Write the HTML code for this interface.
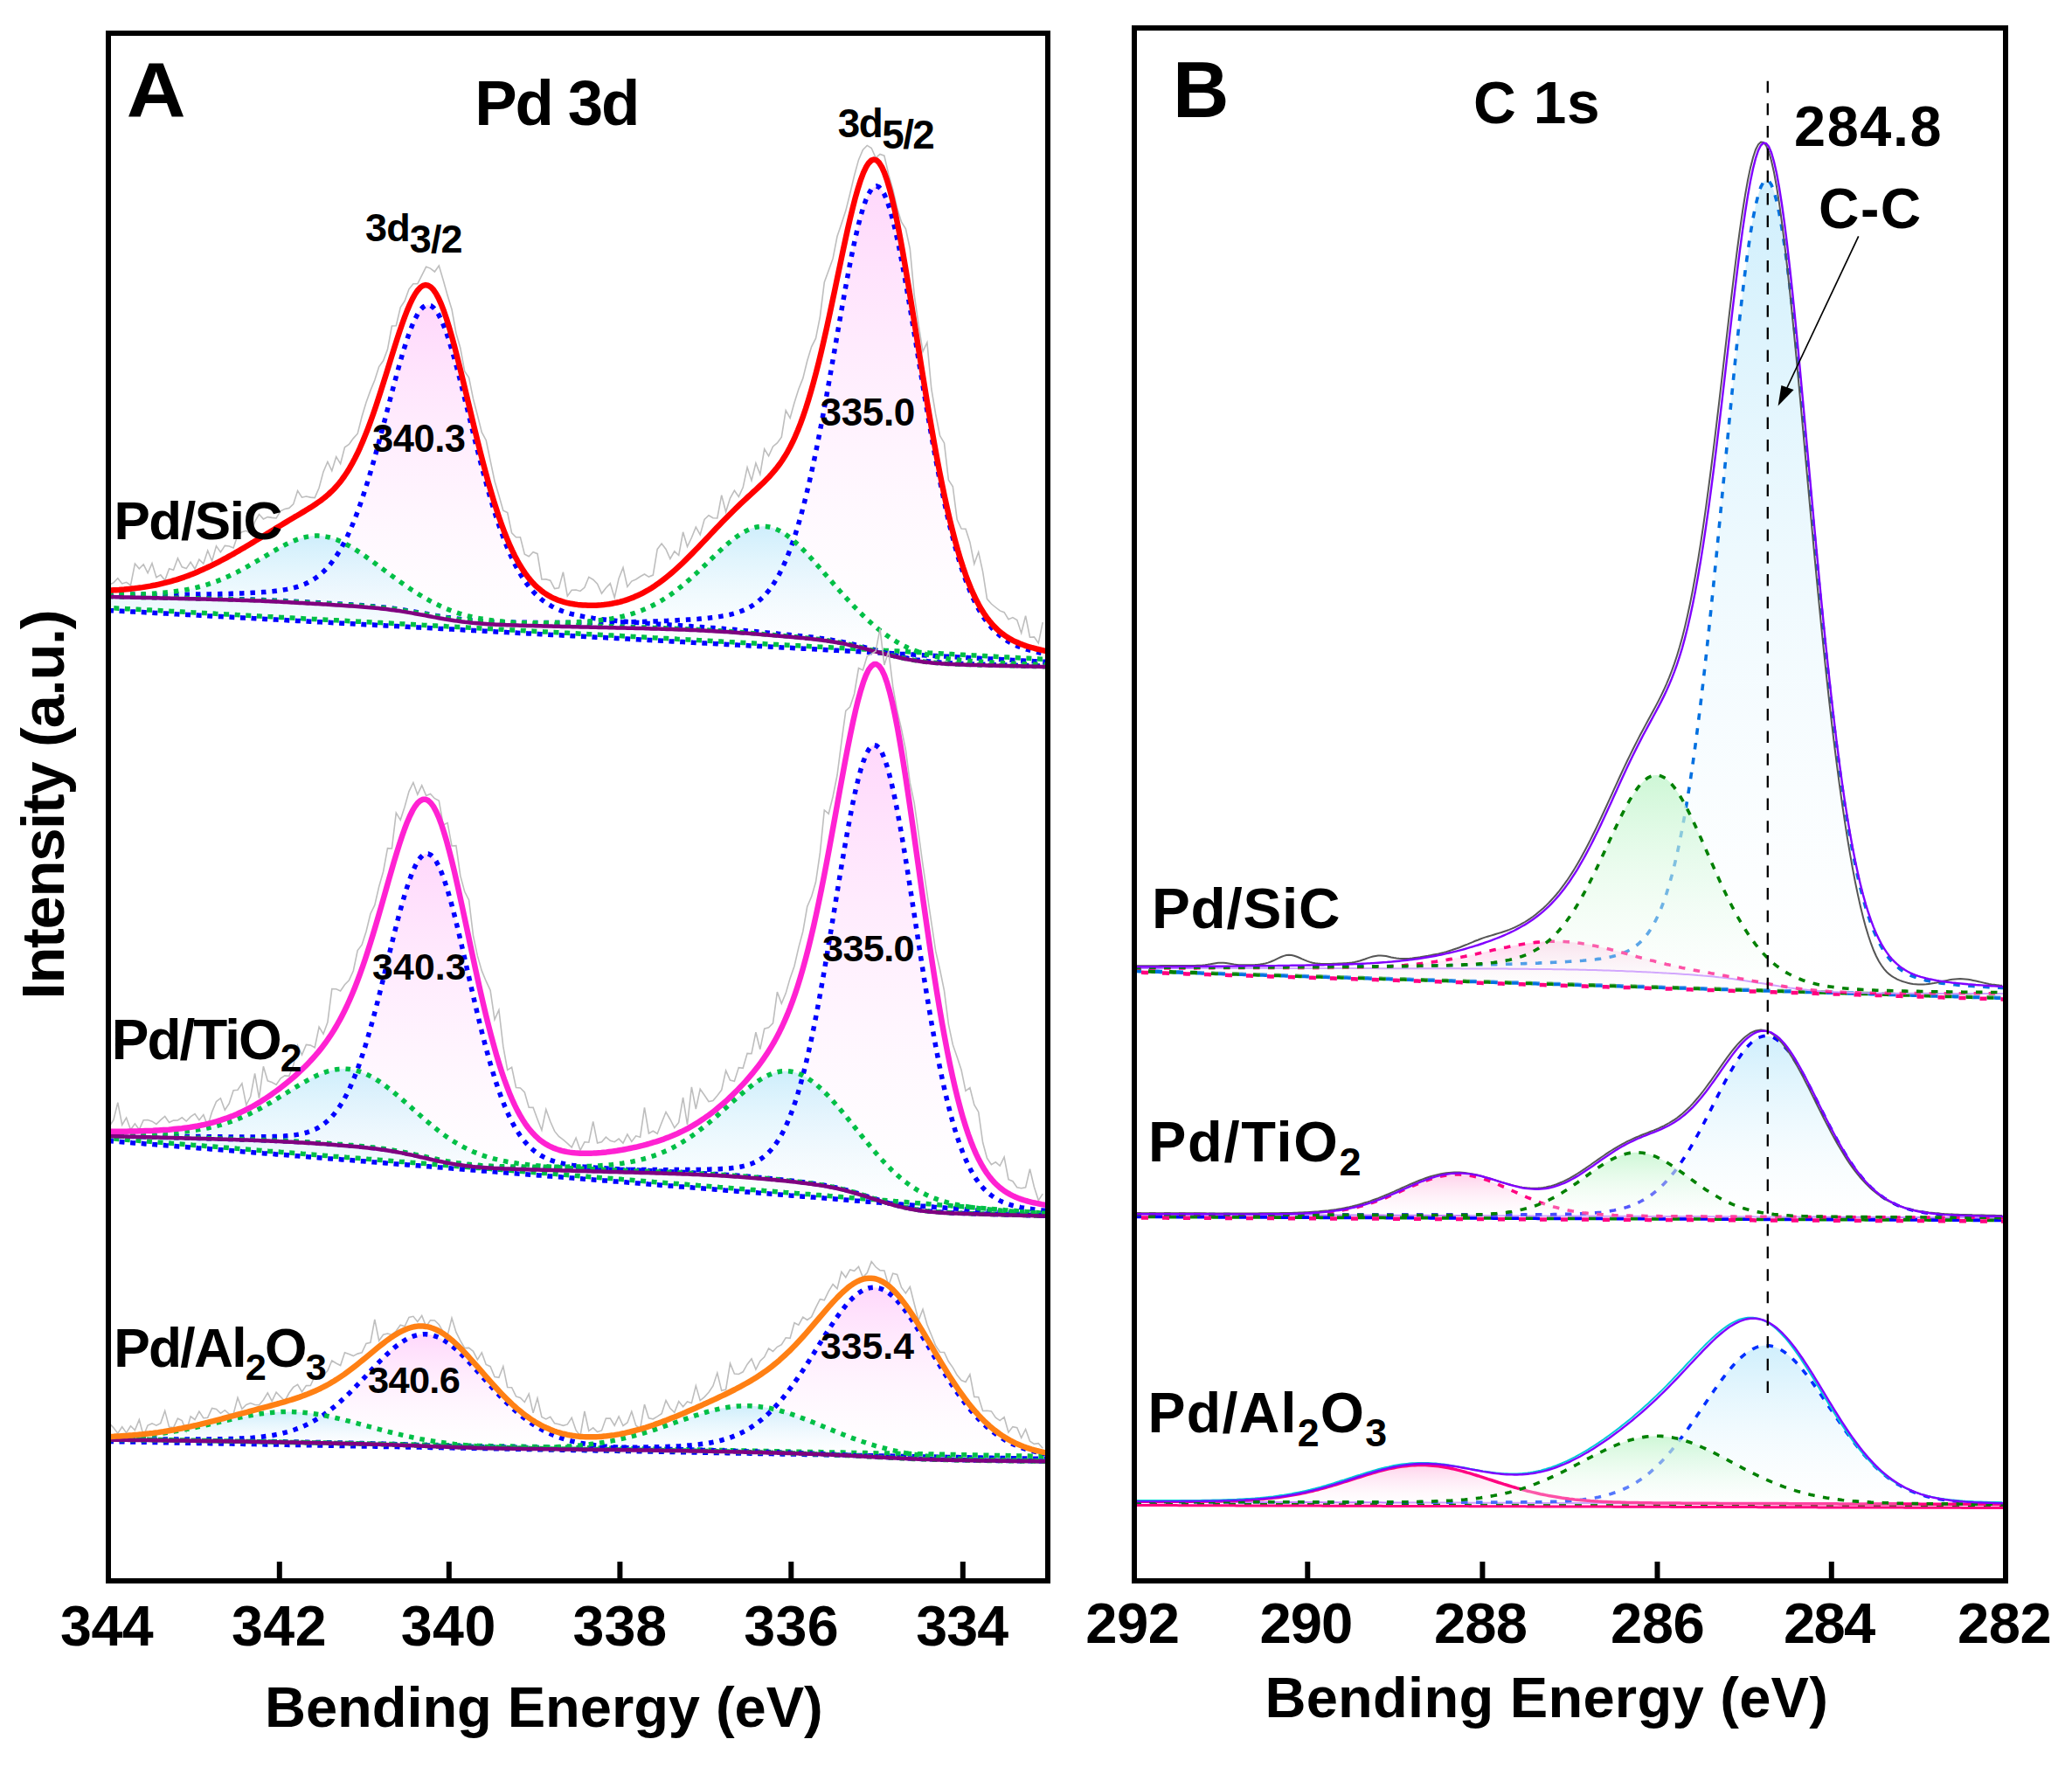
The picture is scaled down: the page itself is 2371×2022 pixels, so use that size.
<!DOCTYPE html><html><head><meta charset="utf-8"><style>html,body{margin:0;padding:0;background:#fff;}svg{display:block;}</style></head><body><svg width="2371" height="2022" viewBox="0 0 2371 2022" font-family="'Liberation Sans', Arial, Helvetica, sans-serif" font-weight="bold" fill="#000"><defs><linearGradient id="g1" gradientUnits="userSpaceOnUse" x1="0" y1="213.0" x2="0" y2="756.0"><stop offset="0" stop-color="#ffd6fb" stop-opacity="0.95"/><stop offset="1" stop-color="#ffffff" stop-opacity="0.30"/></linearGradient><linearGradient id="g2" gradientUnits="userSpaceOnUse" x1="0" y1="349.0" x2="0" y2="745.1"><stop offset="0" stop-color="#ffd6fb" stop-opacity="0.95"/><stop offset="1" stop-color="#ffffff" stop-opacity="0.30"/></linearGradient><linearGradient id="g3" gradientUnits="userSpaceOnUse" x1="0" y1="602.3" x2="0" y2="748.1"><stop offset="0" stop-color="#c6ebfb" stop-opacity="0.85"/><stop offset="1" stop-color="#ffffff" stop-opacity="0.30"/></linearGradient><linearGradient id="g4" gradientUnits="userSpaceOnUse" x1="0" y1="613.1" x2="0" y2="745.0"><stop offset="0" stop-color="#c6ebfb" stop-opacity="0.85"/><stop offset="1" stop-color="#ffffff" stop-opacity="0.30"/></linearGradient><linearGradient id="g5" gradientUnits="userSpaceOnUse" x1="0" y1="852.6" x2="0" y2="1390.0"><stop offset="0" stop-color="#ffd6fb" stop-opacity="0.95"/><stop offset="1" stop-color="#ffffff" stop-opacity="0.30"/></linearGradient><linearGradient id="g6" gradientUnits="userSpaceOnUse" x1="0" y1="977.0" x2="0" y2="1374.6"><stop offset="0" stop-color="#ffd6fb" stop-opacity="0.95"/><stop offset="1" stop-color="#ffffff" stop-opacity="0.30"/></linearGradient><linearGradient id="g7" gradientUnits="userSpaceOnUse" x1="0" y1="1225.7" x2="0" y2="1390.0"><stop offset="0" stop-color="#c6ebfb" stop-opacity="0.85"/><stop offset="1" stop-color="#ffffff" stop-opacity="0.30"/></linearGradient><linearGradient id="g8" gradientUnits="userSpaceOnUse" x1="0" y1="1223.1" x2="0" y2="1374.6"><stop offset="0" stop-color="#c6ebfb" stop-opacity="0.85"/><stop offset="1" stop-color="#ffffff" stop-opacity="0.30"/></linearGradient><linearGradient id="g9" gradientUnits="userSpaceOnUse" x1="0" y1="1473.2" x2="0" y2="1668.0"><stop offset="0" stop-color="#ffd6fb" stop-opacity="0.95"/><stop offset="1" stop-color="#ffffff" stop-opacity="0.30"/></linearGradient><linearGradient id="g10" gradientUnits="userSpaceOnUse" x1="0" y1="1526.8" x2="0" y2="1661.1"><stop offset="0" stop-color="#ffd6fb" stop-opacity="0.95"/><stop offset="1" stop-color="#ffffff" stop-opacity="0.30"/></linearGradient><linearGradient id="g11" gradientUnits="userSpaceOnUse" x1="0" y1="1608.8" x2="0" y2="1665.2"><stop offset="0" stop-color="#c6ebfb" stop-opacity="0.85"/><stop offset="1" stop-color="#ffffff" stop-opacity="0.30"/></linearGradient><linearGradient id="g12" gradientUnits="userSpaceOnUse" x1="0" y1="1615.5" x2="0" y2="1655.8"><stop offset="0" stop-color="#c6ebfb" stop-opacity="0.85"/><stop offset="1" stop-color="#ffffff" stop-opacity="0.30"/></linearGradient><linearGradient id="g13" gradientUnits="userSpaceOnUse" x1="0" y1="205.8" x2="0" y2="1141.0"><stop offset="0" stop-color="#cdeefc" stop-opacity="0.95"/><stop offset="1" stop-color="#ffffff" stop-opacity="0.30"/></linearGradient><linearGradient id="g14" gradientUnits="userSpaceOnUse" x1="0" y1="1077.2" x2="0" y2="1132.6"><stop offset="0" stop-color="#ffd0ea" stop-opacity="0.95"/><stop offset="1" stop-color="#ffffff" stop-opacity="0.30"/></linearGradient><linearGradient id="g15" gradientUnits="userSpaceOnUse" x1="0" y1="886.9" x2="0" y2="1141.0"><stop offset="0" stop-color="#c2f5cc" stop-opacity="0.80"/><stop offset="1" stop-color="#ffffff" stop-opacity="0.25"/></linearGradient><linearGradient id="g16" gradientUnits="userSpaceOnUse" x1="0" y1="1185.4" x2="0" y2="1395.0"><stop offset="0" stop-color="#cdeefc" stop-opacity="0.95"/><stop offset="1" stop-color="#ffffff" stop-opacity="0.30"/></linearGradient><linearGradient id="g17" gradientUnits="userSpaceOnUse" x1="0" y1="1344.0" x2="0" y2="1393.2"><stop offset="0" stop-color="#ffd0ea" stop-opacity="0.95"/><stop offset="1" stop-color="#ffffff" stop-opacity="0.30"/></linearGradient><linearGradient id="g18" gradientUnits="userSpaceOnUse" x1="0" y1="1318.8" x2="0" y2="1394.1"><stop offset="0" stop-color="#c2f5cc" stop-opacity="0.80"/><stop offset="1" stop-color="#ffffff" stop-opacity="0.25"/></linearGradient><linearGradient id="g19" gradientUnits="userSpaceOnUse" x1="0" y1="1539.7" x2="0" y2="1723.0"><stop offset="0" stop-color="#cdeefc" stop-opacity="0.95"/><stop offset="1" stop-color="#ffffff" stop-opacity="0.30"/></linearGradient><linearGradient id="g20" gradientUnits="userSpaceOnUse" x1="0" y1="1676.5" x2="0" y2="1721.7"><stop offset="0" stop-color="#ffd0ea" stop-opacity="0.95"/><stop offset="1" stop-color="#ffffff" stop-opacity="0.30"/></linearGradient><linearGradient id="g21" gradientUnits="userSpaceOnUse" x1="0" y1="1643.3" x2="0" y2="1722.6"><stop offset="0" stop-color="#c2f5cc" stop-opacity="0.80"/><stop offset="1" stop-color="#ffffff" stop-opacity="0.25"/></linearGradient><clipPath id="clipA"><rect x="127" y="41" width="1069" height="1765"/></clipPath><clipPath id="clipB"><rect x="1301" y="35" width="991" height="1771"/></clipPath></defs><rect width="2371" height="2022" fill="#fff"/><g clip-path="url(#clipA)">
<path d="M124,682.2 127,682.3 130,682.4 133,682.4 136,682.5 139,682.6 142,682.6 145,682.7 148,682.8 151,682.8 154,682.9 157,683 160,683 163,683.1 166,683.1 169,683.2 172,683.3 175,683.3 178,683.4 181,683.5 184,683.5 187,683.6 190,683.7 193,683.7 196,683.8 199,683.9 202,683.9 205,684 208,684 211,684.1 214,684.2 217,684.2 220,684.3 223,684.4 226,684.4 229,684.5 232,684.6 235,684.6 238,684.7 241,684.8 244,684.9 247,684.9 250,685 253,685.1 256,685.2 259,685.2 262,685.3 265,685.4 268,685.5 271,685.6 274,685.7 277,685.8 280,685.8 283,685.9 286,686 289,686.1 292,686.2 295,686.4 298,686.5 301,686.6 304,686.7 307,686.8 310,686.9 313,687.1 316,687.2 319,687.3 322,687.5 325,687.6 328,687.8 331,687.9 334,688.1 337,688.2 340,688.4 343,688.5 346,688.7 349,688.8 352,689 355,689.2 358,689.3 361,689.5 364,689.7 367,689.8 370,690 373,690.2 376,690.4 379,690.5 382,690.7 385,690.9 388,691 391,691.2 394,691.4 397,691.6 400,691.8 403,692 406,692.2 409,692.4 412,692.6 415,692.8 418,693 421,693.2 424,693.5 427,693.7 430,694 433,694.3 436,694.6 439,694.9 442,695.3 445,695.6 448,696 451,696.4 454,696.8 457,697.2 460,697.6 463,698.1 466,698.6 469,699.1 472,699.6 475,700.1 478,700.6 481,701.1 484,701.7 487,702.2 490,702.8 493,703.3 496,703.8 499,704.4 502,704.9 505,705.4 508,705.9 511,706.4 514,706.8 517,707.3 520,707.7 523,708.1 526,708.5 529,708.9 532,709.2 535,709.5 538,709.8 541,710.1 544,710.3 547,710.5 550,710.8 553,710.9 556,711.1 559,711.3 562,711.4 565,711.5 568,711.7 571,711.8 574,711.9 577,711.9 580,712 583,712.1 586,712.1 589,712.2 592,712.2 595,712.3 598,712.3 601,712.3 604,712.4 607,712.4 610,712.4 613,712.4 616,712.5 619,712.5 622,712.5 625,712.5 628,712.5 631,712.5 634,712.5 637,712.5 640,712.5 643,712.5 646,712.5 649,712.5 652,712.5 655,712.5 658,712.5 661,712.5 664,712.5 667,712.5 670,712.4 673,712.4 676,712.4 679,712.4 682,712.4 685,712.3 688,712.3 691,712.3 694,712.2 697,712.2 700,712.1 703,712.1 706,712 709,712 712,711.9 715,711.9 718,711.8 721,711.7 724,711.7 727,711.6 730,711.5 733,711.4 736,711.4 739,711.3 742,711.2 745,711.1 748,711 751,710.9 754,710.7 757,710.6 760,710.5 763,710.4 766,710.2 769,710.1 772,710 775,709.8 778,709.6 781,709.5 784,709.3 787,709.1 790,708.9 793,708.7 796,708.5 799,708.3 802,708 805,707.7 808,707.5 811,707.2 814,706.8 817,706.5 820,706.1 823,705.6 826,705.1 829,704.6 832,704 835,703.4 838,702.6 841,701.8 844,700.9 847,699.8 850,698.6 853,697.3 856,695.8 859,694.2 862,692.3 865,690.2 868,687.9 871,685.2 874,682.3 877,679 880,675.4 883,671.3 886,666.8 889,661.9 892,656.5 895,650.5 898,644 901,636.9 904,629.2 907,620.8 910,611.8 913,602.1 916,591.7 919,580.7 922,568.9 925,556.4 928,543.3 931,529.5 934,515 937,500 940,484.5 943,468.4 946,451.9 949,435.1 952,418 955,400.7 958,383.3 961,366.1 964,349 967,332.2 970,315.9 973,300.2 976,285.3 979,271.3 982,258.5 985,246.9 988,236.9 991,228.4 994,221.7 997,216.8 1000,213.9 1003,213 1006,214.2 1009,217.4 1012,222.5 1015,229.6 1018,238.5 1021,249.1 1024,261.1 1027,274.6 1030,289.2 1033,304.8 1036,321.3 1039,338.5 1042,356.1 1045,374.1 1048,392.4 1051,410.7 1054,428.9 1057,447 1060,464.9 1063,482.4 1066,499.4 1069,516 1072,532 1075,547.5 1078,562.2 1081,576.3 1084,589.8 1087,602.5 1090,614.4 1093,625.7 1096,636.3 1099,646.1 1102,655.3 1105,663.8 1108,671.6 1111,678.9 1114,685.6 1117,691.7 1120,697.3 1123,702.4 1126,707.1 1129,711.3 1132,715.1 1135,718.6 1138,721.8 1141,724.6 1144,727.2 1147,729.5 1150,731.6 1153,733.6 1156,735.3 1159,736.8 1162,738.3 1165,739.6 1168,740.7 1171,741.8 1174,742.8 1177,743.7 1180,744.5 1183,745.3 1186,746 1189,746.7 1192,747.3 1195,747.9 1198,748.5 1198,756 1195,755.8 1192,755.7 1189,755.5 1186,755.3 1183,755.2 1180,755 1177,754.8 1174,754.7 1171,754.5 1168,754.4 1165,754.2 1162,754 1159,753.9 1156,753.7 1153,753.5 1150,753.4 1147,753.2 1144,753 1141,752.9 1138,752.7 1135,752.5 1132,752.4 1129,752.2 1126,752 1123,751.9 1120,751.7 1117,751.6 1114,751.4 1111,751.2 1108,751.1 1105,750.9 1102,750.7 1099,750.6 1096,750.4 1093,750.2 1090,750.1 1087,749.9 1084,749.7 1081,749.6 1078,749.4 1075,749.2 1072,749.1 1069,748.9 1066,748.7 1063,748.6 1060,748.4 1057,748.3 1054,748.1 1051,747.9 1048,747.8 1045,747.6 1042,747.4 1039,747.3 1036,747.1 1033,746.9 1030,746.8 1027,746.6 1024,746.4 1021,746.3 1018,746.1 1015,745.9 1012,745.8 1009,745.6 1006,745.5 1003,745.3 1000,745.1 997,745 994,744.8 991,744.6 988,744.5 985,744.3 982,744.1 979,744 976,743.8 973,743.6 970,743.5 967,743.3 964,743.1 961,743 958,742.8 955,742.7 952,742.5 949,742.3 946,742.2 943,742 940,741.8 937,741.7 934,741.5 931,741.3 928,741.2 925,741 922,740.8 919,740.7 916,740.5 913,740.3 910,740.2 907,740 904,739.8 901,739.7 898,739.5 895,739.4 892,739.2 889,739 886,738.9 883,738.7 880,738.5 877,738.4 874,738.2 871,738 868,737.9 865,737.7 862,737.5 859,737.4 856,737.2 853,737 850,736.9 847,736.7 844,736.6 841,736.4 838,736.2 835,736.1 832,735.9 829,735.7 826,735.6 823,735.4 820,735.2 817,735.1 814,734.9 811,734.7 808,734.6 805,734.4 802,734.2 799,734.1 796,733.9 793,733.8 790,733.6 787,733.4 784,733.3 781,733.1 778,732.9 775,732.8 772,732.6 769,732.4 766,732.3 763,732.1 760,731.9 757,731.8 754,731.6 751,731.4 748,731.3 745,731.1 742,730.9 739,730.8 736,730.6 733,730.5 730,730.3 727,730.1 724,730 721,729.8 718,729.6 715,729.5 712,729.3 709,729.1 706,729 703,728.8 700,728.6 697,728.5 694,728.3 691,728.1 688,728 685,727.8 682,727.7 679,727.5 676,727.3 673,727.2 670,727 667,726.8 664,726.7 661,726.5 658,726.3 655,726.2 652,726 649,725.8 646,725.7 643,725.5 640,725.3 637,725.2 634,725 631,724.9 628,724.7 625,724.5 622,724.4 619,724.2 616,724 613,723.9 610,723.7 607,723.5 604,723.4 601,723.2 598,723 595,722.9 592,722.7 589,722.5 586,722.4 583,722.2 580,722.1 577,721.9 574,721.7 571,721.6 568,721.4 565,721.2 562,721.1 559,720.9 556,720.7 553,720.6 550,720.4 547,720.2 544,720.1 541,719.9 538,719.7 535,719.6 532,719.4 529,719.2 526,719.1 523,718.9 520,718.8 517,718.6 514,718.4 511,718.3 508,718.1 505,717.9 502,717.8 499,717.6 496,717.4 493,717.3 490,717.1 487,716.9 484,716.8 481,716.6 478,716.4 475,716.3 472,716.1 469,716 466,715.8 463,715.6 460,715.5 457,715.3 454,715.1 451,715 448,714.8 445,714.6 442,714.5 439,714.3 436,714.1 433,714 430,713.8 427,713.6 424,713.5 421,713.3 418,713.2 415,713 412,712.8 409,712.7 406,712.5 403,712.3 400,712.2 397,712 394,711.8 391,711.7 388,711.5 385,711.3 382,711.2 379,711 376,710.8 373,710.7 370,710.5 367,710.3 364,710.2 361,710 358,709.9 355,709.7 352,709.5 349,709.4 346,709.2 343,709 340,708.9 337,708.7 334,708.5 331,708.4 328,708.2 325,708 322,707.9 319,707.7 316,707.5 313,707.4 310,707.2 307,707.1 304,706.9 301,706.7 298,706.6 295,706.4 292,706.2 289,706.1 286,705.9 283,705.7 280,705.6 277,705.4 274,705.2 271,705.1 268,704.9 265,704.7 262,704.6 259,704.4 256,704.3 253,704.1 250,703.9 247,703.8 244,703.6 241,703.4 238,703.3 235,703.1 232,702.9 229,702.8 226,702.6 223,702.4 220,702.3 217,702.1 214,701.9 211,701.8 208,701.6 205,701.4 202,701.3 199,701.1 196,701 193,700.8 190,700.6 187,700.5 184,700.3 181,700.1 178,700 175,699.8 172,699.6 169,699.5 166,699.3 163,699.1 160,699 157,698.8 154,698.6 151,698.5 148,698.3 145,698.2 142,698 139,697.8 136,697.7 133,697.5 130,697.3 127,697.2 124,697Z" fill="url(#g1)" stroke="none"/>
<path d="M124,680.2 127,680.2 130,680.2 133,680.2 136,680.3 139,680.3 142,680.3 145,680.3 148,680.3 151,680.3 154,680.3 157,680.4 160,680.4 163,680.4 166,680.4 169,680.4 172,680.4 175,680.4 178,680.4 181,680.4 184,680.4 187,680.4 190,680.4 193,680.4 196,680.4 199,680.3 202,680.3 205,680.3 208,680.3 211,680.3 214,680.2 217,680.2 220,680.2 223,680.1 226,680.1 229,680.1 232,680 235,680 238,679.9 241,679.9 244,679.8 247,679.7 250,679.7 253,679.6 256,679.5 259,679.5 262,679.4 265,679.3 268,679.2 271,679.1 274,679 277,678.9 280,678.8 283,678.6 286,678.5 289,678.3 292,678.2 295,678 298,677.8 301,677.6 304,677.4 307,677.1 310,676.9 313,676.6 316,676.2 319,675.8 322,675.4 325,674.9 328,674.4 331,673.8 334,673.1 337,672.3 340,671.5 343,670.5 346,669.4 349,668.2 352,666.8 355,665.2 358,663.5 361,661.5 364,659.4 367,656.9 370,654.3 373,651.3 376,648 379,644.4 382,640.4 385,636.1 388,631.4 391,626.2 394,620.7 397,614.7 400,608.2 403,601.3 406,593.9 409,586.1 412,577.8 415,569 418,559.8 421,550.2 424,540.2 427,529.8 430,519.1 433,508.1 436,496.9 439,485.5 442,474 445,462.4 448,450.9 451,439.5 454,428.4 457,417.5 460,407 463,397.1 466,387.8 469,379.2 472,371.6 475,364.9 478,359.2 481,354.7 484,351.5 487,349.6 490,349 493,349.8 496,352 499,355.5 502,360.2 505,366.2 508,373.3 511,381.3 514,390.3 517,400.1 520,410.6 523,421.6 526,433.1 529,444.9 532,457 535,469.2 538,481.4 541,493.6 544,505.8 547,517.7 550,529.4 553,540.8 556,551.9 559,562.7 562,573 565,582.9 568,592.3 571,601.3 574,609.8 577,617.8 580,625.4 583,632.5 586,639.1 589,645.2 592,650.9 595,656.2 598,661.1 601,665.5 604,669.6 607,673.4 610,676.8 613,680 616,682.8 619,685.4 622,687.8 625,689.9 628,691.8 631,693.6 634,695.2 637,696.6 640,697.9 643,699.1 646,700.1 649,701.1 652,702 655,702.8 658,703.5 661,704.2 664,704.8 667,705.4 670,706 673,706.5 676,706.9 679,707.4 682,707.8 685,708.2 688,708.6 691,708.9 694,709.3 697,709.6 700,709.9 703,710.2 706,710.5 709,710.8 712,711 715,711.3 718,711.6 721,711.8 724,712.1 727,712.3 730,712.5 733,712.7 736,713 739,713.2 742,713.4 745,713.6 748,713.8 751,714 754,714.2 757,714.4 760,714.6 763,714.8 766,715 769,715.2 772,715.4 775,715.6 778,715.8 781,716 784,716.2 787,716.4 790,716.6 793,716.9 796,717.1 799,717.3 802,717.5 805,717.7 808,717.9 811,718.2 814,718.4 817,718.6 820,718.8 823,719.1 826,719.3 829,719.6 832,719.8 835,720.1 838,720.3 841,720.6 844,720.9 847,721.1 850,721.4 853,721.7 856,722 859,722.2 862,722.5 865,722.8 868,723.1 871,723.4 874,723.7 877,723.9 880,724.2 883,724.5 886,724.8 889,725.1 892,725.4 895,725.7 898,726 901,726.2 904,726.5 907,726.8 910,727.1 913,727.4 916,727.7 919,728 922,728.4 925,728.7 928,729 931,729.4 934,729.8 937,730.1 940,730.6 943,731 946,731.4 949,731.9 952,732.4 955,732.9 958,733.4 961,734 964,734.6 967,735.2 970,735.9 973,736.6 976,737.3 979,738 982,738.7 985,739.5 988,740.3 991,741.1 994,741.9 997,742.8 1000,743.6 1000,745.1 997,745 994,744.8 991,744.6 988,744.5 985,744.3 982,744.1 979,744 976,743.8 973,743.6 970,743.5 967,743.3 964,743.1 961,743 958,742.8 955,742.7 952,742.5 949,742.3 946,742.2 943,742 940,741.8 937,741.7 934,741.5 931,741.3 928,741.2 925,741 922,740.8 919,740.7 916,740.5 913,740.3 910,740.2 907,740 904,739.8 901,739.7 898,739.5 895,739.4 892,739.2 889,739 886,738.9 883,738.7 880,738.5 877,738.4 874,738.2 871,738 868,737.9 865,737.7 862,737.5 859,737.4 856,737.2 853,737 850,736.9 847,736.7 844,736.6 841,736.4 838,736.2 835,736.1 832,735.9 829,735.7 826,735.6 823,735.4 820,735.2 817,735.1 814,734.9 811,734.7 808,734.6 805,734.4 802,734.2 799,734.1 796,733.9 793,733.8 790,733.6 787,733.4 784,733.3 781,733.1 778,732.9 775,732.8 772,732.6 769,732.4 766,732.3 763,732.1 760,731.9 757,731.8 754,731.6 751,731.4 748,731.3 745,731.1 742,730.9 739,730.8 736,730.6 733,730.5 730,730.3 727,730.1 724,730 721,729.8 718,729.6 715,729.5 712,729.3 709,729.1 706,729 703,728.8 700,728.6 697,728.5 694,728.3 691,728.1 688,728 685,727.8 682,727.7 679,727.5 676,727.3 673,727.2 670,727 667,726.8 664,726.7 661,726.5 658,726.3 655,726.2 652,726 649,725.8 646,725.7 643,725.5 640,725.3 637,725.2 634,725 631,724.9 628,724.7 625,724.5 622,724.4 619,724.2 616,724 613,723.9 610,723.7 607,723.5 604,723.4 601,723.2 598,723 595,722.9 592,722.7 589,722.5 586,722.4 583,722.2 580,722.1 577,721.9 574,721.7 571,721.6 568,721.4 565,721.2 562,721.1 559,720.9 556,720.7 553,720.6 550,720.4 547,720.2 544,720.1 541,719.9 538,719.7 535,719.6 532,719.4 529,719.2 526,719.1 523,718.9 520,718.8 517,718.6 514,718.4 511,718.3 508,718.1 505,717.9 502,717.8 499,717.6 496,717.4 493,717.3 490,717.1 487,716.9 484,716.8 481,716.6 478,716.4 475,716.3 472,716.1 469,716 466,715.8 463,715.6 460,715.5 457,715.3 454,715.1 451,715 448,714.8 445,714.6 442,714.5 439,714.3 436,714.1 433,714 430,713.8 427,713.6 424,713.5 421,713.3 418,713.2 415,713 412,712.8 409,712.7 406,712.5 403,712.3 400,712.2 397,712 394,711.8 391,711.7 388,711.5 385,711.3 382,711.2 379,711 376,710.8 373,710.7 370,710.5 367,710.3 364,710.2 361,710 358,709.9 355,709.7 352,709.5 349,709.4 346,709.2 343,709 340,708.9 337,708.7 334,708.5 331,708.4 328,708.2 325,708 322,707.9 319,707.7 316,707.5 313,707.4 310,707.2 307,707.1 304,706.9 301,706.7 298,706.6 295,706.4 292,706.2 289,706.1 286,705.9 283,705.7 280,705.6 277,705.4 274,705.2 271,705.1 268,704.9 265,704.7 262,704.6 259,704.4 256,704.3 253,704.1 250,703.9 247,703.8 244,703.6 241,703.4 238,703.3 235,703.1 232,702.9 229,702.8 226,702.6 223,702.4 220,702.3 217,702.1 214,701.9 211,701.8 208,701.6 205,701.4 202,701.3 199,701.1 196,701 193,700.8 190,700.6 187,700.5 184,700.3 181,700.1 178,700 175,699.8 172,699.6 169,699.5 166,699.3 163,699.1 160,699 157,698.8 154,698.6 151,698.5 148,698.3 145,698.2 142,698 139,697.8 136,697.7 133,697.5 130,697.3 127,697.2 124,697Z" fill="url(#g2)" stroke="none"/>
<path d="M124,682.6 127,682.6 130,682.7 133,682.8 136,682.8 139,682.9 142,683 145,683 148,683.1 151,683.2 154,683.2 157,683.3 160,683.4 163,683.4 166,683.5 169,683.5 172,683.6 175,683.7 178,683.7 181,683.8 184,683.9 187,683.9 190,684 193,684.1 196,684.1 199,684.2 202,684.3 205,684.3 208,684.4 211,684.5 214,684.5 217,684.6 220,684.7 223,684.7 226,684.8 229,684.9 232,685 235,685 238,685.1 241,685.2 244,685.2 247,685.3 250,685.4 253,685.5 256,685.6 259,685.6 262,685.7 265,685.8 268,685.9 271,686 274,686.1 277,686.2 280,686.3 283,686.4 286,686.5 289,686.6 292,686.7 295,686.8 298,686.9 301,687 304,687.1 307,687.3 310,687.4 313,687.5 316,687.6 319,687.8 322,687.9 325,688.1 328,688.2 331,688.4 334,688.5 337,688.7 340,688.8 343,689 346,689.2 349,689.3 352,689.5 355,689.6 358,689.8 361,690 364,690.2 367,690.3 370,690.5 373,690.7 376,690.8 379,691 382,691.2 385,691.4 388,691.5 391,691.7 394,691.9 397,692.1 400,692.3 403,692.5 406,692.7 409,692.9 412,693.1 415,693.3 418,693.5 421,693.8 424,694 427,694.3 430,694.5 433,694.8 436,695.1 439,695.5 442,695.8 445,696.1 448,696.5 451,696.9 454,697.3 457,697.7 460,698.2 463,698.7 466,699.1 469,699.6 472,700.1 475,700.7 478,701.2 481,701.7 484,702.3 487,702.8 490,703.3 493,703.9 496,704.4 499,705 502,705.5 505,706 508,706.5 511,707 514,707.4 517,707.9 520,708.3 523,708.7 526,709.1 529,709.4 532,709.8 535,710.1 538,710.4 541,710.6 544,710.9 547,711.1 550,711.3 553,711.5 556,711.7 559,711.8 562,712 565,712.1 568,712.2 571,712.3 574,712.4 577,712.5 580,712.5 583,712.6 586,712.6 589,712.7 592,712.7 595,712.7 598,712.8 601,712.8 604,712.8 607,712.8 610,712.8 613,712.8 616,712.8 619,712.8 622,712.8 625,712.7 628,712.7 631,712.7 634,712.6 637,712.6 640,712.5 643,712.4 646,712.4 649,712.3 652,712.2 655,712.1 658,711.9 661,711.8 664,711.6 667,711.5 670,711.3 673,711.1 676,710.8 679,710.6 682,710.3 685,710 688,709.6 691,709.2 694,708.8 697,708.4 700,707.9 703,707.3 706,706.8 709,706.1 712,705.5 715,704.7 718,703.9 721,703.1 724,702.2 727,701.2 730,700.1 733,699 736,697.8 739,696.5 742,695.2 745,693.8 748,692.2 751,690.6 754,689 757,687.2 760,685.3 763,683.4 766,681.4 769,679.3 772,677.1 775,674.8 778,672.4 781,670 784,667.5 787,664.9 790,662.2 793,659.5 796,656.8 799,654 802,651.2 805,648.3 808,645.4 811,642.5 814,639.6 817,636.7 820,633.9 823,631 826,628.3 829,625.6 832,622.9 835,620.4 838,617.9 841,615.6 844,613.4 847,611.4 850,609.5 853,607.9 856,606.4 859,605.1 862,604.1 865,603.3 868,602.7 871,602.4 874,602.3 877,602.5 880,603 883,603.7 886,604.7 889,605.9 892,607.4 895,609 898,610.9 901,613 904,615.3 907,617.8 910,620.4 913,623.1 916,626 919,629 922,632.1 925,635.3 928,638.6 931,641.9 934,645.3 937,648.7 940,652.1 943,655.6 946,659 949,662.5 952,665.9 955,669.4 958,672.8 961,676.2 964,679.6 967,682.9 970,686.2 973,689.4 976,692.6 979,695.7 982,698.8 985,701.8 988,704.7 991,707.5 994,710.3 997,713 1000,715.6 1003,718.1 1006,720.6 1009,722.9 1012,725.2 1015,727.3 1018,729.4 1021,731.4 1024,733.2 1027,735 1030,736.7 1033,738.3 1036,739.8 1039,741.2 1042,742.5 1045,743.8 1048,744.9 1051,746 1054,747 1054,748.1 1051,747.9 1048,747.8 1045,747.6 1042,747.4 1039,747.3 1036,747.1 1033,746.9 1030,746.8 1027,746.6 1024,746.4 1021,746.3 1018,746.1 1015,745.9 1012,745.8 1009,745.6 1006,745.5 1003,745.3 1000,745.1 997,745 994,744.8 991,744.6 988,744.5 985,744.3 982,744.1 979,744 976,743.8 973,743.6 970,743.5 967,743.3 964,743.1 961,743 958,742.8 955,742.7 952,742.5 949,742.3 946,742.2 943,742 940,741.8 937,741.7 934,741.5 931,741.3 928,741.2 925,741 922,740.8 919,740.7 916,740.5 913,740.3 910,740.2 907,740 904,739.8 901,739.7 898,739.5 895,739.4 892,739.2 889,739 886,738.9 883,738.7 880,738.5 877,738.4 874,738.2 871,738 868,737.9 865,737.7 862,737.5 859,737.4 856,737.2 853,737 850,736.9 847,736.7 844,736.6 841,736.4 838,736.2 835,736.1 832,735.9 829,735.7 826,735.6 823,735.4 820,735.2 817,735.1 814,734.9 811,734.7 808,734.6 805,734.4 802,734.2 799,734.1 796,733.9 793,733.8 790,733.6 787,733.4 784,733.3 781,733.1 778,732.9 775,732.8 772,732.6 769,732.4 766,732.3 763,732.1 760,731.9 757,731.8 754,731.6 751,731.4 748,731.3 745,731.1 742,730.9 739,730.8 736,730.6 733,730.5 730,730.3 727,730.1 724,730 721,729.8 718,729.6 715,729.5 712,729.3 709,729.1 706,729 703,728.8 700,728.6 697,728.5 694,728.3 691,728.1 688,728 685,727.8 682,727.7 679,727.5 676,727.3 673,727.2 670,727 667,726.8 664,726.7 661,726.5 658,726.3 655,726.2 652,726 649,725.8 646,725.7 643,725.5 640,725.3 637,725.2 634,725 631,724.9 628,724.7 625,724.5 622,724.4 619,724.2 616,724 613,723.9 610,723.7 607,723.5 604,723.4 601,723.2 598,723 595,722.9 592,722.7 589,722.5 586,722.4 583,722.2 580,722.1 577,721.9 574,721.7 571,721.6 568,721.4 565,721.2 562,721.1 559,720.9 556,720.7 553,720.6 550,720.4 547,720.2 544,720.1 541,719.9 538,719.7 535,719.6 532,719.4 529,719.2 526,719.1 523,718.9 520,718.8 517,718.6 514,718.4 511,718.3 508,718.1 505,717.9 502,717.8 499,717.6 496,717.4 493,717.3 490,717.1 487,716.9 484,716.8 481,716.6 478,716.4 475,716.3 472,716.1 469,716 466,715.8 463,715.6 460,715.5 457,715.3 454,715.1 451,715 448,714.8 445,714.6 442,714.5 439,714.3 436,714.1 433,714 430,713.8 427,713.6 424,713.5 421,713.3 418,713.2 415,713 412,712.8 409,712.7 406,712.5 403,712.3 400,712.2 397,712 394,711.8 391,711.7 388,711.5 385,711.3 382,711.2 379,711 376,710.8 373,710.7 370,710.5 367,710.3 364,710.2 361,710 358,709.9 355,709.7 352,709.5 349,709.4 346,709.2 343,709 340,708.9 337,708.7 334,708.5 331,708.4 328,708.2 325,708 322,707.9 319,707.7 316,707.5 313,707.4 310,707.2 307,707.1 304,706.9 301,706.7 298,706.6 295,706.4 292,706.2 289,706.1 286,705.9 283,705.7 280,705.6 277,705.4 274,705.2 271,705.1 268,704.9 265,704.7 262,704.6 259,704.4 256,704.3 253,704.1 250,703.9 247,703.8 244,703.6 241,703.4 238,703.3 235,703.1 232,702.9 229,702.8 226,702.6 223,702.4 220,702.3 217,702.1 214,701.9 211,701.8 208,701.6 205,701.4 202,701.3 199,701.1 196,701 193,700.8 190,700.6 187,700.5 184,700.3 181,700.1 178,700 175,699.8 172,699.6 169,699.5 166,699.3 163,699.1 160,699 157,698.8 154,698.6 151,698.5 148,698.3 145,698.2 142,698 139,697.8 136,697.7 133,697.5 130,697.3 127,697.2 124,697Z" fill="url(#g3)" stroke="none"/>
<path d="M124,680.4 127,680.4 130,680.4 133,680.4 136,680.4 139,680.3 142,680.3 145,680.3 148,680.2 151,680.1 154,680.1 157,680 160,679.9 163,679.8 166,679.7 169,679.5 172,679.4 175,679.2 178,679 181,678.8 184,678.6 187,678.3 190,678 193,677.7 196,677.4 199,677 202,676.6 205,676.2 208,675.7 211,675.2 214,674.6 217,674 220,673.4 223,672.7 226,672 229,671.2 232,670.4 235,669.5 238,668.6 241,667.6 244,666.6 247,665.5 250,664.4 253,663.2 256,661.9 259,660.6 262,659.2 265,657.8 268,656.4 271,654.9 274,653.3 277,651.7 280,650.1 283,648.4 286,646.7 289,645 292,643.2 295,641.4 298,639.7 301,637.9 304,636.1 307,634.3 310,632.5 313,630.7 316,629 319,627.3 322,625.7 325,624.1 328,622.6 331,621.2 334,619.8 337,618.6 340,617.4 343,616.4 346,615.5 349,614.7 352,614.1 355,613.6 358,613.3 361,613.1 364,613.1 367,613.3 370,613.6 373,614.1 376,614.7 379,615.5 382,616.5 385,617.5 388,618.8 391,620.1 394,621.6 397,623.2 400,624.8 403,626.6 406,628.5 409,630.4 412,632.4 415,634.4 418,636.5 421,638.7 424,640.8 427,643 430,645.2 433,647.5 436,649.7 439,651.9 442,654.2 445,656.4 448,658.6 451,660.8 454,663 457,665.1 460,667.3 463,669.4 466,671.4 469,673.5 472,675.5 475,677.4 478,679.3 481,681.2 484,683 487,684.7 490,686.4 493,688.1 496,689.7 499,691.2 502,692.6 505,694 508,695.4 511,696.7 514,697.9 517,699 520,700.1 523,701.1 526,702.1 529,703 532,703.9 535,704.7 538,705.4 541,706.1 544,706.8 547,707.4 550,707.9 553,708.4 556,708.9 559,709.4 562,709.8 565,710.2 568,710.5 571,710.8 574,711.1 577,711.4 580,711.7 583,711.9 586,712.2 589,712.4 592,712.6 595,712.8 598,713 601,713.1 604,713.3 607,713.4 610,713.6 613,713.7 616,713.9 619,714 622,714.2 625,714.3 628,714.4 631,714.5 634,714.6 637,714.8 640,714.9 643,715 646,715.1 649,715.2 652,715.3 655,715.4 658,715.5 661,715.6 664,715.7 667,715.8 670,715.9 673,716 676,716.1 679,716.2 682,716.3 685,716.4 688,716.5 691,716.6 694,716.7 697,716.8 700,716.9 703,717 706,717.1 709,717.2 712,717.3 715,717.4 718,717.5 721,717.6 724,717.7 727,717.7 730,717.8 733,717.9 736,718 739,718.1 742,718.2 745,718.3 748,718.4 751,718.5 754,718.6 757,718.7 760,718.8 763,718.9 766,719 769,719.2 772,719.3 775,719.4 778,719.5 781,719.6 784,719.7 787,719.9 790,720 793,720.2 796,720.3 799,720.4 802,720.6 805,720.7 808,720.9 811,721.1 814,721.2 817,721.4 820,721.6 823,721.8 826,722 829,722.2 832,722.4 835,722.6 838,722.8 841,723 844,723.3 847,723.5 850,723.7 853,724 856,724.2 859,724.4 862,724.7 865,724.9 868,725.2 871,725.4 874,725.7 877,725.9 880,726.2 883,726.4 886,726.7 889,727 892,727.2 895,727.5 898,727.7 901,728 904,728.3 907,728.5 910,728.8 913,729.1 916,729.4 919,729.6 922,729.9 925,730.2 928,730.6 931,730.9 934,731.2 937,731.6 940,732 943,732.4 946,732.8 949,733.3 952,733.7 955,734.2 958,734.8 961,735.3 964,735.9 967,736.5 970,737.1 973,737.8 976,738.5 979,739.2 982,739.9 985,740.7 988,741.5 991,742.3 994,743.1 997,743.9 997,745 994,744.8 991,744.6 988,744.5 985,744.3 982,744.1 979,744 976,743.8 973,743.6 970,743.5 967,743.3 964,743.1 961,743 958,742.8 955,742.7 952,742.5 949,742.3 946,742.2 943,742 940,741.8 937,741.7 934,741.5 931,741.3 928,741.2 925,741 922,740.8 919,740.7 916,740.5 913,740.3 910,740.2 907,740 904,739.8 901,739.7 898,739.5 895,739.4 892,739.2 889,739 886,738.9 883,738.7 880,738.5 877,738.4 874,738.2 871,738 868,737.9 865,737.7 862,737.5 859,737.4 856,737.2 853,737 850,736.9 847,736.7 844,736.6 841,736.4 838,736.2 835,736.1 832,735.9 829,735.7 826,735.6 823,735.4 820,735.2 817,735.1 814,734.9 811,734.7 808,734.6 805,734.4 802,734.2 799,734.1 796,733.9 793,733.8 790,733.6 787,733.4 784,733.3 781,733.1 778,732.9 775,732.8 772,732.6 769,732.4 766,732.3 763,732.1 760,731.9 757,731.8 754,731.6 751,731.4 748,731.3 745,731.1 742,730.9 739,730.8 736,730.6 733,730.5 730,730.3 727,730.1 724,730 721,729.8 718,729.6 715,729.5 712,729.3 709,729.1 706,729 703,728.8 700,728.6 697,728.5 694,728.3 691,728.1 688,728 685,727.8 682,727.7 679,727.5 676,727.3 673,727.2 670,727 667,726.8 664,726.7 661,726.5 658,726.3 655,726.2 652,726 649,725.8 646,725.7 643,725.5 640,725.3 637,725.2 634,725 631,724.9 628,724.7 625,724.5 622,724.4 619,724.2 616,724 613,723.9 610,723.7 607,723.5 604,723.4 601,723.2 598,723 595,722.9 592,722.7 589,722.5 586,722.4 583,722.2 580,722.1 577,721.9 574,721.7 571,721.6 568,721.4 565,721.2 562,721.1 559,720.9 556,720.7 553,720.6 550,720.4 547,720.2 544,720.1 541,719.9 538,719.7 535,719.6 532,719.4 529,719.2 526,719.1 523,718.9 520,718.8 517,718.6 514,718.4 511,718.3 508,718.1 505,717.9 502,717.8 499,717.6 496,717.4 493,717.3 490,717.1 487,716.9 484,716.8 481,716.6 478,716.4 475,716.3 472,716.1 469,716 466,715.8 463,715.6 460,715.5 457,715.3 454,715.1 451,715 448,714.8 445,714.6 442,714.5 439,714.3 436,714.1 433,714 430,713.8 427,713.6 424,713.5 421,713.3 418,713.2 415,713 412,712.8 409,712.7 406,712.5 403,712.3 400,712.2 397,712 394,711.8 391,711.7 388,711.5 385,711.3 382,711.2 379,711 376,710.8 373,710.7 370,710.5 367,710.3 364,710.2 361,710 358,709.9 355,709.7 352,709.5 349,709.4 346,709.2 343,709 340,708.9 337,708.7 334,708.5 331,708.4 328,708.2 325,708 322,707.9 319,707.7 316,707.5 313,707.4 310,707.2 307,707.1 304,706.9 301,706.7 298,706.6 295,706.4 292,706.2 289,706.1 286,705.9 283,705.7 280,705.6 277,705.4 274,705.2 271,705.1 268,704.9 265,704.7 262,704.6 259,704.4 256,704.3 253,704.1 250,703.9 247,703.8 244,703.6 241,703.4 238,703.3 235,703.1 232,702.9 229,702.8 226,702.6 223,702.4 220,702.3 217,702.1 214,701.9 211,701.8 208,701.6 205,701.4 202,701.3 199,701.1 196,701 193,700.8 190,700.6 187,700.5 184,700.3 181,700.1 178,700 175,699.8 172,699.6 169,699.5 166,699.3 163,699.1 160,699 157,698.8 154,698.6 151,698.5 148,698.3 145,698.2 142,698 139,697.8 136,697.7 133,697.5 130,697.3 127,697.2 124,697Z" fill="url(#g4)" stroke="none"/>
<path d="M125,669 129.9,666.9 134.8,661.7 139.7,667.9 144.6,666.3 149.5,669.6 154.4,645 159.3,650.8 164.2,645.8 169.1,655.7 174,644.6 178.9,660.7 183.8,657.9 188.7,664.1 193.6,650.7 198.5,652.3 203.4,638.9 208.3,648.8 213.2,650.6 218.1,643.2 223,651 227.9,640.1 232.8,645 237.7,630 242.6,642 247.5,624.9 252.4,631.9 257.3,624.4 262.2,625 267.1,627 272,612.5 276.9,608.7 281.8,607.3 286.7,610.6 291.6,596.9 296.5,588.5 301.4,593.9 306.3,591.6 311.2,592.4 316.1,593 321,584.9 325.9,582.4 330.8,581.4 335.7,576.9 340.6,561.5 345.5,569.2 350.4,568 355.3,569.1 360.2,569.6 365.1,558.2 370,539.9 374.9,528.5 379.8,538.8 384.7,522.7 389.6,530.7 394.5,511.8 399.4,508.5 404.3,501.6 409.2,496.2 414.1,476.7 419,460.5 423.9,446.9 428.8,435 433.7,419.6 438.6,412.8 443.5,399.8 448.4,373 453.3,372.8 458.2,351.9 463.1,344.5 468,330.8 472.9,324.8 477.8,324.8 482.7,315.2 487.6,305.3 492.5,307.1 497.4,311 502.3,304 507.2,320.4 512.1,338.1 517,353.9 521.9,381.1 526.8,398.3 531.7,425 536.6,432 541.5,456.4 546.4,475.2 551.3,494.7 556.2,503.7 561.1,527.1 566,550.5 570.9,566.9 575.8,584.1 580.7,586.6 585.6,609.8 590.5,614.8 595.4,614.7 600.3,634.3 605.2,636.7 610.1,631.8 615,633.7 619.9,663 624.8,662.9 629.7,664.1 634.6,673.6 639.5,672.9 644.4,654.7 649.3,682.1 654.2,675.2 659.1,675.1 664,676.4 668.9,672.3 673.8,660.3 678.7,663.2 683.6,668.1 688.5,679.1 693.4,672.8 698.3,667.6 703.2,683.9 708.1,661.9 713,649.5 717.9,671.4 722.8,665.1 727.7,663 732.6,659.8 737.5,657 742.4,660.1 747.3,658.1 752.2,628.4 757.1,622.1 762,628.4 766.9,639.5 771.8,630.9 776.7,635.5 781.6,608.8 786.5,625.5 791.4,615.3 796.3,603.1 801.2,612 806.1,594.4 811,589.7 815.9,592.8 820.8,593 825.7,566.6 830.6,585.7 835.5,570 840.4,561.3 845.3,568.4 850.2,557.8 855.1,534.8 860,549.9 864.9,530 869.8,542.8 874.7,513.8 879.6,521.9 884.5,510.9 889.4,506.9 894.3,500.1 899.2,469.6 904.1,478.4 909,460.7 913.9,445.3 918.8,432.9 923.7,413 928.6,396.8 933.5,387.2 938.4,362.3 943.3,323 948.2,309.5 953.1,295.9 958,270.5 962.9,256 967.8,241.1 972.7,221.5 977.6,200.9 982.5,182.9 987.4,171.4 992.3,166.4 997.2,169.5 1002.1,180.5 1007,176.4 1011.9,178.2 1016.8,199.4 1021.7,216.6 1026.6,237.9 1031.5,254 1036.4,261.9 1041.3,284.7 1046.2,337.3 1051.1,371.5 1056,402.4 1060.9,391.9 1065.8,445 1070.7,474 1075.6,498.6 1080.5,506.9 1085.4,549.3 1090.3,556.7 1095.2,594.5 1100.1,605 1105,605.2 1109.9,620.4 1114.8,645.2 1119.7,631.8 1124.6,654.1 1129.5,685.3 1134.4,691 1139.3,695 1144.2,698.9 1149.1,700.7 1154,708.7 1158.9,706.6 1163.8,709.6 1168.7,724.4 1173.6,704.7 1178.5,729.2 1183.4,728.9 1188.3,736 1193.2,712.1" fill="none" stroke="#bebebe" stroke-width="1.6"/>
<path d="M124,698.5 127,698.7 130,698.8 133,699 136,699.2 139,699.3 142,699.5 145,699.7 148,699.8 151,700 154,700.1 157,700.3 160,700.5 163,700.6 166,700.8 169,701 172,701.1 175,701.3 178,701.5 181,701.6 184,701.8 187,702 190,702.1 193,702.3 196,702.5 199,702.6 202,702.8 205,702.9 208,703.1 211,703.3 214,703.4 217,703.6 220,703.8 223,703.9 226,704.1 229,704.3 232,704.4 235,704.6 238,704.8 241,704.9 244,705.1 247,705.3 250,705.4 253,705.6 256,705.8 259,705.9 262,706.1 265,706.2 268,706.4 271,706.6 274,706.7 277,706.9 280,707.1 283,707.2 286,707.4 289,707.6 292,707.7 295,707.9 298,708.1 301,708.2 304,708.4 307,708.6 310,708.7 313,708.9 316,709 319,709.2 322,709.4 325,709.5 328,709.7 331,709.9 334,710 337,710.2 340,710.4 343,710.5 346,710.7 349,710.9 352,711 355,711.2 358,711.4 361,711.5 364,711.7 367,711.8 370,712 373,712.2 376,712.3 379,712.5 382,712.7 385,712.8 388,713 391,713.2 394,713.3 397,713.5 400,713.7 403,713.8 406,714 409,714.2 412,714.3 415,714.5 418,714.7 421,714.8 424,715 427,715.1 430,715.3 433,715.5 436,715.6 439,715.8 442,716 445,716.1 448,716.3 451,716.5 454,716.6 457,716.8 460,717 463,717.1 466,717.3 469,717.5 472,717.6 475,717.8 478,717.9 481,718.1 484,718.3 487,718.4 490,718.6 493,718.8 496,718.9 499,719.1 502,719.3 505,719.4 508,719.6 511,719.8 514,719.9 517,720.1 520,720.3 523,720.4 526,720.6 529,720.7 532,720.9 535,721.1 538,721.2 541,721.4 544,721.6 547,721.7 550,721.9 553,722.1 556,722.2 559,722.4 562,722.6 565,722.7 568,722.9 571,723.1 574,723.2 577,723.4 580,723.6 583,723.7 586,723.9 589,724 592,724.2 595,724.4 598,724.5 601,724.7 604,724.9 607,725 610,725.2 613,725.4 616,725.5 619,725.7 622,725.9 625,726 628,726.2 631,726.4 634,726.5 637,726.7 640,726.8 643,727 646,727.2 649,727.3 652,727.5 655,727.7 658,727.8 661,728 664,728.2 667,728.3 670,728.5 673,728.7 676,728.8 679,729 682,729.2 685,729.3 688,729.5 691,729.6 694,729.8 697,730 700,730.1 703,730.3 706,730.5 709,730.6 712,730.8 715,731 718,731.1 721,731.3 724,731.5 727,731.6 730,731.8 733,732 736,732.1 739,732.3 742,732.4 745,732.6 748,732.8 751,732.9 754,733.1 757,733.3 760,733.4 763,733.6 766,733.8 769,733.9 772,734.1 775,734.3 778,734.4 781,734.6 784,734.8 787,734.9 790,735.1 793,735.3 796,735.4 799,735.6 802,735.7 805,735.9 808,736.1 811,736.2 814,736.4 817,736.6 820,736.7 823,736.9 826,737.1 829,737.2 832,737.4 835,737.6 838,737.7 841,737.9 844,738.1 847,738.2 850,738.4 853,738.5 856,738.7 859,738.9 862,739 865,739.2 868,739.4 871,739.5 874,739.7 877,739.9 880,740 883,740.2 886,740.4 889,740.5 892,740.7 895,740.9 898,741 901,741.2 904,741.3 907,741.5 910,741.7 913,741.8 916,742 919,742.2 922,742.3 925,742.5 928,742.7 931,742.8 934,743 937,743.2 940,743.3 943,743.5 946,743.7 949,743.8 952,744 955,744.2 958,744.3 961,744.5 964,744.6 967,744.8 970,745 973,745.1 976,745.3 979,745.5 982,745.6 985,745.8 988,746 991,746.1 994,746.3 997,746.5 1000,746.6 1003,746.8 1006,747 1009,747.1 1012,747.3 1015,747.4 1018,747.6 1021,747.8 1024,747.9 1027,748.1 1030,748.3 1033,748.4 1036,748.6 1039,748.8 1042,748.9 1045,749.1 1048,749.3 1051,749.4 1054,749.6 1057,749.8 1060,749.9 1063,750.1 1066,750.2 1069,750.4 1072,750.6 1075,750.7 1078,750.9 1081,751.1 1084,751.2 1087,751.4 1090,751.6 1093,751.7 1096,751.9 1099,752.1 1102,752.2 1105,752.4 1108,752.6 1111,752.7 1114,752.9 1117,753.1 1120,753.2 1123,753.4 1126,753.5 1129,753.7 1132,753.9 1135,754 1138,754.2 1141,754.4 1144,754.5 1147,754.7 1150,754.9 1153,755 1156,755.2 1159,755.4 1162,755.5 1165,755.7 1168,755.9 1171,756 1174,756.2 1177,756.3 1180,756.5 1183,756.7 1186,756.8 1189,757 1192,757.2 1195,757.3 1198,757.5" fill="none" stroke="#0000ff" stroke-width="5.5" stroke-dasharray="6 6.6"/>
<path d="M124,695.5 127,695.7 130,695.8 133,696 136,696.2 139,696.3 142,696.5 145,696.7 148,696.8 151,697 154,697.1 157,697.3 160,697.5 163,697.6 166,697.8 169,698 172,698.1 175,698.3 178,698.5 181,698.6 184,698.8 187,699 190,699.1 193,699.3 196,699.5 199,699.6 202,699.8 205,699.9 208,700.1 211,700.3 214,700.4 217,700.6 220,700.8 223,700.9 226,701.1 229,701.3 232,701.4 235,701.6 238,701.8 241,701.9 244,702.1 247,702.3 250,702.4 253,702.6 256,702.8 259,702.9 262,703.1 265,703.2 268,703.4 271,703.6 274,703.7 277,703.9 280,704.1 283,704.2 286,704.4 289,704.6 292,704.7 295,704.9 298,705.1 301,705.2 304,705.4 307,705.6 310,705.7 313,705.9 316,706 319,706.2 322,706.4 325,706.5 328,706.7 331,706.9 334,707 337,707.2 340,707.4 343,707.5 346,707.7 349,707.9 352,708 355,708.2 358,708.4 361,708.5 364,708.7 367,708.8 370,709 373,709.2 376,709.3 379,709.5 382,709.7 385,709.8 388,710 391,710.2 394,710.3 397,710.5 400,710.7 403,710.8 406,711 409,711.2 412,711.3 415,711.5 418,711.7 421,711.8 424,712 427,712.1 430,712.3 433,712.5 436,712.6 439,712.8 442,713 445,713.1 448,713.3 451,713.5 454,713.6 457,713.8 460,714 463,714.1 466,714.3 469,714.5 472,714.6 475,714.8 478,714.9 481,715.1 484,715.3 487,715.4 490,715.6 493,715.8 496,715.9 499,716.1 502,716.3 505,716.4 508,716.6 511,716.8 514,716.9 517,717.1 520,717.3 523,717.4 526,717.6 529,717.7 532,717.9 535,718.1 538,718.2 541,718.4 544,718.6 547,718.7 550,718.9 553,719.1 556,719.2 559,719.4 562,719.6 565,719.7 568,719.9 571,720.1 574,720.2 577,720.4 580,720.6 583,720.7 586,720.9 589,721 592,721.2 595,721.4 598,721.5 601,721.7 604,721.9 607,722 610,722.2 613,722.4 616,722.5 619,722.7 622,722.9 625,723 628,723.2 631,723.4 634,723.5 637,723.7 640,723.8 643,724 646,724.2 649,724.3 652,724.5 655,724.7 658,724.8 661,725 664,725.2 667,725.3 670,725.5 673,725.7 676,725.8 679,726 682,726.2 685,726.3 688,726.5 691,726.6 694,726.8 697,727 700,727.1 703,727.3 706,727.5 709,727.6 712,727.8 715,728 718,728.1 721,728.3 724,728.5 727,728.6 730,728.8 733,729 736,729.1 739,729.3 742,729.4 745,729.6 748,729.8 751,729.9 754,730.1 757,730.3 760,730.4 763,730.6 766,730.8 769,730.9 772,731.1 775,731.3 778,731.4 781,731.6 784,731.8 787,731.9 790,732.1 793,732.3 796,732.4 799,732.6 802,732.7 805,732.9 808,733.1 811,733.2 814,733.4 817,733.6 820,733.7 823,733.9 826,734.1 829,734.2 832,734.4 835,734.6 838,734.7 841,734.9 844,735.1 847,735.2 850,735.4 853,735.5 856,735.7 859,735.9 862,736 865,736.2 868,736.4 871,736.5 874,736.7 877,736.9 880,737 883,737.2 886,737.4 889,737.5 892,737.7 895,737.9 898,738 901,738.2 904,738.3 907,738.5 910,738.7 913,738.8 916,739 919,739.2 922,739.3 925,739.5 928,739.7 931,739.8 934,740 937,740.2 940,740.3 943,740.5 946,740.7 949,740.8 952,741 955,741.2 958,741.3 961,741.5 964,741.6 967,741.8 970,742 973,742.1 976,742.3 979,742.5 982,742.6 985,742.8 988,743 991,743.1 994,743.3 997,743.5 1000,743.6 1003,743.8 1006,744 1009,744.1 1012,744.3 1015,744.4 1018,744.6 1021,744.8 1024,744.9 1027,745.1 1030,745.3 1033,745.4 1036,745.6 1039,745.8 1042,745.9 1045,746.1 1048,746.3 1051,746.4 1054,746.6 1057,746.8 1060,746.9 1063,747.1 1066,747.2 1069,747.4 1072,747.6 1075,747.7 1078,747.9 1081,748.1 1084,748.2 1087,748.4 1090,748.6 1093,748.7 1096,748.9 1099,749.1 1102,749.2 1105,749.4 1108,749.6 1111,749.7 1114,749.9 1117,750.1 1120,750.2 1123,750.4 1126,750.5 1129,750.7 1132,750.9 1135,751 1138,751.2 1141,751.4 1144,751.5 1147,751.7 1150,751.9 1153,752 1156,752.2 1159,752.4 1162,752.5 1165,752.7 1168,752.9 1171,753 1174,753.2 1177,753.3 1180,753.5 1183,753.7 1186,753.8 1189,754 1192,754.2 1195,754.3 1198,754.5" fill="none" stroke="#00bf46" stroke-width="5.5" stroke-dasharray="6 6.6" stroke-dashoffset="6.3"/>
<path d="M124,682.2 127,682.3 130,682.4 133,682.4 136,682.5 139,682.6 142,682.6 145,682.7 148,682.8 151,682.8 154,682.9 157,683 160,683 163,683.1 166,683.1 169,683.2 172,683.3 175,683.3 178,683.4 181,683.5 184,683.5 187,683.6 190,683.7 193,683.7 196,683.8 199,683.9 202,683.9 205,684 208,684 211,684.1 214,684.2 217,684.2 220,684.3 223,684.4 226,684.4 229,684.5 232,684.6 235,684.6 238,684.7 241,684.8 244,684.9 247,684.9 250,685 253,685.1 256,685.2 259,685.2 262,685.3 265,685.4 268,685.5 271,685.6 274,685.7 277,685.8 280,685.8 283,685.9 286,686 289,686.1 292,686.2 295,686.4 298,686.5 301,686.6 304,686.7 307,686.8 310,686.9 313,687.1 316,687.2 319,687.3 322,687.5 325,687.6 328,687.8 331,687.9 334,688.1 337,688.2 340,688.4 343,688.5 346,688.7 349,688.8 352,689 355,689.2 358,689.3 361,689.5 364,689.7 367,689.8 370,690 373,690.2 376,690.4 379,690.5 382,690.7 385,690.9 388,691 391,691.2 394,691.4 397,691.6 400,691.8 403,692 406,692.2 409,692.4 412,692.6 415,692.8 418,693 421,693.2 424,693.5 427,693.7 430,694 433,694.3 436,694.6 439,694.9 442,695.3 445,695.6 448,696 451,696.4 454,696.8 457,697.2 460,697.6 463,698.1 466,698.6 469,699.1 472,699.6 475,700.1 478,700.6 481,701.1 484,701.7 487,702.2 490,702.8 493,703.3 496,703.8 499,704.4 502,704.9 505,705.4 508,705.9 511,706.4 514,706.8 517,707.3 520,707.7 523,708.1 526,708.5 529,708.9 532,709.2 535,709.5 538,709.8 541,710.1 544,710.3 547,710.5 550,710.8 553,710.9 556,711.1 559,711.3 562,711.4 565,711.5 568,711.7 571,711.8 574,711.9 577,711.9 580,712 583,712.1 586,712.1 589,712.2 592,712.2 595,712.3 598,712.3 601,712.3 604,712.4 607,712.4 610,712.4 613,712.4 616,712.5 619,712.5 622,712.5 625,712.5 628,712.5 631,712.5 634,712.5 637,712.5 640,712.5 643,712.5 646,712.5 649,712.5 652,712.5 655,712.5 658,712.5 661,712.5 664,712.5 667,712.5 670,712.4 673,712.4 676,712.4 679,712.4 682,712.4 685,712.3 688,712.3 691,712.3 694,712.2 697,712.2 700,712.1 703,712.1 706,712 709,712 712,711.9 715,711.9 718,711.8 721,711.7 724,711.7 727,711.6 730,711.5 733,711.4 736,711.4 739,711.3 742,711.2 745,711.1 748,711 751,710.9 754,710.7 757,710.6 760,710.5 763,710.4 766,710.2 769,710.1 772,710 775,709.8 778,709.6 781,709.5 784,709.3 787,709.1 790,708.9 793,708.7 796,708.5 799,708.3 802,708 805,707.7 808,707.5 811,707.2 814,706.8 817,706.5 820,706.1 823,705.6 826,705.1 829,704.6 832,704 835,703.4 838,702.6 841,701.8 844,700.9 847,699.8 850,698.6 853,697.3 856,695.8 859,694.2 862,692.3 865,690.2 868,687.9 871,685.2 874,682.3 877,679 880,675.4 883,671.3 886,666.8 889,661.9 892,656.5 895,650.5 898,644 901,636.9 904,629.2 907,620.8 910,611.8 913,602.1 916,591.7 919,580.7 922,568.9 925,556.4 928,543.3 931,529.5 934,515 937,500 940,484.5 943,468.4 946,451.9 949,435.1 952,418 955,400.7 958,383.3 961,366.1 964,349 967,332.2 970,315.9 973,300.2 976,285.3 979,271.3 982,258.5 985,246.9 988,236.9 991,228.4 994,221.7 997,216.8 1000,213.9 1003,213 1006,214.2 1009,217.4 1012,222.5 1015,229.6 1018,238.5 1021,249.1 1024,261.1 1027,274.6 1030,289.2 1033,304.8 1036,321.3 1039,338.5 1042,356.1 1045,374.1 1048,392.4 1051,410.7 1054,428.9 1057,447 1060,464.9 1063,482.4 1066,499.4 1069,516 1072,532 1075,547.5 1078,562.2 1081,576.3 1084,589.8 1087,602.5 1090,614.4 1093,625.7 1096,636.3 1099,646.1 1102,655.3 1105,663.8 1108,671.6 1111,678.9 1114,685.6 1117,691.7 1120,697.3 1123,702.4 1126,707.1 1129,711.3 1132,715.1 1135,718.6 1138,721.8 1141,724.6 1144,727.2 1147,729.5 1150,731.6 1153,733.6 1156,735.3 1159,736.8 1162,738.3 1165,739.6 1168,740.7 1171,741.8 1174,742.8 1177,743.7 1180,744.5 1183,745.3 1186,746 1189,746.7 1192,747.3 1195,747.9 1198,748.5" fill="none" stroke="#0000ff" stroke-width="5.5" stroke-dasharray="5.5 7"/>
<path d="M124,680.2 127,680.2 130,680.2 133,680.2 136,680.3 139,680.3 142,680.3 145,680.3 148,680.3 151,680.3 154,680.3 157,680.4 160,680.4 163,680.4 166,680.4 169,680.4 172,680.4 175,680.4 178,680.4 181,680.4 184,680.4 187,680.4 190,680.4 193,680.4 196,680.4 199,680.3 202,680.3 205,680.3 208,680.3 211,680.3 214,680.2 217,680.2 220,680.2 223,680.1 226,680.1 229,680.1 232,680 235,680 238,679.9 241,679.9 244,679.8 247,679.7 250,679.7 253,679.6 256,679.5 259,679.5 262,679.4 265,679.3 268,679.2 271,679.1 274,679 277,678.9 280,678.8 283,678.6 286,678.5 289,678.3 292,678.2 295,678 298,677.8 301,677.6 304,677.4 307,677.1 310,676.9 313,676.6 316,676.2 319,675.8 322,675.4 325,674.9 328,674.4 331,673.8 334,673.1 337,672.3 340,671.5 343,670.5 346,669.4 349,668.2 352,666.8 355,665.2 358,663.5 361,661.5 364,659.4 367,656.9 370,654.3 373,651.3 376,648 379,644.4 382,640.4 385,636.1 388,631.4 391,626.2 394,620.7 397,614.7 400,608.2 403,601.3 406,593.9 409,586.1 412,577.8 415,569 418,559.8 421,550.2 424,540.2 427,529.8 430,519.1 433,508.1 436,496.9 439,485.5 442,474 445,462.4 448,450.9 451,439.5 454,428.4 457,417.5 460,407 463,397.1 466,387.8 469,379.2 472,371.6 475,364.9 478,359.2 481,354.7 484,351.5 487,349.6 490,349 493,349.8 496,352 499,355.5 502,360.2 505,366.2 508,373.3 511,381.3 514,390.3 517,400.1 520,410.6 523,421.6 526,433.1 529,444.9 532,457 535,469.2 538,481.4 541,493.6 544,505.8 547,517.7 550,529.4 553,540.8 556,551.9 559,562.7 562,573 565,582.9 568,592.3 571,601.3 574,609.8 577,617.8 580,625.4 583,632.5 586,639.1 589,645.2 592,650.9 595,656.2 598,661.1 601,665.5 604,669.6 607,673.4 610,676.8 613,680 616,682.8 619,685.4 622,687.8 625,689.9 628,691.8 631,693.6 634,695.2 637,696.6 640,697.9 643,699.1 646,700.1 649,701.1 652,702 655,702.8 658,703.5 661,704.2 664,704.8 667,705.4 670,706 673,706.5 676,706.9 679,707.4 682,707.8 685,708.2 688,708.6 691,708.9 694,709.3 697,709.6 700,709.9 703,710.2 706,710.5 709,710.8 712,711 715,711.3 718,711.6 721,711.8 724,712.1 727,712.3 730,712.5 733,712.7 736,713 739,713.2 742,713.4 745,713.6 748,713.8 751,714 754,714.2 757,714.4 760,714.6 763,714.8 766,715 769,715.2 772,715.4 775,715.6 778,715.8 781,716 784,716.2 787,716.4 790,716.6 793,716.9 796,717.1 799,717.3 802,717.5 805,717.7 808,717.9 811,718.2 814,718.4 817,718.6 820,718.8 823,719.1 826,719.3 829,719.6 832,719.8 835,720.1 838,720.3 841,720.6 844,720.9 847,721.1 850,721.4 853,721.7 856,722 859,722.2 862,722.5 865,722.8 868,723.1 871,723.4 874,723.7 877,723.9 880,724.2 883,724.5 886,724.8 889,725.1 892,725.4 895,725.7 898,726 901,726.2 904,726.5 907,726.8 910,727.1 913,727.4 916,727.7 919,728 922,728.4 925,728.7 928,729 931,729.4 934,729.8 937,730.1 940,730.6 943,731 946,731.4 949,731.9 952,732.4 955,732.9 958,733.4 961,734 964,734.6 967,735.2 970,735.9 973,736.6 976,737.3 979,738 982,738.7 985,739.5 988,740.3 991,741.1 994,741.9 997,742.8 1000,743.6 1003,744.4 1006,745.3 1009,746.1 1012,746.9 1015,747.7 1018,748.5 1021,749.2 1024,750 1027,750.7 1030,751.4 1033,752 1036,752.7 1039,753.3 1042,753.8 1045,754.4 1048,754.9 1051,755.3 1054,755.8 1057,756.2 1060,756.5 1063,756.9 1066,757.2 1069,757.5 1072,757.8 1075,758 1078,758.2 1081,758.4 1084,758.6 1087,758.8 1090,759 1093,759.1 1096,759.3 1099,759.4 1102,759.5 1105,759.6 1108,759.8 1111,759.9 1114,760 1117,760.1 1120,760.1 1123,760.2 1126,760.3 1129,760.4 1132,760.5 1135,760.6 1138,760.7 1141,760.7 1144,760.8 1147,760.9 1150,761 1153,761.1 1156,761.1 1159,761.2 1162,761.3 1165,761.4 1168,761.5 1171,761.5 1174,761.6 1177,761.7 1180,761.8 1183,761.8 1186,761.9 1189,762 1192,762.1 1195,762.1 1198,762.2" fill="none" stroke="#0000ff" stroke-width="5.5" stroke-dasharray="5.5 7"/>
<path d="M124,682.6 127,682.6 130,682.7 133,682.8 136,682.8 139,682.9 142,683 145,683 148,683.1 151,683.2 154,683.2 157,683.3 160,683.4 163,683.4 166,683.5 169,683.5 172,683.6 175,683.7 178,683.7 181,683.8 184,683.9 187,683.9 190,684 193,684.1 196,684.1 199,684.2 202,684.3 205,684.3 208,684.4 211,684.5 214,684.5 217,684.6 220,684.7 223,684.7 226,684.8 229,684.9 232,685 235,685 238,685.1 241,685.2 244,685.2 247,685.3 250,685.4 253,685.5 256,685.6 259,685.6 262,685.7 265,685.8 268,685.9 271,686 274,686.1 277,686.2 280,686.3 283,686.4 286,686.5 289,686.6 292,686.7 295,686.8 298,686.9 301,687 304,687.1 307,687.3 310,687.4 313,687.5 316,687.6 319,687.8 322,687.9 325,688.1 328,688.2 331,688.4 334,688.5 337,688.7 340,688.8 343,689 346,689.2 349,689.3 352,689.5 355,689.6 358,689.8 361,690 364,690.2 367,690.3 370,690.5 373,690.7 376,690.8 379,691 382,691.2 385,691.4 388,691.5 391,691.7 394,691.9 397,692.1 400,692.3 403,692.5 406,692.7 409,692.9 412,693.1 415,693.3 418,693.5 421,693.8 424,694 427,694.3 430,694.5 433,694.8 436,695.1 439,695.5 442,695.8 445,696.1 448,696.5 451,696.9 454,697.3 457,697.7 460,698.2 463,698.7 466,699.1 469,699.6 472,700.1 475,700.7 478,701.2 481,701.7 484,702.3 487,702.8 490,703.3 493,703.9 496,704.4 499,705 502,705.5 505,706 508,706.5 511,707 514,707.4 517,707.9 520,708.3 523,708.7 526,709.1 529,709.4 532,709.8 535,710.1 538,710.4 541,710.6 544,710.9 547,711.1 550,711.3 553,711.5 556,711.7 559,711.8 562,712 565,712.1 568,712.2 571,712.3 574,712.4 577,712.5 580,712.5 583,712.6 586,712.6 589,712.7 592,712.7 595,712.7 598,712.8 601,712.8 604,712.8 607,712.8 610,712.8 613,712.8 616,712.8 619,712.8 622,712.8 625,712.7 628,712.7 631,712.7 634,712.6 637,712.6 640,712.5 643,712.4 646,712.4 649,712.3 652,712.2 655,712.1 658,711.9 661,711.8 664,711.6 667,711.5 670,711.3 673,711.1 676,710.8 679,710.6 682,710.3 685,710 688,709.6 691,709.2 694,708.8 697,708.4 700,707.9 703,707.3 706,706.8 709,706.1 712,705.5 715,704.7 718,703.9 721,703.1 724,702.2 727,701.2 730,700.1 733,699 736,697.8 739,696.5 742,695.2 745,693.8 748,692.2 751,690.6 754,689 757,687.2 760,685.3 763,683.4 766,681.4 769,679.3 772,677.1 775,674.8 778,672.4 781,670 784,667.5 787,664.9 790,662.2 793,659.5 796,656.8 799,654 802,651.2 805,648.3 808,645.4 811,642.5 814,639.6 817,636.7 820,633.9 823,631 826,628.3 829,625.6 832,622.9 835,620.4 838,617.9 841,615.6 844,613.4 847,611.4 850,609.5 853,607.9 856,606.4 859,605.1 862,604.1 865,603.3 868,602.7 871,602.4 874,602.3 877,602.5 880,603 883,603.7 886,604.7 889,605.9 892,607.4 895,609 898,610.9 901,613 904,615.3 907,617.8 910,620.4 913,623.1 916,626 919,629 922,632.1 925,635.3 928,638.6 931,641.9 934,645.3 937,648.7 940,652.1 943,655.6 946,659 949,662.5 952,665.9 955,669.4 958,672.8 961,676.2 964,679.6 967,682.9 970,686.2 973,689.4 976,692.6 979,695.7 982,698.8 985,701.8 988,704.7 991,707.5 994,710.3 997,713 1000,715.6 1003,718.1 1006,720.6 1009,722.9 1012,725.2 1015,727.3 1018,729.4 1021,731.4 1024,733.2 1027,735 1030,736.7 1033,738.3 1036,739.8 1039,741.2 1042,742.5 1045,743.8 1048,744.9 1051,746 1054,747 1057,747.9 1060,748.8 1063,749.6 1066,750.3 1069,751 1072,751.6 1075,752.2 1078,752.7 1081,753.2 1084,753.6 1087,754.1 1090,754.4 1093,754.8 1096,755.1 1099,755.4 1102,755.7 1105,756 1108,756.2 1111,756.5 1114,756.7 1117,756.9 1120,757.1 1123,757.3 1126,757.5 1129,757.7 1132,757.8 1135,758 1138,758.2 1141,758.3 1144,758.5 1147,758.6 1150,758.8 1153,758.9 1156,759 1159,759.2 1162,759.3 1165,759.4 1168,759.5 1171,759.7 1174,759.8 1177,759.9 1180,760 1183,760.1 1186,760.3 1189,760.4 1192,760.5 1195,760.6 1198,760.7" fill="none" stroke="#00bf46" stroke-width="5.5" stroke-dasharray="5.5 7"/>
<path d="M124,680.4 127,680.4 130,680.4 133,680.4 136,680.4 139,680.3 142,680.3 145,680.3 148,680.2 151,680.1 154,680.1 157,680 160,679.9 163,679.8 166,679.7 169,679.5 172,679.4 175,679.2 178,679 181,678.8 184,678.6 187,678.3 190,678 193,677.7 196,677.4 199,677 202,676.6 205,676.2 208,675.7 211,675.2 214,674.6 217,674 220,673.4 223,672.7 226,672 229,671.2 232,670.4 235,669.5 238,668.6 241,667.6 244,666.6 247,665.5 250,664.4 253,663.2 256,661.9 259,660.6 262,659.2 265,657.8 268,656.4 271,654.9 274,653.3 277,651.7 280,650.1 283,648.4 286,646.7 289,645 292,643.2 295,641.4 298,639.7 301,637.9 304,636.1 307,634.3 310,632.5 313,630.7 316,629 319,627.3 322,625.7 325,624.1 328,622.6 331,621.2 334,619.8 337,618.6 340,617.4 343,616.4 346,615.5 349,614.7 352,614.1 355,613.6 358,613.3 361,613.1 364,613.1 367,613.3 370,613.6 373,614.1 376,614.7 379,615.5 382,616.5 385,617.5 388,618.8 391,620.1 394,621.6 397,623.2 400,624.8 403,626.6 406,628.5 409,630.4 412,632.4 415,634.4 418,636.5 421,638.7 424,640.8 427,643 430,645.2 433,647.5 436,649.7 439,651.9 442,654.2 445,656.4 448,658.6 451,660.8 454,663 457,665.1 460,667.3 463,669.4 466,671.4 469,673.5 472,675.5 475,677.4 478,679.3 481,681.2 484,683 487,684.7 490,686.4 493,688.1 496,689.7 499,691.2 502,692.6 505,694 508,695.4 511,696.7 514,697.9 517,699 520,700.1 523,701.1 526,702.1 529,703 532,703.9 535,704.7 538,705.4 541,706.1 544,706.8 547,707.4 550,707.9 553,708.4 556,708.9 559,709.4 562,709.8 565,710.2 568,710.5 571,710.8 574,711.1 577,711.4 580,711.7 583,711.9 586,712.2 589,712.4 592,712.6 595,712.8 598,713 601,713.1 604,713.3 607,713.4 610,713.6 613,713.7 616,713.9 619,714 622,714.2 625,714.3 628,714.4 631,714.5 634,714.6 637,714.8 640,714.9 643,715 646,715.1 649,715.2 652,715.3 655,715.4 658,715.5 661,715.6 664,715.7 667,715.8 670,715.9 673,716 676,716.1 679,716.2 682,716.3 685,716.4 688,716.5 691,716.6 694,716.7 697,716.8 700,716.9 703,717 706,717.1 709,717.2 712,717.3 715,717.4 718,717.5 721,717.6 724,717.7 727,717.7 730,717.8 733,717.9 736,718 739,718.1 742,718.2 745,718.3 748,718.4 751,718.5 754,718.6 757,718.7 760,718.8 763,718.9 766,719 769,719.2 772,719.3 775,719.4 778,719.5 781,719.6 784,719.7 787,719.9 790,720 793,720.2 796,720.3 799,720.4 802,720.6 805,720.7 808,720.9 811,721.1 814,721.2 817,721.4 820,721.6 823,721.8 826,722 829,722.2 832,722.4 835,722.6 838,722.8 841,723 844,723.3 847,723.5 850,723.7 853,724 856,724.2 859,724.4 862,724.7 865,724.9 868,725.2 871,725.4 874,725.7 877,725.9 880,726.2 883,726.4 886,726.7 889,727 892,727.2 895,727.5 898,727.7 901,728 904,728.3 907,728.5 910,728.8 913,729.1 916,729.4 919,729.6 922,729.9 925,730.2 928,730.6 931,730.9 934,731.2 937,731.6 940,732 943,732.4 946,732.8 949,733.3 952,733.7 955,734.2 958,734.8 961,735.3 964,735.9 967,736.5 970,737.1 973,737.8 976,738.5 979,739.2 982,739.9 985,740.7 988,741.5 991,742.3 994,743.1 997,743.9 1000,744.7 1003,745.5 1006,746.3 1009,747.1 1012,747.9 1015,748.7 1018,749.5 1021,750.2 1024,751 1027,751.7 1030,752.4 1033,753 1036,753.6 1039,754.2 1042,754.8 1045,755.3 1048,755.8 1051,756.2 1054,756.7 1057,757 1060,757.4 1063,757.7 1066,758.1 1069,758.3 1072,758.6 1075,758.8 1078,759.1 1081,759.3 1084,759.4 1087,759.6 1090,759.8 1093,759.9 1096,760 1099,760.2 1102,760.3 1105,760.4 1108,760.5 1111,760.6 1114,760.7 1117,760.8 1120,760.9 1123,760.9 1126,761 1129,761.1 1132,761.2 1135,761.3 1138,761.3 1141,761.4 1144,761.5 1147,761.5 1150,761.6 1153,761.7 1156,761.8 1159,761.8 1162,761.9 1165,762 1168,762.1 1171,762.1 1174,762.2 1177,762.3 1180,762.3 1183,762.4 1186,762.5 1189,762.6 1192,762.6 1195,762.7 1198,762.8" fill="none" stroke="#00bf46" stroke-width="5.5" stroke-dasharray="5.5 7"/>
<path d="M124,683 127,683.1 130,683.1 133,683.2 136,683.3 139,683.3 142,683.4 145,683.5 148,683.6 151,683.6 154,683.7 157,683.8 160,683.8 163,683.9 166,684 169,684 172,684.1 175,684.2 178,684.3 181,684.3 184,684.4 187,684.5 190,684.5 193,684.6 196,684.7 199,684.8 202,684.8 205,684.9 208,685 211,685 214,685.1 217,685.2 220,685.3 223,685.3 226,685.4 229,685.5 232,685.6 235,685.6 238,685.7 241,685.8 244,685.9 247,686 250,686 253,686.1 256,686.2 259,686.3 262,686.4 265,686.5 268,686.6 271,686.7 274,686.8 277,686.9 280,687 283,687.1 286,687.2 289,687.3 292,687.4 295,687.5 298,687.6 301,687.8 304,687.9 307,688 310,688.2 313,688.3 316,688.4 319,688.6 322,688.7 325,688.9 328,689 331,689.2 334,689.4 337,689.5 340,689.7 343,689.9 346,690 349,690.2 352,690.4 355,690.6 358,690.7 361,690.9 364,691.1 367,691.3 370,691.5 373,691.6 376,691.8 379,692 382,692.2 385,692.4 388,692.6 391,692.8 394,693 397,693.2 400,693.4 403,693.6 406,693.8 409,694 412,694.2 415,694.5 418,694.7 421,695 424,695.2 427,695.5 430,695.8 433,696.1 436,696.4 439,696.7 442,697.1 445,697.5 448,697.9 451,698.3 454,698.7 457,699.1 460,699.6 463,700.1 466,700.6 469,701.1 472,701.6 475,702.2 478,702.7 481,703.3 484,703.8 487,704.4 490,705 493,705.5 496,706.1 499,706.6 502,707.2 505,707.7 508,708.3 511,708.8 514,709.3 517,709.7 520,710.2 523,710.6 526,711 529,711.4 532,711.8 535,712.1 538,712.5 541,712.8 544,713 547,713.3 550,713.6 553,713.8 556,714 559,714.2 562,714.4 565,714.5 568,714.7 571,714.8 574,715 577,715.1 580,715.2 583,715.3 586,715.4 589,715.5 592,715.6 595,715.7 598,715.8 601,715.9 604,716 607,716 610,716.1 613,716.2 616,716.3 619,716.3 622,716.4 625,716.5 628,716.6 631,716.6 634,716.7 637,716.8 640,716.8 643,716.9 646,717 649,717.1 652,717.1 655,717.2 658,717.3 661,717.3 664,717.4 667,717.5 670,717.5 673,717.6 676,717.7 679,717.8 682,717.8 685,717.9 688,718 691,718 694,718.1 697,718.2 700,718.3 703,718.3 706,718.4 709,718.5 712,718.5 715,718.6 718,718.7 721,718.8 724,718.8 727,718.9 730,719 733,719.1 736,719.1 739,719.2 742,719.3 745,719.4 748,719.5 751,719.5 754,719.6 757,719.7 760,719.8 763,719.9 766,720 769,720.1 772,720.2 775,720.3 778,720.4 781,720.5 784,720.6 787,720.7 790,720.9 793,721 796,721.1 799,721.3 802,721.4 805,721.5 808,721.7 811,721.9 814,722 817,722.2 820,722.4 823,722.5 826,722.7 829,722.9 832,723.1 835,723.3 838,723.5 841,723.7 844,723.9 847,724.2 850,724.4 853,724.6 856,724.8 859,725.1 862,725.3 865,725.5 868,725.8 871,726 874,726.3 877,726.5 880,726.8 883,727 886,727.3 889,727.5 892,727.8 895,728 898,728.3 901,728.5 904,728.8 907,729.1 910,729.3 913,729.6 916,729.9 919,730.1 922,730.4 925,730.7 928,731.1 931,731.4 934,731.7 937,732.1 940,732.5 943,732.9 946,733.3 949,733.7 952,734.2 955,734.7 958,735.2 961,735.8 964,736.3 967,736.9 970,737.6 973,738.2 976,738.9 979,739.6 982,740.4 985,741.1 988,741.9 991,742.7 994,743.5 997,744.3 1000,745.1 1003,745.9 1006,746.7 1009,747.5 1012,748.3 1015,749.1 1018,749.9 1021,750.6 1024,751.3 1027,752 1030,752.7 1033,753.4 1036,754 1039,754.6 1042,755.1 1045,755.6 1048,756.1 1051,756.6 1054,757 1057,757.4 1060,757.7 1063,758.1 1066,758.4 1069,758.7 1072,758.9 1075,759.1 1078,759.4 1081,759.6 1084,759.7 1087,759.9 1090,760.1 1093,760.2 1096,760.3 1099,760.5 1102,760.6 1105,760.7 1108,760.8 1111,760.9 1114,761 1117,761 1120,761.1 1123,761.2 1126,761.3 1129,761.4 1132,761.4 1135,761.5 1138,761.6 1141,761.7 1144,761.7 1147,761.8 1150,761.9 1153,761.9 1156,762 1159,762.1 1162,762.2 1165,762.2 1168,762.3 1171,762.4 1174,762.4 1177,762.5 1180,762.6 1183,762.7 1186,762.7 1189,762.8 1192,762.9 1195,762.9 1198,763" fill="none" stroke="#800080" stroke-width="4.5"/>
<path d="M124,675.7 127,675.5 130,675.3 133,675.2 136,675 139,674.7 142,674.5 145,674.2 148,673.9 151,673.6 154,673.3 157,672.9 160,672.5 163,672.1 166,671.6 169,671.1 172,670.6 175,670 178,669.5 181,668.8 184,668.1 187,667.4 190,666.7 193,665.9 196,665.1 199,664.2 202,663.3 205,662.3 208,661.3 211,660.3 214,659.2 217,658.1 220,656.9 223,655.7 226,654.4 229,653.1 232,651.8 235,650.4 238,649 241,647.6 244,646.1 247,644.6 250,643.1 253,641.5 256,639.9 259,638.3 262,636.6 265,635 268,633.3 271,631.5 274,629.8 277,628 280,626.3 283,624.5 286,622.7 289,620.9 292,619 295,617.2 298,615.4 301,613.5 304,611.7 307,609.9 310,608 313,606.2 316,604.3 319,602.5 322,600.7 325,598.9 328,597.1 331,595.3 334,593.5 337,591.7 340,590 343,588.2 346,586.4 349,584.6 352,582.7 355,580.9 358,579 361,577 364,574.9 367,572.8 370,570.5 373,568.1 376,565.5 379,562.7 382,559.7 385,556.5 388,553 391,549.2 394,545 397,540.5 400,535.7 403,530.4 406,524.8 409,518.8 412,512.3 415,505.4 418,498.1 421,490.5 424,482.4 427,474 430,465.2 433,456.1 436,446.8 439,437.3 442,427.7 445,418 448,408.3 451,398.7 454,389.2 457,380 460,371.2 463,362.9 466,355.1 469,348.1 472,341.8 475,336.5 478,332.2 481,328.9 484,326.9 487,326.1 490,326.7 493,328.5 496,331.6 499,336 502,341.6 505,348.4 508,356.2 511,365 514,374.7 517,385.1 520,396.2 523,407.7 526,419.7 529,432 532,444.5 535,457 538,469.6 541,482.2 544,494.6 547,506.8 550,518.7 553,530.4 556,541.7 559,552.6 562,563 565,573.1 568,582.6 571,591.7 574,600.3 577,608.4 580,616 583,623.1 586,629.7 589,635.9 592,641.6 595,646.8 598,651.7 601,656.1 604,660.2 607,663.9 610,667.3 613,670.4 616,673.1 619,675.6 622,677.9 625,679.9 628,681.7 631,683.3 634,684.8 637,686.1 640,687.2 643,688.2 646,689.1 649,689.8 652,690.5 655,691 658,691.5 661,691.9 664,692.2 667,692.5 670,692.6 673,692.7 676,692.8 679,692.7 682,692.7 685,692.5 688,692.3 691,692 694,691.6 697,691.2 700,690.7 703,690.1 706,689.5 709,688.8 712,688 715,687.1 718,686.1 721,685 724,683.9 727,682.6 730,681.3 733,679.9 736,678.3 739,676.7 742,675 745,673.2 748,671.3 751,669.2 754,667.1 757,664.9 760,662.6 763,660.2 766,657.8 769,655.2 772,652.6 775,649.9 778,647.1 781,644.3 784,641.4 787,638.4 790,635.4 793,632.4 796,629.3 799,626.2 802,623.1 805,619.9 808,616.8 811,613.6 814,610.4 817,607.2 820,604.1 823,601 826,597.8 829,594.8 832,591.7 835,588.7 838,585.7 841,582.7 844,579.8 847,576.9 850,574.1 853,571.3 856,568.5 859,565.8 862,563 865,560.3 868,557.5 871,554.7 874,551.8 877,548.8 880,545.7 883,542.4 886,538.9 889,535.2 892,531.3 895,527 898,522.3 901,517.3 904,511.8 907,505.8 910,499.3 913,492.2 916,484.6 919,476.3 922,467.5 925,458 928,447.9 931,437.2 934,425.9 937,414 940,401.5 943,388.6 946,375.2 949,361.4 952,347.3 955,333.1 958,318.7 961,304.3 964,290 967,276 970,262.3 973,249.2 976,236.9 979,225.3 982,214.9 985,205.6 988,197.7 991,191.3 994,186.6 997,183.6 1000,182.5 1003,183.4 1006,186.2 1009,190.9 1012,197.6 1015,206.1 1018,216.3 1021,228.1 1024,241.3 1027,255.8 1030,271.5 1033,288.1 1036,305.5 1039,323.5 1042,341.9 1045,360.7 1048,379.6 1051,398.5 1054,417.4 1057,436 1060,454.4 1063,472.4 1066,489.9 1069,506.9 1072,523.3 1075,539 1078,554.1 1081,568.6 1084,582.2 1087,595.2 1090,607.4 1093,618.9 1096,629.7 1099,639.7 1102,649.1 1105,657.8 1108,665.8 1111,673.2 1114,680 1117,686.3 1120,692 1123,697.3 1126,702 1129,706.4 1132,710.3 1135,713.9 1138,717.2 1141,720.1 1144,722.8 1147,725.2 1150,727.4 1153,729.4 1156,731.2 1159,732.8 1162,734.3 1165,735.6 1168,736.9 1171,738 1174,739.1 1177,740 1180,740.9 1183,741.7 1186,742.5 1189,743.2 1192,743.9 1195,744.6 1198,745.2" fill="none" stroke="#ff0000" stroke-width="6.5" stroke-linejoin="round"/>
<path d="M124,1299.7 127,1299.8 130,1299.8 133,1299.9 136,1300 139,1300.1 142,1300.2 145,1300.2 148,1300.3 151,1300.4 154,1300.5 157,1300.6 160,1300.6 163,1300.7 166,1300.8 169,1300.9 172,1301 175,1301 178,1301.1 181,1301.2 184,1301.3 187,1301.4 190,1301.4 193,1301.5 196,1301.6 199,1301.7 202,1301.8 205,1301.8 208,1301.9 211,1302 214,1302.1 217,1302.2 220,1302.3 223,1302.3 226,1302.4 229,1302.5 232,1302.6 235,1302.7 238,1302.7 241,1302.8 244,1302.9 247,1303 250,1303.1 253,1303.2 256,1303.3 259,1303.3 262,1303.4 265,1303.5 268,1303.6 271,1303.7 274,1303.8 277,1303.9 280,1304 283,1304.1 286,1304.2 289,1304.3 292,1304.4 295,1304.5 298,1304.7 301,1304.8 304,1304.9 307,1305 310,1305.1 313,1305.3 316,1305.4 319,1305.5 322,1305.7 325,1305.8 328,1306 331,1306.1 334,1306.3 337,1306.4 340,1306.6 343,1306.8 346,1307 349,1307.1 352,1307.3 355,1307.5 358,1307.7 361,1307.9 364,1308.1 367,1308.3 370,1308.5 373,1308.7 376,1308.9 379,1309.2 382,1309.4 385,1309.6 388,1309.8 391,1310.1 394,1310.3 397,1310.6 400,1310.8 403,1311.1 406,1311.3 409,1311.6 412,1311.9 415,1312.2 418,1312.5 421,1312.8 424,1313.2 427,1313.5 430,1313.9 433,1314.2 436,1314.6 439,1315.1 442,1315.5 445,1316 448,1316.4 451,1317 454,1317.5 457,1318 460,1318.6 463,1319.2 466,1319.8 469,1320.4 472,1321.1 475,1321.7 478,1322.4 481,1323.1 484,1323.7 487,1324.4 490,1325.1 493,1325.8 496,1326.4 499,1327.1 502,1327.7 505,1328.3 508,1328.9 511,1329.5 514,1330 517,1330.6 520,1331.1 523,1331.6 526,1332 529,1332.4 532,1332.8 535,1333.2 538,1333.5 541,1333.8 544,1334.1 547,1334.3 550,1334.6 553,1334.8 556,1335 559,1335.2 562,1335.4 565,1335.5 568,1335.6 571,1335.8 574,1335.9 577,1336 580,1336.1 583,1336.2 586,1336.3 589,1336.4 592,1336.4 595,1336.5 598,1336.6 601,1336.7 604,1336.7 607,1336.8 610,1336.9 613,1336.9 616,1337 619,1337 622,1337.1 625,1337.2 628,1337.2 631,1337.3 634,1337.3 637,1337.4 640,1337.4 643,1337.5 646,1337.5 649,1337.6 652,1337.6 655,1337.7 658,1337.7 661,1337.8 664,1337.8 667,1337.9 670,1337.9 673,1338 676,1338 679,1338 682,1338.1 685,1338.1 688,1338.2 691,1338.2 694,1338.2 697,1338.3 700,1338.3 703,1338.3 706,1338.4 709,1338.4 712,1338.4 715,1338.5 718,1338.5 721,1338.5 724,1338.5 727,1338.5 730,1338.6 733,1338.6 736,1338.6 739,1338.6 742,1338.6 745,1338.6 748,1338.6 751,1338.6 754,1338.6 757,1338.7 760,1338.7 763,1338.7 766,1338.6 769,1338.6 772,1338.6 775,1338.6 778,1338.6 781,1338.6 784,1338.6 787,1338.6 790,1338.5 793,1338.5 796,1338.5 799,1338.4 802,1338.4 805,1338.4 808,1338.3 811,1338.2 814,1338.1 817,1338.1 820,1337.9 823,1337.8 826,1337.6 829,1337.5 832,1337.2 835,1337 838,1336.6 841,1336.3 844,1335.8 847,1335.3 850,1334.6 853,1333.9 856,1333 859,1332 862,1330.8 865,1329.4 868,1327.7 871,1325.9 874,1323.7 877,1321.2 880,1318.3 883,1315 886,1311.3 889,1307.2 892,1302.4 895,1297.2 898,1291.3 901,1284.7 904,1277.5 907,1269.5 910,1260.8 913,1251.3 916,1241 919,1229.8 922,1217.9 925,1205 928,1191.4 931,1177 934,1161.8 937,1145.8 940,1129.3 943,1112.1 946,1094.5 949,1076.4 952,1058.1 955,1039.6 958,1021.1 961,1002.7 964,984.6 967,967 970,950 973,933.8 976,918.5 979,904.5 982,891.8 985,880.6 988,871.2 991,863.5 994,857.8 997,854.1 1000,852.6 1003,853.2 1006,855.9 1009,860.8 1012,867.8 1015,876.6 1018,887.4 1021,899.8 1024,913.7 1027,929 1030,945.4 1033,962.8 1036,981 1039,999.9 1042,1019.2 1045,1038.7 1048,1058.3 1051,1077.9 1054,1097.3 1057,1116.5 1060,1135.1 1063,1153.3 1066,1170.9 1069,1187.7 1072,1203.9 1075,1219.2 1078,1233.7 1081,1247.4 1084,1260.2 1087,1272.1 1090,1283.2 1093,1293.5 1096,1302.9 1099,1311.6 1102,1319.5 1105,1326.7 1108,1333.2 1111,1339.1 1114,1344.4 1117,1349.1 1120,1353.3 1123,1357.1 1126,1360.5 1129,1363.4 1132,1366.1 1135,1368.4 1138,1370.5 1141,1372.3 1144,1373.9 1147,1375.3 1150,1376.5 1153,1377.6 1156,1378.6 1159,1379.5 1162,1380.2 1165,1380.9 1168,1381.6 1171,1382.1 1174,1382.6 1177,1383.1 1180,1383.5 1183,1383.9 1186,1384.3 1189,1384.6 1192,1384.9 1195,1385.2 1198,1385.5 1198,1390 1195,1389.8 1192,1389.5 1189,1389.3 1186,1389 1183,1388.8 1180,1388.6 1177,1388.3 1174,1388.1 1171,1387.8 1168,1387.6 1165,1387.4 1162,1387.1 1159,1386.9 1156,1386.6 1153,1386.4 1150,1386.2 1147,1385.9 1144,1385.7 1141,1385.4 1138,1385.2 1135,1385 1132,1384.7 1129,1384.5 1126,1384.2 1123,1384 1120,1383.8 1117,1383.5 1114,1383.3 1111,1383 1108,1382.8 1105,1382.6 1102,1382.3 1099,1382.1 1096,1381.8 1093,1381.6 1090,1381.4 1087,1381.1 1084,1380.9 1081,1380.6 1078,1380.4 1075,1380.2 1072,1379.9 1069,1379.7 1066,1379.4 1063,1379.2 1060,1378.9 1057,1378.7 1054,1378.5 1051,1378.2 1048,1378 1045,1377.7 1042,1377.5 1039,1377.3 1036,1377 1033,1376.8 1030,1376.5 1027,1376.3 1024,1376.1 1021,1375.8 1018,1375.6 1015,1375.3 1012,1375.1 1009,1374.9 1006,1374.6 1003,1374.4 1000,1374.1 997,1373.9 994,1373.7 991,1373.4 988,1373.2 985,1372.9 982,1372.7 979,1372.5 976,1372.2 973,1372 970,1371.7 967,1371.5 964,1371.3 961,1371 958,1370.8 955,1370.5 952,1370.3 949,1370.1 946,1369.8 943,1369.6 940,1369.3 937,1369.1 934,1368.9 931,1368.6 928,1368.4 925,1368.1 922,1367.9 919,1367.7 916,1367.4 913,1367.2 910,1366.9 907,1366.7 904,1366.5 901,1366.2 898,1366 895,1365.7 892,1365.5 889,1365.3 886,1365 883,1364.8 880,1364.5 877,1364.3 874,1364.1 871,1363.8 868,1363.6 865,1363.3 862,1363.1 859,1362.9 856,1362.6 853,1362.4 850,1362.1 847,1361.9 844,1361.7 841,1361.4 838,1361.2 835,1360.9 832,1360.7 829,1360.5 826,1360.2 823,1360 820,1359.7 817,1359.5 814,1359.3 811,1359 808,1358.8 805,1358.5 802,1358.3 799,1358.1 796,1357.8 793,1357.6 790,1357.3 787,1357.1 784,1356.8 781,1356.6 778,1356.4 775,1356.1 772,1355.9 769,1355.6 766,1355.4 763,1355.2 760,1354.9 757,1354.7 754,1354.4 751,1354.2 748,1354 745,1353.7 742,1353.5 739,1353.2 736,1353 733,1352.8 730,1352.5 727,1352.3 724,1352 721,1351.8 718,1351.6 715,1351.3 712,1351.1 709,1350.8 706,1350.6 703,1350.4 700,1350.1 697,1349.9 694,1349.6 691,1349.4 688,1349.2 685,1348.9 682,1348.7 679,1348.4 676,1348.2 673,1348 670,1347.7 667,1347.5 664,1347.2 661,1347 658,1346.8 655,1346.5 652,1346.3 649,1346 646,1345.8 643,1345.6 640,1345.3 637,1345.1 634,1344.8 631,1344.6 628,1344.4 625,1344.1 622,1343.9 619,1343.6 616,1343.4 613,1343.2 610,1342.9 607,1342.7 604,1342.4 601,1342.2 598,1342 595,1341.7 592,1341.5 589,1341.2 586,1341 583,1340.8 580,1340.5 577,1340.3 574,1340 571,1339.8 568,1339.6 565,1339.3 562,1339.1 559,1338.8 556,1338.6 553,1338.4 550,1338.1 547,1337.9 544,1337.6 541,1337.4 538,1337.2 535,1336.9 532,1336.7 529,1336.4 526,1336.2 523,1335.9 520,1335.7 517,1335.5 514,1335.2 511,1335 508,1334.7 505,1334.5 502,1334.3 499,1334 496,1333.8 493,1333.5 490,1333.3 487,1333.1 484,1332.8 481,1332.6 478,1332.3 475,1332.1 472,1331.9 469,1331.6 466,1331.4 463,1331.1 460,1330.9 457,1330.7 454,1330.4 451,1330.2 448,1329.9 445,1329.7 442,1329.5 439,1329.2 436,1329 433,1328.7 430,1328.5 427,1328.3 424,1328 421,1327.8 418,1327.5 415,1327.3 412,1327.1 409,1326.8 406,1326.6 403,1326.3 400,1326.1 397,1325.9 394,1325.6 391,1325.4 388,1325.1 385,1324.9 382,1324.7 379,1324.4 376,1324.2 373,1323.9 370,1323.7 367,1323.5 364,1323.2 361,1323 358,1322.7 355,1322.5 352,1322.3 349,1322 346,1321.8 343,1321.5 340,1321.3 337,1321.1 334,1320.8 331,1320.6 328,1320.3 325,1320.1 322,1319.9 319,1319.6 316,1319.4 313,1319.1 310,1318.9 307,1318.7 304,1318.4 301,1318.2 298,1317.9 295,1317.7 292,1317.5 289,1317.2 286,1317 283,1316.7 280,1316.5 277,1316.3 274,1316 271,1315.8 268,1315.5 265,1315.3 262,1315.1 259,1314.8 256,1314.6 253,1314.3 250,1314.1 247,1313.8 244,1313.6 241,1313.4 238,1313.1 235,1312.9 232,1312.6 229,1312.4 226,1312.2 223,1311.9 220,1311.7 217,1311.4 214,1311.2 211,1311 208,1310.7 205,1310.5 202,1310.2 199,1310 196,1309.8 193,1309.5 190,1309.3 187,1309 184,1308.8 181,1308.6 178,1308.3 175,1308.1 172,1307.8 169,1307.6 166,1307.4 163,1307.1 160,1306.9 157,1306.6 154,1306.4 151,1306.2 148,1305.9 145,1305.7 142,1305.4 139,1305.2 136,1305 133,1304.7 130,1304.5 127,1304.2 124,1304Z" fill="url(#g5)" stroke="none"/>
<path d="M124,1298.8 127,1298.8 130,1298.9 133,1299 136,1299 139,1299.1 142,1299.2 145,1299.2 148,1299.3 151,1299.3 154,1299.4 157,1299.4 160,1299.5 163,1299.6 166,1299.6 169,1299.7 172,1299.7 175,1299.8 178,1299.8 181,1299.9 184,1299.9 187,1300 190,1300 193,1300.1 196,1300.1 199,1300.2 202,1300.2 205,1300.3 208,1300.3 211,1300.3 214,1300.4 217,1300.4 220,1300.5 223,1300.5 226,1300.5 229,1300.6 232,1300.6 235,1300.6 238,1300.7 241,1300.7 244,1300.7 247,1300.7 250,1300.8 253,1300.8 256,1300.8 259,1300.8 262,1300.9 265,1300.9 268,1300.9 271,1300.9 274,1300.9 277,1300.9 280,1300.9 283,1300.9 286,1300.9 289,1300.9 292,1300.9 295,1300.9 298,1300.9 301,1300.8 304,1300.8 307,1300.8 310,1300.7 313,1300.6 316,1300.5 319,1300.4 322,1300.2 325,1300.1 328,1299.8 331,1299.6 334,1299.3 337,1298.9 340,1298.4 343,1297.9 346,1297.3 349,1296.5 352,1295.6 355,1294.6 358,1293.4 361,1292.1 364,1290.5 367,1288.7 370,1286.6 373,1284.2 376,1281.6 379,1278.6 382,1275.2 385,1271.4 388,1267.2 391,1262.5 394,1257.4 397,1251.7 400,1245.6 403,1238.8 406,1231.6 409,1223.8 412,1215.4 415,1206.4 418,1197 421,1187 424,1176.5 427,1165.5 430,1154.2 433,1142.5 436,1130.5 439,1118.3 442,1106 445,1093.6 448,1081.2 451,1069 454,1057.1 457,1045.6 460,1034.6 463,1024.2 466,1014.5 469,1005.7 472,997.9 475,991.2 478,985.7 481,981.4 484,978.5 487,977.1 490,977 493,978.4 496,981.3 499,985.5 502,991.1 505,997.9 508,1005.9 511,1014.9 514,1024.9 517,1035.8 520,1047.3 523,1059.4 526,1071.9 529,1084.8 532,1097.9 535,1111.1 538,1124.3 541,1137.4 544,1150.3 547,1163 550,1175.4 553,1187.3 556,1198.8 559,1209.8 562,1220.4 565,1230.3 568,1239.7 571,1248.5 574,1256.8 577,1264.4 580,1271.5 583,1278.1 586,1284.1 589,1289.6 592,1294.6 595,1299.1 598,1303.2 601,1306.9 604,1310.3 607,1313.2 610,1315.9 613,1318.3 616,1320.4 619,1322.3 622,1323.9 625,1325.4 628,1326.7 631,1327.8 634,1328.8 637,1329.7 640,1330.5 643,1331.2 646,1331.9 649,1332.4 652,1332.9 655,1333.4 658,1333.8 661,1334.2 664,1334.5 667,1334.9 670,1335.2 673,1335.4 676,1335.7 679,1335.9 682,1336.2 685,1336.4 688,1336.6 691,1336.8 694,1337 697,1337.2 700,1337.4 703,1337.6 706,1337.7 709,1337.9 712,1338.1 715,1338.3 718,1338.4 721,1338.6 724,1338.7 727,1338.9 730,1339 733,1339.2 736,1339.3 739,1339.5 742,1339.6 745,1339.8 748,1339.9 751,1340.1 754,1340.2 757,1340.3 760,1340.5 763,1340.6 766,1340.8 769,1340.9 772,1341.1 775,1341.2 778,1341.3 781,1341.5 784,1341.6 787,1341.8 790,1341.9 793,1342.1 796,1342.3 799,1342.4 802,1342.6 805,1342.7 808,1342.9 811,1343.1 814,1343.3 817,1343.5 820,1343.6 823,1343.8 826,1344 829,1344.2 832,1344.4 835,1344.7 838,1344.9 841,1345.1 844,1345.3 847,1345.6 850,1345.8 853,1346 856,1346.3 859,1346.6 862,1346.8 865,1347.1 868,1347.4 871,1347.6 874,1347.9 877,1348.2 880,1348.5 883,1348.8 886,1349.1 889,1349.4 892,1349.7 895,1350 898,1350.3 901,1350.7 904,1351 907,1351.3 910,1351.7 913,1352 916,1352.4 919,1352.8 922,1353.2 925,1353.5 928,1354 931,1354.4 934,1354.8 937,1355.3 940,1355.8 943,1356.3 946,1356.8 949,1357.4 952,1358 955,1358.6 958,1359.3 961,1360 964,1360.7 967,1361.5 970,1362.2 973,1363.1 976,1363.9 979,1364.8 982,1365.7 985,1366.6 988,1367.6 991,1368.5 994,1369.5 997,1370.5 1000,1371.5 1003,1372.4 1006,1373.4 1006,1374.6 1003,1374.4 1000,1374.1 997,1373.9 994,1373.7 991,1373.4 988,1373.2 985,1372.9 982,1372.7 979,1372.5 976,1372.2 973,1372 970,1371.7 967,1371.5 964,1371.3 961,1371 958,1370.8 955,1370.5 952,1370.3 949,1370.1 946,1369.8 943,1369.6 940,1369.3 937,1369.1 934,1368.9 931,1368.6 928,1368.4 925,1368.1 922,1367.9 919,1367.7 916,1367.4 913,1367.2 910,1366.9 907,1366.7 904,1366.5 901,1366.2 898,1366 895,1365.7 892,1365.5 889,1365.3 886,1365 883,1364.8 880,1364.5 877,1364.3 874,1364.1 871,1363.8 868,1363.6 865,1363.3 862,1363.1 859,1362.9 856,1362.6 853,1362.4 850,1362.1 847,1361.9 844,1361.7 841,1361.4 838,1361.2 835,1360.9 832,1360.7 829,1360.5 826,1360.2 823,1360 820,1359.7 817,1359.5 814,1359.3 811,1359 808,1358.8 805,1358.5 802,1358.3 799,1358.1 796,1357.8 793,1357.6 790,1357.3 787,1357.1 784,1356.8 781,1356.6 778,1356.4 775,1356.1 772,1355.9 769,1355.6 766,1355.4 763,1355.2 760,1354.9 757,1354.7 754,1354.4 751,1354.2 748,1354 745,1353.7 742,1353.5 739,1353.2 736,1353 733,1352.8 730,1352.5 727,1352.3 724,1352 721,1351.8 718,1351.6 715,1351.3 712,1351.1 709,1350.8 706,1350.6 703,1350.4 700,1350.1 697,1349.9 694,1349.6 691,1349.4 688,1349.2 685,1348.9 682,1348.7 679,1348.4 676,1348.2 673,1348 670,1347.7 667,1347.5 664,1347.2 661,1347 658,1346.8 655,1346.5 652,1346.3 649,1346 646,1345.8 643,1345.6 640,1345.3 637,1345.1 634,1344.8 631,1344.6 628,1344.4 625,1344.1 622,1343.9 619,1343.6 616,1343.4 613,1343.2 610,1342.9 607,1342.7 604,1342.4 601,1342.2 598,1342 595,1341.7 592,1341.5 589,1341.2 586,1341 583,1340.8 580,1340.5 577,1340.3 574,1340 571,1339.8 568,1339.6 565,1339.3 562,1339.1 559,1338.8 556,1338.6 553,1338.4 550,1338.1 547,1337.9 544,1337.6 541,1337.4 538,1337.2 535,1336.9 532,1336.7 529,1336.4 526,1336.2 523,1335.9 520,1335.7 517,1335.5 514,1335.2 511,1335 508,1334.7 505,1334.5 502,1334.3 499,1334 496,1333.8 493,1333.5 490,1333.3 487,1333.1 484,1332.8 481,1332.6 478,1332.3 475,1332.1 472,1331.9 469,1331.6 466,1331.4 463,1331.1 460,1330.9 457,1330.7 454,1330.4 451,1330.2 448,1329.9 445,1329.7 442,1329.5 439,1329.2 436,1329 433,1328.7 430,1328.5 427,1328.3 424,1328 421,1327.8 418,1327.5 415,1327.3 412,1327.1 409,1326.8 406,1326.6 403,1326.3 400,1326.1 397,1325.9 394,1325.6 391,1325.4 388,1325.1 385,1324.9 382,1324.7 379,1324.4 376,1324.2 373,1323.9 370,1323.7 367,1323.5 364,1323.2 361,1323 358,1322.7 355,1322.5 352,1322.3 349,1322 346,1321.8 343,1321.5 340,1321.3 337,1321.1 334,1320.8 331,1320.6 328,1320.3 325,1320.1 322,1319.9 319,1319.6 316,1319.4 313,1319.1 310,1318.9 307,1318.7 304,1318.4 301,1318.2 298,1317.9 295,1317.7 292,1317.5 289,1317.2 286,1317 283,1316.7 280,1316.5 277,1316.3 274,1316 271,1315.8 268,1315.5 265,1315.3 262,1315.1 259,1314.8 256,1314.6 253,1314.3 250,1314.1 247,1313.8 244,1313.6 241,1313.4 238,1313.1 235,1312.9 232,1312.6 229,1312.4 226,1312.2 223,1311.9 220,1311.7 217,1311.4 214,1311.2 211,1311 208,1310.7 205,1310.5 202,1310.2 199,1310 196,1309.8 193,1309.5 190,1309.3 187,1309 184,1308.8 181,1308.6 178,1308.3 175,1308.1 172,1307.8 169,1307.6 166,1307.4 163,1307.1 160,1306.9 157,1306.6 154,1306.4 151,1306.2 148,1305.9 145,1305.7 142,1305.4 139,1305.2 136,1305 133,1304.7 130,1304.5 127,1304.2 124,1304Z" fill="url(#g6)" stroke="none"/>
<path d="M124,1299.5 127,1299.6 130,1299.7 133,1299.8 136,1299.8 139,1299.9 142,1300 145,1300.1 148,1300.2 151,1300.2 154,1300.3 157,1300.4 160,1300.5 163,1300.5 166,1300.6 169,1300.7 172,1300.8 175,1300.9 178,1300.9 181,1301 184,1301.1 187,1301.2 190,1301.2 193,1301.3 196,1301.4 199,1301.5 202,1301.6 205,1301.6 208,1301.7 211,1301.8 214,1301.9 217,1302 220,1302 223,1302.1 226,1302.2 229,1302.3 232,1302.4 235,1302.4 238,1302.5 241,1302.6 244,1302.7 247,1302.8 250,1302.8 253,1302.9 256,1303 259,1303.1 262,1303.2 265,1303.3 268,1303.4 271,1303.5 274,1303.5 277,1303.6 280,1303.7 283,1303.8 286,1303.9 289,1304 292,1304.1 295,1304.3 298,1304.4 301,1304.5 304,1304.6 307,1304.7 310,1304.8 313,1305 316,1305.1 319,1305.2 322,1305.4 325,1305.5 328,1305.6 331,1305.8 334,1306 337,1306.1 340,1306.3 343,1306.4 346,1306.6 349,1306.8 352,1307 355,1307.1 358,1307.3 361,1307.5 364,1307.7 367,1307.9 370,1308.1 373,1308.3 376,1308.5 379,1308.8 382,1309 385,1309.2 388,1309.4 391,1309.6 394,1309.9 397,1310.1 400,1310.4 403,1310.6 406,1310.9 409,1311.2 412,1311.4 415,1311.7 418,1312 421,1312.3 424,1312.7 427,1313 430,1313.3 433,1313.7 436,1314.1 439,1314.5 442,1315 445,1315.4 448,1315.9 451,1316.4 454,1316.9 457,1317.4 460,1318 463,1318.6 466,1319.2 469,1319.8 472,1320.4 475,1321.1 478,1321.7 481,1322.4 484,1323 487,1323.7 490,1324.4 493,1325 496,1325.7 499,1326.3 502,1326.9 505,1327.5 508,1328.1 511,1328.7 514,1329.2 517,1329.7 520,1330.2 523,1330.7 526,1331.1 529,1331.5 532,1331.9 535,1332.2 538,1332.5 541,1332.8 544,1333.1 547,1333.3 550,1333.6 553,1333.8 556,1333.9 559,1334.1 562,1334.2 565,1334.4 568,1334.5 571,1334.6 574,1334.7 577,1334.8 580,1334.8 583,1334.9 586,1335 589,1335 592,1335.1 595,1335.1 598,1335.1 601,1335.2 604,1335.2 607,1335.2 610,1335.3 613,1335.3 616,1335.3 619,1335.3 622,1335.3 625,1335.3 628,1335.3 631,1335.3 634,1335.3 637,1335.3 640,1335.3 643,1335.2 646,1335.2 649,1335.2 652,1335.1 655,1335.1 658,1335 661,1334.9 664,1334.9 667,1334.8 670,1334.7 673,1334.5 676,1334.4 679,1334.3 682,1334.1 685,1333.9 688,1333.7 691,1333.5 694,1333.2 697,1333 700,1332.7 703,1332.3 706,1332 709,1331.6 712,1331.2 715,1330.7 718,1330.2 721,1329.7 724,1329.1 727,1328.5 730,1327.8 733,1327.1 736,1326.3 739,1325.5 742,1324.6 745,1323.6 748,1322.6 751,1321.6 754,1320.4 757,1319.2 760,1317.9 763,1316.6 766,1315.2 769,1313.7 772,1312.1 775,1310.4 778,1308.7 781,1306.9 784,1305 787,1303.1 790,1301.1 793,1299 796,1296.8 799,1294.6 802,1292.2 805,1289.9 808,1287.5 811,1285 814,1282.4 817,1279.9 820,1277.3 823,1274.6 826,1271.9 829,1269.2 832,1266.5 835,1263.8 838,1261.1 841,1258.4 844,1255.8 847,1253.1 850,1250.6 853,1248 856,1245.6 859,1243.2 862,1240.9 865,1238.8 868,1236.7 871,1234.8 874,1233.1 877,1231.5 880,1230 883,1228.8 886,1227.7 889,1226.9 892,1226.2 895,1225.8 898,1225.7 901,1225.7 904,1226 907,1226.5 910,1227.2 913,1228.2 916,1229.4 919,1230.8 922,1232.5 925,1234.3 928,1236.4 931,1238.6 934,1241 937,1243.6 940,1246.3 943,1249.2 946,1252.2 949,1255.4 952,1258.6 955,1262 958,1265.4 961,1268.9 964,1272.5 967,1276.1 970,1279.8 973,1283.5 976,1287.2 979,1291 982,1294.7 985,1298.5 988,1302.2 991,1305.9 994,1309.6 997,1313.2 1000,1316.8 1003,1320.2 1006,1323.7 1009,1327 1012,1330.2 1015,1333.4 1018,1336.4 1021,1339.4 1024,1342.2 1027,1344.9 1030,1347.5 1033,1350 1036,1352.4 1039,1354.6 1042,1356.8 1045,1358.8 1048,1360.7 1051,1362.5 1054,1364.1 1057,1365.7 1060,1367.2 1063,1368.6 1066,1369.9 1069,1371.1 1072,1372.2 1075,1373.2 1078,1374.2 1081,1375.1 1084,1376 1087,1376.8 1090,1377.5 1093,1378.2 1096,1378.8 1099,1379.5 1102,1380 1105,1380.5 1108,1381 1111,1381.5 1114,1381.9 1117,1382.3 1120,1382.7 1123,1383.1 1126,1383.4 1129,1383.7 1132,1384 1135,1384.3 1138,1384.6 1141,1384.9 1144,1385.1 1147,1385.4 1150,1385.6 1153,1385.8 1156,1386 1159,1386.2 1162,1386.4 1165,1386.6 1168,1386.8 1171,1387 1174,1387.2 1177,1387.4 1180,1387.5 1183,1387.7 1186,1387.8 1189,1388 1192,1388.2 1195,1388.3 1198,1388.5 1198,1390 1195,1389.8 1192,1389.5 1189,1389.3 1186,1389 1183,1388.8 1180,1388.6 1177,1388.3 1174,1388.1 1171,1387.8 1168,1387.6 1165,1387.4 1162,1387.1 1159,1386.9 1156,1386.6 1153,1386.4 1150,1386.2 1147,1385.9 1144,1385.7 1141,1385.4 1138,1385.2 1135,1385 1132,1384.7 1129,1384.5 1126,1384.2 1123,1384 1120,1383.8 1117,1383.5 1114,1383.3 1111,1383 1108,1382.8 1105,1382.6 1102,1382.3 1099,1382.1 1096,1381.8 1093,1381.6 1090,1381.4 1087,1381.1 1084,1380.9 1081,1380.6 1078,1380.4 1075,1380.2 1072,1379.9 1069,1379.7 1066,1379.4 1063,1379.2 1060,1378.9 1057,1378.7 1054,1378.5 1051,1378.2 1048,1378 1045,1377.7 1042,1377.5 1039,1377.3 1036,1377 1033,1376.8 1030,1376.5 1027,1376.3 1024,1376.1 1021,1375.8 1018,1375.6 1015,1375.3 1012,1375.1 1009,1374.9 1006,1374.6 1003,1374.4 1000,1374.1 997,1373.9 994,1373.7 991,1373.4 988,1373.2 985,1372.9 982,1372.7 979,1372.5 976,1372.2 973,1372 970,1371.7 967,1371.5 964,1371.3 961,1371 958,1370.8 955,1370.5 952,1370.3 949,1370.1 946,1369.8 943,1369.6 940,1369.3 937,1369.1 934,1368.9 931,1368.6 928,1368.4 925,1368.1 922,1367.9 919,1367.7 916,1367.4 913,1367.2 910,1366.9 907,1366.7 904,1366.5 901,1366.2 898,1366 895,1365.7 892,1365.5 889,1365.3 886,1365 883,1364.8 880,1364.5 877,1364.3 874,1364.1 871,1363.8 868,1363.6 865,1363.3 862,1363.1 859,1362.9 856,1362.6 853,1362.4 850,1362.1 847,1361.9 844,1361.7 841,1361.4 838,1361.2 835,1360.9 832,1360.7 829,1360.5 826,1360.2 823,1360 820,1359.7 817,1359.5 814,1359.3 811,1359 808,1358.8 805,1358.5 802,1358.3 799,1358.1 796,1357.8 793,1357.6 790,1357.3 787,1357.1 784,1356.8 781,1356.6 778,1356.4 775,1356.1 772,1355.9 769,1355.6 766,1355.4 763,1355.2 760,1354.9 757,1354.7 754,1354.4 751,1354.2 748,1354 745,1353.7 742,1353.5 739,1353.2 736,1353 733,1352.8 730,1352.5 727,1352.3 724,1352 721,1351.8 718,1351.6 715,1351.3 712,1351.1 709,1350.8 706,1350.6 703,1350.4 700,1350.1 697,1349.9 694,1349.6 691,1349.4 688,1349.2 685,1348.9 682,1348.7 679,1348.4 676,1348.2 673,1348 670,1347.7 667,1347.5 664,1347.2 661,1347 658,1346.8 655,1346.5 652,1346.3 649,1346 646,1345.8 643,1345.6 640,1345.3 637,1345.1 634,1344.8 631,1344.6 628,1344.4 625,1344.1 622,1343.9 619,1343.6 616,1343.4 613,1343.2 610,1342.9 607,1342.7 604,1342.4 601,1342.2 598,1342 595,1341.7 592,1341.5 589,1341.2 586,1341 583,1340.8 580,1340.5 577,1340.3 574,1340 571,1339.8 568,1339.6 565,1339.3 562,1339.1 559,1338.8 556,1338.6 553,1338.4 550,1338.1 547,1337.9 544,1337.6 541,1337.4 538,1337.2 535,1336.9 532,1336.7 529,1336.4 526,1336.2 523,1335.9 520,1335.7 517,1335.5 514,1335.2 511,1335 508,1334.7 505,1334.5 502,1334.3 499,1334 496,1333.8 493,1333.5 490,1333.3 487,1333.1 484,1332.8 481,1332.6 478,1332.3 475,1332.1 472,1331.9 469,1331.6 466,1331.4 463,1331.1 460,1330.9 457,1330.7 454,1330.4 451,1330.2 448,1329.9 445,1329.7 442,1329.5 439,1329.2 436,1329 433,1328.7 430,1328.5 427,1328.3 424,1328 421,1327.8 418,1327.5 415,1327.3 412,1327.1 409,1326.8 406,1326.6 403,1326.3 400,1326.1 397,1325.9 394,1325.6 391,1325.4 388,1325.1 385,1324.9 382,1324.7 379,1324.4 376,1324.2 373,1323.9 370,1323.7 367,1323.5 364,1323.2 361,1323 358,1322.7 355,1322.5 352,1322.3 349,1322 346,1321.8 343,1321.5 340,1321.3 337,1321.1 334,1320.8 331,1320.6 328,1320.3 325,1320.1 322,1319.9 319,1319.6 316,1319.4 313,1319.1 310,1318.9 307,1318.7 304,1318.4 301,1318.2 298,1317.9 295,1317.7 292,1317.5 289,1317.2 286,1317 283,1316.7 280,1316.5 277,1316.3 274,1316 271,1315.8 268,1315.5 265,1315.3 262,1315.1 259,1314.8 256,1314.6 253,1314.3 250,1314.1 247,1313.8 244,1313.6 241,1313.4 238,1313.1 235,1312.9 232,1312.6 229,1312.4 226,1312.2 223,1311.9 220,1311.7 217,1311.4 214,1311.2 211,1311 208,1310.7 205,1310.5 202,1310.2 199,1310 196,1309.8 193,1309.5 190,1309.3 187,1309 184,1308.8 181,1308.6 178,1308.3 175,1308.1 172,1307.8 169,1307.6 166,1307.4 163,1307.1 160,1306.9 157,1306.6 154,1306.4 151,1306.2 148,1305.9 145,1305.7 142,1305.4 139,1305.2 136,1305 133,1304.7 130,1304.5 127,1304.2 124,1304Z" fill="url(#g7)" stroke="none"/>
<path d="M124,1297.4 127,1297.5 130,1297.5 133,1297.5 136,1297.5 139,1297.5 142,1297.5 145,1297.5 148,1297.5 151,1297.5 154,1297.5 157,1297.4 160,1297.4 163,1297.4 166,1297.3 169,1297.2 172,1297.2 175,1297.1 178,1297 181,1296.9 184,1296.8 187,1296.6 190,1296.5 193,1296.3 196,1296.1 199,1295.9 202,1295.7 205,1295.4 208,1295.1 211,1294.8 214,1294.5 217,1294.1 220,1293.8 223,1293.3 226,1292.9 229,1292.4 232,1291.9 235,1291.3 238,1290.7 241,1290 244,1289.3 247,1288.6 250,1287.8 253,1287 256,1286.1 259,1285.1 262,1284.2 265,1283.1 268,1282 271,1280.9 274,1279.7 277,1278.4 280,1277.1 283,1275.8 286,1274.4 289,1272.9 292,1271.4 295,1269.9 298,1268.3 301,1266.6 304,1264.9 307,1263.2 310,1261.5 313,1259.7 316,1257.9 319,1256 322,1254.2 325,1252.3 328,1250.5 331,1248.6 334,1246.7 337,1244.9 340,1243.1 343,1241.3 346,1239.5 349,1237.8 352,1236.1 355,1234.5 358,1233 361,1231.5 364,1230.1 367,1228.9 370,1227.7 373,1226.6 376,1225.7 379,1224.9 382,1224.3 385,1223.7 388,1223.4 391,1223.2 394,1223.1 397,1223.3 400,1223.5 403,1224 406,1224.6 409,1225.4 412,1226.3 415,1227.4 418,1228.7 421,1230.1 424,1231.6 427,1233.3 430,1235 433,1236.9 436,1239 439,1241.1 442,1243.3 445,1245.6 448,1247.9 451,1250.4 454,1252.9 457,1255.4 460,1258 463,1260.6 466,1263.2 469,1265.9 472,1268.6 475,1271.2 478,1273.9 481,1276.5 484,1279.2 487,1281.8 490,1284.3 493,1286.8 496,1289.3 499,1291.7 502,1294.1 505,1296.4 508,1298.6 511,1300.7 514,1302.8 517,1304.8 520,1306.7 523,1308.5 526,1310.2 529,1311.9 532,1313.4 535,1314.9 538,1316.3 541,1317.7 544,1318.9 547,1320.1 550,1321.2 553,1322.3 556,1323.3 559,1324.2 562,1325 565,1325.9 568,1326.6 571,1327.3 574,1328 577,1328.6 580,1329.2 583,1329.7 586,1330.3 589,1330.7 592,1331.2 595,1331.6 598,1332 601,1332.4 604,1332.8 607,1333.1 610,1333.4 613,1333.7 616,1334 619,1334.3 622,1334.5 625,1334.8 628,1335 631,1335.2 634,1335.4 637,1335.6 640,1335.8 643,1336 646,1336.2 649,1336.4 652,1336.6 655,1336.7 658,1336.9 661,1337.1 664,1337.2 667,1337.4 670,1337.5 673,1337.7 676,1337.8 679,1337.9 682,1338.1 685,1338.2 688,1338.3 691,1338.5 694,1338.6 697,1338.7 700,1338.8 703,1339 706,1339.1 709,1339.2 712,1339.3 715,1339.5 718,1339.6 721,1339.7 724,1339.8 727,1339.9 730,1340 733,1340.2 736,1340.3 739,1340.4 742,1340.5 745,1340.6 748,1340.7 751,1340.9 754,1341 757,1341.1 760,1341.2 763,1341.3 766,1341.4 769,1341.6 772,1341.7 775,1341.8 778,1341.9 781,1342.1 784,1342.2 787,1342.3 790,1342.5 793,1342.6 796,1342.7 799,1342.9 802,1343 805,1343.2 808,1343.4 811,1343.5 814,1343.7 817,1343.8 820,1344 823,1344.2 826,1344.4 829,1344.6 832,1344.8 835,1345 838,1345.2 841,1345.4 844,1345.6 847,1345.9 850,1346.1 853,1346.3 856,1346.6 859,1346.8 862,1347.1 865,1347.3 868,1347.6 871,1347.9 874,1348.2 877,1348.4 880,1348.7 883,1349 886,1349.3 889,1349.6 892,1349.9 895,1350.2 898,1350.5 901,1350.9 904,1351.2 907,1351.5 910,1351.9 913,1352.2 916,1352.6 919,1352.9 922,1353.3 925,1353.7 928,1354.1 931,1354.5 934,1355 937,1355.4 940,1355.9 943,1356.4 946,1357 949,1357.5 952,1358.1 955,1358.7 958,1359.4 961,1360.1 964,1360.8 967,1361.6 970,1362.3 973,1363.2 976,1364 979,1364.9 982,1365.8 985,1366.7 988,1367.7 991,1368.6 994,1369.6 997,1370.6 1000,1371.5 1003,1372.5 1006,1373.5 1006,1374.6 1003,1374.4 1000,1374.1 997,1373.9 994,1373.7 991,1373.4 988,1373.2 985,1372.9 982,1372.7 979,1372.5 976,1372.2 973,1372 970,1371.7 967,1371.5 964,1371.3 961,1371 958,1370.8 955,1370.5 952,1370.3 949,1370.1 946,1369.8 943,1369.6 940,1369.3 937,1369.1 934,1368.9 931,1368.6 928,1368.4 925,1368.1 922,1367.9 919,1367.7 916,1367.4 913,1367.2 910,1366.9 907,1366.7 904,1366.5 901,1366.2 898,1366 895,1365.7 892,1365.5 889,1365.3 886,1365 883,1364.8 880,1364.5 877,1364.3 874,1364.1 871,1363.8 868,1363.6 865,1363.3 862,1363.1 859,1362.9 856,1362.6 853,1362.4 850,1362.1 847,1361.9 844,1361.7 841,1361.4 838,1361.2 835,1360.9 832,1360.7 829,1360.5 826,1360.2 823,1360 820,1359.7 817,1359.5 814,1359.3 811,1359 808,1358.8 805,1358.5 802,1358.3 799,1358.1 796,1357.8 793,1357.6 790,1357.3 787,1357.1 784,1356.8 781,1356.6 778,1356.4 775,1356.1 772,1355.9 769,1355.6 766,1355.4 763,1355.2 760,1354.9 757,1354.7 754,1354.4 751,1354.2 748,1354 745,1353.7 742,1353.5 739,1353.2 736,1353 733,1352.8 730,1352.5 727,1352.3 724,1352 721,1351.8 718,1351.6 715,1351.3 712,1351.1 709,1350.8 706,1350.6 703,1350.4 700,1350.1 697,1349.9 694,1349.6 691,1349.4 688,1349.2 685,1348.9 682,1348.7 679,1348.4 676,1348.2 673,1348 670,1347.7 667,1347.5 664,1347.2 661,1347 658,1346.8 655,1346.5 652,1346.3 649,1346 646,1345.8 643,1345.6 640,1345.3 637,1345.1 634,1344.8 631,1344.6 628,1344.4 625,1344.1 622,1343.9 619,1343.6 616,1343.4 613,1343.2 610,1342.9 607,1342.7 604,1342.4 601,1342.2 598,1342 595,1341.7 592,1341.5 589,1341.2 586,1341 583,1340.8 580,1340.5 577,1340.3 574,1340 571,1339.8 568,1339.6 565,1339.3 562,1339.1 559,1338.8 556,1338.6 553,1338.4 550,1338.1 547,1337.9 544,1337.6 541,1337.4 538,1337.2 535,1336.9 532,1336.7 529,1336.4 526,1336.2 523,1335.9 520,1335.7 517,1335.5 514,1335.2 511,1335 508,1334.7 505,1334.5 502,1334.3 499,1334 496,1333.8 493,1333.5 490,1333.3 487,1333.1 484,1332.8 481,1332.6 478,1332.3 475,1332.1 472,1331.9 469,1331.6 466,1331.4 463,1331.1 460,1330.9 457,1330.7 454,1330.4 451,1330.2 448,1329.9 445,1329.7 442,1329.5 439,1329.2 436,1329 433,1328.7 430,1328.5 427,1328.3 424,1328 421,1327.8 418,1327.5 415,1327.3 412,1327.1 409,1326.8 406,1326.6 403,1326.3 400,1326.1 397,1325.9 394,1325.6 391,1325.4 388,1325.1 385,1324.9 382,1324.7 379,1324.4 376,1324.2 373,1323.9 370,1323.7 367,1323.5 364,1323.2 361,1323 358,1322.7 355,1322.5 352,1322.3 349,1322 346,1321.8 343,1321.5 340,1321.3 337,1321.1 334,1320.8 331,1320.6 328,1320.3 325,1320.1 322,1319.9 319,1319.6 316,1319.4 313,1319.1 310,1318.9 307,1318.7 304,1318.4 301,1318.2 298,1317.9 295,1317.7 292,1317.5 289,1317.2 286,1317 283,1316.7 280,1316.5 277,1316.3 274,1316 271,1315.8 268,1315.5 265,1315.3 262,1315.1 259,1314.8 256,1314.6 253,1314.3 250,1314.1 247,1313.8 244,1313.6 241,1313.4 238,1313.1 235,1312.9 232,1312.6 229,1312.4 226,1312.2 223,1311.9 220,1311.7 217,1311.4 214,1311.2 211,1311 208,1310.7 205,1310.5 202,1310.2 199,1310 196,1309.8 193,1309.5 190,1309.3 187,1309 184,1308.8 181,1308.6 178,1308.3 175,1308.1 172,1307.8 169,1307.6 166,1307.4 163,1307.1 160,1306.9 157,1306.6 154,1306.4 151,1306.2 148,1305.9 145,1305.7 142,1305.4 139,1305.2 136,1305 133,1304.7 130,1304.5 127,1304.2 124,1304Z" fill="url(#g8)" stroke="none"/>
<path d="M125,1289.1 129.9,1281.6 134.8,1261.7 139.7,1287.2 144.6,1279.1 149.5,1292.7 154.4,1285.9 159.3,1292.7 164.2,1281.7 169.1,1281.5 174,1283.2 178.9,1286.4 183.8,1281.6 188.7,1277.5 193.6,1284.5 198.5,1282.1 203.4,1281.9 208.3,1278.8 213.2,1283 218.1,1277.9 223,1274.5 227.9,1281.7 232.8,1275.6 237.7,1288.3 242.6,1272.3 247.5,1260.6 252.4,1256.7 257.3,1270.2 262.2,1262.8 267.1,1247.8 272,1247.2 276.9,1239.8 281.8,1264.4 286.7,1254.8 291.6,1228.5 296.5,1256.6 301.4,1220.3 306.3,1236.8 311.2,1238.6 316.1,1241.1 321,1234.2 325.9,1230.9 330.8,1231.3 335.7,1219.1 340.6,1196.4 345.5,1207 350.4,1195.4 355.3,1196.1 360.2,1198.7 365.1,1175.1 370,1183.2 374.9,1169.8 379.8,1131.6 384.7,1131.8 389.6,1133.9 394.5,1126.7 399.4,1121.9 404.3,1111 409.2,1087.6 414.1,1081.2 419,1066 423.9,1045.7 428.8,1035.7 433.7,1014.5 438.6,997.4 443.5,970.6 448.4,971 453.3,930.1 458.2,938.3 463.1,923.3 468,905.6 472.9,895.5 477.8,909.1 482.7,898.8 487.6,910.4 492.5,908.5 497.4,913.7 502.3,916.2 507.2,944.1 512.1,941.6 517,968 521.9,967.6 526.8,1002.2 531.7,1020.3 536.6,1030 541.5,1070.6 546.4,1093.9 551.3,1110.9 556.2,1122.7 561.1,1133.3 566,1166.6 570.9,1155.7 575.8,1197.4 580.7,1224.5 585.6,1221.4 590.5,1244.5 595.4,1244.9 600.3,1250 605.2,1267.2 610.1,1267.4 615,1280.7 619.9,1293.2 624.8,1269.5 629.7,1283.3 634.6,1294.4 639.5,1300.4 644.4,1304.2 649.3,1308.3 654.2,1312.9 659.1,1302.1 664,1316.3 668.9,1306.8 673.8,1307.2 678.7,1283.3 683.6,1307.9 688.5,1306.7 693.4,1301.2 698.3,1305.3 703.2,1306.7 708.1,1303.1 713,1308.1 717.9,1298 722.8,1306.4 727.7,1299.8 732.6,1301.2 737.5,1267.3 742.4,1296.9 747.3,1294.2 752.2,1297.3 757.1,1284.8 762,1272.5 766.9,1281 771.8,1290.6 776.7,1284.4 781.6,1256 786.5,1286.8 791.4,1243.9 796.3,1269 801.2,1246.3 806.1,1253.2 811,1260.5 815.9,1259.5 820.8,1253.7 825.7,1247.3 830.6,1225.1 835.5,1236.1 840.4,1237.3 845.3,1221.6 850.2,1222.3 855.1,1205.4 860,1205.7 864.9,1181.2 869.8,1200.7 874.7,1177.1 879.6,1175.9 884.5,1170.8 889.4,1135.1 894.3,1148.3 899.2,1136.6 904.1,1119.4 909,1105.5 913.9,1084.1 918.8,1065.9 923.7,1037.5 928.6,1026.1 933.5,1009.3 938.4,975.9 943.3,927 948.2,931.2 953.1,911.5 958,887 962.9,849.2 967.8,813.5 972.7,808.7 977.6,794 982.5,764.5 987.4,766.9 992.3,750.7 997.2,748.1 1002.1,745.3 1007,719.4 1011.9,760.9 1016.8,745.1 1021.7,785.4 1026.6,813.3 1031.5,834.1 1036.4,858.2 1041.3,895.7 1046.2,918.9 1051.1,953.5 1056,989.5 1060.9,1022.6 1065.8,1055.5 1070.7,1088.4 1075.6,1109.8 1080.5,1133.6 1085.4,1172.1 1090.3,1195.4 1095.2,1209.4 1100.1,1224.5 1105,1248.4 1109.9,1244.7 1114.8,1264.2 1119.7,1272.4 1124.6,1307.3 1129.5,1325.3 1134.4,1332.7 1139.3,1329.8 1144.2,1334 1149.1,1324.1 1154,1349.7 1158.9,1351.7 1163.8,1358.8 1168.7,1359.8 1173.6,1358.9 1178.5,1337.8 1183.4,1358.2 1188.3,1373.6 1193.2,1366.1" fill="none" stroke="#bebebe" stroke-width="1.6"/>
<path d="M124,1305.5 127,1305.7 130,1306 133,1306.2 136,1306.5 139,1306.7 142,1306.9 145,1307.2 148,1307.4 151,1307.7 154,1307.9 157,1308.1 160,1308.4 163,1308.6 166,1308.9 169,1309.1 172,1309.3 175,1309.6 178,1309.8 181,1310.1 184,1310.3 187,1310.5 190,1310.8 193,1311 196,1311.3 199,1311.5 202,1311.7 205,1312 208,1312.2 211,1312.5 214,1312.7 217,1312.9 220,1313.2 223,1313.4 226,1313.7 229,1313.9 232,1314.1 235,1314.4 238,1314.6 241,1314.9 244,1315.1 247,1315.3 250,1315.6 253,1315.8 256,1316.1 259,1316.3 262,1316.6 265,1316.8 268,1317 271,1317.3 274,1317.5 277,1317.8 280,1318 283,1318.2 286,1318.5 289,1318.7 292,1319 295,1319.2 298,1319.4 301,1319.7 304,1319.9 307,1320.2 310,1320.4 313,1320.6 316,1320.9 319,1321.1 322,1321.4 325,1321.6 328,1321.8 331,1322.1 334,1322.3 337,1322.6 340,1322.8 343,1323 346,1323.3 349,1323.5 352,1323.8 355,1324 358,1324.2 361,1324.5 364,1324.7 367,1325 370,1325.2 373,1325.4 376,1325.7 379,1325.9 382,1326.2 385,1326.4 388,1326.6 391,1326.9 394,1327.1 397,1327.4 400,1327.6 403,1327.8 406,1328.1 409,1328.3 412,1328.6 415,1328.8 418,1329 421,1329.3 424,1329.5 427,1329.8 430,1330 433,1330.2 436,1330.5 439,1330.7 442,1331 445,1331.2 448,1331.4 451,1331.7 454,1331.9 457,1332.2 460,1332.4 463,1332.6 466,1332.9 469,1333.1 472,1333.4 475,1333.6 478,1333.8 481,1334.1 484,1334.3 487,1334.6 490,1334.8 493,1335 496,1335.3 499,1335.5 502,1335.8 505,1336 508,1336.2 511,1336.5 514,1336.7 517,1337 520,1337.2 523,1337.4 526,1337.7 529,1337.9 532,1338.2 535,1338.4 538,1338.7 541,1338.9 544,1339.1 547,1339.4 550,1339.6 553,1339.9 556,1340.1 559,1340.3 562,1340.6 565,1340.8 568,1341.1 571,1341.3 574,1341.5 577,1341.8 580,1342 583,1342.3 586,1342.5 589,1342.7 592,1343 595,1343.2 598,1343.5 601,1343.7 604,1343.9 607,1344.2 610,1344.4 613,1344.7 616,1344.9 619,1345.1 622,1345.4 625,1345.6 628,1345.9 631,1346.1 634,1346.3 637,1346.6 640,1346.8 643,1347.1 646,1347.3 649,1347.5 652,1347.8 655,1348 658,1348.3 661,1348.5 664,1348.7 667,1349 670,1349.2 673,1349.5 676,1349.7 679,1349.9 682,1350.2 685,1350.4 688,1350.7 691,1350.9 694,1351.1 697,1351.4 700,1351.6 703,1351.9 706,1352.1 709,1352.3 712,1352.6 715,1352.8 718,1353.1 721,1353.3 724,1353.5 727,1353.8 730,1354 733,1354.3 736,1354.5 739,1354.7 742,1355 745,1355.2 748,1355.5 751,1355.7 754,1355.9 757,1356.2 760,1356.4 763,1356.7 766,1356.9 769,1357.1 772,1357.4 775,1357.6 778,1357.9 781,1358.1 784,1358.3 787,1358.6 790,1358.8 793,1359.1 796,1359.3 799,1359.6 802,1359.8 805,1360 808,1360.3 811,1360.5 814,1360.8 817,1361 820,1361.2 823,1361.5 826,1361.7 829,1362 832,1362.2 835,1362.4 838,1362.7 841,1362.9 844,1363.2 847,1363.4 850,1363.6 853,1363.9 856,1364.1 859,1364.4 862,1364.6 865,1364.8 868,1365.1 871,1365.3 874,1365.6 877,1365.8 880,1366 883,1366.3 886,1366.5 889,1366.8 892,1367 895,1367.2 898,1367.5 901,1367.7 904,1368 907,1368.2 910,1368.4 913,1368.7 916,1368.9 919,1369.2 922,1369.4 925,1369.6 928,1369.9 931,1370.1 934,1370.4 937,1370.6 940,1370.8 943,1371.1 946,1371.3 949,1371.6 952,1371.8 955,1372 958,1372.3 961,1372.5 964,1372.8 967,1373 970,1373.2 973,1373.5 976,1373.7 979,1374 982,1374.2 985,1374.4 988,1374.7 991,1374.9 994,1375.2 997,1375.4 1000,1375.6 1003,1375.9 1006,1376.1 1009,1376.4 1012,1376.6 1015,1376.8 1018,1377.1 1021,1377.3 1024,1377.6 1027,1377.8 1030,1378 1033,1378.3 1036,1378.5 1039,1378.8 1042,1379 1045,1379.2 1048,1379.5 1051,1379.7 1054,1380 1057,1380.2 1060,1380.4 1063,1380.7 1066,1380.9 1069,1381.2 1072,1381.4 1075,1381.7 1078,1381.9 1081,1382.1 1084,1382.4 1087,1382.6 1090,1382.9 1093,1383.1 1096,1383.3 1099,1383.6 1102,1383.8 1105,1384.1 1108,1384.3 1111,1384.5 1114,1384.8 1117,1385 1120,1385.3 1123,1385.5 1126,1385.7 1129,1386 1132,1386.2 1135,1386.5 1138,1386.7 1141,1386.9 1144,1387.2 1147,1387.4 1150,1387.7 1153,1387.9 1156,1388.1 1159,1388.4 1162,1388.6 1165,1388.9 1168,1389.1 1171,1389.3 1174,1389.6 1177,1389.8 1180,1390.1 1183,1390.3 1186,1390.5 1189,1390.8 1192,1391 1195,1391.3 1198,1391.5" fill="none" stroke="#0000ff" stroke-width="5.5" stroke-dasharray="6 6.6"/>
<path d="M124,1302.5 127,1302.7 130,1303 133,1303.2 136,1303.5 139,1303.7 142,1303.9 145,1304.2 148,1304.4 151,1304.7 154,1304.9 157,1305.1 160,1305.4 163,1305.6 166,1305.9 169,1306.1 172,1306.3 175,1306.6 178,1306.8 181,1307.1 184,1307.3 187,1307.5 190,1307.8 193,1308 196,1308.3 199,1308.5 202,1308.7 205,1309 208,1309.2 211,1309.5 214,1309.7 217,1309.9 220,1310.2 223,1310.4 226,1310.7 229,1310.9 232,1311.1 235,1311.4 238,1311.6 241,1311.9 244,1312.1 247,1312.3 250,1312.6 253,1312.8 256,1313.1 259,1313.3 262,1313.6 265,1313.8 268,1314 271,1314.3 274,1314.5 277,1314.8 280,1315 283,1315.2 286,1315.5 289,1315.7 292,1316 295,1316.2 298,1316.4 301,1316.7 304,1316.9 307,1317.2 310,1317.4 313,1317.6 316,1317.9 319,1318.1 322,1318.4 325,1318.6 328,1318.8 331,1319.1 334,1319.3 337,1319.6 340,1319.8 343,1320 346,1320.3 349,1320.5 352,1320.8 355,1321 358,1321.2 361,1321.5 364,1321.7 367,1322 370,1322.2 373,1322.4 376,1322.7 379,1322.9 382,1323.2 385,1323.4 388,1323.6 391,1323.9 394,1324.1 397,1324.4 400,1324.6 403,1324.8 406,1325.1 409,1325.3 412,1325.6 415,1325.8 418,1326 421,1326.3 424,1326.5 427,1326.8 430,1327 433,1327.2 436,1327.5 439,1327.7 442,1328 445,1328.2 448,1328.4 451,1328.7 454,1328.9 457,1329.2 460,1329.4 463,1329.6 466,1329.9 469,1330.1 472,1330.4 475,1330.6 478,1330.8 481,1331.1 484,1331.3 487,1331.6 490,1331.8 493,1332 496,1332.3 499,1332.5 502,1332.8 505,1333 508,1333.2 511,1333.5 514,1333.7 517,1334 520,1334.2 523,1334.4 526,1334.7 529,1334.9 532,1335.2 535,1335.4 538,1335.7 541,1335.9 544,1336.1 547,1336.4 550,1336.6 553,1336.9 556,1337.1 559,1337.3 562,1337.6 565,1337.8 568,1338.1 571,1338.3 574,1338.5 577,1338.8 580,1339 583,1339.3 586,1339.5 589,1339.7 592,1340 595,1340.2 598,1340.5 601,1340.7 604,1340.9 607,1341.2 610,1341.4 613,1341.7 616,1341.9 619,1342.1 622,1342.4 625,1342.6 628,1342.9 631,1343.1 634,1343.3 637,1343.6 640,1343.8 643,1344.1 646,1344.3 649,1344.5 652,1344.8 655,1345 658,1345.3 661,1345.5 664,1345.7 667,1346 670,1346.2 673,1346.5 676,1346.7 679,1346.9 682,1347.2 685,1347.4 688,1347.7 691,1347.9 694,1348.1 697,1348.4 700,1348.6 703,1348.9 706,1349.1 709,1349.3 712,1349.6 715,1349.8 718,1350.1 721,1350.3 724,1350.5 727,1350.8 730,1351 733,1351.3 736,1351.5 739,1351.7 742,1352 745,1352.2 748,1352.5 751,1352.7 754,1352.9 757,1353.2 760,1353.4 763,1353.7 766,1353.9 769,1354.1 772,1354.4 775,1354.6 778,1354.9 781,1355.1 784,1355.3 787,1355.6 790,1355.8 793,1356.1 796,1356.3 799,1356.6 802,1356.8 805,1357 808,1357.3 811,1357.5 814,1357.8 817,1358 820,1358.2 823,1358.5 826,1358.7 829,1359 832,1359.2 835,1359.4 838,1359.7 841,1359.9 844,1360.2 847,1360.4 850,1360.6 853,1360.9 856,1361.1 859,1361.4 862,1361.6 865,1361.8 868,1362.1 871,1362.3 874,1362.6 877,1362.8 880,1363 883,1363.3 886,1363.5 889,1363.8 892,1364 895,1364.2 898,1364.5 901,1364.7 904,1365 907,1365.2 910,1365.4 913,1365.7 916,1365.9 919,1366.2 922,1366.4 925,1366.6 928,1366.9 931,1367.1 934,1367.4 937,1367.6 940,1367.8 943,1368.1 946,1368.3 949,1368.6 952,1368.8 955,1369 958,1369.3 961,1369.5 964,1369.8 967,1370 970,1370.2 973,1370.5 976,1370.7 979,1371 982,1371.2 985,1371.4 988,1371.7 991,1371.9 994,1372.2 997,1372.4 1000,1372.6 1003,1372.9 1006,1373.1 1009,1373.4 1012,1373.6 1015,1373.8 1018,1374.1 1021,1374.3 1024,1374.6 1027,1374.8 1030,1375 1033,1375.3 1036,1375.5 1039,1375.8 1042,1376 1045,1376.2 1048,1376.5 1051,1376.7 1054,1377 1057,1377.2 1060,1377.4 1063,1377.7 1066,1377.9 1069,1378.2 1072,1378.4 1075,1378.7 1078,1378.9 1081,1379.1 1084,1379.4 1087,1379.6 1090,1379.9 1093,1380.1 1096,1380.3 1099,1380.6 1102,1380.8 1105,1381.1 1108,1381.3 1111,1381.5 1114,1381.8 1117,1382 1120,1382.3 1123,1382.5 1126,1382.7 1129,1383 1132,1383.2 1135,1383.5 1138,1383.7 1141,1383.9 1144,1384.2 1147,1384.4 1150,1384.7 1153,1384.9 1156,1385.1 1159,1385.4 1162,1385.6 1165,1385.9 1168,1386.1 1171,1386.3 1174,1386.6 1177,1386.8 1180,1387.1 1183,1387.3 1186,1387.5 1189,1387.8 1192,1388 1195,1388.3 1198,1388.5" fill="none" stroke="#00bf46" stroke-width="5.5" stroke-dasharray="6 6.6" stroke-dashoffset="6.3"/>
<path d="M124,1299.7 127,1299.8 130,1299.8 133,1299.9 136,1300 139,1300.1 142,1300.2 145,1300.2 148,1300.3 151,1300.4 154,1300.5 157,1300.6 160,1300.6 163,1300.7 166,1300.8 169,1300.9 172,1301 175,1301 178,1301.1 181,1301.2 184,1301.3 187,1301.4 190,1301.4 193,1301.5 196,1301.6 199,1301.7 202,1301.8 205,1301.8 208,1301.9 211,1302 214,1302.1 217,1302.2 220,1302.3 223,1302.3 226,1302.4 229,1302.5 232,1302.6 235,1302.7 238,1302.7 241,1302.8 244,1302.9 247,1303 250,1303.1 253,1303.2 256,1303.3 259,1303.3 262,1303.4 265,1303.5 268,1303.6 271,1303.7 274,1303.8 277,1303.9 280,1304 283,1304.1 286,1304.2 289,1304.3 292,1304.4 295,1304.5 298,1304.7 301,1304.8 304,1304.9 307,1305 310,1305.1 313,1305.3 316,1305.4 319,1305.5 322,1305.7 325,1305.8 328,1306 331,1306.1 334,1306.3 337,1306.4 340,1306.6 343,1306.8 346,1307 349,1307.1 352,1307.3 355,1307.5 358,1307.7 361,1307.9 364,1308.1 367,1308.3 370,1308.5 373,1308.7 376,1308.9 379,1309.2 382,1309.4 385,1309.6 388,1309.8 391,1310.1 394,1310.3 397,1310.6 400,1310.8 403,1311.1 406,1311.3 409,1311.6 412,1311.9 415,1312.2 418,1312.5 421,1312.8 424,1313.2 427,1313.5 430,1313.9 433,1314.2 436,1314.6 439,1315.1 442,1315.5 445,1316 448,1316.4 451,1317 454,1317.5 457,1318 460,1318.6 463,1319.2 466,1319.8 469,1320.4 472,1321.1 475,1321.7 478,1322.4 481,1323.1 484,1323.7 487,1324.4 490,1325.1 493,1325.8 496,1326.4 499,1327.1 502,1327.7 505,1328.3 508,1328.9 511,1329.5 514,1330 517,1330.6 520,1331.1 523,1331.6 526,1332 529,1332.4 532,1332.8 535,1333.2 538,1333.5 541,1333.8 544,1334.1 547,1334.3 550,1334.6 553,1334.8 556,1335 559,1335.2 562,1335.4 565,1335.5 568,1335.6 571,1335.8 574,1335.9 577,1336 580,1336.1 583,1336.2 586,1336.3 589,1336.4 592,1336.4 595,1336.5 598,1336.6 601,1336.7 604,1336.7 607,1336.8 610,1336.9 613,1336.9 616,1337 619,1337 622,1337.1 625,1337.2 628,1337.2 631,1337.3 634,1337.3 637,1337.4 640,1337.4 643,1337.5 646,1337.5 649,1337.6 652,1337.6 655,1337.7 658,1337.7 661,1337.8 664,1337.8 667,1337.9 670,1337.9 673,1338 676,1338 679,1338 682,1338.1 685,1338.1 688,1338.2 691,1338.2 694,1338.2 697,1338.3 700,1338.3 703,1338.3 706,1338.4 709,1338.4 712,1338.4 715,1338.5 718,1338.5 721,1338.5 724,1338.5 727,1338.5 730,1338.6 733,1338.6 736,1338.6 739,1338.6 742,1338.6 745,1338.6 748,1338.6 751,1338.6 754,1338.6 757,1338.7 760,1338.7 763,1338.7 766,1338.6 769,1338.6 772,1338.6 775,1338.6 778,1338.6 781,1338.6 784,1338.6 787,1338.6 790,1338.5 793,1338.5 796,1338.5 799,1338.4 802,1338.4 805,1338.4 808,1338.3 811,1338.2 814,1338.1 817,1338.1 820,1337.9 823,1337.8 826,1337.6 829,1337.5 832,1337.2 835,1337 838,1336.6 841,1336.3 844,1335.8 847,1335.3 850,1334.6 853,1333.9 856,1333 859,1332 862,1330.8 865,1329.4 868,1327.7 871,1325.9 874,1323.7 877,1321.2 880,1318.3 883,1315 886,1311.3 889,1307.2 892,1302.4 895,1297.2 898,1291.3 901,1284.7 904,1277.5 907,1269.5 910,1260.8 913,1251.3 916,1241 919,1229.8 922,1217.9 925,1205 928,1191.4 931,1177 934,1161.8 937,1145.8 940,1129.3 943,1112.1 946,1094.5 949,1076.4 952,1058.1 955,1039.6 958,1021.1 961,1002.7 964,984.6 967,967 970,950 973,933.8 976,918.5 979,904.5 982,891.8 985,880.6 988,871.2 991,863.5 994,857.8 997,854.1 1000,852.6 1003,853.2 1006,855.9 1009,860.8 1012,867.8 1015,876.6 1018,887.4 1021,899.8 1024,913.7 1027,929 1030,945.4 1033,962.8 1036,981 1039,999.9 1042,1019.2 1045,1038.7 1048,1058.3 1051,1077.9 1054,1097.3 1057,1116.5 1060,1135.1 1063,1153.3 1066,1170.9 1069,1187.7 1072,1203.9 1075,1219.2 1078,1233.7 1081,1247.4 1084,1260.2 1087,1272.1 1090,1283.2 1093,1293.5 1096,1302.9 1099,1311.6 1102,1319.5 1105,1326.7 1108,1333.2 1111,1339.1 1114,1344.4 1117,1349.1 1120,1353.3 1123,1357.1 1126,1360.5 1129,1363.4 1132,1366.1 1135,1368.4 1138,1370.5 1141,1372.3 1144,1373.9 1147,1375.3 1150,1376.5 1153,1377.6 1156,1378.6 1159,1379.5 1162,1380.2 1165,1380.9 1168,1381.6 1171,1382.1 1174,1382.6 1177,1383.1 1180,1383.5 1183,1383.9 1186,1384.3 1189,1384.6 1192,1384.9 1195,1385.2 1198,1385.5" fill="none" stroke="#0000ff" stroke-width="5.5" stroke-dasharray="5.5 7"/>
<path d="M124,1298.8 127,1298.8 130,1298.9 133,1299 136,1299 139,1299.1 142,1299.2 145,1299.2 148,1299.3 151,1299.3 154,1299.4 157,1299.4 160,1299.5 163,1299.6 166,1299.6 169,1299.7 172,1299.7 175,1299.8 178,1299.8 181,1299.9 184,1299.9 187,1300 190,1300 193,1300.1 196,1300.1 199,1300.2 202,1300.2 205,1300.3 208,1300.3 211,1300.3 214,1300.4 217,1300.4 220,1300.5 223,1300.5 226,1300.5 229,1300.6 232,1300.6 235,1300.6 238,1300.7 241,1300.7 244,1300.7 247,1300.7 250,1300.8 253,1300.8 256,1300.8 259,1300.8 262,1300.9 265,1300.9 268,1300.9 271,1300.9 274,1300.9 277,1300.9 280,1300.9 283,1300.9 286,1300.9 289,1300.9 292,1300.9 295,1300.9 298,1300.9 301,1300.8 304,1300.8 307,1300.8 310,1300.7 313,1300.6 316,1300.5 319,1300.4 322,1300.2 325,1300.1 328,1299.8 331,1299.6 334,1299.3 337,1298.9 340,1298.4 343,1297.9 346,1297.3 349,1296.5 352,1295.6 355,1294.6 358,1293.4 361,1292.1 364,1290.5 367,1288.7 370,1286.6 373,1284.2 376,1281.6 379,1278.6 382,1275.2 385,1271.4 388,1267.2 391,1262.5 394,1257.4 397,1251.7 400,1245.6 403,1238.8 406,1231.6 409,1223.8 412,1215.4 415,1206.4 418,1197 421,1187 424,1176.5 427,1165.5 430,1154.2 433,1142.5 436,1130.5 439,1118.3 442,1106 445,1093.6 448,1081.2 451,1069 454,1057.1 457,1045.6 460,1034.6 463,1024.2 466,1014.5 469,1005.7 472,997.9 475,991.2 478,985.7 481,981.4 484,978.5 487,977.1 490,977 493,978.4 496,981.3 499,985.5 502,991.1 505,997.9 508,1005.9 511,1014.9 514,1024.9 517,1035.8 520,1047.3 523,1059.4 526,1071.9 529,1084.8 532,1097.9 535,1111.1 538,1124.3 541,1137.4 544,1150.3 547,1163 550,1175.4 553,1187.3 556,1198.8 559,1209.8 562,1220.4 565,1230.3 568,1239.7 571,1248.5 574,1256.8 577,1264.4 580,1271.5 583,1278.1 586,1284.1 589,1289.6 592,1294.6 595,1299.1 598,1303.2 601,1306.9 604,1310.3 607,1313.2 610,1315.9 613,1318.3 616,1320.4 619,1322.3 622,1323.9 625,1325.4 628,1326.7 631,1327.8 634,1328.8 637,1329.7 640,1330.5 643,1331.2 646,1331.9 649,1332.4 652,1332.9 655,1333.4 658,1333.8 661,1334.2 664,1334.5 667,1334.9 670,1335.2 673,1335.4 676,1335.7 679,1335.9 682,1336.2 685,1336.4 688,1336.6 691,1336.8 694,1337 697,1337.2 700,1337.4 703,1337.6 706,1337.7 709,1337.9 712,1338.1 715,1338.3 718,1338.4 721,1338.6 724,1338.7 727,1338.9 730,1339 733,1339.2 736,1339.3 739,1339.5 742,1339.6 745,1339.8 748,1339.9 751,1340.1 754,1340.2 757,1340.3 760,1340.5 763,1340.6 766,1340.8 769,1340.9 772,1341.1 775,1341.2 778,1341.3 781,1341.5 784,1341.6 787,1341.8 790,1341.9 793,1342.1 796,1342.3 799,1342.4 802,1342.6 805,1342.7 808,1342.9 811,1343.1 814,1343.3 817,1343.5 820,1343.6 823,1343.8 826,1344 829,1344.2 832,1344.4 835,1344.7 838,1344.9 841,1345.1 844,1345.3 847,1345.6 850,1345.8 853,1346 856,1346.3 859,1346.6 862,1346.8 865,1347.1 868,1347.4 871,1347.6 874,1347.9 877,1348.2 880,1348.5 883,1348.8 886,1349.1 889,1349.4 892,1349.7 895,1350 898,1350.3 901,1350.7 904,1351 907,1351.3 910,1351.7 913,1352 916,1352.4 919,1352.8 922,1353.2 925,1353.5 928,1354 931,1354.4 934,1354.8 937,1355.3 940,1355.8 943,1356.3 946,1356.8 949,1357.4 952,1358 955,1358.6 958,1359.3 961,1360 964,1360.7 967,1361.5 970,1362.2 973,1363.1 976,1363.9 979,1364.8 982,1365.7 985,1366.6 988,1367.6 991,1368.5 994,1369.5 997,1370.5 1000,1371.5 1003,1372.4 1006,1373.4 1009,1374.4 1012,1375.3 1015,1376.2 1018,1377.1 1021,1378 1024,1378.8 1027,1379.6 1030,1380.3 1033,1381 1036,1381.7 1039,1382.3 1042,1382.9 1045,1383.5 1048,1384 1051,1384.4 1054,1384.9 1057,1385.3 1060,1385.6 1063,1386 1066,1386.3 1069,1386.5 1072,1386.8 1075,1387 1078,1387.2 1081,1387.4 1084,1387.6 1087,1387.7 1090,1387.9 1093,1388 1096,1388.2 1099,1388.3 1102,1388.4 1105,1388.5 1108,1388.6 1111,1388.7 1114,1388.8 1117,1388.9 1120,1389 1123,1389.1 1126,1389.2 1129,1389.3 1132,1389.4 1135,1389.5 1138,1389.5 1141,1389.6 1144,1389.7 1147,1389.8 1150,1389.9 1153,1390 1156,1390.1 1159,1390.2 1162,1390.2 1165,1390.3 1168,1390.4 1171,1390.5 1174,1390.6 1177,1390.7 1180,1390.8 1183,1390.8 1186,1390.9 1189,1391 1192,1391.1 1195,1391.2 1198,1391.3" fill="none" stroke="#0000ff" stroke-width="5.5" stroke-dasharray="5.5 7"/>
<path d="M124,1299.5 127,1299.6 130,1299.7 133,1299.8 136,1299.8 139,1299.9 142,1300 145,1300.1 148,1300.2 151,1300.2 154,1300.3 157,1300.4 160,1300.5 163,1300.5 166,1300.6 169,1300.7 172,1300.8 175,1300.9 178,1300.9 181,1301 184,1301.1 187,1301.2 190,1301.2 193,1301.3 196,1301.4 199,1301.5 202,1301.6 205,1301.6 208,1301.7 211,1301.8 214,1301.9 217,1302 220,1302 223,1302.1 226,1302.2 229,1302.3 232,1302.4 235,1302.4 238,1302.5 241,1302.6 244,1302.7 247,1302.8 250,1302.8 253,1302.9 256,1303 259,1303.1 262,1303.2 265,1303.3 268,1303.4 271,1303.5 274,1303.5 277,1303.6 280,1303.7 283,1303.8 286,1303.9 289,1304 292,1304.1 295,1304.3 298,1304.4 301,1304.5 304,1304.6 307,1304.7 310,1304.8 313,1305 316,1305.1 319,1305.2 322,1305.4 325,1305.5 328,1305.6 331,1305.8 334,1306 337,1306.1 340,1306.3 343,1306.4 346,1306.6 349,1306.8 352,1307 355,1307.1 358,1307.3 361,1307.5 364,1307.7 367,1307.9 370,1308.1 373,1308.3 376,1308.5 379,1308.8 382,1309 385,1309.2 388,1309.4 391,1309.6 394,1309.9 397,1310.1 400,1310.4 403,1310.6 406,1310.9 409,1311.2 412,1311.4 415,1311.7 418,1312 421,1312.3 424,1312.7 427,1313 430,1313.3 433,1313.7 436,1314.1 439,1314.5 442,1315 445,1315.4 448,1315.9 451,1316.4 454,1316.9 457,1317.4 460,1318 463,1318.6 466,1319.2 469,1319.8 472,1320.4 475,1321.1 478,1321.7 481,1322.4 484,1323 487,1323.7 490,1324.4 493,1325 496,1325.7 499,1326.3 502,1326.9 505,1327.5 508,1328.1 511,1328.7 514,1329.2 517,1329.7 520,1330.2 523,1330.7 526,1331.1 529,1331.5 532,1331.9 535,1332.2 538,1332.5 541,1332.8 544,1333.1 547,1333.3 550,1333.6 553,1333.8 556,1333.9 559,1334.1 562,1334.2 565,1334.4 568,1334.5 571,1334.6 574,1334.7 577,1334.8 580,1334.8 583,1334.9 586,1335 589,1335 592,1335.1 595,1335.1 598,1335.1 601,1335.2 604,1335.2 607,1335.2 610,1335.3 613,1335.3 616,1335.3 619,1335.3 622,1335.3 625,1335.3 628,1335.3 631,1335.3 634,1335.3 637,1335.3 640,1335.3 643,1335.2 646,1335.2 649,1335.2 652,1335.1 655,1335.1 658,1335 661,1334.9 664,1334.9 667,1334.8 670,1334.7 673,1334.5 676,1334.4 679,1334.3 682,1334.1 685,1333.9 688,1333.7 691,1333.5 694,1333.2 697,1333 700,1332.7 703,1332.3 706,1332 709,1331.6 712,1331.2 715,1330.7 718,1330.2 721,1329.7 724,1329.1 727,1328.5 730,1327.8 733,1327.1 736,1326.3 739,1325.5 742,1324.6 745,1323.6 748,1322.6 751,1321.6 754,1320.4 757,1319.2 760,1317.9 763,1316.6 766,1315.2 769,1313.7 772,1312.1 775,1310.4 778,1308.7 781,1306.9 784,1305 787,1303.1 790,1301.1 793,1299 796,1296.8 799,1294.6 802,1292.2 805,1289.9 808,1287.5 811,1285 814,1282.4 817,1279.9 820,1277.3 823,1274.6 826,1271.9 829,1269.2 832,1266.5 835,1263.8 838,1261.1 841,1258.4 844,1255.8 847,1253.1 850,1250.6 853,1248 856,1245.6 859,1243.2 862,1240.9 865,1238.8 868,1236.7 871,1234.8 874,1233.1 877,1231.5 880,1230 883,1228.8 886,1227.7 889,1226.9 892,1226.2 895,1225.8 898,1225.7 901,1225.7 904,1226 907,1226.5 910,1227.2 913,1228.2 916,1229.4 919,1230.8 922,1232.5 925,1234.3 928,1236.4 931,1238.6 934,1241 937,1243.6 940,1246.3 943,1249.2 946,1252.2 949,1255.4 952,1258.6 955,1262 958,1265.4 961,1268.9 964,1272.5 967,1276.1 970,1279.8 973,1283.5 976,1287.2 979,1291 982,1294.7 985,1298.5 988,1302.2 991,1305.9 994,1309.6 997,1313.2 1000,1316.8 1003,1320.2 1006,1323.7 1009,1327 1012,1330.2 1015,1333.4 1018,1336.4 1021,1339.4 1024,1342.2 1027,1344.9 1030,1347.5 1033,1350 1036,1352.4 1039,1354.6 1042,1356.8 1045,1358.8 1048,1360.7 1051,1362.5 1054,1364.1 1057,1365.7 1060,1367.2 1063,1368.6 1066,1369.9 1069,1371.1 1072,1372.2 1075,1373.2 1078,1374.2 1081,1375.1 1084,1376 1087,1376.8 1090,1377.5 1093,1378.2 1096,1378.8 1099,1379.5 1102,1380 1105,1380.5 1108,1381 1111,1381.5 1114,1381.9 1117,1382.3 1120,1382.7 1123,1383.1 1126,1383.4 1129,1383.7 1132,1384 1135,1384.3 1138,1384.6 1141,1384.9 1144,1385.1 1147,1385.4 1150,1385.6 1153,1385.8 1156,1386 1159,1386.2 1162,1386.4 1165,1386.6 1168,1386.8 1171,1387 1174,1387.2 1177,1387.4 1180,1387.5 1183,1387.7 1186,1387.8 1189,1388 1192,1388.2 1195,1388.3 1198,1388.5" fill="none" stroke="#00bf46" stroke-width="5.5" stroke-dasharray="5.5 7"/>
<path d="M124,1297.4 127,1297.5 130,1297.5 133,1297.5 136,1297.5 139,1297.5 142,1297.5 145,1297.5 148,1297.5 151,1297.5 154,1297.5 157,1297.4 160,1297.4 163,1297.4 166,1297.3 169,1297.2 172,1297.2 175,1297.1 178,1297 181,1296.9 184,1296.8 187,1296.6 190,1296.5 193,1296.3 196,1296.1 199,1295.9 202,1295.7 205,1295.4 208,1295.1 211,1294.8 214,1294.5 217,1294.1 220,1293.8 223,1293.3 226,1292.9 229,1292.4 232,1291.9 235,1291.3 238,1290.7 241,1290 244,1289.3 247,1288.6 250,1287.8 253,1287 256,1286.1 259,1285.1 262,1284.2 265,1283.1 268,1282 271,1280.9 274,1279.7 277,1278.4 280,1277.1 283,1275.8 286,1274.4 289,1272.9 292,1271.4 295,1269.9 298,1268.3 301,1266.6 304,1264.9 307,1263.2 310,1261.5 313,1259.7 316,1257.9 319,1256 322,1254.2 325,1252.3 328,1250.5 331,1248.6 334,1246.7 337,1244.9 340,1243.1 343,1241.3 346,1239.5 349,1237.8 352,1236.1 355,1234.5 358,1233 361,1231.5 364,1230.1 367,1228.9 370,1227.7 373,1226.6 376,1225.7 379,1224.9 382,1224.3 385,1223.7 388,1223.4 391,1223.2 394,1223.1 397,1223.3 400,1223.5 403,1224 406,1224.6 409,1225.4 412,1226.3 415,1227.4 418,1228.7 421,1230.1 424,1231.6 427,1233.3 430,1235 433,1236.9 436,1239 439,1241.1 442,1243.3 445,1245.6 448,1247.9 451,1250.4 454,1252.9 457,1255.4 460,1258 463,1260.6 466,1263.2 469,1265.9 472,1268.6 475,1271.2 478,1273.9 481,1276.5 484,1279.2 487,1281.8 490,1284.3 493,1286.8 496,1289.3 499,1291.7 502,1294.1 505,1296.4 508,1298.6 511,1300.7 514,1302.8 517,1304.8 520,1306.7 523,1308.5 526,1310.2 529,1311.9 532,1313.4 535,1314.9 538,1316.3 541,1317.7 544,1318.9 547,1320.1 550,1321.2 553,1322.3 556,1323.3 559,1324.2 562,1325 565,1325.9 568,1326.6 571,1327.3 574,1328 577,1328.6 580,1329.2 583,1329.7 586,1330.3 589,1330.7 592,1331.2 595,1331.6 598,1332 601,1332.4 604,1332.8 607,1333.1 610,1333.4 613,1333.7 616,1334 619,1334.3 622,1334.5 625,1334.8 628,1335 631,1335.2 634,1335.4 637,1335.6 640,1335.8 643,1336 646,1336.2 649,1336.4 652,1336.6 655,1336.7 658,1336.9 661,1337.1 664,1337.2 667,1337.4 670,1337.5 673,1337.7 676,1337.8 679,1337.9 682,1338.1 685,1338.2 688,1338.3 691,1338.5 694,1338.6 697,1338.7 700,1338.8 703,1339 706,1339.1 709,1339.2 712,1339.3 715,1339.5 718,1339.6 721,1339.7 724,1339.8 727,1339.9 730,1340 733,1340.2 736,1340.3 739,1340.4 742,1340.5 745,1340.6 748,1340.7 751,1340.9 754,1341 757,1341.1 760,1341.2 763,1341.3 766,1341.4 769,1341.6 772,1341.7 775,1341.8 778,1341.9 781,1342.1 784,1342.2 787,1342.3 790,1342.5 793,1342.6 796,1342.7 799,1342.9 802,1343 805,1343.2 808,1343.4 811,1343.5 814,1343.7 817,1343.8 820,1344 823,1344.2 826,1344.4 829,1344.6 832,1344.8 835,1345 838,1345.2 841,1345.4 844,1345.6 847,1345.9 850,1346.1 853,1346.3 856,1346.6 859,1346.8 862,1347.1 865,1347.3 868,1347.6 871,1347.9 874,1348.2 877,1348.4 880,1348.7 883,1349 886,1349.3 889,1349.6 892,1349.9 895,1350.2 898,1350.5 901,1350.9 904,1351.2 907,1351.5 910,1351.9 913,1352.2 916,1352.6 919,1352.9 922,1353.3 925,1353.7 928,1354.1 931,1354.5 934,1355 937,1355.4 940,1355.9 943,1356.4 946,1357 949,1357.5 952,1358.1 955,1358.7 958,1359.4 961,1360.1 964,1360.8 967,1361.6 970,1362.3 973,1363.2 976,1364 979,1364.9 982,1365.8 985,1366.7 988,1367.7 991,1368.6 994,1369.6 997,1370.6 1000,1371.5 1003,1372.5 1006,1373.5 1009,1374.4 1012,1375.4 1015,1376.3 1018,1377.2 1021,1378 1024,1378.8 1027,1379.6 1030,1380.4 1033,1381.1 1036,1381.8 1039,1382.4 1042,1383 1045,1383.5 1048,1384 1051,1384.5 1054,1384.9 1057,1385.3 1060,1385.7 1063,1386 1066,1386.3 1069,1386.6 1072,1386.8 1075,1387 1078,1387.3 1081,1387.4 1084,1387.6 1087,1387.8 1090,1387.9 1093,1388.1 1096,1388.2 1099,1388.3 1102,1388.4 1105,1388.5 1108,1388.6 1111,1388.7 1114,1388.8 1117,1388.9 1120,1389 1123,1389.1 1126,1389.2 1129,1389.3 1132,1389.4 1135,1389.5 1138,1389.6 1141,1389.7 1144,1389.7 1147,1389.8 1150,1389.9 1153,1390 1156,1390.1 1159,1390.2 1162,1390.3 1165,1390.3 1168,1390.4 1171,1390.5 1174,1390.6 1177,1390.7 1180,1390.8 1183,1390.9 1186,1390.9 1189,1391 1192,1391.1 1195,1391.2 1198,1391.3" fill="none" stroke="#00bf46" stroke-width="5.5" stroke-dasharray="5.5 7"/>
<path d="M124,1300 127,1300.1 130,1300.2 133,1300.2 136,1300.3 139,1300.4 142,1300.5 145,1300.6 148,1300.7 151,1300.7 154,1300.8 157,1300.9 160,1301 163,1301.1 166,1301.2 169,1301.2 172,1301.3 175,1301.4 178,1301.5 181,1301.6 184,1301.7 187,1301.7 190,1301.8 193,1301.9 196,1302 199,1302.1 202,1302.2 205,1302.2 208,1302.3 211,1302.4 214,1302.5 217,1302.6 220,1302.7 223,1302.7 226,1302.8 229,1302.9 232,1303 235,1303.1 238,1303.2 241,1303.3 244,1303.3 247,1303.4 250,1303.5 253,1303.6 256,1303.7 259,1303.8 262,1303.9 265,1304 268,1304.1 271,1304.2 274,1304.3 277,1304.4 280,1304.5 283,1304.6 286,1304.7 289,1304.8 292,1304.9 295,1305 298,1305.2 301,1305.3 304,1305.4 307,1305.5 310,1305.7 313,1305.8 316,1305.9 319,1306.1 322,1306.2 325,1306.4 328,1306.5 331,1306.7 334,1306.8 337,1307 340,1307.2 343,1307.4 346,1307.5 349,1307.7 352,1307.9 355,1308.1 358,1308.3 361,1308.5 364,1308.7 367,1308.9 370,1309.1 373,1309.3 376,1309.6 379,1309.8 382,1310 385,1310.3 388,1310.5 391,1310.7 394,1311 397,1311.2 400,1311.5 403,1311.8 406,1312 409,1312.3 412,1312.6 415,1312.9 418,1313.2 421,1313.6 424,1313.9 427,1314.3 430,1314.6 433,1315 436,1315.4 439,1315.8 442,1316.3 445,1316.8 448,1317.3 451,1317.8 454,1318.3 457,1318.9 460,1319.4 463,1320 466,1320.7 469,1321.3 472,1321.9 475,1322.6 478,1323.3 481,1324 484,1324.6 487,1325.3 490,1326 493,1326.7 496,1327.4 499,1328 502,1328.7 505,1329.3 508,1329.9 511,1330.5 514,1331.1 517,1331.6 520,1332.1 523,1332.6 526,1333.1 529,1333.5 532,1333.9 535,1334.3 538,1334.6 541,1335 544,1335.3 547,1335.5 550,1335.8 553,1336 556,1336.2 559,1336.4 562,1336.6 565,1336.8 568,1336.9 571,1337.1 574,1337.2 577,1337.4 580,1337.5 583,1337.6 586,1337.7 589,1337.8 592,1337.9 595,1338 598,1338.1 601,1338.2 604,1338.3 607,1338.4 610,1338.4 613,1338.5 616,1338.6 619,1338.7 622,1338.8 625,1338.9 628,1339 631,1339 634,1339.1 637,1339.2 640,1339.3 643,1339.4 646,1339.5 649,1339.5 652,1339.6 655,1339.7 658,1339.8 661,1339.9 664,1339.9 667,1340 670,1340.1 673,1340.2 676,1340.3 679,1340.4 682,1340.4 685,1340.5 688,1340.6 691,1340.7 694,1340.8 697,1340.9 700,1340.9 703,1341 706,1341.1 709,1341.2 712,1341.3 715,1341.4 718,1341.4 721,1341.5 724,1341.6 727,1341.7 730,1341.8 733,1341.9 736,1342 739,1342 742,1342.1 745,1342.2 748,1342.3 751,1342.4 754,1342.5 757,1342.6 760,1342.7 763,1342.8 766,1342.9 769,1343 772,1343.1 775,1343.2 778,1343.3 781,1343.4 784,1343.5 787,1343.6 790,1343.7 793,1343.9 796,1344 799,1344.1 802,1344.2 805,1344.4 808,1344.5 811,1344.7 814,1344.8 817,1345 820,1345.1 823,1345.3 826,1345.5 829,1345.6 832,1345.8 835,1346 838,1346.2 841,1346.4 844,1346.6 847,1346.8 850,1347.1 853,1347.3 856,1347.5 859,1347.8 862,1348 865,1348.2 868,1348.5 871,1348.8 874,1349 877,1349.3 880,1349.6 883,1349.9 886,1350.1 889,1350.4 892,1350.7 895,1351 898,1351.3 901,1351.6 904,1352 907,1352.3 910,1352.6 913,1353 916,1353.3 919,1353.7 922,1354 925,1354.4 928,1354.8 931,1355.2 934,1355.7 937,1356.1 940,1356.6 943,1357.1 946,1357.6 949,1358.2 952,1358.8 955,1359.4 958,1360 961,1360.7 964,1361.4 967,1362.2 970,1363 973,1363.8 976,1364.6 979,1365.5 982,1366.4 985,1367.3 988,1368.2 991,1369.2 994,1370.2 997,1371.1 1000,1372.1 1003,1373.1 1006,1374 1009,1375 1012,1375.9 1015,1376.8 1018,1377.7 1021,1378.5 1024,1379.4 1027,1380.1 1030,1380.9 1033,1381.6 1036,1382.3 1039,1382.9 1042,1383.5 1045,1384 1048,1384.5 1051,1385 1054,1385.4 1057,1385.8 1060,1386.1 1063,1386.5 1066,1386.8 1069,1387 1072,1387.3 1075,1387.5 1078,1387.7 1081,1387.9 1084,1388 1087,1388.2 1090,1388.4 1093,1388.5 1096,1388.6 1099,1388.7 1102,1388.8 1105,1388.9 1108,1389 1111,1389.1 1114,1389.2 1117,1389.3 1120,1389.4 1123,1389.5 1126,1389.6 1129,1389.7 1132,1389.8 1135,1389.9 1138,1389.9 1141,1390 1144,1390.1 1147,1390.2 1150,1390.3 1153,1390.4 1156,1390.4 1159,1390.5 1162,1390.6 1165,1390.7 1168,1390.8 1171,1390.9 1174,1390.9 1177,1391 1180,1391.1 1183,1391.2 1186,1391.3 1189,1391.4 1192,1391.4 1195,1391.5 1198,1391.6" fill="none" stroke="#800080" stroke-width="4.5"/>
<path d="M124,1294.9 127,1294.8 130,1294.8 133,1294.8 136,1294.8 139,1294.7 142,1294.7 145,1294.7 148,1294.6 151,1294.5 154,1294.5 157,1294.4 160,1294.3 163,1294.2 166,1294.1 169,1294 172,1293.9 175,1293.8 178,1293.6 181,1293.5 184,1293.3 187,1293.1 190,1292.9 193,1292.7 196,1292.4 199,1292.1 202,1291.8 205,1291.5 208,1291.2 211,1290.8 214,1290.4 217,1290 220,1289.5 223,1289 226,1288.5 229,1287.9 232,1287.3 235,1286.6 238,1285.9 241,1285.2 244,1284.4 247,1283.5 250,1282.6 253,1281.7 256,1280.7 259,1279.7 262,1278.5 265,1277.4 268,1276.2 271,1274.9 274,1273.5 277,1272.1 280,1270.7 283,1269.2 286,1267.6 289,1266 292,1264.3 295,1262.5 298,1260.7 301,1258.8 304,1256.9 307,1254.9 310,1252.8 313,1250.7 316,1248.5 319,1246.3 322,1244 325,1241.7 328,1239.3 331,1236.8 334,1234.3 337,1231.7 340,1229 343,1226.2 346,1223.4 349,1220.5 352,1217.4 355,1214.3 358,1211 361,1207.6 364,1204.1 367,1200.4 370,1196.5 373,1192.5 376,1188.2 379,1183.7 382,1179 385,1174 388,1168.7 391,1163.1 394,1157.2 397,1151 400,1144.4 403,1137.5 406,1130.2 409,1122.5 412,1114.4 415,1106 418,1097.2 421,1088.1 424,1078.6 427,1068.8 430,1058.8 433,1048.5 436,1038.1 439,1027.6 442,1017 445,1006.4 448,996 451,985.7 454,975.7 457,966.1 460,957 463,948.5 466,940.7 469,933.8 472,927.7 475,922.7 478,918.8 481,916.2 484,914.8 487,914.8 490,916.1 493,918.8 496,922.9 499,928.4 502,935.1 505,943.1 508,952.2 511,962.3 514,973.3 517,985.1 520,997.6 523,1010.7 526,1024.2 529,1038.1 532,1052.2 535,1066.3 538,1080.5 541,1094.6 544,1108.6 547,1122.3 550,1135.7 553,1148.7 556,1161.4 559,1173.5 562,1185.1 565,1196.2 568,1206.8 571,1216.8 574,1226.2 577,1235 580,1243.2 583,1250.9 586,1258 589,1264.6 592,1270.6 595,1276.1 598,1281.2 601,1285.8 604,1290 607,1293.7 610,1297.1 613,1300.2 616,1302.9 619,1305.4 622,1307.5 625,1309.4 628,1311.1 631,1312.6 634,1313.9 637,1315 640,1316 643,1316.8 646,1317.5 649,1318.1 652,1318.6 655,1319 658,1319.3 661,1319.5 664,1319.7 667,1319.8 670,1319.8 673,1319.8 676,1319.7 679,1319.6 682,1319.4 685,1319.2 688,1319 691,1318.7 694,1318.4 697,1318 700,1317.6 703,1317.2 706,1316.8 709,1316.3 712,1315.8 715,1315.2 718,1314.6 721,1314 724,1313.4 727,1312.8 730,1312.1 733,1311.3 736,1310.6 739,1309.8 742,1309 745,1308.1 748,1307.2 751,1306.3 754,1305.3 757,1304.3 760,1303.3 763,1302.1 766,1301 769,1299.8 772,1298.5 775,1297.2 778,1295.8 781,1294.4 784,1292.9 787,1291.3 790,1289.6 793,1287.9 796,1286.1 799,1284.3 802,1282.3 805,1280.3 808,1278.2 811,1276.1 814,1273.8 817,1271.5 820,1269.1 823,1266.6 826,1264.1 829,1261.5 832,1258.8 835,1256 838,1253.1 841,1250.2 844,1247.2 847,1244.1 850,1240.9 853,1237.6 856,1234.2 859,1230.7 862,1227.1 865,1223.3 868,1219.4 871,1215.4 874,1211.1 877,1206.7 880,1202 883,1197.1 886,1192 889,1186.5 892,1180.7 895,1174.5 898,1167.9 901,1160.9 904,1153.4 907,1145.3 910,1136.8 913,1127.7 916,1118 919,1107.6 922,1096.7 925,1085.1 928,1072.8 931,1059.9 934,1046.4 937,1032.2 940,1017.5 943,1002.3 946,986.6 949,970.6 952,954.2 955,937.6 958,921 961,904.3 964,887.9 967,871.7 970,855.9 973,840.8 976,826.5 979,813.1 982,800.8 985,789.9 988,780.4 991,772.5 994,766.4 997,762.3 1000,760.1 1003,760.1 1006,762.1 1009,766.4 1012,772.7 1015,781.1 1018,791.5 1021,803.8 1024,817.7 1027,833.2 1030,850.1 1033,868.2 1036,887.3 1039,907.2 1042,927.8 1045,948.8 1048,970.2 1051,991.6 1054,1013.1 1057,1034.5 1060,1055.5 1063,1076.2 1066,1096.4 1069,1116 1072,1134.9 1075,1153.1 1078,1170.6 1081,1187.2 1084,1203 1087,1217.9 1090,1231.9 1093,1245 1096,1257.3 1099,1268.7 1102,1279.3 1105,1289 1108,1298 1111,1306.2 1114,1313.7 1117,1320.6 1120,1326.8 1123,1332.4 1126,1337.5 1129,1342.1 1132,1346.2 1135,1349.9 1138,1353.2 1141,1356.2 1144,1358.9 1147,1361.2 1150,1363.3 1153,1365.2 1156,1366.9 1159,1368.4 1162,1369.8 1165,1371 1168,1372.1 1171,1373.1 1174,1374 1177,1374.8 1180,1375.6 1183,1376.3 1186,1376.9 1189,1377.5 1192,1378.1 1195,1378.6 1198,1379.1" fill="none" stroke="#ff22d2" stroke-width="6.5" stroke-linejoin="round"/>
<path d="M157,1647.6 160,1647.6 163,1647.7 166,1647.7 169,1647.7 172,1647.8 175,1647.8 178,1647.8 181,1647.9 184,1647.9 187,1647.9 190,1648 193,1648 196,1648 199,1648.1 202,1648.1 205,1648.1 208,1648.2 211,1648.2 214,1648.2 217,1648.3 220,1648.3 223,1648.3 226,1648.4 229,1648.4 232,1648.4 235,1648.5 238,1648.5 241,1648.6 244,1648.6 247,1648.6 250,1648.7 253,1648.7 256,1648.8 259,1648.8 262,1648.8 265,1648.9 268,1648.9 271,1649 274,1649 277,1649.1 280,1649.1 283,1649.2 286,1649.2 289,1649.2 292,1649.3 295,1649.3 298,1649.4 301,1649.4 304,1649.5 307,1649.5 310,1649.6 313,1649.6 316,1649.7 319,1649.7 322,1649.8 325,1649.8 328,1649.9 331,1649.9 334,1650 337,1650.1 340,1650.1 343,1650.2 346,1650.2 349,1650.3 352,1650.3 355,1650.4 358,1650.4 361,1650.5 364,1650.5 367,1650.6 370,1650.6 373,1650.7 376,1650.8 379,1650.8 382,1650.9 385,1650.9 388,1651 391,1651.1 394,1651.1 397,1651.2 400,1651.2 403,1651.3 406,1651.4 409,1651.4 412,1651.5 415,1651.6 418,1651.7 421,1651.7 424,1651.8 427,1651.9 430,1652 433,1652.1 436,1652.1 439,1652.2 442,1652.3 445,1652.4 448,1652.5 451,1652.6 454,1652.7 457,1652.8 460,1652.9 463,1653 466,1653.1 469,1653.2 472,1653.3 475,1653.4 478,1653.5 481,1653.7 484,1653.8 487,1653.9 490,1654 493,1654.1 496,1654.2 499,1654.3 502,1654.4 505,1654.5 508,1654.6 511,1654.7 514,1654.8 517,1654.9 520,1655 523,1655.1 526,1655.1 529,1655.2 532,1655.3 535,1655.4 538,1655.5 541,1655.5 544,1655.6 547,1655.7 550,1655.7 553,1655.8 556,1655.8 559,1655.9 562,1655.9 565,1656 568,1656 571,1656.1 574,1656.1 577,1656.1 580,1656.2 583,1656.2 586,1656.2 589,1656.3 592,1656.3 595,1656.3 598,1656.3 601,1656.4 604,1656.4 607,1656.4 610,1656.4 613,1656.4 616,1656.4 619,1656.5 622,1656.5 625,1656.5 628,1656.5 631,1656.5 634,1656.5 637,1656.5 640,1656.5 643,1656.5 646,1656.5 649,1656.5 652,1656.5 655,1656.5 658,1656.5 661,1656.5 664,1656.5 667,1656.5 670,1656.5 673,1656.5 676,1656.5 679,1656.5 682,1656.5 685,1656.5 688,1656.5 691,1656.5 694,1656.4 697,1656.4 700,1656.4 703,1656.4 706,1656.4 709,1656.4 712,1656.3 715,1656.3 718,1656.3 721,1656.3 724,1656.2 727,1656.2 730,1656.2 733,1656.1 736,1656.1 739,1656 742,1656 745,1655.9 748,1655.9 751,1655.8 754,1655.7 757,1655.6 760,1655.5 763,1655.4 766,1655.3 769,1655.2 772,1655.1 775,1654.9 778,1654.8 781,1654.6 784,1654.4 787,1654.1 790,1653.9 793,1653.6 796,1653.3 799,1653 802,1652.6 805,1652.2 808,1651.8 811,1651.3 814,1650.7 817,1650.1 820,1649.5 823,1648.8 826,1648 829,1647.1 832,1646.2 835,1645.2 838,1644.1 841,1642.9 844,1641.6 847,1640.2 850,1638.8 853,1637.2 856,1635.4 859,1633.6 862,1631.6 865,1629.5 868,1627.3 871,1624.9 874,1622.4 877,1619.8 880,1616.9 883,1614 886,1610.9 889,1607.6 892,1604.3 895,1600.7 898,1597 901,1593.2 904,1589.2 907,1585.2 910,1580.9 913,1576.6 916,1572.2 919,1567.7 922,1563.1 925,1558.4 928,1553.6 931,1548.9 934,1544.1 937,1539.2 940,1534.4 943,1529.7 946,1524.9 949,1520.3 952,1515.7 955,1511.2 958,1506.9 961,1502.7 964,1498.8 967,1495 970,1491.4 973,1488.1 976,1485.1 979,1482.4 982,1480 985,1478 988,1476.2 991,1474.9 994,1474 997,1473.4 1000,1473.2 1003,1473.5 1006,1474.1 1009,1475.1 1012,1476.5 1015,1478.3 1018,1480.4 1021,1482.9 1024,1485.7 1027,1488.9 1030,1492.3 1033,1495.9 1036,1499.8 1039,1504 1042,1508.3 1045,1512.8 1048,1517.4 1051,1522.2 1054,1527 1057,1531.9 1060,1536.9 1063,1541.9 1066,1547 1069,1552 1072,1557 1075,1561.9 1078,1566.8 1081,1571.7 1084,1576.4 1087,1581.1 1090,1585.6 1093,1590.1 1096,1594.4 1099,1598.6 1102,1602.7 1105,1606.6 1108,1610.4 1111,1614 1114,1617.5 1117,1620.8 1120,1624 1123,1627 1126,1629.9 1129,1632.6 1132,1635.2 1135,1637.6 1138,1639.9 1141,1642.1 1144,1644.1 1147,1646 1150,1647.8 1153,1649.5 1156,1651 1159,1652.5 1162,1653.8 1165,1655.1 1168,1656.2 1171,1657.3 1174,1658.3 1177,1659.3 1180,1660.1 1183,1660.9 1186,1661.6 1189,1662.3 1192,1662.9 1195,1663.5 1198,1664 1198,1668 1195,1667.9 1192,1667.9 1189,1667.8 1186,1667.8 1183,1667.7 1180,1667.7 1177,1667.6 1174,1667.6 1171,1667.5 1168,1667.4 1165,1667.4 1162,1667.3 1159,1667.3 1156,1667.2 1153,1667.2 1150,1667.1 1147,1667.1 1144,1667 1141,1666.9 1138,1666.9 1135,1666.8 1132,1666.8 1129,1666.7 1126,1666.7 1123,1666.6 1120,1666.5 1117,1666.5 1114,1666.4 1111,1666.4 1108,1666.3 1105,1666.3 1102,1666.2 1099,1666.2 1096,1666.1 1093,1666 1090,1666 1087,1665.9 1084,1665.9 1081,1665.8 1078,1665.8 1075,1665.7 1072,1665.7 1069,1665.6 1066,1665.5 1063,1665.5 1060,1665.4 1057,1665.4 1054,1665.3 1051,1665.3 1048,1665.2 1045,1665.2 1042,1665.1 1039,1665 1036,1665 1033,1664.9 1030,1664.9 1027,1664.8 1024,1664.8 1021,1664.7 1018,1664.6 1015,1664.6 1012,1664.5 1009,1664.5 1006,1664.4 1003,1664.4 1000,1664.3 997,1664.3 994,1664.2 991,1664.1 988,1664.1 985,1664 982,1664 979,1663.9 976,1663.9 973,1663.8 970,1663.8 967,1663.7 964,1663.6 961,1663.6 958,1663.5 955,1663.5 952,1663.4 949,1663.4 946,1663.3 943,1663.3 940,1663.2 937,1663.1 934,1663.1 931,1663 928,1663 925,1662.9 922,1662.9 919,1662.8 916,1662.7 913,1662.7 910,1662.6 907,1662.6 904,1662.5 901,1662.5 898,1662.4 895,1662.4 892,1662.3 889,1662.2 886,1662.2 883,1662.1 880,1662.1 877,1662 874,1662 871,1661.9 868,1661.9 865,1661.8 862,1661.7 859,1661.7 856,1661.6 853,1661.6 850,1661.5 847,1661.5 844,1661.4 841,1661.4 838,1661.3 835,1661.2 832,1661.2 829,1661.1 826,1661.1 823,1661 820,1661 817,1660.9 814,1660.8 811,1660.8 808,1660.7 805,1660.7 802,1660.6 799,1660.6 796,1660.5 793,1660.5 790,1660.4 787,1660.3 784,1660.3 781,1660.2 778,1660.2 775,1660.1 772,1660.1 769,1660 766,1660 763,1659.9 760,1659.8 757,1659.8 754,1659.7 751,1659.7 748,1659.6 745,1659.6 742,1659.5 739,1659.5 736,1659.4 733,1659.3 730,1659.3 727,1659.2 724,1659.2 721,1659.1 718,1659.1 715,1659 712,1658.9 709,1658.9 706,1658.8 703,1658.8 700,1658.7 697,1658.7 694,1658.6 691,1658.6 688,1658.5 685,1658.4 682,1658.4 679,1658.3 676,1658.3 673,1658.2 670,1658.2 667,1658.1 664,1658.1 661,1658 658,1657.9 655,1657.9 652,1657.8 649,1657.8 646,1657.7 643,1657.7 640,1657.6 637,1657.6 634,1657.5 631,1657.4 628,1657.4 625,1657.3 622,1657.3 619,1657.2 616,1657.2 613,1657.1 610,1657.1 607,1657 604,1656.9 601,1656.9 598,1656.8 595,1656.8 592,1656.7 589,1656.7 586,1656.6 583,1656.5 580,1656.5 577,1656.4 574,1656.4 571,1656.3 568,1656.3 565,1656.2 562,1656.2 559,1656.1 556,1656 553,1656 550,1655.9 547,1655.9 544,1655.8 541,1655.8 538,1655.7 535,1655.7 532,1655.6 529,1655.5 526,1655.5 523,1655.4 520,1655.4 517,1655.3 514,1655.3 511,1655.2 508,1655.2 505,1655.1 502,1655 499,1655 496,1654.9 493,1654.9 490,1654.8 487,1654.8 484,1654.7 481,1654.6 478,1654.6 475,1654.5 472,1654.5 469,1654.4 466,1654.4 463,1654.3 460,1654.3 457,1654.2 454,1654.1 451,1654.1 448,1654 445,1654 442,1653.9 439,1653.9 436,1653.8 433,1653.8 430,1653.7 427,1653.6 424,1653.6 421,1653.5 418,1653.5 415,1653.4 412,1653.4 409,1653.3 406,1653.3 403,1653.2 400,1653.1 397,1653.1 394,1653 391,1653 388,1652.9 385,1652.9 382,1652.8 379,1652.7 376,1652.7 373,1652.6 370,1652.6 367,1652.5 364,1652.5 361,1652.4 358,1652.4 355,1652.3 352,1652.2 349,1652.2 346,1652.1 343,1652.1 340,1652 337,1652 334,1651.9 331,1651.9 328,1651.8 325,1651.7 322,1651.7 319,1651.6 316,1651.6 313,1651.5 310,1651.5 307,1651.4 304,1651.4 301,1651.3 298,1651.2 295,1651.2 292,1651.1 289,1651.1 286,1651 283,1651 280,1650.9 277,1650.8 274,1650.8 271,1650.7 268,1650.7 265,1650.6 262,1650.6 259,1650.5 256,1650.5 253,1650.4 250,1650.3 247,1650.3 244,1650.2 241,1650.2 238,1650.1 235,1650.1 232,1650 229,1650 226,1649.9 223,1649.8 220,1649.8 217,1649.7 214,1649.7 211,1649.6 208,1649.6 205,1649.5 202,1649.5 199,1649.4 196,1649.3 193,1649.3 190,1649.2 187,1649.2 184,1649.1 181,1649.1 178,1649 175,1648.9 172,1648.9 169,1648.8 166,1648.8 163,1648.7 160,1648.7 157,1648.6Z" fill="url(#g9)" stroke="none"/>
<path d="M124,1646.7 127,1646.7 130,1646.7 133,1646.7 136,1646.8 139,1646.8 142,1646.8 145,1646.8 148,1646.8 151,1646.8 154,1646.9 157,1646.9 160,1646.9 163,1646.9 166,1646.9 169,1646.9 172,1646.9 175,1646.9 178,1647 181,1647 184,1647 187,1647 190,1647 193,1647 196,1647 199,1647 202,1647 205,1647 208,1647 211,1647 214,1647 217,1647 220,1647 223,1647 226,1647 229,1647 232,1647 235,1647 238,1646.9 241,1646.9 244,1646.9 247,1646.8 250,1646.8 253,1646.8 256,1646.7 259,1646.6 262,1646.6 265,1646.5 268,1646.4 271,1646.3 274,1646.1 277,1646 280,1645.8 283,1645.6 286,1645.4 289,1645.2 292,1644.9 295,1644.7 298,1644.4 301,1644 304,1643.6 307,1643.2 310,1642.7 313,1642.2 316,1641.6 319,1641 322,1640.4 325,1639.6 328,1638.8 331,1638 334,1637 337,1636 340,1634.9 343,1633.8 346,1632.5 349,1631.2 352,1629.8 355,1628.2 358,1626.6 361,1624.9 364,1623.1 367,1621.2 370,1619.2 373,1617.1 376,1614.9 379,1612.6 382,1610.2 385,1607.7 388,1605.1 391,1602.4 394,1599.6 397,1596.8 400,1593.9 403,1590.9 406,1587.8 409,1584.7 412,1581.6 415,1578.4 418,1575.3 421,1572.1 424,1568.9 427,1565.7 430,1562.5 433,1559.4 436,1556.4 439,1553.4 442,1550.5 445,1547.7 448,1545 451,1542.4 454,1540 457,1537.8 460,1535.7 463,1533.8 466,1532.1 469,1530.6 472,1529.4 475,1528.4 478,1527.6 481,1527.1 484,1526.8 487,1526.8 490,1527.1 493,1527.6 496,1528.3 499,1529.3 502,1530.6 505,1532.1 508,1533.8 511,1535.7 514,1537.8 517,1540.1 520,1542.5 523,1545.1 526,1547.9 529,1550.8 532,1553.8 535,1556.9 538,1560 541,1563.3 544,1566.6 547,1569.9 550,1573.2 553,1576.6 556,1579.9 559,1583.3 562,1586.6 565,1589.9 568,1593.1 571,1596.3 574,1599.4 577,1602.4 580,1605.4 583,1608.3 586,1611.1 589,1613.8 592,1616.4 595,1618.9 598,1621.3 601,1623.6 604,1625.9 607,1628 610,1630 613,1631.9 616,1633.7 619,1635.4 622,1637 625,1638.5 628,1640 631,1641.3 634,1642.6 637,1643.7 640,1644.8 643,1645.9 646,1646.8 649,1647.7 652,1648.5 655,1649.3 658,1650 661,1650.7 664,1651.3 667,1651.8 670,1652.3 673,1652.8 676,1653.2 679,1653.6 682,1654 685,1654.4 688,1654.7 691,1655 694,1655.2 697,1655.5 700,1655.7 703,1655.9 706,1656.1 709,1656.3 712,1656.5 715,1656.6 718,1656.8 721,1656.9 724,1657 727,1657.2 730,1657.3 733,1657.4 736,1657.5 739,1657.6 742,1657.7 745,1657.8 748,1657.9 751,1658 754,1658.1 757,1658.2 760,1658.2 763,1658.3 766,1658.4 769,1658.5 772,1658.6 775,1658.7 778,1658.7 781,1658.8 784,1658.9 787,1659 790,1659.1 793,1659.1 796,1659.2 799,1659.3 802,1659.4 805,1659.5 808,1659.5 811,1659.6 814,1659.7 817,1659.8 820,1659.9 823,1659.9 826,1660 829,1660.1 829,1661.1 826,1661.1 823,1661 820,1661 817,1660.9 814,1660.8 811,1660.8 808,1660.7 805,1660.7 802,1660.6 799,1660.6 796,1660.5 793,1660.5 790,1660.4 787,1660.3 784,1660.3 781,1660.2 778,1660.2 775,1660.1 772,1660.1 769,1660 766,1660 763,1659.9 760,1659.8 757,1659.8 754,1659.7 751,1659.7 748,1659.6 745,1659.6 742,1659.5 739,1659.5 736,1659.4 733,1659.3 730,1659.3 727,1659.2 724,1659.2 721,1659.1 718,1659.1 715,1659 712,1658.9 709,1658.9 706,1658.8 703,1658.8 700,1658.7 697,1658.7 694,1658.6 691,1658.6 688,1658.5 685,1658.4 682,1658.4 679,1658.3 676,1658.3 673,1658.2 670,1658.2 667,1658.1 664,1658.1 661,1658 658,1657.9 655,1657.9 652,1657.8 649,1657.8 646,1657.7 643,1657.7 640,1657.6 637,1657.6 634,1657.5 631,1657.4 628,1657.4 625,1657.3 622,1657.3 619,1657.2 616,1657.2 613,1657.1 610,1657.1 607,1657 604,1656.9 601,1656.9 598,1656.8 595,1656.8 592,1656.7 589,1656.7 586,1656.6 583,1656.5 580,1656.5 577,1656.4 574,1656.4 571,1656.3 568,1656.3 565,1656.2 562,1656.2 559,1656.1 556,1656 553,1656 550,1655.9 547,1655.9 544,1655.8 541,1655.8 538,1655.7 535,1655.7 532,1655.6 529,1655.5 526,1655.5 523,1655.4 520,1655.4 517,1655.3 514,1655.3 511,1655.2 508,1655.2 505,1655.1 502,1655 499,1655 496,1654.9 493,1654.9 490,1654.8 487,1654.8 484,1654.7 481,1654.6 478,1654.6 475,1654.5 472,1654.5 469,1654.4 466,1654.4 463,1654.3 460,1654.3 457,1654.2 454,1654.1 451,1654.1 448,1654 445,1654 442,1653.9 439,1653.9 436,1653.8 433,1653.8 430,1653.7 427,1653.6 424,1653.6 421,1653.5 418,1653.5 415,1653.4 412,1653.4 409,1653.3 406,1653.3 403,1653.2 400,1653.1 397,1653.1 394,1653 391,1653 388,1652.9 385,1652.9 382,1652.8 379,1652.7 376,1652.7 373,1652.6 370,1652.6 367,1652.5 364,1652.5 361,1652.4 358,1652.4 355,1652.3 352,1652.2 349,1652.2 346,1652.1 343,1652.1 340,1652 337,1652 334,1651.9 331,1651.9 328,1651.8 325,1651.7 322,1651.7 319,1651.6 316,1651.6 313,1651.5 310,1651.5 307,1651.4 304,1651.4 301,1651.3 298,1651.2 295,1651.2 292,1651.1 289,1651.1 286,1651 283,1651 280,1650.9 277,1650.8 274,1650.8 271,1650.7 268,1650.7 265,1650.6 262,1650.6 259,1650.5 256,1650.5 253,1650.4 250,1650.3 247,1650.3 244,1650.2 241,1650.2 238,1650.1 235,1650.1 232,1650 229,1650 226,1649.9 223,1649.8 220,1649.8 217,1649.7 214,1649.7 211,1649.6 208,1649.6 205,1649.5 202,1649.5 199,1649.4 196,1649.3 193,1649.3 190,1649.2 187,1649.2 184,1649.1 181,1649.1 178,1649 175,1648.9 172,1648.9 169,1648.8 166,1648.8 163,1648.7 160,1648.7 157,1648.6 154,1648.6 151,1648.5 148,1648.4 145,1648.4 142,1648.3 139,1648.3 136,1648.2 133,1648.2 130,1648.1 127,1648.1 124,1648Z" fill="url(#g10)" stroke="none"/>
<path d="M190,1648.2 193,1648.3 196,1648.3 199,1648.3 202,1648.4 205,1648.4 208,1648.4 211,1648.5 214,1648.5 217,1648.5 220,1648.6 223,1648.6 226,1648.7 229,1648.7 232,1648.7 235,1648.8 238,1648.8 241,1648.9 244,1648.9 247,1648.9 250,1649 253,1649 256,1649.1 259,1649.1 262,1649.2 265,1649.2 268,1649.2 271,1649.3 274,1649.3 277,1649.4 280,1649.4 283,1649.5 286,1649.5 289,1649.6 292,1649.6 295,1649.7 298,1649.7 301,1649.8 304,1649.8 307,1649.9 310,1649.9 313,1650 316,1650.1 319,1650.1 322,1650.2 325,1650.2 328,1650.3 331,1650.3 334,1650.4 337,1650.4 340,1650.5 343,1650.5 346,1650.6 349,1650.7 352,1650.7 355,1650.8 358,1650.8 361,1650.9 364,1650.9 367,1651 370,1651.1 373,1651.1 376,1651.2 379,1651.2 382,1651.3 385,1651.4 388,1651.4 391,1651.5 394,1651.6 397,1651.6 400,1651.7 403,1651.8 406,1651.8 409,1651.9 412,1652 415,1652.1 418,1652.1 421,1652.2 424,1652.3 427,1652.4 430,1652.5 433,1652.6 436,1652.7 439,1652.7 442,1652.8 445,1652.9 448,1653 451,1653.1 454,1653.2 457,1653.3 460,1653.5 463,1653.6 466,1653.7 469,1653.8 472,1653.9 475,1654 478,1654.1 481,1654.2 484,1654.3 487,1654.5 490,1654.6 493,1654.7 496,1654.8 499,1654.9 502,1655 505,1655.1 508,1655.2 511,1655.3 514,1655.4 517,1655.5 520,1655.6 523,1655.7 526,1655.8 529,1655.9 532,1655.9 535,1656 538,1656.1 541,1656.2 544,1656.2 547,1656.3 550,1656.4 553,1656.4 556,1656.5 559,1656.5 562,1656.6 565,1656.6 568,1656.6 571,1656.7 574,1656.7 577,1656.7 580,1656.7 583,1656.7 586,1656.7 589,1656.7 592,1656.7 595,1656.7 598,1656.7 601,1656.7 604,1656.7 607,1656.6 610,1656.6 613,1656.5 616,1656.5 619,1656.4 622,1656.3 625,1656.2 628,1656.1 631,1656 634,1655.9 637,1655.8 640,1655.6 643,1655.5 646,1655.3 649,1655.1 652,1654.9 655,1654.7 658,1654.4 661,1654.2 664,1653.9 667,1653.6 670,1653.3 673,1653 676,1652.6 679,1652.2 682,1651.8 685,1651.4 688,1650.9 691,1650.5 694,1650 697,1649.4 700,1648.9 703,1648.3 706,1647.7 709,1647 712,1646.4 715,1645.7 718,1644.9 721,1644.2 724,1643.4 727,1642.6 730,1641.8 733,1640.9 736,1640 739,1639.1 742,1638.2 745,1637.3 748,1636.3 751,1635.3 754,1634.3 757,1633.3 760,1632.2 763,1631.2 766,1630.2 769,1629.1 772,1628 775,1627 778,1625.9 781,1624.9 784,1623.8 787,1622.8 790,1621.7 793,1620.7 796,1619.7 799,1618.8 802,1617.8 805,1616.9 808,1616 811,1615.2 814,1614.4 817,1613.6 820,1612.9 823,1612.2 826,1611.6 829,1611 832,1610.5 835,1610.1 838,1609.7 841,1609.4 844,1609.1 847,1608.9 850,1608.8 853,1608.8 856,1608.8 859,1608.8 862,1609 865,1609.2 868,1609.5 871,1609.9 874,1610.3 877,1610.8 880,1611.3 883,1611.9 886,1612.6 889,1613.3 892,1614.1 895,1615 898,1615.8 901,1616.8 904,1617.7 907,1618.7 910,1619.8 913,1620.9 916,1622 919,1623.1 922,1624.2 925,1625.4 928,1626.6 931,1627.8 934,1629 937,1630.3 940,1631.5 943,1632.7 946,1634 949,1635.2 952,1636.4 955,1637.6 958,1638.8 961,1640 964,1641.2 967,1642.4 970,1643.6 973,1644.7 976,1645.8 979,1646.9 982,1648 985,1649 988,1650 991,1651 994,1652 997,1653 1000,1653.9 1003,1654.8 1006,1655.6 1009,1656.4 1012,1657.2 1015,1658 1018,1658.8 1021,1659.5 1024,1660.1 1027,1660.8 1030,1661.4 1033,1662 1036,1662.6 1039,1663.1 1042,1663.6 1045,1664.1 1045,1665.2 1042,1665.1 1039,1665 1036,1665 1033,1664.9 1030,1664.9 1027,1664.8 1024,1664.8 1021,1664.7 1018,1664.6 1015,1664.6 1012,1664.5 1009,1664.5 1006,1664.4 1003,1664.4 1000,1664.3 997,1664.3 994,1664.2 991,1664.1 988,1664.1 985,1664 982,1664 979,1663.9 976,1663.9 973,1663.8 970,1663.8 967,1663.7 964,1663.6 961,1663.6 958,1663.5 955,1663.5 952,1663.4 949,1663.4 946,1663.3 943,1663.3 940,1663.2 937,1663.1 934,1663.1 931,1663 928,1663 925,1662.9 922,1662.9 919,1662.8 916,1662.7 913,1662.7 910,1662.6 907,1662.6 904,1662.5 901,1662.5 898,1662.4 895,1662.4 892,1662.3 889,1662.2 886,1662.2 883,1662.1 880,1662.1 877,1662 874,1662 871,1661.9 868,1661.9 865,1661.8 862,1661.7 859,1661.7 856,1661.6 853,1661.6 850,1661.5 847,1661.5 844,1661.4 841,1661.4 838,1661.3 835,1661.2 832,1661.2 829,1661.1 826,1661.1 823,1661 820,1661 817,1660.9 814,1660.8 811,1660.8 808,1660.7 805,1660.7 802,1660.6 799,1660.6 796,1660.5 793,1660.5 790,1660.4 787,1660.3 784,1660.3 781,1660.2 778,1660.2 775,1660.1 772,1660.1 769,1660 766,1660 763,1659.9 760,1659.8 757,1659.8 754,1659.7 751,1659.7 748,1659.6 745,1659.6 742,1659.5 739,1659.5 736,1659.4 733,1659.3 730,1659.3 727,1659.2 724,1659.2 721,1659.1 718,1659.1 715,1659 712,1658.9 709,1658.9 706,1658.8 703,1658.8 700,1658.7 697,1658.7 694,1658.6 691,1658.6 688,1658.5 685,1658.4 682,1658.4 679,1658.3 676,1658.3 673,1658.2 670,1658.2 667,1658.1 664,1658.1 661,1658 658,1657.9 655,1657.9 652,1657.8 649,1657.8 646,1657.7 643,1657.7 640,1657.6 637,1657.6 634,1657.5 631,1657.4 628,1657.4 625,1657.3 622,1657.3 619,1657.2 616,1657.2 613,1657.1 610,1657.1 607,1657 604,1656.9 601,1656.9 598,1656.8 595,1656.8 592,1656.7 589,1656.7 586,1656.6 583,1656.5 580,1656.5 577,1656.4 574,1656.4 571,1656.3 568,1656.3 565,1656.2 562,1656.2 559,1656.1 556,1656 553,1656 550,1655.9 547,1655.9 544,1655.8 541,1655.8 538,1655.7 535,1655.7 532,1655.6 529,1655.5 526,1655.5 523,1655.4 520,1655.4 517,1655.3 514,1655.3 511,1655.2 508,1655.2 505,1655.1 502,1655 499,1655 496,1654.9 493,1654.9 490,1654.8 487,1654.8 484,1654.7 481,1654.6 478,1654.6 475,1654.5 472,1654.5 469,1654.4 466,1654.4 463,1654.3 460,1654.3 457,1654.2 454,1654.1 451,1654.1 448,1654 445,1654 442,1653.9 439,1653.9 436,1653.8 433,1653.8 430,1653.7 427,1653.6 424,1653.6 421,1653.5 418,1653.5 415,1653.4 412,1653.4 409,1653.3 406,1653.3 403,1653.2 400,1653.1 397,1653.1 394,1653 391,1653 388,1652.9 385,1652.9 382,1652.8 379,1652.7 376,1652.7 373,1652.6 370,1652.6 367,1652.5 364,1652.5 361,1652.4 358,1652.4 355,1652.3 352,1652.2 349,1652.2 346,1652.1 343,1652.1 340,1652 337,1652 334,1651.9 331,1651.9 328,1651.8 325,1651.7 322,1651.7 319,1651.6 316,1651.6 313,1651.5 310,1651.5 307,1651.4 304,1651.4 301,1651.3 298,1651.2 295,1651.2 292,1651.1 289,1651.1 286,1651 283,1651 280,1650.9 277,1650.8 274,1650.8 271,1650.7 268,1650.7 265,1650.6 262,1650.6 259,1650.5 256,1650.5 253,1650.4 250,1650.3 247,1650.3 244,1650.2 241,1650.2 238,1650.1 235,1650.1 232,1650 229,1650 226,1649.9 223,1649.8 220,1649.8 217,1649.7 214,1649.7 211,1649.6 208,1649.6 205,1649.5 202,1649.5 199,1649.4 196,1649.3 193,1649.3 190,1649.2Z" fill="url(#g11)" stroke="none"/>
<path d="M124,1645.4 127,1645.3 130,1645.2 133,1645 136,1644.9 139,1644.7 142,1644.5 145,1644.3 148,1644.1 151,1643.9 154,1643.7 157,1643.4 160,1643.2 163,1642.9 166,1642.6 169,1642.3 172,1641.9 175,1641.6 178,1641.2 181,1640.8 184,1640.4 187,1640 190,1639.5 193,1639.1 196,1638.6 199,1638.1 202,1637.6 205,1637.1 208,1636.5 211,1635.9 214,1635.4 217,1634.8 220,1634.2 223,1633.5 226,1632.9 229,1632.2 232,1631.6 235,1630.9 238,1630.2 241,1629.6 244,1628.9 247,1628.2 250,1627.5 253,1626.8 256,1626.1 259,1625.4 262,1624.8 265,1624.1 268,1623.4 271,1622.8 274,1622.1 277,1621.5 280,1620.9 283,1620.3 286,1619.8 289,1619.3 292,1618.8 295,1618.3 298,1617.8 301,1617.4 304,1617.1 307,1616.7 310,1616.4 313,1616.2 316,1616 319,1615.8 322,1615.6 325,1615.6 328,1615.5 331,1615.5 334,1615.6 337,1615.7 340,1615.8 343,1616 346,1616.2 349,1616.5 352,1616.8 355,1617.2 358,1617.6 361,1618 364,1618.5 367,1619 370,1619.5 373,1620.1 376,1620.7 379,1621.4 382,1622 385,1622.7 388,1623.4 391,1624.2 394,1624.9 397,1625.7 400,1626.4 403,1627.2 406,1628 409,1628.8 412,1629.6 415,1630.4 418,1631.3 421,1632.1 424,1632.9 427,1633.7 430,1634.5 433,1635.3 436,1636.1 439,1636.9 442,1637.7 445,1638.5 448,1639.2 451,1640 454,1640.7 457,1641.4 460,1642.1 463,1642.8 466,1643.5 469,1644.1 472,1644.8 475,1645.4 478,1646 481,1646.6 484,1647.1 487,1647.7 490,1648.2 493,1648.7 496,1649.2 499,1649.7 502,1650.1 505,1650.6 508,1651 511,1651.4 514,1651.8 517,1652.1 520,1652.5 523,1652.8 526,1653.1 529,1653.4 532,1653.7 535,1654 538,1654.2 541,1654.5 544,1654.7 544,1655.8 541,1655.8 538,1655.7 535,1655.7 532,1655.6 529,1655.5 526,1655.5 523,1655.4 520,1655.4 517,1655.3 514,1655.3 511,1655.2 508,1655.2 505,1655.1 502,1655 499,1655 496,1654.9 493,1654.9 490,1654.8 487,1654.8 484,1654.7 481,1654.6 478,1654.6 475,1654.5 472,1654.5 469,1654.4 466,1654.4 463,1654.3 460,1654.3 457,1654.2 454,1654.1 451,1654.1 448,1654 445,1654 442,1653.9 439,1653.9 436,1653.8 433,1653.8 430,1653.7 427,1653.6 424,1653.6 421,1653.5 418,1653.5 415,1653.4 412,1653.4 409,1653.3 406,1653.3 403,1653.2 400,1653.1 397,1653.1 394,1653 391,1653 388,1652.9 385,1652.9 382,1652.8 379,1652.7 376,1652.7 373,1652.6 370,1652.6 367,1652.5 364,1652.5 361,1652.4 358,1652.4 355,1652.3 352,1652.2 349,1652.2 346,1652.1 343,1652.1 340,1652 337,1652 334,1651.9 331,1651.9 328,1651.8 325,1651.7 322,1651.7 319,1651.6 316,1651.6 313,1651.5 310,1651.5 307,1651.4 304,1651.4 301,1651.3 298,1651.2 295,1651.2 292,1651.1 289,1651.1 286,1651 283,1651 280,1650.9 277,1650.8 274,1650.8 271,1650.7 268,1650.7 265,1650.6 262,1650.6 259,1650.5 256,1650.5 253,1650.4 250,1650.3 247,1650.3 244,1650.2 241,1650.2 238,1650.1 235,1650.1 232,1650 229,1650 226,1649.9 223,1649.8 220,1649.8 217,1649.7 214,1649.7 211,1649.6 208,1649.6 205,1649.5 202,1649.5 199,1649.4 196,1649.3 193,1649.3 190,1649.2 187,1649.2 184,1649.1 181,1649.1 178,1649 175,1648.9 172,1648.9 169,1648.8 166,1648.8 163,1648.7 160,1648.7 157,1648.6 154,1648.6 151,1648.5 148,1648.4 145,1648.4 142,1648.3 139,1648.3 136,1648.2 133,1648.2 130,1648.1 127,1648.1 124,1648Z" fill="url(#g12)" stroke="none"/>
<path d="M125,1628.6 129.9,1633.8 134.8,1640.2 139.7,1632.7 144.6,1639.6 149.5,1631.8 154.4,1636.6 159.3,1624.6 164.2,1643 169.1,1631 174,1628.9 178.9,1631.2 183.8,1628.6 188.7,1614.4 193.6,1633.1 198.5,1633.6 203.4,1623.2 208.3,1625.6 213.2,1638.1 218.1,1620.8 223,1624.5 227.9,1615.1 232.8,1622.7 237.7,1622.2 242.6,1611.4 247.5,1612.5 252.4,1617.3 257.3,1613.7 262.2,1618 267.1,1618.2 272,1599.4 276.9,1612.4 281.8,1607.5 286.7,1605.5 291.6,1607.5 296.5,1607.8 301.4,1602 306.3,1593.8 311.2,1603.4 316.1,1593.1 321,1598.2 325.9,1603.1 330.8,1594 335.7,1587.4 340.6,1584.3 345.5,1592.7 350.4,1585.6 355.3,1585.5 360.2,1574.6 365.1,1577.9 370,1574.1 374.9,1568.6 379.8,1557 384.7,1560 389.6,1562.5 394.5,1547.7 399.4,1549.5 404.3,1551.6 409.2,1549.1 414.1,1547.9 419,1537.5 423.9,1536.3 428.8,1509.9 433.7,1534.3 438.6,1527.3 443.5,1526 448.4,1527.4 453.3,1523 458.2,1516.2 463.1,1517.8 468,1507.5 472.9,1506.3 477.8,1512.4 482.7,1505.5 487.6,1517.9 492.5,1510.9 497.4,1511 502.3,1515.8 507.2,1524.1 512.1,1528.4 517,1508.2 521.9,1524.4 526.8,1534.2 531.7,1542.6 536.6,1542.4 541.5,1546.3 546.4,1555.8 551.3,1547.9 556.2,1561.4 561.1,1563.7 566,1575.5 570.9,1576.4 575.8,1563.7 580.7,1587.5 585.6,1587.7 590.5,1597.9 595.4,1599.4 600.3,1604.5 605.2,1595.1 610.1,1616.9 615,1600 619.9,1621.4 624.8,1623.9 629.7,1621.2 634.6,1628.8 639.5,1629.8 644.4,1631.3 649.3,1629.9 654.2,1622.4 659.1,1636.7 664,1643.1 668.9,1614.8 673.8,1637.3 678.7,1633.9 683.6,1638.5 688.5,1636.9 693.4,1623.1 698.3,1623.1 703.2,1631.2 708.1,1620.9 713,1631.5 717.9,1628 722.8,1615.3 727.7,1631.2 732.6,1634.8 737.5,1607.1 742.4,1622.9 747.3,1623.8 752.2,1620.9 757.1,1617.7 762,1602.5 766.9,1611.6 771.8,1616.3 776.7,1603.6 781.6,1609.7 786.5,1603.9 791.4,1605.4 796.3,1585.8 801.2,1602.6 806.1,1598.6 811,1593.2 815.9,1586 820.8,1571.1 825.7,1591.3 830.6,1590 835.5,1560.1 840.4,1572.1 845.3,1572.5 850.2,1569.8 855.1,1561.2 860,1554.9 864.9,1567 869.8,1557.5 874.7,1552.8 879.6,1543 884.5,1546.5 889.4,1541.3 894.3,1538.6 899.2,1530.8 904.1,1531.4 909,1513.7 913.9,1516.2 918.8,1507.2 923.7,1510.5 928.6,1506.9 933.5,1496.4 938.4,1486.7 943.3,1487.8 948.2,1477.6 953.1,1469.6 958,1474.6 962.9,1455.4 967.8,1461.7 972.7,1452.9 977.6,1454.3 982.5,1449.4 987.4,1461.5 992.3,1456.5 997.2,1443.6 1002.1,1449.8 1007,1453.6 1011.9,1453.9 1016.8,1470.9 1021.7,1457.3 1026.6,1458.4 1031.5,1473.2 1036.4,1479.9 1041.3,1472.5 1046.2,1492 1051.1,1510.9 1056,1498.3 1060.9,1515.8 1065.8,1527.8 1070.7,1540 1075.6,1547.2 1080.5,1547.5 1085.4,1558 1090.3,1564.9 1095.2,1573.6 1100.1,1579.5 1105,1581.4 1109.9,1572.8 1114.8,1598.4 1119.7,1598.8 1124.6,1614.5 1129.5,1614.3 1134.4,1614.9 1139.3,1622.2 1144.2,1625.6 1149.1,1621.7 1154,1638.9 1158.9,1632.6 1163.8,1633.8 1168.7,1645.3 1173.6,1635.5 1178.5,1649.3 1183.4,1652.4 1188.3,1651.7 1193.2,1657.2" fill="none" stroke="#bebebe" stroke-width="1.6"/>
<path d="M124,1649.5 127,1649.6 130,1649.6 133,1649.7 136,1649.7 139,1649.8 142,1649.8 145,1649.9 148,1649.9 151,1650 154,1650.1 157,1650.1 160,1650.2 163,1650.2 166,1650.3 169,1650.3 172,1650.4 175,1650.4 178,1650.5 181,1650.6 184,1650.6 187,1650.7 190,1650.7 193,1650.8 196,1650.8 199,1650.9 202,1651 205,1651 208,1651.1 211,1651.1 214,1651.2 217,1651.2 220,1651.3 223,1651.3 226,1651.4 229,1651.5 232,1651.5 235,1651.6 238,1651.6 241,1651.7 244,1651.7 247,1651.8 250,1651.8 253,1651.9 256,1652 259,1652 262,1652.1 265,1652.1 268,1652.2 271,1652.2 274,1652.3 277,1652.3 280,1652.4 283,1652.5 286,1652.5 289,1652.6 292,1652.6 295,1652.7 298,1652.7 301,1652.8 304,1652.9 307,1652.9 310,1653 313,1653 316,1653.1 319,1653.1 322,1653.2 325,1653.2 328,1653.3 331,1653.4 334,1653.4 337,1653.5 340,1653.5 343,1653.6 346,1653.6 349,1653.7 352,1653.7 355,1653.8 358,1653.9 361,1653.9 364,1654 367,1654 370,1654.1 373,1654.1 376,1654.2 379,1654.2 382,1654.3 385,1654.4 388,1654.4 391,1654.5 394,1654.5 397,1654.6 400,1654.6 403,1654.7 406,1654.8 409,1654.8 412,1654.9 415,1654.9 418,1655 421,1655 424,1655.1 427,1655.1 430,1655.2 433,1655.3 436,1655.3 439,1655.4 442,1655.4 445,1655.5 448,1655.5 451,1655.6 454,1655.6 457,1655.7 460,1655.8 463,1655.8 466,1655.9 469,1655.9 472,1656 475,1656 478,1656.1 481,1656.1 484,1656.2 487,1656.3 490,1656.3 493,1656.4 496,1656.4 499,1656.5 502,1656.5 505,1656.6 508,1656.7 511,1656.7 514,1656.8 517,1656.8 520,1656.9 523,1656.9 526,1657 529,1657 532,1657.1 535,1657.2 538,1657.2 541,1657.3 544,1657.3 547,1657.4 550,1657.4 553,1657.5 556,1657.5 559,1657.6 562,1657.7 565,1657.7 568,1657.8 571,1657.8 574,1657.9 577,1657.9 580,1658 583,1658 586,1658.1 589,1658.2 592,1658.2 595,1658.3 598,1658.3 601,1658.4 604,1658.4 607,1658.5 610,1658.6 613,1658.6 616,1658.7 619,1658.7 622,1658.8 625,1658.8 628,1658.9 631,1658.9 634,1659 637,1659.1 640,1659.1 643,1659.2 646,1659.2 649,1659.3 652,1659.3 655,1659.4 658,1659.4 661,1659.5 664,1659.6 667,1659.6 670,1659.7 673,1659.7 676,1659.8 679,1659.8 682,1659.9 685,1659.9 688,1660 691,1660.1 694,1660.1 697,1660.2 700,1660.2 703,1660.3 706,1660.3 709,1660.4 712,1660.4 715,1660.5 718,1660.6 721,1660.6 724,1660.7 727,1660.7 730,1660.8 733,1660.8 736,1660.9 739,1661 742,1661 745,1661.1 748,1661.1 751,1661.2 754,1661.2 757,1661.3 760,1661.3 763,1661.4 766,1661.5 769,1661.5 772,1661.6 775,1661.6 778,1661.7 781,1661.7 784,1661.8 787,1661.8 790,1661.9 793,1662 796,1662 799,1662.1 802,1662.1 805,1662.2 808,1662.2 811,1662.3 814,1662.3 817,1662.4 820,1662.5 823,1662.5 826,1662.6 829,1662.6 832,1662.7 835,1662.7 838,1662.8 841,1662.9 844,1662.9 847,1663 850,1663 853,1663.1 856,1663.1 859,1663.2 862,1663.2 865,1663.3 868,1663.4 871,1663.4 874,1663.5 877,1663.5 880,1663.6 883,1663.6 886,1663.7 889,1663.7 892,1663.8 895,1663.9 898,1663.9 901,1664 904,1664 907,1664.1 910,1664.1 913,1664.2 916,1664.2 919,1664.3 922,1664.4 925,1664.4 928,1664.5 931,1664.5 934,1664.6 937,1664.6 940,1664.7 943,1664.8 946,1664.8 949,1664.9 952,1664.9 955,1665 958,1665 961,1665.1 964,1665.1 967,1665.2 970,1665.3 973,1665.3 976,1665.4 979,1665.4 982,1665.5 985,1665.5 988,1665.6 991,1665.6 994,1665.7 997,1665.8 1000,1665.8 1003,1665.9 1006,1665.9 1009,1666 1012,1666 1015,1666.1 1018,1666.1 1021,1666.2 1024,1666.3 1027,1666.3 1030,1666.4 1033,1666.4 1036,1666.5 1039,1666.5 1042,1666.6 1045,1666.7 1048,1666.7 1051,1666.8 1054,1666.8 1057,1666.9 1060,1666.9 1063,1667 1066,1667 1069,1667.1 1072,1667.2 1075,1667.2 1078,1667.3 1081,1667.3 1084,1667.4 1087,1667.4 1090,1667.5 1093,1667.5 1096,1667.6 1099,1667.7 1102,1667.7 1105,1667.8 1108,1667.8 1111,1667.9 1114,1667.9 1117,1668 1120,1668 1123,1668.1 1126,1668.2 1129,1668.2 1132,1668.3 1135,1668.3 1138,1668.4 1141,1668.4 1144,1668.5 1147,1668.6 1150,1668.6 1153,1668.7 1156,1668.7 1159,1668.8 1162,1668.8 1165,1668.9 1168,1668.9 1171,1669 1174,1669.1 1177,1669.1 1180,1669.2 1183,1669.2 1186,1669.3 1189,1669.3 1192,1669.4 1195,1669.4 1198,1669.5" fill="none" stroke="#0000ff" stroke-width="5.5" stroke-dasharray="6 6.6"/>
<path d="M124,1646.5 127,1646.6 130,1646.6 133,1646.7 136,1646.7 139,1646.8 142,1646.8 145,1646.9 148,1646.9 151,1647 154,1647.1 157,1647.1 160,1647.2 163,1647.2 166,1647.3 169,1647.3 172,1647.4 175,1647.4 178,1647.5 181,1647.6 184,1647.6 187,1647.7 190,1647.7 193,1647.8 196,1647.8 199,1647.9 202,1648 205,1648 208,1648.1 211,1648.1 214,1648.2 217,1648.2 220,1648.3 223,1648.3 226,1648.4 229,1648.5 232,1648.5 235,1648.6 238,1648.6 241,1648.7 244,1648.7 247,1648.8 250,1648.8 253,1648.9 256,1649 259,1649 262,1649.1 265,1649.1 268,1649.2 271,1649.2 274,1649.3 277,1649.3 280,1649.4 283,1649.5 286,1649.5 289,1649.6 292,1649.6 295,1649.7 298,1649.7 301,1649.8 304,1649.9 307,1649.9 310,1650 313,1650 316,1650.1 319,1650.1 322,1650.2 325,1650.2 328,1650.3 331,1650.4 334,1650.4 337,1650.5 340,1650.5 343,1650.6 346,1650.6 349,1650.7 352,1650.7 355,1650.8 358,1650.9 361,1650.9 364,1651 367,1651 370,1651.1 373,1651.1 376,1651.2 379,1651.2 382,1651.3 385,1651.4 388,1651.4 391,1651.5 394,1651.5 397,1651.6 400,1651.6 403,1651.7 406,1651.8 409,1651.8 412,1651.9 415,1651.9 418,1652 421,1652 424,1652.1 427,1652.1 430,1652.2 433,1652.3 436,1652.3 439,1652.4 442,1652.4 445,1652.5 448,1652.5 451,1652.6 454,1652.6 457,1652.7 460,1652.8 463,1652.8 466,1652.9 469,1652.9 472,1653 475,1653 478,1653.1 481,1653.1 484,1653.2 487,1653.3 490,1653.3 493,1653.4 496,1653.4 499,1653.5 502,1653.5 505,1653.6 508,1653.7 511,1653.7 514,1653.8 517,1653.8 520,1653.9 523,1653.9 526,1654 529,1654 532,1654.1 535,1654.2 538,1654.2 541,1654.3 544,1654.3 547,1654.4 550,1654.4 553,1654.5 556,1654.5 559,1654.6 562,1654.7 565,1654.7 568,1654.8 571,1654.8 574,1654.9 577,1654.9 580,1655 583,1655 586,1655.1 589,1655.2 592,1655.2 595,1655.3 598,1655.3 601,1655.4 604,1655.4 607,1655.5 610,1655.6 613,1655.6 616,1655.7 619,1655.7 622,1655.8 625,1655.8 628,1655.9 631,1655.9 634,1656 637,1656.1 640,1656.1 643,1656.2 646,1656.2 649,1656.3 652,1656.3 655,1656.4 658,1656.4 661,1656.5 664,1656.6 667,1656.6 670,1656.7 673,1656.7 676,1656.8 679,1656.8 682,1656.9 685,1656.9 688,1657 691,1657.1 694,1657.1 697,1657.2 700,1657.2 703,1657.3 706,1657.3 709,1657.4 712,1657.4 715,1657.5 718,1657.6 721,1657.6 724,1657.7 727,1657.7 730,1657.8 733,1657.8 736,1657.9 739,1658 742,1658 745,1658.1 748,1658.1 751,1658.2 754,1658.2 757,1658.3 760,1658.3 763,1658.4 766,1658.5 769,1658.5 772,1658.6 775,1658.6 778,1658.7 781,1658.7 784,1658.8 787,1658.8 790,1658.9 793,1659 796,1659 799,1659.1 802,1659.1 805,1659.2 808,1659.2 811,1659.3 814,1659.3 817,1659.4 820,1659.5 823,1659.5 826,1659.6 829,1659.6 832,1659.7 835,1659.7 838,1659.8 841,1659.9 844,1659.9 847,1660 850,1660 853,1660.1 856,1660.1 859,1660.2 862,1660.2 865,1660.3 868,1660.4 871,1660.4 874,1660.5 877,1660.5 880,1660.6 883,1660.6 886,1660.7 889,1660.7 892,1660.8 895,1660.9 898,1660.9 901,1661 904,1661 907,1661.1 910,1661.1 913,1661.2 916,1661.2 919,1661.3 922,1661.4 925,1661.4 928,1661.5 931,1661.5 934,1661.6 937,1661.6 940,1661.7 943,1661.8 946,1661.8 949,1661.9 952,1661.9 955,1662 958,1662 961,1662.1 964,1662.1 967,1662.2 970,1662.3 973,1662.3 976,1662.4 979,1662.4 982,1662.5 985,1662.5 988,1662.6 991,1662.6 994,1662.7 997,1662.8 1000,1662.8 1003,1662.9 1006,1662.9 1009,1663 1012,1663 1015,1663.1 1018,1663.1 1021,1663.2 1024,1663.3 1027,1663.3 1030,1663.4 1033,1663.4 1036,1663.5 1039,1663.5 1042,1663.6 1045,1663.7 1048,1663.7 1051,1663.8 1054,1663.8 1057,1663.9 1060,1663.9 1063,1664 1066,1664 1069,1664.1 1072,1664.2 1075,1664.2 1078,1664.3 1081,1664.3 1084,1664.4 1087,1664.4 1090,1664.5 1093,1664.5 1096,1664.6 1099,1664.7 1102,1664.7 1105,1664.8 1108,1664.8 1111,1664.9 1114,1664.9 1117,1665 1120,1665 1123,1665.1 1126,1665.2 1129,1665.2 1132,1665.3 1135,1665.3 1138,1665.4 1141,1665.4 1144,1665.5 1147,1665.6 1150,1665.6 1153,1665.7 1156,1665.7 1159,1665.8 1162,1665.8 1165,1665.9 1168,1665.9 1171,1666 1174,1666.1 1177,1666.1 1180,1666.2 1183,1666.2 1186,1666.3 1189,1666.3 1192,1666.4 1195,1666.4 1198,1666.5" fill="none" stroke="#00bf46" stroke-width="5.5" stroke-dasharray="6 6.6" stroke-dashoffset="6.3"/>
<path d="M124,1647.3 127,1647.3 130,1647.3 133,1647.4 136,1647.4 139,1647.4 142,1647.5 145,1647.5 148,1647.5 151,1647.5 154,1647.6 157,1647.6 160,1647.6 163,1647.7 166,1647.7 169,1647.7 172,1647.8 175,1647.8 178,1647.8 181,1647.9 184,1647.9 187,1647.9 190,1648 193,1648 196,1648 199,1648.1 202,1648.1 205,1648.1 208,1648.2 211,1648.2 214,1648.2 217,1648.3 220,1648.3 223,1648.3 226,1648.4 229,1648.4 232,1648.4 235,1648.5 238,1648.5 241,1648.6 244,1648.6 247,1648.6 250,1648.7 253,1648.7 256,1648.8 259,1648.8 262,1648.8 265,1648.9 268,1648.9 271,1649 274,1649 277,1649.1 280,1649.1 283,1649.2 286,1649.2 289,1649.2 292,1649.3 295,1649.3 298,1649.4 301,1649.4 304,1649.5 307,1649.5 310,1649.6 313,1649.6 316,1649.7 319,1649.7 322,1649.8 325,1649.8 328,1649.9 331,1649.9 334,1650 337,1650.1 340,1650.1 343,1650.2 346,1650.2 349,1650.3 352,1650.3 355,1650.4 358,1650.4 361,1650.5 364,1650.5 367,1650.6 370,1650.6 373,1650.7 376,1650.8 379,1650.8 382,1650.9 385,1650.9 388,1651 391,1651.1 394,1651.1 397,1651.2 400,1651.2 403,1651.3 406,1651.4 409,1651.4 412,1651.5 415,1651.6 418,1651.7 421,1651.7 424,1651.8 427,1651.9 430,1652 433,1652.1 436,1652.1 439,1652.2 442,1652.3 445,1652.4 448,1652.5 451,1652.6 454,1652.7 457,1652.8 460,1652.9 463,1653 466,1653.1 469,1653.2 472,1653.3 475,1653.4 478,1653.5 481,1653.7 484,1653.8 487,1653.9 490,1654 493,1654.1 496,1654.2 499,1654.3 502,1654.4 505,1654.5 508,1654.6 511,1654.7 514,1654.8 517,1654.9 520,1655 523,1655.1 526,1655.1 529,1655.2 532,1655.3 535,1655.4 538,1655.5 541,1655.5 544,1655.6 547,1655.7 550,1655.7 553,1655.8 556,1655.8 559,1655.9 562,1655.9 565,1656 568,1656 571,1656.1 574,1656.1 577,1656.1 580,1656.2 583,1656.2 586,1656.2 589,1656.3 592,1656.3 595,1656.3 598,1656.3 601,1656.4 604,1656.4 607,1656.4 610,1656.4 613,1656.4 616,1656.4 619,1656.5 622,1656.5 625,1656.5 628,1656.5 631,1656.5 634,1656.5 637,1656.5 640,1656.5 643,1656.5 646,1656.5 649,1656.5 652,1656.5 655,1656.5 658,1656.5 661,1656.5 664,1656.5 667,1656.5 670,1656.5 673,1656.5 676,1656.5 679,1656.5 682,1656.5 685,1656.5 688,1656.5 691,1656.5 694,1656.4 697,1656.4 700,1656.4 703,1656.4 706,1656.4 709,1656.4 712,1656.3 715,1656.3 718,1656.3 721,1656.3 724,1656.2 727,1656.2 730,1656.2 733,1656.1 736,1656.1 739,1656 742,1656 745,1655.9 748,1655.9 751,1655.8 754,1655.7 757,1655.6 760,1655.5 763,1655.4 766,1655.3 769,1655.2 772,1655.1 775,1654.9 778,1654.8 781,1654.6 784,1654.4 787,1654.1 790,1653.9 793,1653.6 796,1653.3 799,1653 802,1652.6 805,1652.2 808,1651.8 811,1651.3 814,1650.7 817,1650.1 820,1649.5 823,1648.8 826,1648 829,1647.1 832,1646.2 835,1645.2 838,1644.1 841,1642.9 844,1641.6 847,1640.2 850,1638.8 853,1637.2 856,1635.4 859,1633.6 862,1631.6 865,1629.5 868,1627.3 871,1624.9 874,1622.4 877,1619.8 880,1616.9 883,1614 886,1610.9 889,1607.6 892,1604.3 895,1600.7 898,1597 901,1593.2 904,1589.2 907,1585.2 910,1580.9 913,1576.6 916,1572.2 919,1567.7 922,1563.1 925,1558.4 928,1553.6 931,1548.9 934,1544.1 937,1539.2 940,1534.4 943,1529.7 946,1524.9 949,1520.3 952,1515.7 955,1511.2 958,1506.9 961,1502.7 964,1498.8 967,1495 970,1491.4 973,1488.1 976,1485.1 979,1482.4 982,1480 985,1478 988,1476.2 991,1474.9 994,1474 997,1473.4 1000,1473.2 1003,1473.5 1006,1474.1 1009,1475.1 1012,1476.5 1015,1478.3 1018,1480.4 1021,1482.9 1024,1485.7 1027,1488.9 1030,1492.3 1033,1495.9 1036,1499.8 1039,1504 1042,1508.3 1045,1512.8 1048,1517.4 1051,1522.2 1054,1527 1057,1531.9 1060,1536.9 1063,1541.9 1066,1547 1069,1552 1072,1557 1075,1561.9 1078,1566.8 1081,1571.7 1084,1576.4 1087,1581.1 1090,1585.6 1093,1590.1 1096,1594.4 1099,1598.6 1102,1602.7 1105,1606.6 1108,1610.4 1111,1614 1114,1617.5 1117,1620.8 1120,1624 1123,1627 1126,1629.9 1129,1632.6 1132,1635.2 1135,1637.6 1138,1639.9 1141,1642.1 1144,1644.1 1147,1646 1150,1647.8 1153,1649.5 1156,1651 1159,1652.5 1162,1653.8 1165,1655.1 1168,1656.2 1171,1657.3 1174,1658.3 1177,1659.3 1180,1660.1 1183,1660.9 1186,1661.6 1189,1662.3 1192,1662.9 1195,1663.5 1198,1664" fill="none" stroke="#0000ff" stroke-width="5.5" stroke-dasharray="5.5 7"/>
<path d="M124,1646.7 127,1646.7 130,1646.7 133,1646.7 136,1646.8 139,1646.8 142,1646.8 145,1646.8 148,1646.8 151,1646.8 154,1646.9 157,1646.9 160,1646.9 163,1646.9 166,1646.9 169,1646.9 172,1646.9 175,1646.9 178,1647 181,1647 184,1647 187,1647 190,1647 193,1647 196,1647 199,1647 202,1647 205,1647 208,1647 211,1647 214,1647 217,1647 220,1647 223,1647 226,1647 229,1647 232,1647 235,1647 238,1646.9 241,1646.9 244,1646.9 247,1646.8 250,1646.8 253,1646.8 256,1646.7 259,1646.6 262,1646.6 265,1646.5 268,1646.4 271,1646.3 274,1646.1 277,1646 280,1645.8 283,1645.6 286,1645.4 289,1645.2 292,1644.9 295,1644.7 298,1644.4 301,1644 304,1643.6 307,1643.2 310,1642.7 313,1642.2 316,1641.6 319,1641 322,1640.4 325,1639.6 328,1638.8 331,1638 334,1637 337,1636 340,1634.9 343,1633.8 346,1632.5 349,1631.2 352,1629.8 355,1628.2 358,1626.6 361,1624.9 364,1623.1 367,1621.2 370,1619.2 373,1617.1 376,1614.9 379,1612.6 382,1610.2 385,1607.7 388,1605.1 391,1602.4 394,1599.6 397,1596.8 400,1593.9 403,1590.9 406,1587.8 409,1584.7 412,1581.6 415,1578.4 418,1575.3 421,1572.1 424,1568.9 427,1565.7 430,1562.5 433,1559.4 436,1556.4 439,1553.4 442,1550.5 445,1547.7 448,1545 451,1542.4 454,1540 457,1537.8 460,1535.7 463,1533.8 466,1532.1 469,1530.6 472,1529.4 475,1528.4 478,1527.6 481,1527.1 484,1526.8 487,1526.8 490,1527.1 493,1527.6 496,1528.3 499,1529.3 502,1530.6 505,1532.1 508,1533.8 511,1535.7 514,1537.8 517,1540.1 520,1542.5 523,1545.1 526,1547.9 529,1550.8 532,1553.8 535,1556.9 538,1560 541,1563.3 544,1566.6 547,1569.9 550,1573.2 553,1576.6 556,1579.9 559,1583.3 562,1586.6 565,1589.9 568,1593.1 571,1596.3 574,1599.4 577,1602.4 580,1605.4 583,1608.3 586,1611.1 589,1613.8 592,1616.4 595,1618.9 598,1621.3 601,1623.6 604,1625.9 607,1628 610,1630 613,1631.9 616,1633.7 619,1635.4 622,1637 625,1638.5 628,1640 631,1641.3 634,1642.6 637,1643.7 640,1644.8 643,1645.9 646,1646.8 649,1647.7 652,1648.5 655,1649.3 658,1650 661,1650.7 664,1651.3 667,1651.8 670,1652.3 673,1652.8 676,1653.2 679,1653.6 682,1654 685,1654.4 688,1654.7 691,1655 694,1655.2 697,1655.5 700,1655.7 703,1655.9 706,1656.1 709,1656.3 712,1656.5 715,1656.6 718,1656.8 721,1656.9 724,1657 727,1657.2 730,1657.3 733,1657.4 736,1657.5 739,1657.6 742,1657.7 745,1657.8 748,1657.9 751,1658 754,1658.1 757,1658.2 760,1658.2 763,1658.3 766,1658.4 769,1658.5 772,1658.6 775,1658.7 778,1658.7 781,1658.8 784,1658.9 787,1659 790,1659.1 793,1659.1 796,1659.2 799,1659.3 802,1659.4 805,1659.5 808,1659.5 811,1659.6 814,1659.7 817,1659.8 820,1659.9 823,1659.9 826,1660 829,1660.1 832,1660.2 835,1660.3 838,1660.4 841,1660.4 844,1660.5 847,1660.6 850,1660.7 853,1660.8 856,1660.9 859,1661 862,1661 865,1661.1 868,1661.2 871,1661.3 874,1661.4 877,1661.5 880,1661.6 883,1661.7 886,1661.7 889,1661.8 892,1661.9 895,1662 898,1662.1 901,1662.2 904,1662.3 907,1662.4 910,1662.5 913,1662.6 916,1662.7 919,1662.8 922,1662.9 925,1663 928,1663.2 931,1663.3 934,1663.4 937,1663.5 940,1663.6 943,1663.8 946,1663.9 949,1664 952,1664.2 955,1664.3 958,1664.5 961,1664.6 964,1664.8 967,1664.9 970,1665.1 973,1665.2 976,1665.4 979,1665.6 982,1665.7 985,1665.9 988,1666.1 991,1666.2 994,1666.4 997,1666.6 1000,1666.7 1003,1666.9 1006,1667.1 1009,1667.2 1012,1667.4 1015,1667.6 1018,1667.7 1021,1667.9 1024,1668 1027,1668.2 1030,1668.3 1033,1668.5 1036,1668.6 1039,1668.8 1042,1668.9 1045,1669 1048,1669.2 1051,1669.3 1054,1669.4 1057,1669.5 1060,1669.6 1063,1669.7 1066,1669.8 1069,1669.9 1072,1670 1075,1670.1 1078,1670.2 1081,1670.3 1084,1670.3 1087,1670.4 1090,1670.5 1093,1670.6 1096,1670.6 1099,1670.7 1102,1670.7 1105,1670.8 1108,1670.9 1111,1670.9 1114,1671 1117,1671 1120,1671.1 1123,1671.1 1126,1671.1 1129,1671.2 1132,1671.2 1135,1671.3 1138,1671.3 1141,1671.4 1144,1671.4 1147,1671.4 1150,1671.5 1153,1671.5 1156,1671.6 1159,1671.6 1162,1671.6 1165,1671.7 1168,1671.7 1171,1671.7 1174,1671.8 1177,1671.8 1180,1671.8 1183,1671.9 1186,1671.9 1189,1671.9 1192,1672 1195,1672 1198,1672.1" fill="none" stroke="#0000ff" stroke-width="5.5" stroke-dasharray="5.5 7"/>
<path d="M124,1647.5 127,1647.5 130,1647.6 133,1647.6 136,1647.6 139,1647.7 142,1647.7 145,1647.7 148,1647.8 151,1647.8 154,1647.8 157,1647.9 160,1647.9 163,1647.9 166,1648 169,1648 172,1648 175,1648.1 178,1648.1 181,1648.1 184,1648.2 187,1648.2 190,1648.2 193,1648.3 196,1648.3 199,1648.3 202,1648.4 205,1648.4 208,1648.4 211,1648.5 214,1648.5 217,1648.5 220,1648.6 223,1648.6 226,1648.7 229,1648.7 232,1648.7 235,1648.8 238,1648.8 241,1648.9 244,1648.9 247,1648.9 250,1649 253,1649 256,1649.1 259,1649.1 262,1649.2 265,1649.2 268,1649.2 271,1649.3 274,1649.3 277,1649.4 280,1649.4 283,1649.5 286,1649.5 289,1649.6 292,1649.6 295,1649.7 298,1649.7 301,1649.8 304,1649.8 307,1649.9 310,1649.9 313,1650 316,1650.1 319,1650.1 322,1650.2 325,1650.2 328,1650.3 331,1650.3 334,1650.4 337,1650.4 340,1650.5 343,1650.5 346,1650.6 349,1650.7 352,1650.7 355,1650.8 358,1650.8 361,1650.9 364,1650.9 367,1651 370,1651.1 373,1651.1 376,1651.2 379,1651.2 382,1651.3 385,1651.4 388,1651.4 391,1651.5 394,1651.6 397,1651.6 400,1651.7 403,1651.8 406,1651.8 409,1651.9 412,1652 415,1652.1 418,1652.1 421,1652.2 424,1652.3 427,1652.4 430,1652.5 433,1652.6 436,1652.7 439,1652.7 442,1652.8 445,1652.9 448,1653 451,1653.1 454,1653.2 457,1653.3 460,1653.5 463,1653.6 466,1653.7 469,1653.8 472,1653.9 475,1654 478,1654.1 481,1654.2 484,1654.3 487,1654.5 490,1654.6 493,1654.7 496,1654.8 499,1654.9 502,1655 505,1655.1 508,1655.2 511,1655.3 514,1655.4 517,1655.5 520,1655.6 523,1655.7 526,1655.8 529,1655.9 532,1655.9 535,1656 538,1656.1 541,1656.2 544,1656.2 547,1656.3 550,1656.4 553,1656.4 556,1656.5 559,1656.5 562,1656.6 565,1656.6 568,1656.6 571,1656.7 574,1656.7 577,1656.7 580,1656.7 583,1656.7 586,1656.7 589,1656.7 592,1656.7 595,1656.7 598,1656.7 601,1656.7 604,1656.7 607,1656.6 610,1656.6 613,1656.5 616,1656.5 619,1656.4 622,1656.3 625,1656.2 628,1656.1 631,1656 634,1655.9 637,1655.8 640,1655.6 643,1655.5 646,1655.3 649,1655.1 652,1654.9 655,1654.7 658,1654.4 661,1654.2 664,1653.9 667,1653.6 670,1653.3 673,1653 676,1652.6 679,1652.2 682,1651.8 685,1651.4 688,1650.9 691,1650.5 694,1650 697,1649.4 700,1648.9 703,1648.3 706,1647.7 709,1647 712,1646.4 715,1645.7 718,1644.9 721,1644.2 724,1643.4 727,1642.6 730,1641.8 733,1640.9 736,1640 739,1639.1 742,1638.2 745,1637.3 748,1636.3 751,1635.3 754,1634.3 757,1633.3 760,1632.2 763,1631.2 766,1630.2 769,1629.1 772,1628 775,1627 778,1625.9 781,1624.9 784,1623.8 787,1622.8 790,1621.7 793,1620.7 796,1619.7 799,1618.8 802,1617.8 805,1616.9 808,1616 811,1615.2 814,1614.4 817,1613.6 820,1612.9 823,1612.2 826,1611.6 829,1611 832,1610.5 835,1610.1 838,1609.7 841,1609.4 844,1609.1 847,1608.9 850,1608.8 853,1608.8 856,1608.8 859,1608.8 862,1609 865,1609.2 868,1609.5 871,1609.9 874,1610.3 877,1610.8 880,1611.3 883,1611.9 886,1612.6 889,1613.3 892,1614.1 895,1615 898,1615.8 901,1616.8 904,1617.7 907,1618.7 910,1619.8 913,1620.9 916,1622 919,1623.1 922,1624.2 925,1625.4 928,1626.6 931,1627.8 934,1629 937,1630.3 940,1631.5 943,1632.7 946,1634 949,1635.2 952,1636.4 955,1637.6 958,1638.8 961,1640 964,1641.2 967,1642.4 970,1643.6 973,1644.7 976,1645.8 979,1646.9 982,1648 985,1649 988,1650 991,1651 994,1652 997,1653 1000,1653.9 1003,1654.8 1006,1655.6 1009,1656.4 1012,1657.2 1015,1658 1018,1658.8 1021,1659.5 1024,1660.1 1027,1660.8 1030,1661.4 1033,1662 1036,1662.6 1039,1663.1 1042,1663.6 1045,1664.1 1048,1664.6 1051,1665 1054,1665.4 1057,1665.8 1060,1666.2 1063,1666.6 1066,1666.9 1069,1667.2 1072,1667.5 1075,1667.8 1078,1668 1081,1668.3 1084,1668.5 1087,1668.7 1090,1668.9 1093,1669.1 1096,1669.2 1099,1669.4 1102,1669.6 1105,1669.7 1108,1669.8 1111,1670 1114,1670.1 1117,1670.2 1120,1670.3 1123,1670.4 1126,1670.5 1129,1670.6 1132,1670.7 1135,1670.7 1138,1670.8 1141,1670.9 1144,1671 1147,1671 1150,1671.1 1153,1671.1 1156,1671.2 1159,1671.3 1162,1671.3 1165,1671.4 1168,1671.4 1171,1671.5 1174,1671.5 1177,1671.6 1180,1671.6 1183,1671.6 1186,1671.7 1189,1671.7 1192,1671.8 1195,1671.8 1198,1671.9" fill="none" stroke="#00bf46" stroke-width="5.5" stroke-dasharray="5.5 7"/>
<path d="M124,1645.4 127,1645.3 130,1645.2 133,1645 136,1644.9 139,1644.7 142,1644.5 145,1644.3 148,1644.1 151,1643.9 154,1643.7 157,1643.4 160,1643.2 163,1642.9 166,1642.6 169,1642.3 172,1641.9 175,1641.6 178,1641.2 181,1640.8 184,1640.4 187,1640 190,1639.5 193,1639.1 196,1638.6 199,1638.1 202,1637.6 205,1637.1 208,1636.5 211,1635.9 214,1635.4 217,1634.8 220,1634.2 223,1633.5 226,1632.9 229,1632.2 232,1631.6 235,1630.9 238,1630.2 241,1629.6 244,1628.9 247,1628.2 250,1627.5 253,1626.8 256,1626.1 259,1625.4 262,1624.8 265,1624.1 268,1623.4 271,1622.8 274,1622.1 277,1621.5 280,1620.9 283,1620.3 286,1619.8 289,1619.3 292,1618.8 295,1618.3 298,1617.8 301,1617.4 304,1617.1 307,1616.7 310,1616.4 313,1616.2 316,1616 319,1615.8 322,1615.6 325,1615.6 328,1615.5 331,1615.5 334,1615.6 337,1615.7 340,1615.8 343,1616 346,1616.2 349,1616.5 352,1616.8 355,1617.2 358,1617.6 361,1618 364,1618.5 367,1619 370,1619.5 373,1620.1 376,1620.7 379,1621.4 382,1622 385,1622.7 388,1623.4 391,1624.2 394,1624.9 397,1625.7 400,1626.4 403,1627.2 406,1628 409,1628.8 412,1629.6 415,1630.4 418,1631.3 421,1632.1 424,1632.9 427,1633.7 430,1634.5 433,1635.3 436,1636.1 439,1636.9 442,1637.7 445,1638.5 448,1639.2 451,1640 454,1640.7 457,1641.4 460,1642.1 463,1642.8 466,1643.5 469,1644.1 472,1644.8 475,1645.4 478,1646 481,1646.6 484,1647.1 487,1647.7 490,1648.2 493,1648.7 496,1649.2 499,1649.7 502,1650.1 505,1650.6 508,1651 511,1651.4 514,1651.8 517,1652.1 520,1652.5 523,1652.8 526,1653.1 529,1653.4 532,1653.7 535,1654 538,1654.2 541,1654.5 544,1654.7 547,1654.9 550,1655.1 553,1655.3 556,1655.5 559,1655.7 562,1655.8 565,1656 568,1656.1 571,1656.3 574,1656.4 577,1656.5 580,1656.6 583,1656.7 586,1656.8 589,1656.9 592,1657 595,1657.1 598,1657.2 601,1657.2 604,1657.3 607,1657.4 610,1657.5 613,1657.5 616,1657.6 619,1657.6 622,1657.7 625,1657.8 628,1657.8 631,1657.9 634,1657.9 637,1658 640,1658 643,1658 646,1658.1 649,1658.1 652,1658.2 655,1658.2 658,1658.3 661,1658.3 664,1658.3 667,1658.4 670,1658.4 673,1658.5 676,1658.5 679,1658.5 682,1658.6 685,1658.6 688,1658.7 691,1658.7 694,1658.7 697,1658.8 700,1658.8 703,1658.9 706,1658.9 709,1658.9 712,1659 715,1659 718,1659.1 721,1659.1 724,1659.1 727,1659.2 730,1659.2 733,1659.3 736,1659.3 739,1659.4 742,1659.4 745,1659.4 748,1659.5 751,1659.5 754,1659.6 757,1659.6 760,1659.7 763,1659.7 766,1659.8 769,1659.8 772,1659.9 775,1659.9 778,1660 781,1660 784,1660.1 787,1660.1 790,1660.2 793,1660.3 796,1660.3 799,1660.4 802,1660.4 805,1660.5 808,1660.6 811,1660.6 814,1660.7 817,1660.7 820,1660.8 823,1660.9 826,1660.9 829,1661 832,1661.1 835,1661.1 838,1661.2 841,1661.3 844,1661.4 847,1661.4 850,1661.5 853,1661.6 856,1661.6 859,1661.7 862,1661.8 865,1661.9 868,1661.9 871,1662 874,1662.1 877,1662.2 880,1662.2 883,1662.3 886,1662.4 889,1662.5 892,1662.6 895,1662.6 898,1662.7 901,1662.8 904,1662.9 907,1663 910,1663.1 913,1663.2 916,1663.3 919,1663.4 922,1663.5 925,1663.6 928,1663.7 931,1663.8 934,1663.9 937,1664 940,1664.1 943,1664.3 946,1664.4 949,1664.5 952,1664.7 955,1664.8 958,1664.9 961,1665.1 964,1665.2 967,1665.4 970,1665.5 973,1665.7 976,1665.8 979,1666 982,1666.1 985,1666.3 988,1666.5 991,1666.6 994,1666.8 997,1667 1000,1667.1 1003,1667.3 1006,1667.5 1009,1667.6 1012,1667.8 1015,1667.9 1018,1668.1 1021,1668.2 1024,1668.4 1027,1668.5 1030,1668.7 1033,1668.8 1036,1669 1039,1669.1 1042,1669.2 1045,1669.4 1048,1669.5 1051,1669.6 1054,1669.7 1057,1669.8 1060,1669.9 1063,1670 1066,1670.1 1069,1670.2 1072,1670.3 1075,1670.4 1078,1670.5 1081,1670.6 1084,1670.6 1087,1670.7 1090,1670.8 1093,1670.8 1096,1670.9 1099,1671 1102,1671 1105,1671.1 1108,1671.1 1111,1671.2 1114,1671.2 1117,1671.3 1120,1671.3 1123,1671.4 1126,1671.4 1129,1671.4 1132,1671.5 1135,1671.5 1138,1671.6 1141,1671.6 1144,1671.6 1147,1671.7 1150,1671.7 1153,1671.7 1156,1671.8 1159,1671.8 1162,1671.8 1165,1671.9 1168,1671.9 1171,1672 1174,1672 1177,1672 1180,1672.1 1183,1672.1 1186,1672.1 1189,1672.2 1192,1672.2 1195,1672.2 1198,1672.3" fill="none" stroke="#00bf46" stroke-width="5.5" stroke-dasharray="5.5 7"/>
<path d="M124,1647.6 127,1647.6 130,1647.7 133,1647.7 136,1647.7 139,1647.8 142,1647.8 145,1647.8 148,1647.9 151,1647.9 154,1647.9 157,1648 160,1648 163,1648 166,1648.1 169,1648.1 172,1648.1 175,1648.2 178,1648.2 181,1648.2 184,1648.3 187,1648.3 190,1648.3 193,1648.4 196,1648.4 199,1648.4 202,1648.5 205,1648.5 208,1648.6 211,1648.6 214,1648.6 217,1648.7 220,1648.7 223,1648.7 226,1648.8 229,1648.8 232,1648.9 235,1648.9 238,1649 241,1649 244,1649 247,1649.1 250,1649.1 253,1649.2 256,1649.2 259,1649.3 262,1649.3 265,1649.3 268,1649.4 271,1649.4 274,1649.5 277,1649.5 280,1649.6 283,1649.6 286,1649.7 289,1649.7 292,1649.8 295,1649.8 298,1649.9 301,1650 304,1650 307,1650.1 310,1650.1 313,1650.2 316,1650.2 319,1650.3 322,1650.3 325,1650.4 328,1650.5 331,1650.5 334,1650.6 337,1650.6 340,1650.7 343,1650.7 346,1650.8 349,1650.9 352,1650.9 355,1651 358,1651 361,1651.1 364,1651.2 367,1651.2 370,1651.3 373,1651.3 376,1651.4 379,1651.5 382,1651.5 385,1651.6 388,1651.7 391,1651.7 394,1651.8 397,1651.9 400,1651.9 403,1652 406,1652.1 409,1652.2 412,1652.2 415,1652.3 418,1652.4 421,1652.5 424,1652.6 427,1652.7 430,1652.7 433,1652.8 436,1652.9 439,1653 442,1653.1 445,1653.2 448,1653.3 451,1653.4 454,1653.5 457,1653.7 460,1653.8 463,1653.9 466,1654 469,1654.1 472,1654.2 475,1654.3 478,1654.5 481,1654.6 484,1654.7 487,1654.8 490,1654.9 493,1655.1 496,1655.2 499,1655.3 502,1655.4 505,1655.5 508,1655.6 511,1655.7 514,1655.8 517,1655.9 520,1656 523,1656.2 526,1656.2 529,1656.3 532,1656.4 535,1656.5 538,1656.6 541,1656.7 544,1656.8 547,1656.9 550,1656.9 553,1657 556,1657.1 559,1657.2 562,1657.2 565,1657.3 568,1657.3 571,1657.4 574,1657.5 577,1657.5 580,1657.6 583,1657.6 586,1657.7 589,1657.7 592,1657.8 595,1657.8 598,1657.9 601,1657.9 604,1657.9 607,1658 610,1658 613,1658.1 616,1658.1 619,1658.1 622,1658.2 625,1658.2 628,1658.2 631,1658.3 634,1658.3 637,1658.3 640,1658.4 643,1658.4 646,1658.4 649,1658.5 652,1658.5 655,1658.6 658,1658.6 661,1658.6 664,1658.7 667,1658.7 670,1658.7 673,1658.8 676,1658.8 679,1658.8 682,1658.9 685,1658.9 688,1658.9 691,1659 694,1659 697,1659 700,1659.1 703,1659.1 706,1659.1 709,1659.2 712,1659.2 715,1659.2 718,1659.3 721,1659.3 724,1659.4 727,1659.4 730,1659.4 733,1659.5 736,1659.5 739,1659.6 742,1659.6 745,1659.6 748,1659.7 751,1659.7 754,1659.8 757,1659.8 760,1659.9 763,1659.9 766,1659.9 769,1660 772,1660 775,1660.1 778,1660.1 781,1660.2 784,1660.2 787,1660.3 790,1660.4 793,1660.4 796,1660.5 799,1660.5 802,1660.6 805,1660.6 808,1660.7 811,1660.8 814,1660.8 817,1660.9 820,1660.9 823,1661 826,1661.1 829,1661.1 832,1661.2 835,1661.3 838,1661.3 841,1661.4 844,1661.5 847,1661.5 850,1661.6 853,1661.7 856,1661.8 859,1661.8 862,1661.9 865,1662 868,1662.1 871,1662.1 874,1662.2 877,1662.3 880,1662.4 883,1662.4 886,1662.5 889,1662.6 892,1662.7 895,1662.8 898,1662.8 901,1662.9 904,1663 907,1663.1 910,1663.2 913,1663.3 916,1663.4 919,1663.5 922,1663.6 925,1663.7 928,1663.8 931,1663.9 934,1664 937,1664.1 940,1664.2 943,1664.4 946,1664.5 949,1664.6 952,1664.7 955,1664.9 958,1665 961,1665.2 964,1665.3 967,1665.5 970,1665.6 973,1665.8 976,1665.9 979,1666.1 982,1666.2 985,1666.4 988,1666.5 991,1666.7 994,1666.9 997,1667 1000,1667.2 1003,1667.4 1006,1667.5 1009,1667.7 1012,1667.8 1015,1668 1018,1668.2 1021,1668.3 1024,1668.5 1027,1668.6 1030,1668.8 1033,1668.9 1036,1669 1039,1669.2 1042,1669.3 1045,1669.4 1048,1669.6 1051,1669.7 1054,1669.8 1057,1669.9 1060,1670 1063,1670.1 1066,1670.2 1069,1670.3 1072,1670.4 1075,1670.5 1078,1670.5 1081,1670.6 1084,1670.7 1087,1670.8 1090,1670.8 1093,1670.9 1096,1671 1099,1671 1102,1671.1 1105,1671.1 1108,1671.2 1111,1671.2 1114,1671.3 1117,1671.3 1120,1671.4 1123,1671.4 1126,1671.5 1129,1671.5 1132,1671.5 1135,1671.6 1138,1671.6 1141,1671.6 1144,1671.7 1147,1671.7 1150,1671.8 1153,1671.8 1156,1671.8 1159,1671.9 1162,1671.9 1165,1671.9 1168,1672 1171,1672 1174,1672 1177,1672.1 1180,1672.1 1183,1672.1 1186,1672.2 1189,1672.2 1192,1672.2 1195,1672.3 1198,1672.3" fill="none" stroke="#800080" stroke-width="4.5"/>
<path d="M124,1644.1 127,1643.9 130,1643.8 133,1643.6 136,1643.5 139,1643.3 142,1643.1 145,1642.9 148,1642.6 151,1642.4 154,1642.1 157,1641.9 160,1641.6 163,1641.3 166,1640.9 169,1640.6 172,1640.2 175,1639.9 178,1639.5 181,1639.1 184,1638.6 187,1638.2 190,1637.7 193,1637.2 196,1636.7 199,1636.2 202,1635.6 205,1635 208,1634.5 211,1633.8 214,1633.2 217,1632.6 220,1631.9 223,1631.3 226,1630.6 229,1629.9 232,1629.1 235,1628.4 238,1627.7 241,1626.9 244,1626.2 247,1625.4 250,1624.6 253,1623.8 256,1623 259,1622.2 262,1621.4 265,1620.6 268,1619.8 271,1619 274,1618.2 277,1617.4 280,1616.6 283,1615.8 286,1614.9 289,1614.1 292,1613.3 295,1612.5 298,1611.7 301,1610.9 304,1610.1 307,1609.3 310,1608.5 313,1607.7 316,1606.8 319,1606 322,1605.1 325,1604.3 328,1603.4 331,1602.5 334,1601.6 337,1600.6 340,1599.6 343,1598.6 346,1597.5 349,1596.4 352,1595.3 355,1594.1 358,1592.8 361,1591.5 364,1590.1 367,1588.7 370,1587.2 373,1585.6 376,1584 379,1582.2 382,1580.5 385,1578.6 388,1576.6 391,1574.6 394,1572.6 397,1570.4 400,1568.2 403,1565.9 406,1563.6 409,1561.2 412,1558.8 415,1556.4 418,1553.9 421,1551.4 424,1548.9 427,1546.5 430,1544 433,1541.5 436,1539.1 439,1536.8 442,1534.5 445,1532.3 448,1530.2 451,1528.3 454,1526.4 457,1524.7 460,1523.1 463,1521.7 466,1520.5 469,1519.5 472,1518.6 475,1518 478,1517.6 481,1517.5 484,1517.6 487,1517.9 490,1518.4 493,1519.2 496,1520.3 499,1521.5 502,1523 505,1524.7 508,1526.6 511,1528.7 514,1531.1 517,1533.5 520,1536.2 523,1539 526,1541.9 529,1544.9 532,1548 535,1551.3 538,1554.6 541,1557.9 544,1561.3 547,1564.7 550,1568.2 553,1571.6 556,1575.1 559,1578.5 562,1581.9 565,1585.2 568,1588.5 571,1591.8 574,1594.9 577,1598 580,1601 583,1603.9 586,1606.8 589,1609.5 592,1612.1 595,1614.6 598,1617.1 601,1619.4 604,1621.5 607,1623.6 610,1625.6 613,1627.5 616,1629.2 619,1630.9 622,1632.4 625,1633.8 628,1635.1 631,1636.4 634,1637.5 637,1638.5 640,1639.4 643,1640.3 646,1641 649,1641.7 652,1642.3 655,1642.8 658,1643.2 661,1643.6 664,1643.9 667,1644.1 670,1644.2 673,1644.3 676,1644.3 679,1644.3 682,1644.2 685,1644.1 688,1643.9 691,1643.6 694,1643.3 697,1642.9 700,1642.5 703,1642.1 706,1641.6 709,1641.1 712,1640.5 715,1639.9 718,1639.2 721,1638.5 724,1637.7 727,1636.9 730,1636.1 733,1635.3 736,1634.4 739,1633.5 742,1632.5 745,1631.5 748,1630.5 751,1629.4 754,1628.4 757,1627.3 760,1626.1 763,1625 766,1623.8 769,1622.6 772,1621.4 775,1620.2 778,1618.9 781,1617.7 784,1616.4 787,1615.1 790,1613.8 793,1612.5 796,1611.2 799,1609.8 802,1608.5 805,1607.1 808,1605.8 811,1604.4 814,1603 817,1601.6 820,1600.2 823,1598.8 826,1597.4 829,1596 832,1594.5 835,1593 838,1591.5 841,1590 844,1588.4 847,1586.8 850,1585.2 853,1583.5 856,1581.8 859,1580.1 862,1578.3 865,1576.4 868,1574.5 871,1572.5 874,1570.4 877,1568.3 880,1566.1 883,1563.8 886,1561.4 889,1558.9 892,1556.4 895,1553.7 898,1551 901,1548.2 904,1545.3 907,1542.3 910,1539.2 913,1536 916,1532.8 919,1529.5 922,1526.1 925,1522.7 928,1519.2 931,1515.7 934,1512.2 937,1508.6 940,1505.1 943,1501.6 946,1498.1 949,1494.7 952,1491.3 955,1488.1 958,1484.9 961,1481.9 964,1479 967,1476.3 970,1473.7 973,1471.4 976,1469.3 979,1467.5 982,1465.9 985,1464.6 988,1463.7 991,1463 994,1462.7 997,1462.7 1000,1463 1003,1463.7 1006,1464.8 1009,1466.2 1012,1467.9 1015,1470 1018,1472.4 1021,1475.1 1024,1478.2 1027,1481.5 1030,1485 1033,1488.9 1036,1492.9 1039,1497.1 1042,1501.5 1045,1506.1 1048,1510.8 1051,1515.6 1054,1520.6 1057,1525.5 1060,1530.6 1063,1535.7 1066,1540.7 1069,1545.8 1072,1550.9 1075,1555.9 1078,1560.9 1081,1565.8 1084,1570.7 1087,1575.4 1090,1580.1 1093,1584.6 1096,1589 1099,1593.3 1102,1597.5 1105,1601.6 1108,1605.5 1111,1609.2 1114,1612.8 1117,1616.3 1120,1619.6 1123,1622.8 1126,1625.8 1129,1628.6 1132,1631.4 1135,1633.9 1138,1636.4 1141,1638.7 1144,1640.9 1147,1642.9 1150,1644.8 1153,1646.6 1156,1648.3 1159,1649.9 1162,1651.4 1165,1652.7 1168,1654 1171,1655.2 1174,1656.3 1177,1657.3 1180,1658.3 1183,1659.2 1186,1660 1189,1660.7 1192,1661.4 1195,1662.1 1198,1662.6" fill="none" stroke="#ff8014" stroke-width="6.5" stroke-linejoin="round"/>
</g>
<g clip-path="url(#clipB)">
<path d="M1298,1107.1 1301,1107.1 1304,1107 1307,1107 1310,1107 1313,1107 1316,1107 1319,1107 1322,1107 1325,1107 1328,1107 1331,1107 1334,1107 1337,1107 1340,1107 1343,1106.9 1346,1106.9 1349,1106.9 1352,1106.9 1355,1106.9 1358,1106.9 1361,1106.9 1364,1106.9 1367,1106.9 1370,1106.9 1373,1106.9 1376,1106.8 1379,1106.8 1382,1106.8 1385,1106.8 1388,1106.8 1391,1106.8 1394,1106.8 1397,1106.8 1400,1106.8 1403,1106.8 1406,1106.7 1409,1106.7 1412,1106.7 1415,1106.7 1418,1106.7 1421,1106.7 1424,1106.7 1427,1106.7 1430,1106.6 1433,1106.6 1436,1106.6 1439,1106.6 1442,1106.6 1445,1106.6 1448,1106.6 1451,1106.5 1454,1106.5 1457,1106.5 1460,1106.5 1463,1106.5 1466,1106.5 1469,1106.5 1472,1106.4 1475,1106.4 1478,1106.4 1481,1106.4 1484,1106.4 1487,1106.4 1490,1106.3 1493,1106.3 1496,1106.3 1499,1106.3 1502,1106.3 1505,1106.3 1508,1106.2 1511,1106.2 1514,1106.2 1517,1106.2 1520,1106.2 1523,1106.1 1526,1106.1 1529,1106.1 1532,1106.1 1535,1106 1538,1106 1541,1106 1544,1106 1547,1106 1550,1105.9 1553,1105.9 1556,1105.9 1559,1105.8 1562,1105.8 1565,1105.8 1568,1105.8 1571,1105.7 1574,1105.7 1577,1105.7 1580,1105.7 1583,1105.6 1586,1105.6 1589,1105.6 1592,1105.5 1595,1105.5 1598,1105.5 1601,1105.4 1604,1105.4 1607,1105.4 1610,1105.3 1613,1105.3 1616,1105.3 1619,1105.2 1622,1105.2 1625,1105.1 1628,1105.1 1631,1105.1 1634,1105 1637,1105 1640,1104.9 1643,1104.9 1646,1104.8 1649,1104.8 1652,1104.7 1655,1104.7 1658,1104.7 1661,1104.6 1664,1104.6 1667,1104.5 1670,1104.4 1673,1104.4 1676,1104.3 1679,1104.3 1682,1104.2 1685,1104.2 1688,1104.1 1691,1104 1694,1104 1697,1103.9 1700,1103.8 1703,1103.8 1706,1103.7 1709,1103.6 1712,1103.6 1715,1103.5 1718,1103.4 1721,1103.3 1724,1103.2 1727,1103.2 1730,1103.1 1733,1103 1736,1102.9 1739,1102.8 1742,1102.7 1745,1102.6 1748,1102.5 1751,1102.4 1754,1102.3 1757,1102.2 1760,1102.1 1763,1101.9 1766,1101.8 1769,1101.7 1772,1101.6 1775,1101.4 1778,1101.3 1781,1101.1 1784,1101 1787,1100.8 1790,1100.7 1793,1100.5 1796,1100.3 1799,1100.1 1802,1099.9 1805,1099.7 1808,1099.5 1811,1099.3 1814,1099 1817,1098.7 1820,1098.4 1823,1098.1 1826,1097.8 1829,1097.4 1832,1097 1835,1096.5 1838,1096 1841,1095.4 1844,1094.8 1847,1094.1 1850,1093.2 1853,1092.3 1856,1091.2 1859,1090 1862,1088.6 1865,1087 1868,1085.2 1871,1083.1 1874,1080.8 1877,1078.1 1880,1075 1883,1071.5 1886,1067.6 1889,1063.1 1892,1058.1 1895,1052.4 1898,1046.1 1901,1039 1904,1031.2 1907,1022.4 1910,1012.7 1913,1002 1916,990.3 1919,977.5 1922,963.4 1925,948.2 1928,931.7 1931,913.9 1934,894.8 1937,874.4 1940,852.7 1943,829.7 1946,805.4 1949,779.9 1952,753.2 1955,725.4 1958,696.6 1961,667 1964,636.7 1967,605.8 1970,574.4 1973,542.9 1976,511.4 1979,480.1 1982,449.2 1985,419 1988,389.8 1991,361.9 1994,335.4 1997,310.7 2000,288.1 2003,267.7 2006,249.9 2009,234.9 2012,222.8 2015,213.8 2018,208.2 2021,205.8 2024,206.9 2027,211.3 2030,219.1 2033,230.1 2036,244.1 2039,261.1 2042,280.7 2045,302.7 2048,327 2051,353.2 2054,381 2057,410.2 2060,440.6 2063,471.7 2066,503.5 2069,535.6 2072,567.8 2075,599.9 2078,631.7 2081,663.1 2084,693.7 2087,723.6 2090,752.5 2093,780.4 2096,807.1 2099,832.7 2102,857 2105,879.9 2108,901.6 2111,921.9 2114,940.8 2117,958.5 2120,974.8 2123,989.9 2126,1003.8 2129,1016.5 2132,1028.2 2135,1038.7 2138,1048.3 2141,1057 2144,1064.8 2147,1071.8 2150,1078.1 2153,1083.7 2156,1088.7 2159,1093.2 2162,1097.1 2165,1100.6 2168,1103.7 2171,1106.4 2174,1108.9 2177,1111 2180,1112.9 2183,1114.5 2186,1116 2189,1117.3 2192,1118.4 2195,1119.5 2198,1120.4 2201,1121.2 2204,1121.9 2207,1122.6 2210,1123.2 2213,1123.7 2216,1124.2 2219,1124.7 2222,1125.1 2225,1125.5 2228,1125.8 2231,1126.2 2234,1126.5 2237,1126.8 2240,1127.1 2243,1127.4 2246,1127.6 2249,1127.9 2252,1128.1 2255,1128.3 2258,1128.5 2261,1128.7 2264,1128.9 2267,1129.1 2270,1129.3 2273,1129.5 2276,1129.7 2279,1129.8 2282,1130 2285,1130.1 2288,1130.3 2291,1130.4 2294,1130.6 2294,1141 2291,1140.9 2288,1140.8 2285,1140.7 2282,1140.6 2279,1140.5 2276,1140.4 2273,1140.3 2270,1140.3 2267,1140.2 2264,1140.1 2261,1140 2258,1139.9 2255,1139.8 2252,1139.7 2249,1139.6 2246,1139.5 2243,1139.4 2240,1139.3 2237,1139.2 2234,1139.1 2231,1139 2228,1138.9 2225,1138.9 2222,1138.8 2219,1138.7 2216,1138.6 2213,1138.5 2210,1138.4 2207,1138.3 2204,1138.2 2201,1138.1 2198,1138 2195,1137.9 2192,1137.8 2189,1137.7 2186,1137.6 2183,1137.5 2180,1137.5 2177,1137.4 2174,1137.3 2171,1137.2 2168,1137.1 2165,1137 2162,1136.9 2159,1136.8 2156,1136.7 2153,1136.6 2150,1136.5 2147,1136.5 2144,1136.5 2141,1136.4 2138,1136.4 2135,1136.3 2132,1136.3 2129,1136.2 2126,1136.2 2123,1136.1 2120,1136 2117,1135.9 2114,1135.8 2111,1135.7 2108,1135.6 2105,1135.5 2102,1135.3 2099,1135.2 2096,1135 2093,1134.9 2090,1134.7 2087,1134.6 2084,1134.5 2081,1134.4 2078,1134.3 2075,1134.2 2072,1134.1 2069,1134 2066,1133.9 2063,1133.8 2060,1133.7 2057,1133.6 2054,1133.5 2051,1133.4 2048,1133.3 2045,1133.2 2042,1133.2 2039,1133.1 2036,1133 2033,1132.9 2030,1132.8 2027,1132.7 2024,1132.6 2021,1132.5 2018,1132.4 2015,1132.3 2012,1132.2 2009,1132.1 2006,1132 2003,1131.9 2000,1131.8 1997,1131.8 1994,1131.7 1991,1131.6 1988,1131.5 1985,1131.4 1982,1131.3 1979,1131.2 1976,1131.1 1973,1131 1970,1130.9 1967,1130.8 1964,1130.7 1961,1130.6 1958,1130.5 1955,1130.4 1952,1130.4 1949,1130.3 1946,1130.2 1943,1130.1 1940,1130 1937,1129.9 1934,1129.8 1931,1129.7 1928,1129.6 1925,1129.5 1922,1129.4 1919,1129.3 1916,1129.2 1913,1129.1 1910,1129 1907,1129 1904,1128.9 1901,1128.8 1898,1128.7 1895,1128.6 1892,1128.5 1889,1128.4 1886,1128.3 1883,1128.2 1880,1128.1 1877,1128 1874,1127.9 1871,1127.8 1868,1127.7 1865,1127.6 1862,1127.6 1859,1127.5 1856,1127.4 1853,1127.3 1850,1127.2 1847,1127.1 1844,1127 1841,1126.9 1838,1126.8 1835,1126.7 1832,1126.6 1829,1126.5 1826,1126.4 1823,1126.3 1820,1126.2 1817,1126.2 1814,1126.1 1811,1126 1808,1125.9 1805,1125.8 1802,1125.7 1799,1125.6 1796,1125.5 1793,1125.4 1790,1125.3 1787,1125.2 1784,1125.1 1781,1125 1778,1124.9 1775,1124.8 1772,1124.8 1769,1124.7 1766,1124.6 1763,1124.5 1760,1124.4 1757,1124.3 1754,1124.2 1751,1124.1 1748,1124 1745,1123.9 1742,1123.8 1739,1123.7 1736,1123.6 1733,1123.5 1730,1123.4 1727,1123.4 1724,1123.3 1721,1123.2 1718,1123.1 1715,1123 1712,1122.9 1709,1122.8 1706,1122.7 1703,1122.6 1700,1122.5 1697,1122.4 1694,1122.3 1691,1122.2 1688,1122.1 1685,1122 1682,1122 1679,1121.9 1676,1121.8 1673,1121.7 1670,1121.6 1667,1121.5 1664,1121.4 1661,1121.3 1658,1121.2 1655,1121.1 1652,1121 1649,1120.9 1646,1120.8 1643,1120.7 1640,1120.6 1637,1120.6 1634,1120.5 1631,1120.4 1628,1120.3 1625,1120.2 1622,1120.1 1619,1120 1616,1119.9 1613,1119.8 1610,1119.7 1607,1119.6 1604,1119.5 1601,1119.4 1598,1119.3 1595,1119.2 1592,1119.2 1589,1119.1 1586,1119 1583,1118.9 1580,1118.8 1577,1118.7 1574,1118.6 1571,1118.5 1568,1118.4 1565,1118.3 1562,1118.2 1559,1118.1 1556,1118 1553,1117.9 1550,1117.8 1547,1117.8 1544,1117.7 1541,1117.6 1538,1117.5 1535,1117.4 1532,1117.3 1529,1117.2 1526,1117.1 1523,1117 1520,1116.9 1517,1116.8 1514,1116.7 1511,1116.6 1508,1116.5 1505,1116.4 1502,1116.3 1499,1116.3 1496,1116.2 1493,1116.1 1490,1116 1487,1115.9 1484,1115.8 1481,1115.7 1478,1115.6 1475,1115.5 1472,1115.4 1469,1115.3 1466,1115.2 1463,1115.1 1460,1115 1457,1114.9 1454,1114.9 1451,1114.8 1448,1114.7 1445,1114.6 1442,1114.5 1439,1114.4 1436,1114.3 1433,1114.2 1430,1114.1 1427,1114 1424,1113.9 1421,1113.8 1418,1113.7 1415,1113.6 1412,1113.5 1409,1113.5 1406,1113.4 1403,1113.3 1400,1113.2 1397,1113.1 1394,1113 1391,1112.9 1388,1112.8 1385,1112.7 1382,1112.6 1379,1112.5 1376,1112.4 1373,1112.3 1370,1112.2 1367,1112.1 1364,1112.1 1361,1112 1358,1111.9 1355,1111.8 1352,1111.7 1349,1111.6 1346,1111.5 1343,1111.4 1340,1111.3 1337,1111.2 1334,1111.1 1331,1111 1328,1110.9 1325,1110.8 1322,1110.7 1319,1110.7 1316,1110.6 1313,1110.5 1310,1110.4 1307,1110.3 1304,1110.2 1301,1110.1 1298,1110Z" fill="url(#g13)" stroke="none"/>
<path d="M1541,1107.3 1544,1107.2 1547,1107.2 1550,1107.1 1553,1107.1 1556,1107 1559,1106.9 1562,1106.8 1565,1106.7 1568,1106.6 1571,1106.5 1574,1106.4 1577,1106.3 1580,1106.2 1583,1106 1586,1105.9 1589,1105.7 1592,1105.5 1595,1105.4 1598,1105.2 1601,1105 1604,1104.7 1607,1104.5 1610,1104.2 1613,1104 1616,1103.7 1619,1103.4 1622,1103.1 1625,1102.7 1628,1102.4 1631,1102 1634,1101.6 1637,1101.2 1640,1100.8 1643,1100.4 1646,1099.9 1649,1099.4 1652,1099 1655,1098.4 1658,1097.9 1661,1097.4 1664,1096.8 1667,1096.2 1670,1095.7 1673,1095.1 1676,1094.4 1679,1093.8 1682,1093.2 1685,1092.5 1688,1091.9 1691,1091.2 1694,1090.5 1697,1089.8 1700,1089.2 1703,1088.5 1706,1087.8 1709,1087.1 1712,1086.4 1715,1085.8 1718,1085.1 1721,1084.5 1724,1083.9 1727,1083.2 1730,1082.6 1733,1082.1 1736,1081.5 1739,1081 1742,1080.5 1745,1080 1748,1079.6 1751,1079.1 1754,1078.8 1757,1078.4 1760,1078.1 1763,1077.9 1766,1077.6 1769,1077.5 1772,1077.3 1775,1077.2 1778,1077.2 1781,1077.2 1784,1077.3 1787,1077.4 1790,1077.5 1793,1077.7 1796,1077.9 1799,1078.2 1802,1078.5 1805,1078.9 1808,1079.3 1811,1079.8 1814,1080.2 1817,1080.8 1820,1081.3 1823,1081.9 1826,1082.5 1829,1083.2 1832,1083.9 1835,1084.6 1838,1085.3 1841,1086 1844,1086.8 1847,1087.5 1850,1088.3 1853,1089.1 1856,1089.9 1859,1090.7 1862,1091.6 1865,1092.4 1868,1093.2 1871,1094 1874,1094.9 1877,1095.7 1880,1096.5 1883,1097.3 1886,1098.1 1889,1098.9 1892,1099.6 1895,1100.4 1898,1101.2 1901,1101.9 1904,1102.6 1907,1103.4 1910,1104.1 1913,1104.7 1916,1105.4 1919,1106.1 1922,1106.7 1925,1107.4 1928,1108 1931,1108.6 1934,1109.2 1937,1109.8 1940,1110.4 1943,1110.9 1946,1111.5 1949,1112.1 1952,1112.6 1955,1113.1 1958,1113.7 1961,1114.2 1964,1114.8 1967,1115.3 1970,1115.8 1973,1116.4 1976,1116.9 1979,1117.5 1982,1118 1985,1118.6 1988,1119.1 1991,1119.7 1994,1120.2 1997,1120.8 2000,1121.4 2003,1121.9 2006,1122.5 2009,1123 2012,1123.6 2015,1124.2 2018,1124.7 2021,1125.3 2024,1125.8 2024,1132.6 2021,1132.5 2018,1132.4 2015,1132.3 2012,1132.2 2009,1132.1 2006,1132 2003,1131.9 2000,1131.8 1997,1131.8 1994,1131.7 1991,1131.6 1988,1131.5 1985,1131.4 1982,1131.3 1979,1131.2 1976,1131.1 1973,1131 1970,1130.9 1967,1130.8 1964,1130.7 1961,1130.6 1958,1130.5 1955,1130.4 1952,1130.4 1949,1130.3 1946,1130.2 1943,1130.1 1940,1130 1937,1129.9 1934,1129.8 1931,1129.7 1928,1129.6 1925,1129.5 1922,1129.4 1919,1129.3 1916,1129.2 1913,1129.1 1910,1129 1907,1129 1904,1128.9 1901,1128.8 1898,1128.7 1895,1128.6 1892,1128.5 1889,1128.4 1886,1128.3 1883,1128.2 1880,1128.1 1877,1128 1874,1127.9 1871,1127.8 1868,1127.7 1865,1127.6 1862,1127.6 1859,1127.5 1856,1127.4 1853,1127.3 1850,1127.2 1847,1127.1 1844,1127 1841,1126.9 1838,1126.8 1835,1126.7 1832,1126.6 1829,1126.5 1826,1126.4 1823,1126.3 1820,1126.2 1817,1126.2 1814,1126.1 1811,1126 1808,1125.9 1805,1125.8 1802,1125.7 1799,1125.6 1796,1125.5 1793,1125.4 1790,1125.3 1787,1125.2 1784,1125.1 1781,1125 1778,1124.9 1775,1124.8 1772,1124.8 1769,1124.7 1766,1124.6 1763,1124.5 1760,1124.4 1757,1124.3 1754,1124.2 1751,1124.1 1748,1124 1745,1123.9 1742,1123.8 1739,1123.7 1736,1123.6 1733,1123.5 1730,1123.4 1727,1123.4 1724,1123.3 1721,1123.2 1718,1123.1 1715,1123 1712,1122.9 1709,1122.8 1706,1122.7 1703,1122.6 1700,1122.5 1697,1122.4 1694,1122.3 1691,1122.2 1688,1122.1 1685,1122 1682,1122 1679,1121.9 1676,1121.8 1673,1121.7 1670,1121.6 1667,1121.5 1664,1121.4 1661,1121.3 1658,1121.2 1655,1121.1 1652,1121 1649,1120.9 1646,1120.8 1643,1120.7 1640,1120.6 1637,1120.6 1634,1120.5 1631,1120.4 1628,1120.3 1625,1120.2 1622,1120.1 1619,1120 1616,1119.9 1613,1119.8 1610,1119.7 1607,1119.6 1604,1119.5 1601,1119.4 1598,1119.3 1595,1119.2 1592,1119.2 1589,1119.1 1586,1119 1583,1118.9 1580,1118.8 1577,1118.7 1574,1118.6 1571,1118.5 1568,1118.4 1565,1118.3 1562,1118.2 1559,1118.1 1556,1118 1553,1117.9 1550,1117.8 1547,1117.8 1544,1117.7 1541,1117.6Z" fill="url(#g14)" stroke="none"/>
<path d="M1298,1111 1301,1111.1 1304,1111.2 1307,1111.3 1310,1111.4 1313,1111.5 1316,1111.6 1319,1111.7 1322,1111.7 1325,1111.8 1328,1111.9 1331,1112 1334,1112.1 1337,1112.2 1340,1112.3 1343,1112.4 1346,1112.5 1349,1112.6 1352,1112.7 1355,1112.8 1358,1112.9 1361,1113 1364,1113.1 1367,1113.1 1370,1113.2 1373,1113.3 1376,1113.4 1379,1113.5 1382,1113.6 1385,1113.7 1388,1113.8 1391,1113.9 1394,1114 1397,1114.1 1400,1114.2 1403,1114.3 1406,1114.4 1409,1114.5 1412,1114.5 1415,1114.6 1418,1114.7 1421,1114.8 1424,1114.9 1427,1115 1430,1115.1 1433,1115.2 1436,1115.3 1439,1115.4 1442,1115.5 1445,1115.6 1448,1115.7 1451,1115.8 1454,1115.9 1457,1115.9 1460,1116 1463,1116.1 1466,1116.2 1469,1116.3 1472,1116.4 1475,1116.5 1478,1116.6 1481,1116.7 1484,1116.8 1487,1116.9 1490,1117 1493,1117.1 1496,1117.2 1499,1117.3 1502,1117.3 1505,1117.4 1508,1117.5 1511,1117.6 1514,1117.7 1517,1117.8 1520,1117.9 1523,1118 1526,1118.1 1529,1118.2 1532,1118.3 1535,1118.4 1538,1118.5 1541,1118.6 1544,1118.7 1547,1118.8 1550,1118.8 1553,1118.9 1556,1119 1559,1119.1 1562,1119.2 1565,1119.3 1568,1119.4 1571,1119.5 1574,1119.6 1577,1119.7 1580,1119.8 1583,1119.9 1586,1120 1589,1120.1 1592,1120.2 1595,1120.2 1598,1120.3 1601,1120.4 1604,1120.5 1607,1120.6 1610,1120.7 1613,1120.8 1616,1120.9 1619,1121 1622,1121.1 1625,1121.2 1628,1121.3 1631,1121.4 1634,1121.5 1637,1121.6 1640,1121.6 1643,1121.7 1646,1121.8 1649,1121.9 1652,1122 1655,1122.1 1658,1122.2 1661,1122.3 1664,1122.4 1667,1122.5 1670,1122.6 1673,1122.7 1676,1122.8 1679,1122.9 1682,1123 1685,1123 1688,1123.1 1691,1123.2 1694,1123.3 1697,1123.4 1700,1123.5 1703,1123.6 1706,1123.7 1709,1123.8 1712,1123.9 1715,1124 1718,1124.1 1721,1124.2 1724,1124.3 1727,1124.4 1730,1124.4 1733,1124.5 1736,1124.6 1739,1124.7 1742,1124.8 1745,1124.9 1748,1125 1751,1125.1 1754,1125.2 1757,1125.3 1760,1125.4 1763,1125.5 1766,1125.6 1769,1125.7 1772,1125.8 1775,1125.8 1778,1125.9 1781,1126 1784,1126.1 1787,1126.2 1790,1126.3 1793,1126.4 1796,1126.5 1799,1126.6 1802,1126.7 1805,1126.8 1808,1126.9 1811,1127 1814,1127.1 1817,1127.2 1820,1127.2 1823,1127.3 1826,1127.4 1829,1127.5 1832,1127.6 1835,1127.7 1838,1127.8 1841,1127.9 1844,1128 1847,1128.1 1850,1128.2 1853,1128.3 1856,1128.4 1859,1128.5 1862,1128.6 1865,1128.6 1868,1128.7 1871,1128.8 1874,1128.9 1877,1129 1880,1129.1 1883,1129.2 1886,1129.3 1889,1129.4 1892,1129.5 1895,1129.6 1898,1129.7 1901,1129.8 1904,1129.9 1907,1130 1910,1130 1913,1130.1 1916,1130.2 1919,1130.3 1922,1130.4 1925,1130.5 1928,1130.6 1931,1130.7 1934,1130.8 1937,1130.9 1940,1131 1943,1131.1 1946,1131.2 1949,1131.3 1952,1131.4 1955,1131.4 1958,1131.5 1961,1131.6 1964,1131.7 1967,1131.8 1970,1131.9 1973,1132 1976,1132.1 1979,1132.2 1982,1132.3 1985,1132.4 1988,1132.5 1991,1132.6 1994,1132.7 1997,1132.8 2000,1132.8 2003,1132.9 2006,1133 2009,1133.1 2012,1133.2 2015,1133.3 2018,1133.4 2021,1133.5 2024,1133.6 2027,1133.7 2030,1133.8 2033,1133.9 2036,1134 2039,1134.1 2042,1134.2 2045,1134.2 2048,1134.3 2051,1134.4 2054,1134.5 2057,1134.6 2060,1134.7 2063,1134.8 2066,1134.9 2069,1135 2072,1135.1 2075,1135.2 2078,1135.3 2081,1135.4 2084,1135.5 2087,1135.6 2090,1135.7 2093,1135.7 2096,1135.8 2099,1135.9 2102,1136 2105,1136.1 2108,1136.2 2111,1136.3 2114,1136.4 2117,1136.5 2120,1136.6 2123,1136.7 2126,1136.8 2129,1136.9 2132,1137 2135,1137.1 2138,1137.1 2141,1137.2 2144,1137.3 2147,1137.4 2150,1137.5 2153,1137.6 2156,1137.7 2159,1137.8 2162,1137.9 2165,1138 2168,1138.1 2171,1138.2 2174,1138.3 2177,1138.4 2180,1138.5 2183,1138.5 2186,1138.6 2189,1138.7 2192,1138.8 2195,1138.9 2198,1139 2201,1139.1 2204,1139.2 2207,1139.3 2210,1139.4 2213,1139.5 2216,1139.6 2219,1139.7 2222,1139.8 2225,1139.9 2228,1139.9 2231,1140 2234,1140.1 2237,1140.2 2240,1140.3 2243,1140.4 2246,1140.5 2249,1140.6 2252,1140.7 2255,1140.8 2258,1140.9 2261,1141 2264,1141.1 2267,1141.2 2270,1141.3 2273,1141.3 2276,1141.4 2279,1141.5 2282,1141.6 2285,1141.7 2288,1141.8 2291,1141.9 2294,1142" fill="none" stroke="#0070e0" stroke-width="4.5" stroke-dasharray="8 16"/>
<path d="M1298,1111 1301,1111.1 1304,1111.2 1307,1111.3 1310,1111.4 1313,1111.5 1316,1111.6 1319,1111.7 1322,1111.7 1325,1111.8 1328,1111.9 1331,1112 1334,1112.1 1337,1112.2 1340,1112.3 1343,1112.4 1346,1112.5 1349,1112.6 1352,1112.7 1355,1112.8 1358,1112.9 1361,1113 1364,1113.1 1367,1113.1 1370,1113.2 1373,1113.3 1376,1113.4 1379,1113.5 1382,1113.6 1385,1113.7 1388,1113.8 1391,1113.9 1394,1114 1397,1114.1 1400,1114.2 1403,1114.3 1406,1114.4 1409,1114.5 1412,1114.5 1415,1114.6 1418,1114.7 1421,1114.8 1424,1114.9 1427,1115 1430,1115.1 1433,1115.2 1436,1115.3 1439,1115.4 1442,1115.5 1445,1115.6 1448,1115.7 1451,1115.8 1454,1115.9 1457,1115.9 1460,1116 1463,1116.1 1466,1116.2 1469,1116.3 1472,1116.4 1475,1116.5 1478,1116.6 1481,1116.7 1484,1116.8 1487,1116.9 1490,1117 1493,1117.1 1496,1117.2 1499,1117.3 1502,1117.3 1505,1117.4 1508,1117.5 1511,1117.6 1514,1117.7 1517,1117.8 1520,1117.9 1523,1118 1526,1118.1 1529,1118.2 1532,1118.3 1535,1118.4 1538,1118.5 1541,1118.6 1544,1118.7 1547,1118.8 1550,1118.8 1553,1118.9 1556,1119 1559,1119.1 1562,1119.2 1565,1119.3 1568,1119.4 1571,1119.5 1574,1119.6 1577,1119.7 1580,1119.8 1583,1119.9 1586,1120 1589,1120.1 1592,1120.2 1595,1120.2 1598,1120.3 1601,1120.4 1604,1120.5 1607,1120.6 1610,1120.7 1613,1120.8 1616,1120.9 1619,1121 1622,1121.1 1625,1121.2 1628,1121.3 1631,1121.4 1634,1121.5 1637,1121.6 1640,1121.6 1643,1121.7 1646,1121.8 1649,1121.9 1652,1122 1655,1122.1 1658,1122.2 1661,1122.3 1664,1122.4 1667,1122.5 1670,1122.6 1673,1122.7 1676,1122.8 1679,1122.9 1682,1123 1685,1123 1688,1123.1 1691,1123.2 1694,1123.3 1697,1123.4 1700,1123.5 1703,1123.6 1706,1123.7 1709,1123.8 1712,1123.9 1715,1124 1718,1124.1 1721,1124.2 1724,1124.3 1727,1124.4 1730,1124.4 1733,1124.5 1736,1124.6 1739,1124.7 1742,1124.8 1745,1124.9 1748,1125 1751,1125.1 1754,1125.2 1757,1125.3 1760,1125.4 1763,1125.5 1766,1125.6 1769,1125.7 1772,1125.8 1775,1125.8 1778,1125.9 1781,1126 1784,1126.1 1787,1126.2 1790,1126.3 1793,1126.4 1796,1126.5 1799,1126.6 1802,1126.7 1805,1126.8 1808,1126.9 1811,1127 1814,1127.1 1817,1127.2 1820,1127.2 1823,1127.3 1826,1127.4 1829,1127.5 1832,1127.6 1835,1127.7 1838,1127.8 1841,1127.9 1844,1128 1847,1128.1 1850,1128.2 1853,1128.3 1856,1128.4 1859,1128.5 1862,1128.6 1865,1128.6 1868,1128.7 1871,1128.8 1874,1128.9 1877,1129 1880,1129.1 1883,1129.2 1886,1129.3 1889,1129.4 1892,1129.5 1895,1129.6 1898,1129.7 1901,1129.8 1904,1129.9 1907,1130 1910,1130 1913,1130.1 1916,1130.2 1919,1130.3 1922,1130.4 1925,1130.5 1928,1130.6 1931,1130.7 1934,1130.8 1937,1130.9 1940,1131 1943,1131.1 1946,1131.2 1949,1131.3 1952,1131.4 1955,1131.4 1958,1131.5 1961,1131.6 1964,1131.7 1967,1131.8 1970,1131.9 1973,1132 1976,1132.1 1979,1132.2 1982,1132.3 1985,1132.4 1988,1132.5 1991,1132.6 1994,1132.7 1997,1132.8 2000,1132.8 2003,1132.9 2006,1133 2009,1133.1 2012,1133.2 2015,1133.3 2018,1133.4 2021,1133.5 2024,1133.6 2027,1133.7 2030,1133.8 2033,1133.9 2036,1134 2039,1134.1 2042,1134.2 2045,1134.2 2048,1134.3 2051,1134.4 2054,1134.5 2057,1134.6 2060,1134.7 2063,1134.8 2066,1134.9 2069,1135 2072,1135.1 2075,1135.2 2078,1135.3 2081,1135.4 2084,1135.5 2087,1135.6 2090,1135.7 2093,1135.7 2096,1135.8 2099,1135.9 2102,1136 2105,1136.1 2108,1136.2 2111,1136.3 2114,1136.4 2117,1136.5 2120,1136.6 2123,1136.7 2126,1136.8 2129,1136.9 2132,1137 2135,1137.1 2138,1137.1 2141,1137.2 2144,1137.3 2147,1137.4 2150,1137.5 2153,1137.6 2156,1137.7 2159,1137.8 2162,1137.9 2165,1138 2168,1138.1 2171,1138.2 2174,1138.3 2177,1138.4 2180,1138.5 2183,1138.5 2186,1138.6 2189,1138.7 2192,1138.8 2195,1138.9 2198,1139 2201,1139.1 2204,1139.2 2207,1139.3 2210,1139.4 2213,1139.5 2216,1139.6 2219,1139.7 2222,1139.8 2225,1139.9 2228,1139.9 2231,1140 2234,1140.1 2237,1140.2 2240,1140.3 2243,1140.4 2246,1140.5 2249,1140.6 2252,1140.7 2255,1140.8 2258,1140.9 2261,1141 2264,1141.1 2267,1141.2 2270,1141.3 2273,1141.3 2276,1141.4 2279,1141.5 2282,1141.6 2285,1141.7 2288,1141.8 2291,1141.9 2294,1142" fill="none" stroke="#008000" stroke-width="4.5" stroke-dasharray="8 16" stroke-dashoffset="8"/>
<path d="M1298,1112.5 1301,1112.6 1304,1112.7 1307,1112.8 1310,1112.9 1313,1113 1316,1113.1 1319,1113.2 1322,1113.2 1325,1113.3 1328,1113.4 1331,1113.5 1334,1113.6 1337,1113.7 1340,1113.8 1343,1113.9 1346,1114 1349,1114.1 1352,1114.2 1355,1114.3 1358,1114.4 1361,1114.5 1364,1114.6 1367,1114.6 1370,1114.7 1373,1114.8 1376,1114.9 1379,1115 1382,1115.1 1385,1115.2 1388,1115.3 1391,1115.4 1394,1115.5 1397,1115.6 1400,1115.7 1403,1115.8 1406,1115.9 1409,1116 1412,1116 1415,1116.1 1418,1116.2 1421,1116.3 1424,1116.4 1427,1116.5 1430,1116.6 1433,1116.7 1436,1116.8 1439,1116.9 1442,1117 1445,1117.1 1448,1117.2 1451,1117.3 1454,1117.4 1457,1117.4 1460,1117.5 1463,1117.6 1466,1117.7 1469,1117.8 1472,1117.9 1475,1118 1478,1118.1 1481,1118.2 1484,1118.3 1487,1118.4 1490,1118.5 1493,1118.6 1496,1118.7 1499,1118.8 1502,1118.8 1505,1118.9 1508,1119 1511,1119.1 1514,1119.2 1517,1119.3 1520,1119.4 1523,1119.5 1526,1119.6 1529,1119.7 1532,1119.8 1535,1119.9 1538,1120 1541,1120.1 1544,1120.2 1547,1120.2 1550,1120.3 1553,1120.4 1556,1120.5 1559,1120.6 1562,1120.7 1565,1120.8 1568,1120.9 1571,1121 1574,1121.1 1577,1121.2 1580,1121.3 1583,1121.4 1586,1121.5 1589,1121.6 1592,1121.7 1595,1121.7 1598,1121.8 1601,1121.9 1604,1122 1607,1122.1 1610,1122.2 1613,1122.3 1616,1122.4 1619,1122.5 1622,1122.6 1625,1122.7 1628,1122.8 1631,1122.9 1634,1123 1637,1123.1 1640,1123.1 1643,1123.2 1646,1123.3 1649,1123.4 1652,1123.5 1655,1123.6 1658,1123.7 1661,1123.8 1664,1123.9 1667,1124 1670,1124.1 1673,1124.2 1676,1124.3 1679,1124.4 1682,1124.5 1685,1124.5 1688,1124.6 1691,1124.7 1694,1124.8 1697,1124.9 1700,1125 1703,1125.1 1706,1125.2 1709,1125.3 1712,1125.4 1715,1125.5 1718,1125.6 1721,1125.7 1724,1125.8 1727,1125.9 1730,1125.9 1733,1126 1736,1126.1 1739,1126.2 1742,1126.3 1745,1126.4 1748,1126.5 1751,1126.6 1754,1126.7 1757,1126.8 1760,1126.9 1763,1127 1766,1127.1 1769,1127.2 1772,1127.3 1775,1127.3 1778,1127.4 1781,1127.5 1784,1127.6 1787,1127.7 1790,1127.8 1793,1127.9 1796,1128 1799,1128.1 1802,1128.2 1805,1128.3 1808,1128.4 1811,1128.5 1814,1128.6 1817,1128.7 1820,1128.7 1823,1128.8 1826,1128.9 1829,1129 1832,1129.1 1835,1129.2 1838,1129.3 1841,1129.4 1844,1129.5 1847,1129.6 1850,1129.7 1853,1129.8 1856,1129.9 1859,1130 1862,1130.1 1865,1130.1 1868,1130.2 1871,1130.3 1874,1130.4 1877,1130.5 1880,1130.6 1883,1130.7 1886,1130.8 1889,1130.9 1892,1131 1895,1131.1 1898,1131.2 1901,1131.3 1904,1131.4 1907,1131.5 1910,1131.5 1913,1131.6 1916,1131.7 1919,1131.8 1922,1131.9 1925,1132 1928,1132.1 1931,1132.2 1934,1132.3 1937,1132.4 1940,1132.5 1943,1132.6 1946,1132.7 1949,1132.8 1952,1132.9 1955,1132.9 1958,1133 1961,1133.1 1964,1133.2 1967,1133.3 1970,1133.4 1973,1133.5 1976,1133.6 1979,1133.7 1982,1133.8 1985,1133.9 1988,1134 1991,1134.1 1994,1134.2 1997,1134.3 2000,1134.3 2003,1134.4 2006,1134.5 2009,1134.6 2012,1134.7 2015,1134.8 2018,1134.9 2021,1135 2024,1135.1 2027,1135.2 2030,1135.3 2033,1135.4 2036,1135.5 2039,1135.6 2042,1135.7 2045,1135.8 2048,1135.8 2051,1135.9 2054,1136 2057,1136.1 2060,1136.2 2063,1136.3 2066,1136.4 2069,1136.5 2072,1136.6 2075,1136.7 2078,1136.8 2081,1136.9 2084,1137 2087,1137.1 2090,1137.2 2093,1137.2 2096,1137.3 2099,1137.4 2102,1137.5 2105,1137.6 2108,1137.7 2111,1137.8 2114,1137.9 2117,1138 2120,1138.1 2123,1138.2 2126,1138.3 2129,1138.4 2132,1138.5 2135,1138.6 2138,1138.6 2141,1138.7 2144,1138.8 2147,1138.9 2150,1139 2153,1139.1 2156,1139.2 2159,1139.3 2162,1139.4 2165,1139.5 2168,1139.6 2171,1139.7 2174,1139.8 2177,1139.9 2180,1140 2183,1140 2186,1140.1 2189,1140.2 2192,1140.3 2195,1140.4 2198,1140.5 2201,1140.6 2204,1140.7 2207,1140.8 2210,1140.9 2213,1141 2216,1141.1 2219,1141.2 2222,1141.3 2225,1141.4 2228,1141.4 2231,1141.5 2234,1141.6 2237,1141.7 2240,1141.8 2243,1141.9 2246,1142 2249,1142.1 2252,1142.2 2255,1142.3 2258,1142.4 2261,1142.5 2264,1142.6 2267,1142.7 2270,1142.8 2273,1142.8 2276,1142.9 2279,1143 2282,1143.1 2285,1143.2 2288,1143.3 2291,1143.4 2294,1143.5" fill="none" stroke="#ff0080" stroke-width="4.5" stroke-dasharray="8 16" stroke-dashoffset="16"/>
<path d="M1298,1108 1301,1108 1304,1108 1307,1108 1310,1108 1313,1108 1316,1108 1319,1108 1322,1108 1325,1108 1328,1108 1331,1108 1334,1108 1337,1108 1340,1108 1343,1108 1346,1108 1349,1108 1352,1108 1355,1108 1358,1108 1361,1108 1364,1108 1367,1108 1370,1108 1373,1108 1376,1108 1379,1108 1382,1108 1385,1108 1388,1108 1391,1108 1394,1108 1397,1108 1400,1108 1403,1108 1406,1108 1409,1108 1412,1108 1415,1108 1418,1108 1421,1108 1424,1108 1427,1108 1430,1108 1433,1108.1 1436,1108.1 1439,1108.1 1442,1108.1 1445,1108.1 1448,1108.1 1451,1108.1 1454,1108.1 1457,1108.1 1460,1108.1 1463,1108.1 1466,1108.1 1469,1108.1 1472,1108.1 1475,1108.1 1478,1108.1 1481,1108.1 1484,1108.1 1487,1108.1 1490,1108.1 1493,1108.1 1496,1108.1 1499,1108.1 1502,1108.1 1505,1108.1 1508,1108.1 1511,1108.1 1514,1108.1 1517,1108.1 1520,1108.1 1523,1108.1 1526,1108.1 1529,1108.1 1532,1108.1 1535,1108.1 1538,1108.1 1541,1108.1 1544,1108.1 1547,1108.1 1550,1108.1 1553,1108.1 1556,1108.1 1559,1108.1 1562,1108.1 1565,1108.1 1568,1108.1 1571,1108.1 1574,1108.1 1577,1108.2 1580,1108.2 1583,1108.2 1586,1108.2 1589,1108.2 1592,1108.2 1595,1108.2 1598,1108.2 1601,1108.2 1604,1108.2 1607,1108.2 1610,1108.2 1613,1108.2 1616,1108.2 1619,1108.2 1622,1108.2 1625,1108.2 1628,1108.2 1631,1108.2 1634,1108.2 1637,1108.3 1640,1108.3 1643,1108.3 1646,1108.3 1649,1108.3 1652,1108.3 1655,1108.3 1658,1108.3 1661,1108.3 1664,1108.3 1667,1108.3 1670,1108.3 1673,1108.4 1676,1108.4 1679,1108.4 1682,1108.4 1685,1108.4 1688,1108.4 1691,1108.4 1694,1108.5 1697,1108.5 1700,1108.5 1703,1108.5 1706,1108.5 1709,1108.5 1712,1108.6 1715,1108.6 1718,1108.6 1721,1108.6 1724,1108.6 1727,1108.7 1730,1108.7 1733,1108.7 1736,1108.7 1739,1108.7 1742,1108.8 1745,1108.8 1748,1108.8 1751,1108.9 1754,1108.9 1757,1108.9 1760,1108.9 1763,1109 1766,1109 1769,1109.1 1772,1109.1 1775,1109.1 1778,1109.2 1781,1109.2 1784,1109.3 1787,1109.3 1790,1109.3 1793,1109.4 1796,1109.5 1799,1109.5 1802,1109.6 1805,1109.6 1808,1109.7 1811,1109.8 1814,1109.8 1817,1109.9 1820,1110 1823,1110 1826,1110.1 1829,1110.2 1832,1110.3 1835,1110.4 1838,1110.5 1841,1110.6 1844,1110.7 1847,1110.8 1850,1110.9 1853,1111 1856,1111.1 1859,1111.2 1862,1111.4 1865,1111.5 1868,1111.6 1871,1111.7 1874,1111.9 1877,1112 1880,1112.2 1883,1112.3 1886,1112.4 1889,1112.6 1892,1112.7 1895,1112.9 1898,1113.1 1901,1113.2 1904,1113.4 1907,1113.6 1910,1113.7 1913,1113.9 1916,1114.1 1919,1114.3 1922,1114.5 1925,1114.7 1928,1114.9 1931,1115.1 1934,1115.3 1937,1115.5 1940,1115.7 1943,1116 1946,1116.2 1949,1116.5 1952,1116.7 1955,1117 1958,1117.3 1961,1117.6 1964,1117.9 1967,1118.3 1970,1118.6 1973,1118.9 1976,1119.3 1979,1119.7 1982,1120.1 1985,1120.5 1988,1120.9 1991,1121.4 1994,1121.8 1997,1122.3 2000,1122.7 2003,1123.2 2006,1123.7 2009,1124.2 2012,1124.7 2015,1125.1 2018,1125.6 2021,1126.1 2024,1126.6 2027,1127.1 2030,1127.6 2033,1128.1 2036,1128.6 2039,1129 2042,1129.5 2045,1129.9 2048,1130.4 2051,1130.8 2054,1131.2 2057,1131.6 2060,1131.9 2063,1132.3 2066,1132.6 2069,1132.9 2072,1133.2 2075,1133.5 2078,1133.8 2081,1134 2084,1134.3 2087,1134.5 2090,1134.7 2093,1134.9 2096,1135 2099,1135.2 2102,1135.3 2105,1135.5 2108,1135.6 2111,1135.7 2114,1135.8 2117,1135.9 2120,1136 2123,1136.1 2126,1136.2 2129,1136.2 2132,1136.3 2135,1136.3 2138,1136.4 2141,1136.4 2144,1136.5 2147,1136.5 2150,1136.5 2153,1136.6 2156,1136.6 2159,1136.6 2162,1136.6 2165,1136.7 2168,1136.7 2171,1136.7 2174,1136.7 2177,1136.7 2180,1136.7 2183,1136.7 2186,1136.8 2189,1136.8 2192,1136.8 2195,1136.8 2198,1136.8 2201,1136.8 2204,1136.8 2207,1136.8 2210,1136.8 2213,1136.8 2216,1136.9 2219,1136.9 2222,1136.9 2225,1136.9 2228,1136.9 2231,1136.9 2234,1136.9 2237,1136.9 2240,1136.9 2243,1136.9 2246,1136.9 2249,1136.9 2252,1136.9 2255,1136.9 2258,1136.9 2261,1136.9 2264,1137 2267,1137 2270,1137 2273,1137 2276,1137 2279,1137 2282,1137 2285,1137 2288,1137 2291,1137 2294,1137" fill="none" stroke="#c080ff" stroke-width="2"/>
<path d="M1298,1107.1 1301,1107.1 1304,1107 1307,1107 1310,1107 1313,1107 1316,1107 1319,1107 1322,1107 1325,1107 1328,1107 1331,1107 1334,1107 1337,1107 1340,1107 1343,1106.9 1346,1106.9 1349,1106.9 1352,1106.9 1355,1106.9 1358,1106.9 1361,1106.9 1364,1106.9 1367,1106.9 1370,1106.9 1373,1106.9 1376,1106.8 1379,1106.8 1382,1106.8 1385,1106.8 1388,1106.8 1391,1106.8 1394,1106.8 1397,1106.8 1400,1106.8 1403,1106.8 1406,1106.7 1409,1106.7 1412,1106.7 1415,1106.7 1418,1106.7 1421,1106.7 1424,1106.7 1427,1106.7 1430,1106.6 1433,1106.6 1436,1106.6 1439,1106.6 1442,1106.6 1445,1106.6 1448,1106.6 1451,1106.5 1454,1106.5 1457,1106.5 1460,1106.5 1463,1106.5 1466,1106.5 1469,1106.5 1472,1106.4 1475,1106.4 1478,1106.4 1481,1106.4 1484,1106.4 1487,1106.4 1490,1106.3 1493,1106.3 1496,1106.3 1499,1106.3 1502,1106.3 1505,1106.3 1508,1106.2 1511,1106.2 1514,1106.2 1517,1106.2 1520,1106.2 1523,1106.1 1526,1106.1 1529,1106.1 1532,1106.1 1535,1106 1538,1106 1541,1106 1544,1106 1547,1106 1550,1105.9 1553,1105.9 1556,1105.9 1559,1105.8 1562,1105.8 1565,1105.8 1568,1105.8 1571,1105.7 1574,1105.7 1577,1105.7 1580,1105.7 1583,1105.6 1586,1105.6 1589,1105.6 1592,1105.5 1595,1105.5 1598,1105.5 1601,1105.4 1604,1105.4 1607,1105.4 1610,1105.3 1613,1105.3 1616,1105.3 1619,1105.2 1622,1105.2 1625,1105.1 1628,1105.1 1631,1105.1 1634,1105 1637,1105 1640,1104.9 1643,1104.9 1646,1104.8 1649,1104.8 1652,1104.7 1655,1104.7 1658,1104.7 1661,1104.6 1664,1104.6 1667,1104.5 1670,1104.4 1673,1104.4 1676,1104.3 1679,1104.3 1682,1104.2 1685,1104.2 1688,1104.1 1691,1104 1694,1104 1697,1103.9 1700,1103.8 1703,1103.8 1706,1103.7 1709,1103.6 1712,1103.6 1715,1103.5 1718,1103.4 1721,1103.3 1724,1103.2 1727,1103.2 1730,1103.1 1733,1103 1736,1102.9 1739,1102.8 1742,1102.7 1745,1102.6 1748,1102.5 1751,1102.4 1754,1102.3 1757,1102.2 1760,1102.1 1763,1101.9 1766,1101.8 1769,1101.7 1772,1101.6 1775,1101.4 1778,1101.3 1781,1101.1 1784,1101 1787,1100.8 1790,1100.7 1793,1100.5 1796,1100.3 1799,1100.1 1802,1099.9 1805,1099.7 1808,1099.5 1811,1099.3 1814,1099 1817,1098.7 1820,1098.4 1823,1098.1 1826,1097.8 1829,1097.4 1832,1097 1835,1096.5 1838,1096 1841,1095.4 1844,1094.8 1847,1094.1 1850,1093.2 1853,1092.3 1856,1091.2 1859,1090 1862,1088.6 1865,1087 1868,1085.2 1871,1083.1 1874,1080.8 1877,1078.1 1880,1075 1883,1071.5 1886,1067.6 1889,1063.1 1892,1058.1 1895,1052.4 1898,1046.1 1901,1039 1904,1031.2 1907,1022.4 1910,1012.7 1913,1002 1916,990.3 1919,977.5 1922,963.4 1925,948.2 1928,931.7 1931,913.9 1934,894.8 1937,874.4 1940,852.7 1943,829.7 1946,805.4 1949,779.9 1952,753.2 1955,725.4 1958,696.6 1961,667 1964,636.7 1967,605.8 1970,574.4 1973,542.9 1976,511.4 1979,480.1 1982,449.2 1985,419 1988,389.8 1991,361.9 1994,335.4 1997,310.7 2000,288.1 2003,267.7 2006,249.9 2009,234.9 2012,222.8 2015,213.8 2018,208.2 2021,205.8 2024,206.9 2027,211.3 2030,219.1 2033,230.1 2036,244.1 2039,261.1 2042,280.7 2045,302.7 2048,327 2051,353.2 2054,381 2057,410.2 2060,440.6 2063,471.7 2066,503.5 2069,535.6 2072,567.8 2075,599.9 2078,631.7 2081,663.1 2084,693.7 2087,723.6 2090,752.5 2093,780.4 2096,807.1 2099,832.7 2102,857 2105,879.9 2108,901.6 2111,921.9 2114,940.8 2117,958.5 2120,974.8 2123,989.9 2126,1003.8 2129,1016.5 2132,1028.2 2135,1038.7 2138,1048.3 2141,1057 2144,1064.8 2147,1071.8 2150,1078.1 2153,1083.7 2156,1088.7 2159,1093.2 2162,1097.1 2165,1100.6 2168,1103.7 2171,1106.4 2174,1108.9 2177,1111 2180,1112.9 2183,1114.5 2186,1116 2189,1117.3 2192,1118.4 2195,1119.5 2198,1120.4 2201,1121.2 2204,1121.9 2207,1122.6 2210,1123.2 2213,1123.7 2216,1124.2 2219,1124.7 2222,1125.1 2225,1125.5 2228,1125.8 2231,1126.2 2234,1126.5 2237,1126.8 2240,1127.1 2243,1127.4 2246,1127.6 2249,1127.9 2252,1128.1 2255,1128.3 2258,1128.5 2261,1128.7 2264,1128.9 2267,1129.1 2270,1129.3 2273,1129.5 2276,1129.7 2279,1129.8 2282,1130 2285,1130.1 2288,1130.3 2291,1130.4 2294,1130.6" fill="none" stroke="#0070e0" stroke-width="3.6" stroke-dasharray="7.5 9.5"/>
<path d="M1298,1107.9 1301,1107.9 1304,1107.9 1307,1107.9 1310,1107.9 1313,1107.9 1316,1107.9 1319,1107.9 1322,1107.9 1325,1107.9 1328,1107.9 1331,1107.9 1334,1107.9 1337,1107.9 1340,1107.9 1343,1107.9 1346,1107.9 1349,1107.9 1352,1107.9 1355,1107.9 1358,1107.9 1361,1107.9 1364,1107.9 1367,1107.9 1370,1107.9 1373,1107.9 1376,1107.9 1379,1107.9 1382,1107.9 1385,1107.9 1388,1107.9 1391,1107.8 1394,1107.8 1397,1107.8 1400,1107.8 1403,1107.8 1406,1107.8 1409,1107.8 1412,1107.8 1415,1107.8 1418,1107.8 1421,1107.8 1424,1107.8 1427,1107.8 1430,1107.8 1433,1107.8 1436,1107.8 1439,1107.8 1442,1107.8 1445,1107.8 1448,1107.8 1451,1107.8 1454,1107.8 1457,1107.8 1460,1107.8 1463,1107.8 1466,1107.8 1469,1107.8 1472,1107.8 1475,1107.8 1478,1107.8 1481,1107.7 1484,1107.7 1487,1107.7 1490,1107.7 1493,1107.7 1496,1107.7 1499,1107.7 1502,1107.7 1505,1107.6 1508,1107.6 1511,1107.6 1514,1107.6 1517,1107.6 1520,1107.5 1523,1107.5 1526,1107.5 1529,1107.5 1532,1107.4 1535,1107.4 1538,1107.3 1541,1107.3 1544,1107.2 1547,1107.2 1550,1107.1 1553,1107.1 1556,1107 1559,1106.9 1562,1106.8 1565,1106.7 1568,1106.6 1571,1106.5 1574,1106.4 1577,1106.3 1580,1106.2 1583,1106 1586,1105.9 1589,1105.7 1592,1105.5 1595,1105.4 1598,1105.2 1601,1105 1604,1104.7 1607,1104.5 1610,1104.2 1613,1104 1616,1103.7 1619,1103.4 1622,1103.1 1625,1102.7 1628,1102.4 1631,1102 1634,1101.6 1637,1101.2 1640,1100.8 1643,1100.4 1646,1099.9 1649,1099.4 1652,1099 1655,1098.4 1658,1097.9 1661,1097.4 1664,1096.8 1667,1096.2 1670,1095.7 1673,1095.1 1676,1094.4 1679,1093.8 1682,1093.2 1685,1092.5 1688,1091.9 1691,1091.2 1694,1090.5 1697,1089.8 1700,1089.2 1703,1088.5 1706,1087.8 1709,1087.1 1712,1086.4 1715,1085.8 1718,1085.1 1721,1084.5 1724,1083.9 1727,1083.2 1730,1082.6 1733,1082.1 1736,1081.5 1739,1081 1742,1080.5 1745,1080 1748,1079.6 1751,1079.1 1754,1078.8 1757,1078.4 1760,1078.1 1763,1077.9 1766,1077.6 1769,1077.5 1772,1077.3 1775,1077.2 1778,1077.2 1781,1077.2 1784,1077.3 1787,1077.4 1790,1077.5 1793,1077.7 1796,1077.9 1799,1078.2 1802,1078.5 1805,1078.9 1808,1079.3 1811,1079.8 1814,1080.2 1817,1080.8 1820,1081.3 1823,1081.9 1826,1082.5 1829,1083.2 1832,1083.9 1835,1084.6 1838,1085.3 1841,1086 1844,1086.8 1847,1087.5 1850,1088.3 1853,1089.1 1856,1089.9 1859,1090.7 1862,1091.6 1865,1092.4 1868,1093.2 1871,1094 1874,1094.9 1877,1095.7 1880,1096.5 1883,1097.3 1886,1098.1 1889,1098.9 1892,1099.6 1895,1100.4 1898,1101.2 1901,1101.9 1904,1102.6 1907,1103.4 1910,1104.1 1913,1104.7 1916,1105.4 1919,1106.1 1922,1106.7 1925,1107.4 1928,1108 1931,1108.6 1934,1109.2 1937,1109.8 1940,1110.4 1943,1110.9 1946,1111.5 1949,1112.1 1952,1112.6 1955,1113.1 1958,1113.7 1961,1114.2 1964,1114.8 1967,1115.3 1970,1115.8 1973,1116.4 1976,1116.9 1979,1117.5 1982,1118 1985,1118.6 1988,1119.1 1991,1119.7 1994,1120.2 1997,1120.8 2000,1121.4 2003,1121.9 2006,1122.5 2009,1123 2012,1123.6 2015,1124.2 2018,1124.7 2021,1125.3 2024,1125.8 2027,1126.4 2030,1126.9 2033,1127.4 2036,1127.9 2039,1128.4 2042,1128.9 2045,1129.4 2048,1129.8 2051,1130.3 2054,1130.7 2057,1131.1 2060,1131.5 2063,1131.9 2066,1132.2 2069,1132.5 2072,1132.8 2075,1133.1 2078,1133.4 2081,1133.7 2084,1133.9 2087,1134.2 2090,1134.4 2093,1134.6 2096,1134.7 2099,1134.9 2102,1135.1 2105,1135.2 2108,1135.3 2111,1135.5 2114,1135.6 2117,1135.7 2120,1135.8 2123,1135.8 2126,1135.9 2129,1136 2132,1136.1 2135,1136.1 2138,1136.2 2141,1136.2 2144,1136.3 2147,1136.3 2150,1136.3 2153,1136.4 2156,1136.4 2159,1136.4 2162,1136.4 2165,1136.5 2168,1136.5 2171,1136.5 2174,1136.5 2177,1136.5 2180,1136.6 2183,1136.6 2186,1136.6 2189,1136.6 2192,1136.6 2195,1136.6 2198,1136.6 2201,1136.7 2204,1136.7 2207,1136.7 2210,1136.7 2213,1136.7 2216,1136.7 2219,1136.7 2222,1136.7 2225,1136.7 2228,1136.7 2231,1136.8 2234,1136.8 2237,1136.8 2240,1136.8 2243,1136.8 2246,1136.8 2249,1136.8 2252,1136.8 2255,1136.8 2258,1136.8 2261,1136.8 2264,1136.8 2267,1136.8 2270,1136.8 2273,1136.9 2276,1136.9 2279,1136.9 2282,1136.9 2285,1136.9 2288,1136.9 2291,1136.9 2294,1136.9" fill="none" stroke="#ff0080" stroke-width="3.6" stroke-dasharray="7.5 9.5"/>
<path d="M1370,1107.2 1373,1107.2 1376,1107.2 1379,1107.2 1382,1107.2 1385,1107.2 1388,1107.2 1391,1107.2 1394,1107.2 1397,1107.1 1400,1107.1 1403,1107.1 1406,1107.1 1409,1107.1 1412,1107.1 1415,1107.1 1418,1107.1 1421,1107.1 1424,1107.1 1427,1107 1430,1107 1433,1107 1436,1107 1439,1107 1442,1107 1445,1107 1448,1107 1451,1106.9 1454,1106.9 1457,1106.9 1460,1106.9 1463,1106.9 1466,1106.9 1469,1106.9 1472,1106.9 1475,1106.8 1478,1106.8 1481,1106.8 1484,1106.8 1487,1106.8 1490,1106.8 1493,1106.7 1496,1106.7 1499,1106.7 1502,1106.7 1505,1106.7 1508,1106.6 1511,1106.6 1514,1106.6 1517,1106.6 1520,1106.6 1523,1106.5 1526,1106.5 1529,1106.5 1532,1106.5 1535,1106.4 1538,1106.4 1541,1106.4 1544,1106.4 1547,1106.3 1550,1106.3 1553,1106.3 1556,1106.3 1559,1106.2 1562,1106.2 1565,1106.2 1568,1106.1 1571,1106.1 1574,1106.1 1577,1106 1580,1106 1583,1106 1586,1105.9 1589,1105.9 1592,1105.9 1595,1105.8 1598,1105.8 1601,1105.7 1604,1105.7 1607,1105.6 1610,1105.6 1613,1105.5 1616,1105.5 1619,1105.4 1622,1105.4 1625,1105.3 1628,1105.3 1631,1105.2 1634,1105.2 1637,1105.1 1640,1105 1643,1105 1646,1104.9 1649,1104.8 1652,1104.7 1655,1104.7 1658,1104.6 1661,1104.5 1664,1104.4 1667,1104.3 1670,1104.2 1673,1104.1 1676,1103.9 1679,1103.8 1682,1103.6 1685,1103.5 1688,1103.3 1691,1103.1 1694,1102.9 1697,1102.7 1700,1102.4 1703,1102.1 1706,1101.8 1709,1101.5 1712,1101.1 1715,1100.7 1718,1100.2 1721,1099.7 1724,1099.1 1727,1098.5 1730,1097.8 1733,1097 1736,1096.2 1739,1095.2 1742,1094.2 1745,1093.1 1748,1091.8 1751,1090.4 1754,1088.9 1757,1087.3 1760,1085.5 1763,1083.5 1766,1081.4 1769,1079.1 1772,1076.6 1775,1074 1778,1071.1 1781,1068 1784,1064.7 1787,1061.2 1790,1057.5 1793,1053.5 1796,1049.3 1799,1044.9 1802,1040.3 1805,1035.4 1808,1030.3 1811,1025 1814,1019.5 1817,1013.8 1820,1008 1823,1001.9 1826,995.8 1829,989.5 1832,983.1 1835,976.7 1838,970.2 1841,963.7 1844,957.2 1847,950.7 1850,944.4 1853,938.2 1856,932.1 1859,926.3 1862,920.7 1865,915.4 1868,910.4 1871,905.8 1874,901.6 1877,897.9 1880,894.7 1883,892 1886,889.8 1889,888.3 1892,887.3 1895,886.9 1898,887.2 1901,888.1 1904,889.6 1907,891.6 1910,894.3 1913,897.5 1916,901.2 1919,905.4 1922,910.1 1925,915.1 1928,920.5 1931,926.3 1934,932.3 1937,938.5 1940,945 1943,951.6 1946,958.3 1949,965.2 1952,972 1955,978.9 1958,985.8 1961,992.6 1964,999.3 1967,1006 1970,1012.5 1973,1018.9 1976,1025.2 1979,1031.3 1982,1037.2 1985,1042.9 1988,1048.4 1991,1053.6 1994,1058.7 1997,1063.6 2000,1068.2 2003,1072.6 2006,1076.8 2009,1080.8 2012,1084.5 2015,1088.1 2018,1091.4 2021,1094.6 2024,1097.5 2027,1100.3 2030,1102.9 2033,1105.3 2036,1107.5 2039,1109.6 2042,1111.6 2045,1113.4 2048,1115 2051,1116.6 2054,1118 2057,1119.3 2060,1120.5 2063,1121.7 2066,1122.7 2069,1123.6 2072,1124.5 2075,1125.3 2078,1126 2081,1126.7 2084,1127.3 2087,1127.9 2090,1128.4 2093,1128.9 2096,1129.3 2099,1129.7 2102,1130.1 2105,1130.4 2108,1130.7 2111,1131 2114,1131.3 2117,1131.5 2120,1131.7 2123,1132 2126,1132.1 2129,1132.3 2132,1132.5 2135,1132.6 2138,1132.8 2141,1132.9 2144,1133 2147,1133.2 2150,1133.3 2153,1133.4 2156,1133.5 2159,1133.6 2162,1133.6 2165,1133.7 2168,1133.8 2171,1133.9 2174,1134 2177,1134 2180,1134.1 2183,1134.2 2186,1134.2 2189,1134.3 2192,1134.3 2195,1134.4 2198,1134.5 2201,1134.5 2204,1134.6 2207,1134.6 2210,1134.7 2213,1134.7 2216,1134.8 2219,1134.8 2222,1134.8 2225,1134.9 2228,1134.9 2231,1135 2234,1135 2237,1135 2240,1135.1 2243,1135.1 2246,1135.2 2249,1135.2 2252,1135.2 2255,1135.3 2258,1135.3 2261,1135.3 2264,1135.3 2267,1135.4 2270,1135.4 2273,1135.4 2276,1135.5 2279,1135.5 2282,1135.5 2285,1135.5 2288,1135.6 2291,1135.6 2294,1135.6 2294,1141 2291,1140.9 2288,1140.8 2285,1140.7 2282,1140.6 2279,1140.5 2276,1140.4 2273,1140.3 2270,1140.3 2267,1140.2 2264,1140.1 2261,1140 2258,1139.9 2255,1139.8 2252,1139.7 2249,1139.6 2246,1139.5 2243,1139.4 2240,1139.3 2237,1139.2 2234,1139.1 2231,1139 2228,1138.9 2225,1138.9 2222,1138.8 2219,1138.7 2216,1138.6 2213,1138.5 2210,1138.4 2207,1138.3 2204,1138.2 2201,1138.1 2198,1138 2195,1137.9 2192,1137.8 2189,1137.7 2186,1137.6 2183,1137.5 2180,1137.5 2177,1137.4 2174,1137.3 2171,1137.2 2168,1137.1 2165,1137 2162,1136.9 2159,1136.8 2156,1136.7 2153,1136.6 2150,1136.5 2147,1136.5 2144,1136.5 2141,1136.4 2138,1136.4 2135,1136.3 2132,1136.3 2129,1136.2 2126,1136.2 2123,1136.1 2120,1136 2117,1135.9 2114,1135.8 2111,1135.7 2108,1135.6 2105,1135.5 2102,1135.3 2099,1135.2 2096,1135 2093,1134.9 2090,1134.7 2087,1134.6 2084,1134.5 2081,1134.4 2078,1134.3 2075,1134.2 2072,1134.1 2069,1134 2066,1133.9 2063,1133.8 2060,1133.7 2057,1133.6 2054,1133.5 2051,1133.4 2048,1133.3 2045,1133.2 2042,1133.2 2039,1133.1 2036,1133 2033,1132.9 2030,1132.8 2027,1132.7 2024,1132.6 2021,1132.5 2018,1132.4 2015,1132.3 2012,1132.2 2009,1132.1 2006,1132 2003,1131.9 2000,1131.8 1997,1131.8 1994,1131.7 1991,1131.6 1988,1131.5 1985,1131.4 1982,1131.3 1979,1131.2 1976,1131.1 1973,1131 1970,1130.9 1967,1130.8 1964,1130.7 1961,1130.6 1958,1130.5 1955,1130.4 1952,1130.4 1949,1130.3 1946,1130.2 1943,1130.1 1940,1130 1937,1129.9 1934,1129.8 1931,1129.7 1928,1129.6 1925,1129.5 1922,1129.4 1919,1129.3 1916,1129.2 1913,1129.1 1910,1129 1907,1129 1904,1128.9 1901,1128.8 1898,1128.7 1895,1128.6 1892,1128.5 1889,1128.4 1886,1128.3 1883,1128.2 1880,1128.1 1877,1128 1874,1127.9 1871,1127.8 1868,1127.7 1865,1127.6 1862,1127.6 1859,1127.5 1856,1127.4 1853,1127.3 1850,1127.2 1847,1127.1 1844,1127 1841,1126.9 1838,1126.8 1835,1126.7 1832,1126.6 1829,1126.5 1826,1126.4 1823,1126.3 1820,1126.2 1817,1126.2 1814,1126.1 1811,1126 1808,1125.9 1805,1125.8 1802,1125.7 1799,1125.6 1796,1125.5 1793,1125.4 1790,1125.3 1787,1125.2 1784,1125.1 1781,1125 1778,1124.9 1775,1124.8 1772,1124.8 1769,1124.7 1766,1124.6 1763,1124.5 1760,1124.4 1757,1124.3 1754,1124.2 1751,1124.1 1748,1124 1745,1123.9 1742,1123.8 1739,1123.7 1736,1123.6 1733,1123.5 1730,1123.4 1727,1123.4 1724,1123.3 1721,1123.2 1718,1123.1 1715,1123 1712,1122.9 1709,1122.8 1706,1122.7 1703,1122.6 1700,1122.5 1697,1122.4 1694,1122.3 1691,1122.2 1688,1122.1 1685,1122 1682,1122 1679,1121.9 1676,1121.8 1673,1121.7 1670,1121.6 1667,1121.5 1664,1121.4 1661,1121.3 1658,1121.2 1655,1121.1 1652,1121 1649,1120.9 1646,1120.8 1643,1120.7 1640,1120.6 1637,1120.6 1634,1120.5 1631,1120.4 1628,1120.3 1625,1120.2 1622,1120.1 1619,1120 1616,1119.9 1613,1119.8 1610,1119.7 1607,1119.6 1604,1119.5 1601,1119.4 1598,1119.3 1595,1119.2 1592,1119.2 1589,1119.1 1586,1119 1583,1118.9 1580,1118.8 1577,1118.7 1574,1118.6 1571,1118.5 1568,1118.4 1565,1118.3 1562,1118.2 1559,1118.1 1556,1118 1553,1117.9 1550,1117.8 1547,1117.8 1544,1117.7 1541,1117.6 1538,1117.5 1535,1117.4 1532,1117.3 1529,1117.2 1526,1117.1 1523,1117 1520,1116.9 1517,1116.8 1514,1116.7 1511,1116.6 1508,1116.5 1505,1116.4 1502,1116.3 1499,1116.3 1496,1116.2 1493,1116.1 1490,1116 1487,1115.9 1484,1115.8 1481,1115.7 1478,1115.6 1475,1115.5 1472,1115.4 1469,1115.3 1466,1115.2 1463,1115.1 1460,1115 1457,1114.9 1454,1114.9 1451,1114.8 1448,1114.7 1445,1114.6 1442,1114.5 1439,1114.4 1436,1114.3 1433,1114.2 1430,1114.1 1427,1114 1424,1113.9 1421,1113.8 1418,1113.7 1415,1113.6 1412,1113.5 1409,1113.5 1406,1113.4 1403,1113.3 1400,1113.2 1397,1113.1 1394,1113 1391,1112.9 1388,1112.8 1385,1112.7 1382,1112.6 1379,1112.5 1376,1112.4 1373,1112.3 1370,1112.2Z" fill="url(#g15)" stroke="none"/>
<path d="M1298,1107.4 1301,1107.4 1304,1107.4 1307,1107.4 1310,1107.4 1313,1107.4 1316,1107.3 1319,1107.3 1322,1107.3 1325,1107.3 1328,1107.3 1331,1107.3 1334,1107.3 1337,1107.3 1340,1107.3 1343,1107.3 1346,1107.3 1349,1107.3 1352,1107.3 1355,1107.3 1358,1107.3 1361,1107.2 1364,1107.2 1367,1107.2 1370,1107.2 1373,1107.2 1376,1107.2 1379,1107.2 1382,1107.2 1385,1107.2 1388,1107.2 1391,1107.2 1394,1107.2 1397,1107.1 1400,1107.1 1403,1107.1 1406,1107.1 1409,1107.1 1412,1107.1 1415,1107.1 1418,1107.1 1421,1107.1 1424,1107.1 1427,1107 1430,1107 1433,1107 1436,1107 1439,1107 1442,1107 1445,1107 1448,1107 1451,1106.9 1454,1106.9 1457,1106.9 1460,1106.9 1463,1106.9 1466,1106.9 1469,1106.9 1472,1106.9 1475,1106.8 1478,1106.8 1481,1106.8 1484,1106.8 1487,1106.8 1490,1106.8 1493,1106.7 1496,1106.7 1499,1106.7 1502,1106.7 1505,1106.7 1508,1106.6 1511,1106.6 1514,1106.6 1517,1106.6 1520,1106.6 1523,1106.5 1526,1106.5 1529,1106.5 1532,1106.5 1535,1106.4 1538,1106.4 1541,1106.4 1544,1106.4 1547,1106.3 1550,1106.3 1553,1106.3 1556,1106.3 1559,1106.2 1562,1106.2 1565,1106.2 1568,1106.1 1571,1106.1 1574,1106.1 1577,1106 1580,1106 1583,1106 1586,1105.9 1589,1105.9 1592,1105.9 1595,1105.8 1598,1105.8 1601,1105.7 1604,1105.7 1607,1105.6 1610,1105.6 1613,1105.5 1616,1105.5 1619,1105.4 1622,1105.4 1625,1105.3 1628,1105.3 1631,1105.2 1634,1105.2 1637,1105.1 1640,1105 1643,1105 1646,1104.9 1649,1104.8 1652,1104.7 1655,1104.7 1658,1104.6 1661,1104.5 1664,1104.4 1667,1104.3 1670,1104.2 1673,1104.1 1676,1103.9 1679,1103.8 1682,1103.6 1685,1103.5 1688,1103.3 1691,1103.1 1694,1102.9 1697,1102.7 1700,1102.4 1703,1102.1 1706,1101.8 1709,1101.5 1712,1101.1 1715,1100.7 1718,1100.2 1721,1099.7 1724,1099.1 1727,1098.5 1730,1097.8 1733,1097 1736,1096.2 1739,1095.2 1742,1094.2 1745,1093.1 1748,1091.8 1751,1090.4 1754,1088.9 1757,1087.3 1760,1085.5 1763,1083.5 1766,1081.4 1769,1079.1 1772,1076.6 1775,1074 1778,1071.1 1781,1068 1784,1064.7 1787,1061.2 1790,1057.5 1793,1053.5 1796,1049.3 1799,1044.9 1802,1040.3 1805,1035.4 1808,1030.3 1811,1025 1814,1019.5 1817,1013.8 1820,1008 1823,1001.9 1826,995.8 1829,989.5 1832,983.1 1835,976.7 1838,970.2 1841,963.7 1844,957.2 1847,950.7 1850,944.4 1853,938.2 1856,932.1 1859,926.3 1862,920.7 1865,915.4 1868,910.4 1871,905.8 1874,901.6 1877,897.9 1880,894.7 1883,892 1886,889.8 1889,888.3 1892,887.3 1895,886.9 1898,887.2 1901,888.1 1904,889.6 1907,891.6 1910,894.3 1913,897.5 1916,901.2 1919,905.4 1922,910.1 1925,915.1 1928,920.5 1931,926.3 1934,932.3 1937,938.5 1940,945 1943,951.6 1946,958.3 1949,965.2 1952,972 1955,978.9 1958,985.8 1961,992.6 1964,999.3 1967,1006 1970,1012.5 1973,1018.9 1976,1025.2 1979,1031.3 1982,1037.2 1985,1042.9 1988,1048.4 1991,1053.6 1994,1058.7 1997,1063.6 2000,1068.2 2003,1072.6 2006,1076.8 2009,1080.8 2012,1084.5 2015,1088.1 2018,1091.4 2021,1094.6 2024,1097.5 2027,1100.3 2030,1102.9 2033,1105.3 2036,1107.5 2039,1109.6 2042,1111.6 2045,1113.4 2048,1115 2051,1116.6 2054,1118 2057,1119.3 2060,1120.5 2063,1121.7 2066,1122.7 2069,1123.6 2072,1124.5 2075,1125.3 2078,1126 2081,1126.7 2084,1127.3 2087,1127.9 2090,1128.4 2093,1128.9 2096,1129.3 2099,1129.7 2102,1130.1 2105,1130.4 2108,1130.7 2111,1131 2114,1131.3 2117,1131.5 2120,1131.7 2123,1132 2126,1132.1 2129,1132.3 2132,1132.5 2135,1132.6 2138,1132.8 2141,1132.9 2144,1133 2147,1133.2 2150,1133.3 2153,1133.4 2156,1133.5 2159,1133.6 2162,1133.6 2165,1133.7 2168,1133.8 2171,1133.9 2174,1134 2177,1134 2180,1134.1 2183,1134.2 2186,1134.2 2189,1134.3 2192,1134.3 2195,1134.4 2198,1134.5 2201,1134.5 2204,1134.6 2207,1134.6 2210,1134.7 2213,1134.7 2216,1134.8 2219,1134.8 2222,1134.8 2225,1134.9 2228,1134.9 2231,1135 2234,1135 2237,1135 2240,1135.1 2243,1135.1 2246,1135.2 2249,1135.2 2252,1135.2 2255,1135.3 2258,1135.3 2261,1135.3 2264,1135.3 2267,1135.4 2270,1135.4 2273,1135.4 2276,1135.5 2279,1135.5 2282,1135.5 2285,1135.5 2288,1135.6 2291,1135.6 2294,1135.6" fill="none" stroke="#008000" stroke-width="3.6" stroke-dasharray="7.5 9.5"/>
<path d="M1295,1105.3 1298,1105.3 1301,1105.3 1304,1105.3 1307,1105.3 1310,1105.2 1313,1105.2 1316,1105.2 1319,1105.2 1322,1105.2 1325,1105.2 1328,1105.1 1331,1105.1 1334,1105.1 1337,1105.1 1340,1105.1 1343,1105.1 1346,1105 1349,1105 1352,1105 1355,1105 1358,1105 1361,1104.9 1364,1104.9 1367,1104.9 1370,1104.8 1373,1104.7 1376,1104.5 1379,1104.2 1382,1103.8 1385,1103.3 1388,1102.7 1391,1102.2 1394,1101.8 1397,1101.7 1400,1101.8 1403,1102.1 1406,1102.6 1409,1103.1 1412,1103.6 1415,1103.9 1418,1104.2 1421,1104.3 1424,1104.3 1427,1104.3 1430,1104.3 1433,1104.2 1436,1104.1 1439,1103.9 1442,1103.6 1445,1103.1 1448,1102.5 1451,1101.6 1454,1100.5 1457,1099.3 1460,1097.8 1463,1096.4 1466,1095 1469,1093.9 1472,1093.1 1475,1092.8 1478,1093 1481,1093.7 1484,1094.8 1487,1096 1490,1097.4 1493,1098.7 1496,1099.9 1499,1100.9 1502,1101.7 1505,1102.2 1508,1102.6 1511,1102.8 1514,1102.9 1517,1102.9 1520,1102.9 1523,1102.9 1526,1102.8 1529,1102.7 1532,1102.6 1535,1102.5 1538,1102.3 1541,1102.1 1544,1101.8 1547,1101.4 1550,1100.9 1553,1100.3 1556,1099.5 1559,1098.5 1562,1097.5 1565,1096.4 1568,1095.4 1571,1094.5 1574,1093.9 1577,1093.5 1580,1093.5 1583,1093.7 1586,1094.1 1589,1094.7 1592,1095.4 1595,1096 1598,1096.5 1601,1096.8 1604,1097 1607,1097.1 1610,1097 1613,1096.8 1616,1096.5 1619,1096.1 1622,1095.7 1625,1095.3 1628,1094.8 1631,1094.3 1634,1093.8 1637,1093.2 1640,1092.6 1643,1092 1646,1091.4 1649,1090.6 1652,1089.9 1655,1089.1 1658,1088.2 1661,1087.3 1664,1086.3 1667,1085.3 1670,1084.2 1673,1083 1676,1081.8 1679,1080.6 1682,1079.3 1685,1078.1 1688,1076.8 1691,1075.7 1694,1074.5 1697,1073.4 1700,1072.4 1703,1071.5 1706,1070.6 1709,1069.7 1712,1068.8 1715,1067.9 1718,1067 1721,1066 1724,1065 1727,1063.9 1730,1062.7 1733,1061.3 1736,1059.9 1739,1058.4 1742,1056.7 1745,1055 1748,1053.1 1751,1051.1 1754,1049 1757,1046.7 1760,1044.3 1763,1041.8 1766,1039.2 1769,1036.4 1772,1033.4 1775,1030.2 1778,1026.9 1781,1023.5 1784,1019.8 1787,1015.9 1790,1011.9 1793,1007.7 1796,1003.2 1799,998.6 1802,993.8 1805,988.7 1808,983.5 1811,978.1 1814,972.5 1817,966.8 1820,960.9 1823,954.8 1826,948.7 1829,942.4 1832,936 1835,929.5 1838,923 1841,916.4 1844,909.8 1847,903.2 1850,896.6 1853,890 1856,883.5 1859,877.1 1862,870.8 1865,864.6 1868,858.5 1871,852.5 1874,846.6 1877,840.8 1880,835.2 1883,829.6 1886,824.1 1889,818.5 1892,813 1895,807.4 1898,801.6 1901,795.6 1904,789.3 1907,782.6 1910,775.4 1913,767.7 1916,759.4 1919,750.2 1922,740.3 1925,729.4 1928,717.5 1931,704.5 1934,690.5 1937,675.2 1940,658.8 1943,641.2 1946,622.4 1949,602.4 1952,581.3 1955,559.1 1958,536 1961,511.9 1964,487.2 1967,461.8 1970,436.1 1973,410.1 1976,384.1 1979,358.4 1982,333.1 1985,308.5 1988,285 1991,262.7 1994,242 1997,223.1 2000,206.3 2003,191.9 2006,180.2 2009,171.2 2012,165.3 2015,162.5 2018,163 2021,166.7 2024,173.7 2027,184 2030,197.3 2033,213.7 2036,232.8 2039,254.5 2042,278.5 2045,304.6 2048,332.5 2051,361.9 2054,392.6 2057,424.3 2060,456.8 2063,489.7 2066,522.8 2069,556 2072,589 2075,621.5 2078,653.6 2081,684.9 2084,715.4 2087,744.9 2090,773.4 2093,800.8 2096,827.1 2099,852.1 2102,875.9 2105,898.6 2108,920 2111,940.2 2114,959.3 2117,977.2 2120,994 2123,1009.6 2126,1024.1 2129,1037.5 2132,1049.7 2135,1060.9 2138,1070.8 2141,1079.7 2144,1087.5 2147,1094.2 2150,1100 2153,1104.8 2156,1108.9 2159,1112.2 2162,1114.9 2165,1117.2 2168,1119 2171,1120.6 2174,1121.9 2177,1123 2180,1123.9 2183,1124.8 2186,1125.4 2189,1126 2192,1126.3 2195,1126.6 2198,1126.6 2201,1126.5 2204,1126.3 2207,1125.9 2210,1125.5 2213,1125 2216,1124.4 2219,1123.7 2222,1123.1 2225,1122.5 2228,1121.9 2231,1121.3 2234,1120.8 2237,1120.5 2240,1120.2 2243,1120.1 2246,1120.2 2249,1120.4 2252,1120.8 2255,1121.3 2258,1121.9 2261,1122.5 2264,1123.2 2267,1123.9 2270,1124.6 2273,1125.3 2276,1125.9 2279,1126.4 2282,1126.8 2285,1127.2 2288,1127.6 2291,1127.8" fill="none" stroke="#555555" stroke-width="2"/>
<path d="M1298,1106.3 1301,1106.3 1304,1106.3 1307,1106.3 1310,1106.3 1313,1106.2 1316,1106.2 1319,1106.2 1322,1106.2 1325,1106.2 1328,1106.2 1331,1106.1 1334,1106.1 1337,1106.1 1340,1106.1 1343,1106.1 1346,1106.1 1349,1106 1352,1106 1355,1106 1358,1106 1361,1106 1364,1105.9 1367,1105.9 1370,1105.9 1373,1105.9 1376,1105.9 1379,1105.8 1382,1105.8 1385,1105.8 1388,1105.8 1391,1105.7 1394,1105.7 1397,1105.7 1400,1105.7 1403,1105.6 1406,1105.6 1409,1105.6 1412,1105.6 1415,1105.5 1418,1105.5 1421,1105.5 1424,1105.5 1427,1105.4 1430,1105.4 1433,1105.4 1436,1105.3 1439,1105.3 1442,1105.3 1445,1105.2 1448,1105.2 1451,1105.2 1454,1105.1 1457,1105.1 1460,1105.1 1463,1105 1466,1105 1469,1105 1472,1104.9 1475,1104.9 1478,1104.8 1481,1104.8 1484,1104.7 1487,1104.7 1490,1104.6 1493,1104.6 1496,1104.5 1499,1104.5 1502,1104.4 1505,1104.4 1508,1104.3 1511,1104.3 1514,1104.2 1517,1104.1 1520,1104.1 1523,1104 1526,1103.9 1529,1103.8 1532,1103.7 1535,1103.6 1538,1103.5 1541,1103.5 1544,1103.3 1547,1103.2 1550,1103.1 1553,1103 1556,1102.9 1559,1102.7 1562,1102.6 1565,1102.4 1568,1102.3 1571,1102.1 1574,1101.9 1577,1101.7 1580,1101.5 1583,1101.3 1586,1101.1 1589,1100.8 1592,1100.6 1595,1100.3 1598,1100 1601,1099.7 1604,1099.4 1607,1099.1 1610,1098.8 1613,1098.4 1616,1098 1619,1097.6 1622,1097.2 1625,1096.8 1628,1096.3 1631,1095.8 1634,1095.3 1637,1094.8 1640,1094.3 1643,1093.7 1646,1093.1 1649,1092.5 1652,1091.9 1655,1091.2 1658,1090.5 1661,1089.8 1664,1089.1 1667,1088.4 1670,1087.6 1673,1086.8 1676,1086 1679,1085.1 1682,1084.2 1685,1083.3 1688,1082.4 1691,1081.5 1694,1080.5 1697,1079.5 1700,1078.4 1703,1077.4 1706,1076.3 1709,1075.2 1712,1074 1715,1072.8 1718,1071.6 1721,1070.3 1724,1069 1727,1067.6 1730,1066.2 1733,1064.7 1736,1063.1 1739,1061.5 1742,1059.8 1745,1058.1 1748,1056.2 1751,1054.3 1754,1052.2 1757,1050 1760,1047.8 1763,1045.4 1766,1042.8 1769,1040.2 1772,1037.4 1775,1034.4 1778,1031.2 1781,1027.9 1784,1024.5 1787,1020.8 1790,1016.9 1793,1012.9 1796,1008.7 1799,1004.2 1802,999.6 1805,994.8 1808,989.7 1811,984.5 1814,979.1 1817,973.5 1820,967.8 1823,961.9 1826,955.8 1829,949.7 1832,943.4 1835,937 1838,930.5 1841,924 1844,917.4 1847,910.8 1850,904.2 1853,897.6 1856,891 1859,884.5 1862,878.1 1865,871.8 1868,865.6 1871,859.5 1874,853.5 1877,847.6 1880,841.8 1883,836.2 1886,830.6 1889,825.1 1892,819.5 1895,814 1898,808.4 1901,802.6 1904,796.6 1907,790.3 1910,783.6 1913,776.4 1916,768.7 1919,760.4 1922,751.2 1925,741.3 1928,730.4 1931,718.5 1934,705.5 1937,691.5 1940,676.2 1943,659.8 1946,642.2 1949,623.4 1952,603.4 1955,582.3 1958,560.1 1961,537 1964,512.9 1967,488.2 1970,462.8 1973,437.1 1976,411.1 1979,385.1 1982,359.4 1985,334.1 1988,309.5 1991,286 1994,263.7 1997,243 2000,224.1 2003,207.3 2006,192.9 2009,181.2 2012,172.2 2015,166.3 2018,163.5 2021,164 2024,167.7 2027,174.7 2030,185 2033,198.3 2036,214.7 2039,233.8 2042,255.5 2045,279.5 2048,305.6 2051,333.5 2054,362.9 2057,393.6 2060,425.3 2063,457.8 2066,490.7 2069,523.8 2072,556.9 2075,589.9 2078,622.5 2081,654.4 2084,685.7 2087,716.1 2090,745.4 2093,773.7 2096,800.8 2099,826.7 2102,851.3 2105,874.5 2108,896.3 2111,916.8 2114,936 2117,953.8 2120,970.3 2123,985.5 2126,999.5 2129,1012.4 2132,1024.1 2135,1034.8 2138,1044.5 2141,1053.2 2144,1061.1 2147,1068.2 2150,1074.6 2153,1080.3 2156,1085.4 2159,1089.9 2162,1093.9 2165,1097.5 2168,1100.6 2171,1103.4 2174,1105.9 2177,1108.1 2180,1110.1 2183,1111.8 2186,1113.3 2189,1114.6 2192,1115.8 2195,1116.9 2198,1117.9 2201,1118.7 2204,1119.5 2207,1120.2 2210,1120.8 2213,1121.4 2216,1122 2219,1122.5 2222,1122.9 2225,1123.3 2228,1123.7 2231,1124.1 2234,1124.5 2237,1124.8 2240,1125.1 2243,1125.4 2246,1125.7 2249,1126 2252,1126.3 2255,1126.5 2258,1126.7 2261,1127 2264,1127.2 2267,1127.4 2270,1127.6 2273,1127.8 2276,1128 2279,1128.2 2282,1128.4 2285,1128.6 2288,1128.8 2291,1128.9 2294,1129.1" fill="none" stroke="#8000ff" stroke-width="2.4"/>
<path d="M1658,1390.1 1661,1390.1 1664,1390.1 1667,1390.1 1670,1390.1 1673,1390.1 1676,1390.1 1679,1390.1 1682,1390.1 1685,1390.1 1688,1390.1 1691,1390.1 1694,1390.1 1697,1390.1 1700,1390.1 1703,1390.1 1706,1390.1 1709,1390.1 1712,1390.1 1715,1390.1 1718,1390 1721,1390 1724,1390 1727,1390 1730,1390 1733,1390 1736,1390 1739,1390 1742,1389.9 1745,1389.9 1748,1389.9 1751,1389.9 1754,1389.9 1757,1389.9 1760,1389.8 1763,1389.8 1766,1389.8 1769,1389.7 1772,1389.7 1775,1389.7 1778,1389.6 1781,1389.6 1784,1389.5 1787,1389.5 1790,1389.4 1793,1389.3 1796,1389.3 1799,1389.2 1802,1389.1 1805,1389 1808,1388.9 1811,1388.7 1814,1388.6 1817,1388.4 1820,1388.2 1823,1388 1826,1387.8 1829,1387.5 1832,1387.2 1835,1386.8 1838,1386.4 1841,1386 1844,1385.5 1847,1385 1850,1384.4 1853,1383.7 1856,1383 1859,1382.1 1862,1381.2 1865,1380.2 1868,1379.1 1871,1377.9 1874,1376.5 1877,1375 1880,1373.4 1883,1371.7 1886,1369.8 1889,1367.7 1892,1365.5 1895,1363.1 1898,1360.5 1901,1357.7 1904,1354.7 1907,1351.6 1910,1348.2 1913,1344.6 1916,1340.8 1919,1336.8 1922,1332.6 1925,1328.3 1928,1323.7 1931,1318.9 1934,1313.9 1937,1308.8 1940,1303.4 1943,1298 1946,1292.4 1949,1286.7 1952,1280.9 1955,1275 1958,1269.1 1961,1263.2 1964,1257.2 1967,1251.3 1970,1245.5 1973,1239.7 1976,1234.1 1979,1228.6 1982,1223.3 1985,1218.2 1988,1213.4 1991,1208.9 1994,1204.6 1997,1200.8 2000,1197.3 2003,1194.2 2006,1191.6 2009,1189.4 2012,1187.6 2015,1186.4 2018,1185.6 2021,1185.4 2024,1185.7 2027,1186.4 2030,1187.7 2033,1189.5 2036,1191.7 2039,1194.4 2042,1197.5 2045,1201 2048,1204.9 2051,1209.1 2054,1213.7 2057,1218.5 2060,1223.6 2063,1228.9 2066,1234.4 2069,1240.1 2072,1245.9 2075,1251.7 2078,1257.7 2081,1263.7 2084,1269.6 2087,1275.6 2090,1281.5 2093,1287.3 2096,1293 2099,1298.6 2102,1304.1 2105,1309.4 2108,1314.6 2111,1319.6 2114,1324.4 2117,1329 2120,1333.4 2123,1337.7 2126,1341.7 2129,1345.5 2132,1349.1 2135,1352.5 2138,1355.7 2141,1358.7 2144,1361.5 2147,1364.1 2150,1366.5 2153,1368.8 2156,1370.9 2159,1372.8 2162,1374.6 2165,1376.2 2168,1377.7 2171,1379.1 2174,1380.3 2177,1381.5 2180,1382.5 2183,1383.4 2186,1384.3 2189,1385.1 2192,1385.7 2195,1386.4 2198,1386.9 2201,1387.4 2204,1387.9 2207,1388.3 2210,1388.7 2213,1389 2216,1389.3 2219,1389.6 2222,1389.8 2225,1390 2228,1390.2 2231,1390.4 2234,1390.6 2237,1390.7 2240,1390.8 2243,1391 2246,1391.1 2249,1391.2 2252,1391.3 2255,1391.4 2258,1391.4 2261,1391.5 2264,1391.6 2267,1391.6 2270,1391.7 2273,1391.8 2276,1391.8 2279,1391.9 2282,1391.9 2285,1392 2288,1392 2291,1392.1 2294,1392.1 2294,1395 2291,1395 2288,1395 2285,1395 2282,1395 2279,1394.9 2276,1394.9 2273,1394.9 2270,1394.9 2267,1394.9 2264,1394.9 2261,1394.9 2258,1394.9 2255,1394.8 2252,1394.8 2249,1394.8 2246,1394.8 2243,1394.8 2240,1394.8 2237,1394.8 2234,1394.8 2231,1394.7 2228,1394.7 2225,1394.7 2222,1394.7 2219,1394.7 2216,1394.7 2213,1394.7 2210,1394.7 2207,1394.7 2204,1394.6 2201,1394.6 2198,1394.6 2195,1394.6 2192,1394.6 2189,1394.6 2186,1394.6 2183,1394.6 2180,1394.5 2177,1394.5 2174,1394.5 2171,1394.5 2168,1394.5 2165,1394.5 2162,1394.5 2159,1394.5 2156,1394.4 2153,1394.4 2150,1394.4 2147,1394.4 2144,1394.4 2141,1394.4 2138,1394.4 2135,1394.4 2132,1394.3 2129,1394.3 2126,1394.3 2123,1394.3 2120,1394.3 2117,1394.3 2114,1394.3 2111,1394.3 2108,1394.3 2105,1394.2 2102,1394.2 2099,1394.2 2096,1394.2 2093,1394.2 2090,1394.2 2087,1394.2 2084,1394.2 2081,1394.1 2078,1394.1 2075,1394.1 2072,1394.1 2069,1394.1 2066,1394.1 2063,1394.1 2060,1394.1 2057,1394 2054,1394 2051,1394 2048,1394 2045,1394 2042,1394 2039,1394 2036,1394 2033,1394 2030,1393.9 2027,1393.9 2024,1393.9 2021,1393.9 2018,1393.9 2015,1393.9 2012,1393.9 2009,1393.9 2006,1393.8 2003,1393.8 2000,1393.8 1997,1393.8 1994,1393.8 1991,1393.8 1988,1393.8 1985,1393.8 1982,1393.7 1979,1393.7 1976,1393.7 1973,1393.7 1970,1393.7 1967,1393.7 1964,1393.7 1961,1393.7 1958,1393.7 1955,1393.6 1952,1393.6 1949,1393.6 1946,1393.6 1943,1393.6 1940,1393.6 1937,1393.6 1934,1393.6 1931,1393.5 1928,1393.5 1925,1393.5 1922,1393.5 1919,1393.5 1916,1393.5 1913,1393.5 1910,1393.5 1907,1393.4 1904,1393.4 1901,1393.4 1898,1393.4 1895,1393.4 1892,1393.4 1889,1393.4 1886,1393.4 1883,1393.3 1880,1393.3 1877,1393.3 1874,1393.3 1871,1393.3 1868,1393.3 1865,1393.3 1862,1393.3 1859,1393.3 1856,1393.2 1853,1393.2 1850,1393.2 1847,1393.2 1844,1393.2 1841,1393.2 1838,1393.2 1835,1393.2 1832,1393.1 1829,1393.1 1826,1393.1 1823,1393.1 1820,1393.1 1817,1393.1 1814,1393.1 1811,1393.1 1808,1393 1805,1393 1802,1393 1799,1393 1796,1393 1793,1393 1790,1393 1787,1393 1784,1393 1781,1392.9 1778,1392.9 1775,1392.9 1772,1392.9 1769,1392.9 1766,1392.9 1763,1392.9 1760,1392.9 1757,1392.8 1754,1392.8 1751,1392.8 1748,1392.8 1745,1392.8 1742,1392.8 1739,1392.8 1736,1392.8 1733,1392.7 1730,1392.7 1727,1392.7 1724,1392.7 1721,1392.7 1718,1392.7 1715,1392.7 1712,1392.7 1709,1392.7 1706,1392.6 1703,1392.6 1700,1392.6 1697,1392.6 1694,1392.6 1691,1392.6 1688,1392.6 1685,1392.6 1682,1392.5 1679,1392.5 1676,1392.5 1673,1392.5 1670,1392.5 1667,1392.5 1664,1392.5 1661,1392.5 1658,1392.4Z" fill="url(#g16)" stroke="none"/>
<path d="M1481,1389.4 1484,1389.3 1487,1389.2 1490,1389.1 1493,1389 1496,1388.9 1499,1388.7 1502,1388.5 1505,1388.4 1508,1388.2 1511,1387.9 1514,1387.7 1517,1387.4 1520,1387.1 1523,1386.8 1526,1386.4 1529,1386 1532,1385.6 1535,1385.1 1538,1384.6 1541,1384 1544,1383.4 1547,1382.8 1550,1382.1 1553,1381.4 1556,1380.6 1559,1379.8 1562,1378.9 1565,1378 1568,1377.1 1571,1376.1 1574,1375 1577,1374 1580,1372.8 1583,1371.7 1586,1370.5 1589,1369.2 1592,1368 1595,1366.7 1598,1365.4 1601,1364.1 1604,1362.7 1607,1361.4 1610,1360.1 1613,1358.7 1616,1357.4 1619,1356.2 1622,1354.9 1625,1353.7 1628,1352.5 1631,1351.4 1634,1350.3 1637,1349.3 1640,1348.4 1643,1347.5 1646,1346.7 1649,1346 1652,1345.4 1655,1344.9 1658,1344.5 1661,1344.3 1664,1344.1 1667,1344 1670,1344 1673,1344.2 1676,1344.4 1679,1344.8 1682,1345.2 1685,1345.8 1688,1346.4 1691,1347.2 1694,1348 1697,1348.9 1700,1349.9 1703,1350.9 1706,1352.1 1709,1353.2 1712,1354.4 1715,1355.7 1718,1357 1721,1358.3 1724,1359.6 1727,1361 1730,1362.3 1733,1363.7 1736,1365 1739,1366.4 1742,1367.7 1745,1369 1748,1370.3 1751,1371.5 1754,1372.7 1757,1373.9 1760,1375.1 1763,1376.2 1766,1377.2 1769,1378.2 1772,1379.2 1775,1380.1 1778,1381 1781,1381.8 1784,1382.6 1787,1383.3 1790,1384 1793,1384.6 1796,1385.2 1799,1385.8 1802,1386.3 1805,1386.8 1808,1387.3 1811,1387.7 1814,1388 1817,1388.4 1820,1388.7 1823,1389 1826,1389.3 1829,1389.5 1832,1389.7 1835,1389.9 1838,1390.1 1841,1390.3 1844,1390.4 1847,1390.6 1850,1390.7 1853,1390.8 1856,1390.9 1856,1393.2 1853,1393.2 1850,1393.2 1847,1393.2 1844,1393.2 1841,1393.2 1838,1393.2 1835,1393.2 1832,1393.1 1829,1393.1 1826,1393.1 1823,1393.1 1820,1393.1 1817,1393.1 1814,1393.1 1811,1393.1 1808,1393 1805,1393 1802,1393 1799,1393 1796,1393 1793,1393 1790,1393 1787,1393 1784,1393 1781,1392.9 1778,1392.9 1775,1392.9 1772,1392.9 1769,1392.9 1766,1392.9 1763,1392.9 1760,1392.9 1757,1392.8 1754,1392.8 1751,1392.8 1748,1392.8 1745,1392.8 1742,1392.8 1739,1392.8 1736,1392.8 1733,1392.7 1730,1392.7 1727,1392.7 1724,1392.7 1721,1392.7 1718,1392.7 1715,1392.7 1712,1392.7 1709,1392.7 1706,1392.6 1703,1392.6 1700,1392.6 1697,1392.6 1694,1392.6 1691,1392.6 1688,1392.6 1685,1392.6 1682,1392.5 1679,1392.5 1676,1392.5 1673,1392.5 1670,1392.5 1667,1392.5 1664,1392.5 1661,1392.5 1658,1392.4 1655,1392.4 1652,1392.4 1649,1392.4 1646,1392.4 1643,1392.4 1640,1392.4 1637,1392.4 1634,1392.3 1631,1392.3 1628,1392.3 1625,1392.3 1622,1392.3 1619,1392.3 1616,1392.3 1613,1392.3 1610,1392.3 1607,1392.2 1604,1392.2 1601,1392.2 1598,1392.2 1595,1392.2 1592,1392.2 1589,1392.2 1586,1392.2 1583,1392.1 1580,1392.1 1577,1392.1 1574,1392.1 1571,1392.1 1568,1392.1 1565,1392.1 1562,1392.1 1559,1392 1556,1392 1553,1392 1550,1392 1547,1392 1544,1392 1541,1392 1538,1392 1535,1392 1532,1391.9 1529,1391.9 1526,1391.9 1523,1391.9 1520,1391.9 1517,1391.9 1514,1391.9 1511,1391.9 1508,1391.8 1505,1391.8 1502,1391.8 1499,1391.8 1496,1391.8 1493,1391.8 1490,1391.8 1487,1391.8 1484,1391.7 1481,1391.7Z" fill="url(#g17)" stroke="none"/>
<path d="M1298,1392 1301,1392 1304,1392 1307,1392 1310,1392 1313,1392.1 1316,1392.1 1319,1392.1 1322,1392.1 1325,1392.1 1328,1392.1 1331,1392.1 1334,1392.1 1337,1392.2 1340,1392.2 1343,1392.2 1346,1392.2 1349,1392.2 1352,1392.2 1355,1392.2 1358,1392.2 1361,1392.3 1364,1392.3 1367,1392.3 1370,1392.3 1373,1392.3 1376,1392.3 1379,1392.3 1382,1392.3 1385,1392.3 1388,1392.4 1391,1392.4 1394,1392.4 1397,1392.4 1400,1392.4 1403,1392.4 1406,1392.4 1409,1392.4 1412,1392.5 1415,1392.5 1418,1392.5 1421,1392.5 1424,1392.5 1427,1392.5 1430,1392.5 1433,1392.5 1436,1392.6 1439,1392.6 1442,1392.6 1445,1392.6 1448,1392.6 1451,1392.6 1454,1392.6 1457,1392.6 1460,1392.7 1463,1392.7 1466,1392.7 1469,1392.7 1472,1392.7 1475,1392.7 1478,1392.7 1481,1392.7 1484,1392.7 1487,1392.8 1490,1392.8 1493,1392.8 1496,1392.8 1499,1392.8 1502,1392.8 1505,1392.8 1508,1392.8 1511,1392.9 1514,1392.9 1517,1392.9 1520,1392.9 1523,1392.9 1526,1392.9 1529,1392.9 1532,1392.9 1535,1393 1538,1393 1541,1393 1544,1393 1547,1393 1550,1393 1553,1393 1556,1393 1559,1393 1562,1393.1 1565,1393.1 1568,1393.1 1571,1393.1 1574,1393.1 1577,1393.1 1580,1393.1 1583,1393.1 1586,1393.2 1589,1393.2 1592,1393.2 1595,1393.2 1598,1393.2 1601,1393.2 1604,1393.2 1607,1393.2 1610,1393.3 1613,1393.3 1616,1393.3 1619,1393.3 1622,1393.3 1625,1393.3 1628,1393.3 1631,1393.3 1634,1393.3 1637,1393.4 1640,1393.4 1643,1393.4 1646,1393.4 1649,1393.4 1652,1393.4 1655,1393.4 1658,1393.4 1661,1393.5 1664,1393.5 1667,1393.5 1670,1393.5 1673,1393.5 1676,1393.5 1679,1393.5 1682,1393.5 1685,1393.6 1688,1393.6 1691,1393.6 1694,1393.6 1697,1393.6 1700,1393.6 1703,1393.6 1706,1393.6 1709,1393.7 1712,1393.7 1715,1393.7 1718,1393.7 1721,1393.7 1724,1393.7 1727,1393.7 1730,1393.7 1733,1393.7 1736,1393.8 1739,1393.8 1742,1393.8 1745,1393.8 1748,1393.8 1751,1393.8 1754,1393.8 1757,1393.8 1760,1393.9 1763,1393.9 1766,1393.9 1769,1393.9 1772,1393.9 1775,1393.9 1778,1393.9 1781,1393.9 1784,1394 1787,1394 1790,1394 1793,1394 1796,1394 1799,1394 1802,1394 1805,1394 1808,1394 1811,1394.1 1814,1394.1 1817,1394.1 1820,1394.1 1823,1394.1 1826,1394.1 1829,1394.1 1832,1394.1 1835,1394.2 1838,1394.2 1841,1394.2 1844,1394.2 1847,1394.2 1850,1394.2 1853,1394.2 1856,1394.2 1859,1394.3 1862,1394.3 1865,1394.3 1868,1394.3 1871,1394.3 1874,1394.3 1877,1394.3 1880,1394.3 1883,1394.3 1886,1394.4 1889,1394.4 1892,1394.4 1895,1394.4 1898,1394.4 1901,1394.4 1904,1394.4 1907,1394.4 1910,1394.5 1913,1394.5 1916,1394.5 1919,1394.5 1922,1394.5 1925,1394.5 1928,1394.5 1931,1394.5 1934,1394.6 1937,1394.6 1940,1394.6 1943,1394.6 1946,1394.6 1949,1394.6 1952,1394.6 1955,1394.6 1958,1394.7 1961,1394.7 1964,1394.7 1967,1394.7 1970,1394.7 1973,1394.7 1976,1394.7 1979,1394.7 1982,1394.7 1985,1394.8 1988,1394.8 1991,1394.8 1994,1394.8 1997,1394.8 2000,1394.8 2003,1394.8 2006,1394.8 2009,1394.9 2012,1394.9 2015,1394.9 2018,1394.9 2021,1394.9 2024,1394.9 2027,1394.9 2030,1394.9 2033,1395 2036,1395 2039,1395 2042,1395 2045,1395 2048,1395 2051,1395 2054,1395 2057,1395 2060,1395.1 2063,1395.1 2066,1395.1 2069,1395.1 2072,1395.1 2075,1395.1 2078,1395.1 2081,1395.1 2084,1395.2 2087,1395.2 2090,1395.2 2093,1395.2 2096,1395.2 2099,1395.2 2102,1395.2 2105,1395.2 2108,1395.3 2111,1395.3 2114,1395.3 2117,1395.3 2120,1395.3 2123,1395.3 2126,1395.3 2129,1395.3 2132,1395.3 2135,1395.4 2138,1395.4 2141,1395.4 2144,1395.4 2147,1395.4 2150,1395.4 2153,1395.4 2156,1395.4 2159,1395.5 2162,1395.5 2165,1395.5 2168,1395.5 2171,1395.5 2174,1395.5 2177,1395.5 2180,1395.5 2183,1395.6 2186,1395.6 2189,1395.6 2192,1395.6 2195,1395.6 2198,1395.6 2201,1395.6 2204,1395.6 2207,1395.7 2210,1395.7 2213,1395.7 2216,1395.7 2219,1395.7 2222,1395.7 2225,1395.7 2228,1395.7 2231,1395.7 2234,1395.8 2237,1395.8 2240,1395.8 2243,1395.8 2246,1395.8 2249,1395.8 2252,1395.8 2255,1395.8 2258,1395.9 2261,1395.9 2264,1395.9 2267,1395.9 2270,1395.9 2273,1395.9 2276,1395.9 2279,1395.9 2282,1396 2285,1396 2288,1396 2291,1396 2294,1396" fill="none" stroke="#0000ff" stroke-width="4.5" stroke-dasharray="8 16"/>
<path d="M1298,1392 1301,1392 1304,1392 1307,1392 1310,1392 1313,1392.1 1316,1392.1 1319,1392.1 1322,1392.1 1325,1392.1 1328,1392.1 1331,1392.1 1334,1392.1 1337,1392.2 1340,1392.2 1343,1392.2 1346,1392.2 1349,1392.2 1352,1392.2 1355,1392.2 1358,1392.2 1361,1392.3 1364,1392.3 1367,1392.3 1370,1392.3 1373,1392.3 1376,1392.3 1379,1392.3 1382,1392.3 1385,1392.3 1388,1392.4 1391,1392.4 1394,1392.4 1397,1392.4 1400,1392.4 1403,1392.4 1406,1392.4 1409,1392.4 1412,1392.5 1415,1392.5 1418,1392.5 1421,1392.5 1424,1392.5 1427,1392.5 1430,1392.5 1433,1392.5 1436,1392.6 1439,1392.6 1442,1392.6 1445,1392.6 1448,1392.6 1451,1392.6 1454,1392.6 1457,1392.6 1460,1392.7 1463,1392.7 1466,1392.7 1469,1392.7 1472,1392.7 1475,1392.7 1478,1392.7 1481,1392.7 1484,1392.7 1487,1392.8 1490,1392.8 1493,1392.8 1496,1392.8 1499,1392.8 1502,1392.8 1505,1392.8 1508,1392.8 1511,1392.9 1514,1392.9 1517,1392.9 1520,1392.9 1523,1392.9 1526,1392.9 1529,1392.9 1532,1392.9 1535,1393 1538,1393 1541,1393 1544,1393 1547,1393 1550,1393 1553,1393 1556,1393 1559,1393 1562,1393.1 1565,1393.1 1568,1393.1 1571,1393.1 1574,1393.1 1577,1393.1 1580,1393.1 1583,1393.1 1586,1393.2 1589,1393.2 1592,1393.2 1595,1393.2 1598,1393.2 1601,1393.2 1604,1393.2 1607,1393.2 1610,1393.3 1613,1393.3 1616,1393.3 1619,1393.3 1622,1393.3 1625,1393.3 1628,1393.3 1631,1393.3 1634,1393.3 1637,1393.4 1640,1393.4 1643,1393.4 1646,1393.4 1649,1393.4 1652,1393.4 1655,1393.4 1658,1393.4 1661,1393.5 1664,1393.5 1667,1393.5 1670,1393.5 1673,1393.5 1676,1393.5 1679,1393.5 1682,1393.5 1685,1393.6 1688,1393.6 1691,1393.6 1694,1393.6 1697,1393.6 1700,1393.6 1703,1393.6 1706,1393.6 1709,1393.7 1712,1393.7 1715,1393.7 1718,1393.7 1721,1393.7 1724,1393.7 1727,1393.7 1730,1393.7 1733,1393.7 1736,1393.8 1739,1393.8 1742,1393.8 1745,1393.8 1748,1393.8 1751,1393.8 1754,1393.8 1757,1393.8 1760,1393.9 1763,1393.9 1766,1393.9 1769,1393.9 1772,1393.9 1775,1393.9 1778,1393.9 1781,1393.9 1784,1394 1787,1394 1790,1394 1793,1394 1796,1394 1799,1394 1802,1394 1805,1394 1808,1394 1811,1394.1 1814,1394.1 1817,1394.1 1820,1394.1 1823,1394.1 1826,1394.1 1829,1394.1 1832,1394.1 1835,1394.2 1838,1394.2 1841,1394.2 1844,1394.2 1847,1394.2 1850,1394.2 1853,1394.2 1856,1394.2 1859,1394.3 1862,1394.3 1865,1394.3 1868,1394.3 1871,1394.3 1874,1394.3 1877,1394.3 1880,1394.3 1883,1394.3 1886,1394.4 1889,1394.4 1892,1394.4 1895,1394.4 1898,1394.4 1901,1394.4 1904,1394.4 1907,1394.4 1910,1394.5 1913,1394.5 1916,1394.5 1919,1394.5 1922,1394.5 1925,1394.5 1928,1394.5 1931,1394.5 1934,1394.6 1937,1394.6 1940,1394.6 1943,1394.6 1946,1394.6 1949,1394.6 1952,1394.6 1955,1394.6 1958,1394.7 1961,1394.7 1964,1394.7 1967,1394.7 1970,1394.7 1973,1394.7 1976,1394.7 1979,1394.7 1982,1394.7 1985,1394.8 1988,1394.8 1991,1394.8 1994,1394.8 1997,1394.8 2000,1394.8 2003,1394.8 2006,1394.8 2009,1394.9 2012,1394.9 2015,1394.9 2018,1394.9 2021,1394.9 2024,1394.9 2027,1394.9 2030,1394.9 2033,1395 2036,1395 2039,1395 2042,1395 2045,1395 2048,1395 2051,1395 2054,1395 2057,1395 2060,1395.1 2063,1395.1 2066,1395.1 2069,1395.1 2072,1395.1 2075,1395.1 2078,1395.1 2081,1395.1 2084,1395.2 2087,1395.2 2090,1395.2 2093,1395.2 2096,1395.2 2099,1395.2 2102,1395.2 2105,1395.2 2108,1395.3 2111,1395.3 2114,1395.3 2117,1395.3 2120,1395.3 2123,1395.3 2126,1395.3 2129,1395.3 2132,1395.3 2135,1395.4 2138,1395.4 2141,1395.4 2144,1395.4 2147,1395.4 2150,1395.4 2153,1395.4 2156,1395.4 2159,1395.5 2162,1395.5 2165,1395.5 2168,1395.5 2171,1395.5 2174,1395.5 2177,1395.5 2180,1395.5 2183,1395.6 2186,1395.6 2189,1395.6 2192,1395.6 2195,1395.6 2198,1395.6 2201,1395.6 2204,1395.6 2207,1395.7 2210,1395.7 2213,1395.7 2216,1395.7 2219,1395.7 2222,1395.7 2225,1395.7 2228,1395.7 2231,1395.7 2234,1395.8 2237,1395.8 2240,1395.8 2243,1395.8 2246,1395.8 2249,1395.8 2252,1395.8 2255,1395.8 2258,1395.9 2261,1395.9 2264,1395.9 2267,1395.9 2270,1395.9 2273,1395.9 2276,1395.9 2279,1395.9 2282,1396 2285,1396 2288,1396 2291,1396 2294,1396" fill="none" stroke="#008000" stroke-width="4.5" stroke-dasharray="8 16" stroke-dashoffset="8"/>
<path d="M1298,1393.5 1301,1393.5 1304,1393.5 1307,1393.5 1310,1393.5 1313,1393.6 1316,1393.6 1319,1393.6 1322,1393.6 1325,1393.6 1328,1393.6 1331,1393.6 1334,1393.6 1337,1393.7 1340,1393.7 1343,1393.7 1346,1393.7 1349,1393.7 1352,1393.7 1355,1393.7 1358,1393.7 1361,1393.8 1364,1393.8 1367,1393.8 1370,1393.8 1373,1393.8 1376,1393.8 1379,1393.8 1382,1393.8 1385,1393.8 1388,1393.9 1391,1393.9 1394,1393.9 1397,1393.9 1400,1393.9 1403,1393.9 1406,1393.9 1409,1393.9 1412,1394 1415,1394 1418,1394 1421,1394 1424,1394 1427,1394 1430,1394 1433,1394 1436,1394.1 1439,1394.1 1442,1394.1 1445,1394.1 1448,1394.1 1451,1394.1 1454,1394.1 1457,1394.1 1460,1394.2 1463,1394.2 1466,1394.2 1469,1394.2 1472,1394.2 1475,1394.2 1478,1394.2 1481,1394.2 1484,1394.2 1487,1394.3 1490,1394.3 1493,1394.3 1496,1394.3 1499,1394.3 1502,1394.3 1505,1394.3 1508,1394.3 1511,1394.4 1514,1394.4 1517,1394.4 1520,1394.4 1523,1394.4 1526,1394.4 1529,1394.4 1532,1394.4 1535,1394.5 1538,1394.5 1541,1394.5 1544,1394.5 1547,1394.5 1550,1394.5 1553,1394.5 1556,1394.5 1559,1394.5 1562,1394.6 1565,1394.6 1568,1394.6 1571,1394.6 1574,1394.6 1577,1394.6 1580,1394.6 1583,1394.6 1586,1394.7 1589,1394.7 1592,1394.7 1595,1394.7 1598,1394.7 1601,1394.7 1604,1394.7 1607,1394.7 1610,1394.8 1613,1394.8 1616,1394.8 1619,1394.8 1622,1394.8 1625,1394.8 1628,1394.8 1631,1394.8 1634,1394.8 1637,1394.9 1640,1394.9 1643,1394.9 1646,1394.9 1649,1394.9 1652,1394.9 1655,1394.9 1658,1394.9 1661,1395 1664,1395 1667,1395 1670,1395 1673,1395 1676,1395 1679,1395 1682,1395 1685,1395.1 1688,1395.1 1691,1395.1 1694,1395.1 1697,1395.1 1700,1395.1 1703,1395.1 1706,1395.1 1709,1395.2 1712,1395.2 1715,1395.2 1718,1395.2 1721,1395.2 1724,1395.2 1727,1395.2 1730,1395.2 1733,1395.2 1736,1395.3 1739,1395.3 1742,1395.3 1745,1395.3 1748,1395.3 1751,1395.3 1754,1395.3 1757,1395.3 1760,1395.4 1763,1395.4 1766,1395.4 1769,1395.4 1772,1395.4 1775,1395.4 1778,1395.4 1781,1395.4 1784,1395.5 1787,1395.5 1790,1395.5 1793,1395.5 1796,1395.5 1799,1395.5 1802,1395.5 1805,1395.5 1808,1395.5 1811,1395.6 1814,1395.6 1817,1395.6 1820,1395.6 1823,1395.6 1826,1395.6 1829,1395.6 1832,1395.6 1835,1395.7 1838,1395.7 1841,1395.7 1844,1395.7 1847,1395.7 1850,1395.7 1853,1395.7 1856,1395.7 1859,1395.8 1862,1395.8 1865,1395.8 1868,1395.8 1871,1395.8 1874,1395.8 1877,1395.8 1880,1395.8 1883,1395.8 1886,1395.9 1889,1395.9 1892,1395.9 1895,1395.9 1898,1395.9 1901,1395.9 1904,1395.9 1907,1395.9 1910,1396 1913,1396 1916,1396 1919,1396 1922,1396 1925,1396 1928,1396 1931,1396 1934,1396.1 1937,1396.1 1940,1396.1 1943,1396.1 1946,1396.1 1949,1396.1 1952,1396.1 1955,1396.1 1958,1396.2 1961,1396.2 1964,1396.2 1967,1396.2 1970,1396.2 1973,1396.2 1976,1396.2 1979,1396.2 1982,1396.2 1985,1396.3 1988,1396.3 1991,1396.3 1994,1396.3 1997,1396.3 2000,1396.3 2003,1396.3 2006,1396.3 2009,1396.4 2012,1396.4 2015,1396.4 2018,1396.4 2021,1396.4 2024,1396.4 2027,1396.4 2030,1396.4 2033,1396.5 2036,1396.5 2039,1396.5 2042,1396.5 2045,1396.5 2048,1396.5 2051,1396.5 2054,1396.5 2057,1396.5 2060,1396.6 2063,1396.6 2066,1396.6 2069,1396.6 2072,1396.6 2075,1396.6 2078,1396.6 2081,1396.6 2084,1396.7 2087,1396.7 2090,1396.7 2093,1396.7 2096,1396.7 2099,1396.7 2102,1396.7 2105,1396.7 2108,1396.8 2111,1396.8 2114,1396.8 2117,1396.8 2120,1396.8 2123,1396.8 2126,1396.8 2129,1396.8 2132,1396.8 2135,1396.9 2138,1396.9 2141,1396.9 2144,1396.9 2147,1396.9 2150,1396.9 2153,1396.9 2156,1396.9 2159,1397 2162,1397 2165,1397 2168,1397 2171,1397 2174,1397 2177,1397 2180,1397 2183,1397.1 2186,1397.1 2189,1397.1 2192,1397.1 2195,1397.1 2198,1397.1 2201,1397.1 2204,1397.1 2207,1397.2 2210,1397.2 2213,1397.2 2216,1397.2 2219,1397.2 2222,1397.2 2225,1397.2 2228,1397.2 2231,1397.2 2234,1397.3 2237,1397.3 2240,1397.3 2243,1397.3 2246,1397.3 2249,1397.3 2252,1397.3 2255,1397.3 2258,1397.4 2261,1397.4 2264,1397.4 2267,1397.4 2270,1397.4 2273,1397.4 2276,1397.4 2279,1397.4 2282,1397.5 2285,1397.5 2288,1397.5 2291,1397.5 2294,1397.5" fill="none" stroke="#ff0080" stroke-width="4.5" stroke-dasharray="8 16" stroke-dashoffset="16"/>
<path d="M1298,1389.5 1301,1389.5 1304,1389.5 1307,1389.5 1310,1389.5 1313,1389.6 1316,1389.6 1319,1389.6 1322,1389.6 1325,1389.6 1328,1389.6 1331,1389.6 1334,1389.6 1337,1389.7 1340,1389.7 1343,1389.7 1346,1389.7 1349,1389.7 1352,1389.7 1355,1389.7 1358,1389.7 1361,1389.8 1364,1389.8 1367,1389.8 1370,1389.8 1373,1389.8 1376,1389.8 1379,1389.8 1382,1389.8 1385,1389.8 1388,1389.9 1391,1389.9 1394,1389.9 1397,1389.9 1400,1389.9 1403,1389.9 1406,1389.9 1409,1389.9 1412,1390 1415,1390 1418,1390 1421,1390 1424,1390 1427,1390 1430,1390 1433,1390 1436,1390.1 1439,1390.1 1442,1390.1 1445,1390.1 1448,1390.1 1451,1390.1 1454,1390.1 1457,1390.1 1460,1390.2 1463,1390.2 1466,1390.2 1469,1390.2 1472,1390.2 1475,1390.2 1478,1390.2 1481,1390.2 1484,1390.2 1487,1390.3 1490,1390.3 1493,1390.3 1496,1390.3 1499,1390.3 1502,1390.3 1505,1390.3 1508,1390.3 1511,1390.4 1514,1390.4 1517,1390.4 1520,1390.4 1523,1390.4 1526,1390.4 1529,1390.4 1532,1390.4 1535,1390.5 1538,1390.5 1541,1390.5 1544,1390.5 1547,1390.5 1550,1390.5 1553,1390.5 1556,1390.5 1559,1390.5 1562,1390.6 1565,1390.6 1568,1390.6 1571,1390.6 1574,1390.6 1577,1390.6 1580,1390.6 1583,1390.6 1586,1390.7 1589,1390.7 1592,1390.7 1595,1390.7 1598,1390.7 1601,1390.7 1604,1390.7 1607,1390.7 1610,1390.8 1613,1390.8 1616,1390.8 1619,1390.8 1622,1390.8 1625,1390.8 1628,1390.8 1631,1390.8 1634,1390.8 1637,1390.9 1640,1390.9 1643,1390.9 1646,1390.9 1649,1390.9 1652,1390.9 1655,1390.9 1658,1390.9 1661,1391 1664,1391 1667,1391 1670,1391 1673,1391 1676,1391 1679,1391 1682,1391 1685,1391.1 1688,1391.1 1691,1391.1 1694,1391.1 1697,1391.1 1700,1391.1 1703,1391.1 1706,1391.1 1709,1391.2 1712,1391.2 1715,1391.2 1718,1391.2 1721,1391.2 1724,1391.2 1727,1391.2 1730,1391.2 1733,1391.2 1736,1391.3 1739,1391.3 1742,1391.3 1745,1391.3 1748,1391.3 1751,1391.3 1754,1391.3 1757,1391.3 1760,1391.4 1763,1391.4 1766,1391.4 1769,1391.4 1772,1391.4 1775,1391.4 1778,1391.4 1781,1391.4 1784,1391.5 1787,1391.5 1790,1391.5 1793,1391.5 1796,1391.5 1799,1391.5 1802,1391.5 1805,1391.5 1808,1391.5 1811,1391.6 1814,1391.6 1817,1391.6 1820,1391.6 1823,1391.6 1826,1391.6 1829,1391.6 1832,1391.6 1835,1391.7 1838,1391.7 1841,1391.7 1844,1391.7 1847,1391.7 1850,1391.7 1853,1391.7 1856,1391.7 1859,1391.8 1862,1391.8 1865,1391.8 1868,1391.8 1871,1391.8 1874,1391.8 1877,1391.8 1880,1391.8 1883,1391.8 1886,1391.9 1889,1391.9 1892,1391.9 1895,1391.9 1898,1391.9 1901,1391.9 1904,1391.9 1907,1391.9 1910,1392 1913,1392 1916,1392 1919,1392 1922,1392 1925,1392 1928,1392 1931,1392 1934,1392.1 1937,1392.1 1940,1392.1 1943,1392.1 1946,1392.1 1949,1392.1 1952,1392.1 1955,1392.1 1958,1392.2 1961,1392.2 1964,1392.2 1967,1392.2 1970,1392.2 1973,1392.2 1976,1392.2 1979,1392.2 1982,1392.2 1985,1392.3 1988,1392.3 1991,1392.3 1994,1392.3 1997,1392.3 2000,1392.3 2003,1392.3 2006,1392.3 2009,1392.4 2012,1392.4 2015,1392.4 2018,1392.4 2021,1392.4 2024,1392.4 2027,1392.4 2030,1392.4 2033,1392.5 2036,1392.5 2039,1392.5 2042,1392.5 2045,1392.5 2048,1392.5 2051,1392.5 2054,1392.5 2057,1392.5 2060,1392.6 2063,1392.6 2066,1392.6 2069,1392.6 2072,1392.6 2075,1392.6 2078,1392.6 2081,1392.6 2084,1392.7 2087,1392.7 2090,1392.7 2093,1392.7 2096,1392.7 2099,1392.7 2102,1392.7 2105,1392.7 2108,1392.8 2111,1392.8 2114,1392.8 2117,1392.8 2120,1392.8 2123,1392.8 2126,1392.8 2129,1392.8 2132,1392.8 2135,1392.9 2138,1392.9 2141,1392.9 2144,1392.9 2147,1392.9 2150,1392.9 2153,1392.9 2156,1392.9 2159,1393 2162,1393 2165,1393 2168,1393 2171,1393 2174,1393 2177,1393 2180,1393 2183,1393.1 2186,1393.1 2189,1393.1 2192,1393.1 2195,1393.1 2198,1393.1 2201,1393.1 2204,1393.1 2207,1393.2 2210,1393.2 2213,1393.2 2216,1393.2 2219,1393.2 2222,1393.2 2225,1393.2 2228,1393.2 2231,1393.2 2234,1393.3 2237,1393.3 2240,1393.3 2243,1393.3 2246,1393.3 2249,1393.3 2252,1393.3 2255,1393.3 2258,1393.4 2261,1393.4 2264,1393.4 2267,1393.4 2270,1393.4 2273,1393.4 2276,1393.4 2279,1393.4 2282,1393.5 2285,1393.5 2288,1393.5 2291,1393.5 2294,1393.5" fill="none" stroke="#c080ff" stroke-width="2"/>
<path d="M1298,1389.3 1301,1389.3 1304,1389.3 1307,1389.3 1310,1389.3 1313,1389.3 1316,1389.4 1319,1389.4 1322,1389.4 1325,1389.4 1328,1389.4 1331,1389.4 1334,1389.4 1337,1389.4 1340,1389.4 1343,1389.4 1346,1389.5 1349,1389.5 1352,1389.5 1355,1389.5 1358,1389.5 1361,1389.5 1364,1389.5 1367,1389.5 1370,1389.5 1373,1389.5 1376,1389.6 1379,1389.6 1382,1389.6 1385,1389.6 1388,1389.6 1391,1389.6 1394,1389.6 1397,1389.6 1400,1389.6 1403,1389.6 1406,1389.6 1409,1389.7 1412,1389.7 1415,1389.7 1418,1389.7 1421,1389.7 1424,1389.7 1427,1389.7 1430,1389.7 1433,1389.7 1436,1389.7 1439,1389.7 1442,1389.8 1445,1389.8 1448,1389.8 1451,1389.8 1454,1389.8 1457,1389.8 1460,1389.8 1463,1389.8 1466,1389.8 1469,1389.8 1472,1389.8 1475,1389.8 1478,1389.9 1481,1389.9 1484,1389.9 1487,1389.9 1490,1389.9 1493,1389.9 1496,1389.9 1499,1389.9 1502,1389.9 1505,1389.9 1508,1389.9 1511,1389.9 1514,1389.9 1517,1390 1520,1390 1523,1390 1526,1390 1529,1390 1532,1390 1535,1390 1538,1390 1541,1390 1544,1390 1547,1390 1550,1390 1553,1390 1556,1390 1559,1390 1562,1390 1565,1390.1 1568,1390.1 1571,1390.1 1574,1390.1 1577,1390.1 1580,1390.1 1583,1390.1 1586,1390.1 1589,1390.1 1592,1390.1 1595,1390.1 1598,1390.1 1601,1390.1 1604,1390.1 1607,1390.1 1610,1390.1 1613,1390.1 1616,1390.1 1619,1390.1 1622,1390.1 1625,1390.1 1628,1390.1 1631,1390.1 1634,1390.1 1637,1390.1 1640,1390.1 1643,1390.1 1646,1390.1 1649,1390.1 1652,1390.1 1655,1390.1 1658,1390.1 1661,1390.1 1664,1390.1 1667,1390.1 1670,1390.1 1673,1390.1 1676,1390.1 1679,1390.1 1682,1390.1 1685,1390.1 1688,1390.1 1691,1390.1 1694,1390.1 1697,1390.1 1700,1390.1 1703,1390.1 1706,1390.1 1709,1390.1 1712,1390.1 1715,1390.1 1718,1390 1721,1390 1724,1390 1727,1390 1730,1390 1733,1390 1736,1390 1739,1390 1742,1389.9 1745,1389.9 1748,1389.9 1751,1389.9 1754,1389.9 1757,1389.9 1760,1389.8 1763,1389.8 1766,1389.8 1769,1389.7 1772,1389.7 1775,1389.7 1778,1389.6 1781,1389.6 1784,1389.5 1787,1389.5 1790,1389.4 1793,1389.3 1796,1389.3 1799,1389.2 1802,1389.1 1805,1389 1808,1388.9 1811,1388.7 1814,1388.6 1817,1388.4 1820,1388.2 1823,1388 1826,1387.8 1829,1387.5 1832,1387.2 1835,1386.8 1838,1386.4 1841,1386 1844,1385.5 1847,1385 1850,1384.4 1853,1383.7 1856,1383 1859,1382.1 1862,1381.2 1865,1380.2 1868,1379.1 1871,1377.9 1874,1376.5 1877,1375 1880,1373.4 1883,1371.7 1886,1369.8 1889,1367.7 1892,1365.5 1895,1363.1 1898,1360.5 1901,1357.7 1904,1354.7 1907,1351.6 1910,1348.2 1913,1344.6 1916,1340.8 1919,1336.8 1922,1332.6 1925,1328.3 1928,1323.7 1931,1318.9 1934,1313.9 1937,1308.8 1940,1303.4 1943,1298 1946,1292.4 1949,1286.7 1952,1280.9 1955,1275 1958,1269.1 1961,1263.2 1964,1257.2 1967,1251.3 1970,1245.5 1973,1239.7 1976,1234.1 1979,1228.6 1982,1223.3 1985,1218.2 1988,1213.4 1991,1208.9 1994,1204.6 1997,1200.8 2000,1197.3 2003,1194.2 2006,1191.6 2009,1189.4 2012,1187.6 2015,1186.4 2018,1185.6 2021,1185.4 2024,1185.7 2027,1186.4 2030,1187.7 2033,1189.5 2036,1191.7 2039,1194.4 2042,1197.5 2045,1201 2048,1204.9 2051,1209.1 2054,1213.7 2057,1218.5 2060,1223.6 2063,1228.9 2066,1234.4 2069,1240.1 2072,1245.9 2075,1251.7 2078,1257.7 2081,1263.7 2084,1269.6 2087,1275.6 2090,1281.5 2093,1287.3 2096,1293 2099,1298.6 2102,1304.1 2105,1309.4 2108,1314.6 2111,1319.6 2114,1324.4 2117,1329 2120,1333.4 2123,1337.7 2126,1341.7 2129,1345.5 2132,1349.1 2135,1352.5 2138,1355.7 2141,1358.7 2144,1361.5 2147,1364.1 2150,1366.5 2153,1368.8 2156,1370.9 2159,1372.8 2162,1374.6 2165,1376.2 2168,1377.7 2171,1379.1 2174,1380.3 2177,1381.5 2180,1382.5 2183,1383.4 2186,1384.3 2189,1385.1 2192,1385.7 2195,1386.4 2198,1386.9 2201,1387.4 2204,1387.9 2207,1388.3 2210,1388.7 2213,1389 2216,1389.3 2219,1389.6 2222,1389.8 2225,1390 2228,1390.2 2231,1390.4 2234,1390.6 2237,1390.7 2240,1390.8 2243,1391 2246,1391.1 2249,1391.2 2252,1391.3 2255,1391.4 2258,1391.4 2261,1391.5 2264,1391.6 2267,1391.6 2270,1391.7 2273,1391.8 2276,1391.8 2279,1391.9 2282,1391.9 2285,1392 2288,1392 2291,1392.1 2294,1392.1" fill="none" stroke="#0000ff" stroke-width="3.6" stroke-dasharray="7.5 9.5"/>
<path d="M1298,1389.4 1301,1389.4 1304,1389.4 1307,1389.4 1310,1389.5 1313,1389.5 1316,1389.5 1319,1389.5 1322,1389.5 1325,1389.5 1328,1389.5 1331,1389.5 1334,1389.5 1337,1389.5 1340,1389.6 1343,1389.6 1346,1389.6 1349,1389.6 1352,1389.6 1355,1389.6 1358,1389.6 1361,1389.6 1364,1389.6 1367,1389.6 1370,1389.7 1373,1389.7 1376,1389.7 1379,1389.7 1382,1389.7 1385,1389.7 1388,1389.7 1391,1389.7 1394,1389.7 1397,1389.7 1400,1389.7 1403,1389.7 1406,1389.8 1409,1389.8 1412,1389.8 1415,1389.8 1418,1389.8 1421,1389.8 1424,1389.8 1427,1389.8 1430,1389.8 1433,1389.8 1436,1389.8 1439,1389.8 1442,1389.8 1445,1389.8 1448,1389.8 1451,1389.8 1454,1389.7 1457,1389.7 1460,1389.7 1463,1389.7 1466,1389.6 1469,1389.6 1472,1389.6 1475,1389.5 1478,1389.4 1481,1389.4 1484,1389.3 1487,1389.2 1490,1389.1 1493,1389 1496,1388.9 1499,1388.7 1502,1388.5 1505,1388.4 1508,1388.2 1511,1387.9 1514,1387.7 1517,1387.4 1520,1387.1 1523,1386.8 1526,1386.4 1529,1386 1532,1385.6 1535,1385.1 1538,1384.6 1541,1384 1544,1383.4 1547,1382.8 1550,1382.1 1553,1381.4 1556,1380.6 1559,1379.8 1562,1378.9 1565,1378 1568,1377.1 1571,1376.1 1574,1375 1577,1374 1580,1372.8 1583,1371.7 1586,1370.5 1589,1369.2 1592,1368 1595,1366.7 1598,1365.4 1601,1364.1 1604,1362.7 1607,1361.4 1610,1360.1 1613,1358.7 1616,1357.4 1619,1356.2 1622,1354.9 1625,1353.7 1628,1352.5 1631,1351.4 1634,1350.3 1637,1349.3 1640,1348.4 1643,1347.5 1646,1346.7 1649,1346 1652,1345.4 1655,1344.9 1658,1344.5 1661,1344.3 1664,1344.1 1667,1344 1670,1344 1673,1344.2 1676,1344.4 1679,1344.8 1682,1345.2 1685,1345.8 1688,1346.4 1691,1347.2 1694,1348 1697,1348.9 1700,1349.9 1703,1350.9 1706,1352.1 1709,1353.2 1712,1354.4 1715,1355.7 1718,1357 1721,1358.3 1724,1359.6 1727,1361 1730,1362.3 1733,1363.7 1736,1365 1739,1366.4 1742,1367.7 1745,1369 1748,1370.3 1751,1371.5 1754,1372.7 1757,1373.9 1760,1375.1 1763,1376.2 1766,1377.2 1769,1378.2 1772,1379.2 1775,1380.1 1778,1381 1781,1381.8 1784,1382.6 1787,1383.3 1790,1384 1793,1384.6 1796,1385.2 1799,1385.8 1802,1386.3 1805,1386.8 1808,1387.3 1811,1387.7 1814,1388 1817,1388.4 1820,1388.7 1823,1389 1826,1389.3 1829,1389.5 1832,1389.7 1835,1389.9 1838,1390.1 1841,1390.3 1844,1390.4 1847,1390.6 1850,1390.7 1853,1390.8 1856,1390.9 1859,1391 1862,1391.1 1865,1391.1 1868,1391.2 1871,1391.3 1874,1391.3 1877,1391.4 1880,1391.4 1883,1391.5 1886,1391.5 1889,1391.5 1892,1391.6 1895,1391.6 1898,1391.6 1901,1391.7 1904,1391.7 1907,1391.7 1910,1391.7 1913,1391.7 1916,1391.8 1919,1391.8 1922,1391.8 1925,1391.8 1928,1391.8 1931,1391.9 1934,1391.9 1937,1391.9 1940,1391.9 1943,1391.9 1946,1391.9 1949,1392 1952,1392 1955,1392 1958,1392 1961,1392 1964,1392 1967,1392 1970,1392.1 1973,1392.1 1976,1392.1 1979,1392.1 1982,1392.1 1985,1392.1 1988,1392.2 1991,1392.2 1994,1392.2 1997,1392.2 2000,1392.2 2003,1392.2 2006,1392.2 2009,1392.2 2012,1392.3 2015,1392.3 2018,1392.3 2021,1392.3 2024,1392.3 2027,1392.3 2030,1392.3 2033,1392.4 2036,1392.4 2039,1392.4 2042,1392.4 2045,1392.4 2048,1392.4 2051,1392.4 2054,1392.5 2057,1392.5 2060,1392.5 2063,1392.5 2066,1392.5 2069,1392.5 2072,1392.5 2075,1392.5 2078,1392.6 2081,1392.6 2084,1392.6 2087,1392.6 2090,1392.6 2093,1392.6 2096,1392.6 2099,1392.6 2102,1392.7 2105,1392.7 2108,1392.7 2111,1392.7 2114,1392.7 2117,1392.7 2120,1392.7 2123,1392.8 2126,1392.8 2129,1392.8 2132,1392.8 2135,1392.8 2138,1392.8 2141,1392.8 2144,1392.8 2147,1392.9 2150,1392.9 2153,1392.9 2156,1392.9 2159,1392.9 2162,1392.9 2165,1392.9 2168,1392.9 2171,1393 2174,1393 2177,1393 2180,1393 2183,1393 2186,1393 2189,1393 2192,1393 2195,1393.1 2198,1393.1 2201,1393.1 2204,1393.1 2207,1393.1 2210,1393.1 2213,1393.1 2216,1393.1 2219,1393.2 2222,1393.2 2225,1393.2 2228,1393.2 2231,1393.2 2234,1393.2 2237,1393.2 2240,1393.2 2243,1393.3 2246,1393.3 2249,1393.3 2252,1393.3 2255,1393.3 2258,1393.3 2261,1393.3 2264,1393.3 2267,1393.4 2270,1393.4 2273,1393.4 2276,1393.4 2279,1393.4 2282,1393.4 2285,1393.4 2288,1393.4 2291,1393.5 2294,1393.5" fill="none" stroke="#ff0080" stroke-width="3.6" stroke-dasharray="7.5 9.5"/>
<path d="M1682,1390.2 1685,1390.1 1688,1390 1691,1389.9 1694,1389.8 1697,1389.7 1700,1389.5 1703,1389.3 1706,1389.1 1709,1388.9 1712,1388.7 1715,1388.4 1718,1388.1 1721,1387.7 1724,1387.4 1727,1386.9 1730,1386.5 1733,1385.9 1736,1385.4 1739,1384.7 1742,1384.1 1745,1383.3 1748,1382.5 1751,1381.6 1754,1380.7 1757,1379.7 1760,1378.6 1763,1377.4 1766,1376.1 1769,1374.8 1772,1373.4 1775,1371.9 1778,1370.3 1781,1368.7 1784,1367 1787,1365.2 1790,1363.3 1793,1361.4 1796,1359.4 1799,1357.4 1802,1355.3 1805,1353.2 1808,1351 1811,1348.8 1814,1346.7 1817,1344.5 1820,1342.3 1823,1340.2 1826,1338.1 1829,1336 1832,1334 1835,1332.1 1838,1330.2 1841,1328.5 1844,1326.9 1847,1325.4 1850,1324 1853,1322.7 1856,1321.7 1859,1320.8 1862,1320 1865,1319.4 1868,1319 1871,1318.8 1874,1318.8 1877,1319 1880,1319.3 1883,1319.9 1886,1320.6 1889,1321.5 1892,1322.5 1895,1323.7 1898,1325.1 1901,1326.6 1904,1328.2 1907,1329.9 1910,1331.8 1913,1333.7 1916,1335.7 1919,1337.7 1922,1339.9 1925,1342 1928,1344.2 1931,1346.4 1934,1348.6 1937,1350.8 1940,1353 1943,1355.1 1946,1357.3 1949,1359.3 1952,1361.4 1955,1363.3 1958,1365.2 1961,1367.1 1964,1368.8 1967,1370.5 1970,1372.2 1973,1373.7 1976,1375.2 1979,1376.5 1982,1377.9 1985,1379.1 1988,1380.2 1991,1381.3 1994,1382.3 1997,1383.2 2000,1384.1 2003,1384.9 2006,1385.6 2009,1386.3 2012,1386.9 2015,1387.4 2018,1388 2021,1388.4 2024,1388.8 2027,1389.2 2030,1389.6 2033,1389.9 2036,1390.2 2039,1390.4 2042,1390.6 2045,1390.8 2048,1391 2051,1391.2 2054,1391.3 2057,1391.4 2060,1391.6 2063,1391.7 2066,1391.8 2066,1394.1 2063,1394.1 2060,1394.1 2057,1394 2054,1394 2051,1394 2048,1394 2045,1394 2042,1394 2039,1394 2036,1394 2033,1394 2030,1393.9 2027,1393.9 2024,1393.9 2021,1393.9 2018,1393.9 2015,1393.9 2012,1393.9 2009,1393.9 2006,1393.8 2003,1393.8 2000,1393.8 1997,1393.8 1994,1393.8 1991,1393.8 1988,1393.8 1985,1393.8 1982,1393.7 1979,1393.7 1976,1393.7 1973,1393.7 1970,1393.7 1967,1393.7 1964,1393.7 1961,1393.7 1958,1393.7 1955,1393.6 1952,1393.6 1949,1393.6 1946,1393.6 1943,1393.6 1940,1393.6 1937,1393.6 1934,1393.6 1931,1393.5 1928,1393.5 1925,1393.5 1922,1393.5 1919,1393.5 1916,1393.5 1913,1393.5 1910,1393.5 1907,1393.4 1904,1393.4 1901,1393.4 1898,1393.4 1895,1393.4 1892,1393.4 1889,1393.4 1886,1393.4 1883,1393.3 1880,1393.3 1877,1393.3 1874,1393.3 1871,1393.3 1868,1393.3 1865,1393.3 1862,1393.3 1859,1393.3 1856,1393.2 1853,1393.2 1850,1393.2 1847,1393.2 1844,1393.2 1841,1393.2 1838,1393.2 1835,1393.2 1832,1393.1 1829,1393.1 1826,1393.1 1823,1393.1 1820,1393.1 1817,1393.1 1814,1393.1 1811,1393.1 1808,1393 1805,1393 1802,1393 1799,1393 1796,1393 1793,1393 1790,1393 1787,1393 1784,1393 1781,1392.9 1778,1392.9 1775,1392.9 1772,1392.9 1769,1392.9 1766,1392.9 1763,1392.9 1760,1392.9 1757,1392.8 1754,1392.8 1751,1392.8 1748,1392.8 1745,1392.8 1742,1392.8 1739,1392.8 1736,1392.8 1733,1392.7 1730,1392.7 1727,1392.7 1724,1392.7 1721,1392.7 1718,1392.7 1715,1392.7 1712,1392.7 1709,1392.7 1706,1392.6 1703,1392.6 1700,1392.6 1697,1392.6 1694,1392.6 1691,1392.6 1688,1392.6 1685,1392.6 1682,1392.5Z" fill="url(#g18)" stroke="none"/>
<path d="M1298,1389.4 1301,1389.5 1304,1389.5 1307,1389.5 1310,1389.5 1313,1389.5 1316,1389.5 1319,1389.5 1322,1389.5 1325,1389.5 1328,1389.6 1331,1389.6 1334,1389.6 1337,1389.6 1340,1389.6 1343,1389.6 1346,1389.6 1349,1389.6 1352,1389.7 1355,1389.7 1358,1389.7 1361,1389.7 1364,1389.7 1367,1389.7 1370,1389.7 1373,1389.7 1376,1389.7 1379,1389.8 1382,1389.8 1385,1389.8 1388,1389.8 1391,1389.8 1394,1389.8 1397,1389.8 1400,1389.8 1403,1389.8 1406,1389.9 1409,1389.9 1412,1389.9 1415,1389.9 1418,1389.9 1421,1389.9 1424,1389.9 1427,1389.9 1430,1389.9 1433,1390 1436,1390 1439,1390 1442,1390 1445,1390 1448,1390 1451,1390 1454,1390 1457,1390 1460,1390 1463,1390.1 1466,1390.1 1469,1390.1 1472,1390.1 1475,1390.1 1478,1390.1 1481,1390.1 1484,1390.1 1487,1390.1 1490,1390.2 1493,1390.2 1496,1390.2 1499,1390.2 1502,1390.2 1505,1390.2 1508,1390.2 1511,1390.2 1514,1390.2 1517,1390.2 1520,1390.3 1523,1390.3 1526,1390.3 1529,1390.3 1532,1390.3 1535,1390.3 1538,1390.3 1541,1390.3 1544,1390.3 1547,1390.3 1550,1390.3 1553,1390.4 1556,1390.4 1559,1390.4 1562,1390.4 1565,1390.4 1568,1390.4 1571,1390.4 1574,1390.4 1577,1390.4 1580,1390.4 1583,1390.4 1586,1390.4 1589,1390.5 1592,1390.5 1595,1390.5 1598,1390.5 1601,1390.5 1604,1390.5 1607,1390.5 1610,1390.5 1613,1390.5 1616,1390.5 1619,1390.5 1622,1390.5 1625,1390.5 1628,1390.5 1631,1390.5 1634,1390.5 1637,1390.5 1640,1390.5 1643,1390.5 1646,1390.5 1649,1390.5 1652,1390.5 1655,1390.5 1658,1390.5 1661,1390.5 1664,1390.4 1667,1390.4 1670,1390.4 1673,1390.3 1676,1390.3 1679,1390.2 1682,1390.2 1685,1390.1 1688,1390 1691,1389.9 1694,1389.8 1697,1389.7 1700,1389.5 1703,1389.3 1706,1389.1 1709,1388.9 1712,1388.7 1715,1388.4 1718,1388.1 1721,1387.7 1724,1387.4 1727,1386.9 1730,1386.5 1733,1385.9 1736,1385.4 1739,1384.7 1742,1384.1 1745,1383.3 1748,1382.5 1751,1381.6 1754,1380.7 1757,1379.7 1760,1378.6 1763,1377.4 1766,1376.1 1769,1374.8 1772,1373.4 1775,1371.9 1778,1370.3 1781,1368.7 1784,1367 1787,1365.2 1790,1363.3 1793,1361.4 1796,1359.4 1799,1357.4 1802,1355.3 1805,1353.2 1808,1351 1811,1348.8 1814,1346.7 1817,1344.5 1820,1342.3 1823,1340.2 1826,1338.1 1829,1336 1832,1334 1835,1332.1 1838,1330.2 1841,1328.5 1844,1326.9 1847,1325.4 1850,1324 1853,1322.7 1856,1321.7 1859,1320.8 1862,1320 1865,1319.4 1868,1319 1871,1318.8 1874,1318.8 1877,1319 1880,1319.3 1883,1319.9 1886,1320.6 1889,1321.5 1892,1322.5 1895,1323.7 1898,1325.1 1901,1326.6 1904,1328.2 1907,1329.9 1910,1331.8 1913,1333.7 1916,1335.7 1919,1337.7 1922,1339.9 1925,1342 1928,1344.2 1931,1346.4 1934,1348.6 1937,1350.8 1940,1353 1943,1355.1 1946,1357.3 1949,1359.3 1952,1361.4 1955,1363.3 1958,1365.2 1961,1367.1 1964,1368.8 1967,1370.5 1970,1372.2 1973,1373.7 1976,1375.2 1979,1376.5 1982,1377.9 1985,1379.1 1988,1380.2 1991,1381.3 1994,1382.3 1997,1383.2 2000,1384.1 2003,1384.9 2006,1385.6 2009,1386.3 2012,1386.9 2015,1387.4 2018,1388 2021,1388.4 2024,1388.8 2027,1389.2 2030,1389.6 2033,1389.9 2036,1390.2 2039,1390.4 2042,1390.6 2045,1390.8 2048,1391 2051,1391.2 2054,1391.3 2057,1391.4 2060,1391.6 2063,1391.7 2066,1391.8 2069,1391.8 2072,1391.9 2075,1392 2078,1392 2081,1392.1 2084,1392.1 2087,1392.2 2090,1392.2 2093,1392.3 2096,1392.3 2099,1392.3 2102,1392.4 2105,1392.4 2108,1392.4 2111,1392.4 2114,1392.5 2117,1392.5 2120,1392.5 2123,1392.5 2126,1392.6 2129,1392.6 2132,1392.6 2135,1392.6 2138,1392.6 2141,1392.6 2144,1392.7 2147,1392.7 2150,1392.7 2153,1392.7 2156,1392.7 2159,1392.7 2162,1392.8 2165,1392.8 2168,1392.8 2171,1392.8 2174,1392.8 2177,1392.8 2180,1392.9 2183,1392.9 2186,1392.9 2189,1392.9 2192,1392.9 2195,1392.9 2198,1392.9 2201,1393 2204,1393 2207,1393 2210,1393 2213,1393 2216,1393 2219,1393.1 2222,1393.1 2225,1393.1 2228,1393.1 2231,1393.1 2234,1393.1 2237,1393.1 2240,1393.2 2243,1393.2 2246,1393.2 2249,1393.2 2252,1393.2 2255,1393.2 2258,1393.2 2261,1393.3 2264,1393.3 2267,1393.3 2270,1393.3 2273,1393.3 2276,1393.3 2279,1393.3 2282,1393.3 2285,1393.4 2288,1393.4 2291,1393.4 2294,1393.4" fill="none" stroke="#008000" stroke-width="3.6" stroke-dasharray="7.5 9.5"/>
<path d="M1295,1388.1 1298,1388.2 1301,1388.2 1304,1388.2 1307,1388.2 1310,1388.2 1313,1388.2 1316,1388.2 1319,1388.2 1322,1388.2 1325,1388.2 1328,1388.2 1331,1388.2 1334,1388.2 1337,1388.3 1340,1388.3 1343,1388.3 1346,1388.3 1349,1388.3 1352,1388.3 1355,1388.3 1358,1388.3 1361,1388.3 1364,1388.3 1367,1388.3 1370,1388.3 1373,1388.3 1376,1388.3 1379,1388.3 1382,1388.4 1385,1388.4 1388,1388.4 1391,1388.4 1394,1388.4 1397,1388.4 1400,1388.4 1403,1388.4 1406,1388.4 1409,1388.4 1412,1388.4 1415,1388.4 1418,1388.4 1421,1388.4 1424,1388.4 1427,1388.4 1430,1388.4 1433,1388.4 1436,1388.4 1439,1388.4 1442,1388.3 1445,1388.3 1448,1388.3 1451,1388.3 1454,1388.3 1457,1388.2 1460,1388.2 1463,1388.2 1466,1388.1 1469,1388.1 1472,1388 1475,1388 1478,1387.9 1481,1387.8 1484,1387.7 1487,1387.6 1490,1387.5 1493,1387.3 1496,1387.2 1499,1387 1502,1386.8 1505,1386.6 1508,1386.4 1511,1386.1 1514,1385.8 1517,1385.5 1520,1385.2 1523,1384.8 1526,1384.4 1529,1384 1532,1383.5 1535,1383 1538,1382.4 1541,1381.8 1544,1381.2 1547,1380.5 1550,1379.7 1553,1379 1556,1378.1 1559,1377.3 1562,1376.3 1565,1375.4 1568,1374.4 1571,1373.3 1574,1372.2 1577,1371.1 1580,1369.9 1583,1368.7 1586,1367.4 1589,1366.2 1592,1364.9 1595,1363.6 1598,1362.2 1601,1360.9 1604,1359.5 1607,1358.2 1610,1356.8 1613,1355.5 1616,1354.2 1619,1353 1622,1351.7 1625,1350.5 1628,1349.4 1631,1348.3 1634,1347.2 1637,1346.3 1640,1345.4 1643,1344.6 1646,1343.9 1649,1343.2 1652,1342.7 1655,1342.3 1658,1341.9 1661,1341.7 1664,1341.6 1667,1341.5 1670,1341.6 1673,1341.8 1676,1342.1 1679,1342.4 1682,1342.9 1685,1343.4 1688,1344 1691,1344.7 1694,1345.5 1697,1346.3 1700,1347.1 1703,1348 1706,1348.9 1709,1349.9 1712,1350.8 1715,1351.8 1718,1352.7 1721,1353.6 1724,1354.5 1727,1355.3 1730,1356.1 1733,1356.9 1736,1357.6 1739,1358.2 1742,1358.7 1745,1359.1 1748,1359.4 1751,1359.6 1754,1359.7 1757,1359.7 1760,1359.6 1763,1359.4 1766,1359 1769,1358.5 1772,1357.8 1775,1357.1 1778,1356.2 1781,1355.2 1784,1354 1787,1352.8 1790,1351.4 1793,1349.9 1796,1348.3 1799,1346.6 1802,1344.9 1805,1343 1808,1341.1 1811,1339.1 1814,1337.1 1817,1335 1820,1333 1823,1330.8 1826,1328.7 1829,1326.6 1832,1324.5 1835,1322.5 1838,1320.4 1841,1318.4 1844,1316.5 1847,1314.6 1850,1312.8 1853,1311 1856,1309.4 1859,1307.8 1862,1306.2 1865,1304.8 1868,1303.4 1871,1302 1874,1300.8 1877,1299.5 1880,1298.3 1883,1297.1 1886,1296 1889,1294.8 1892,1293.6 1895,1292.3 1898,1291.1 1901,1289.7 1904,1288.3 1907,1286.7 1910,1285 1913,1283.2 1916,1281.3 1919,1279.2 1922,1276.9 1925,1274.5 1928,1271.8 1931,1269 1934,1266.1 1937,1262.9 1940,1259.5 1943,1256 1946,1252.3 1949,1248.5 1952,1244.5 1955,1240.4 1958,1236.3 1961,1232 1964,1227.7 1967,1223.4 1970,1219.1 1973,1214.9 1976,1210.7 1979,1206.6 1982,1202.7 1985,1199 1988,1195.4 1991,1192.2 1994,1189.2 1997,1186.5 2000,1184.2 2003,1182.2 2006,1180.7 2009,1179.5 2012,1178.9 2015,1178.6 2018,1178.9 2021,1179.6 2024,1180.7 2027,1182.4 2030,1184.5 2033,1187 2036,1190 2039,1193.4 2042,1197.1 2045,1201.3 2048,1205.7 2051,1210.5 2054,1215.5 2057,1220.8 2060,1226.3 2063,1231.9 2066,1237.7 2069,1243.6 2072,1249.6 2075,1255.6 2078,1261.7 2081,1267.7 2084,1273.8 2087,1279.7 2090,1285.6 2093,1291.4 2096,1297 2099,1302.5 2102,1307.9 2105,1313.1 2108,1318.1 2111,1323 2114,1327.6 2117,1332.1 2120,1336.3 2123,1340.3 2126,1344.1 2129,1347.8 2132,1351.2 2135,1354.4 2138,1357.4 2141,1360.2 2144,1362.8 2147,1365.2 2150,1367.5 2153,1369.6 2156,1371.5 2159,1373.3 2162,1374.9 2165,1376.4 2168,1377.8 2171,1379.1 2174,1380.2 2177,1381.3 2180,1382.2 2183,1383.1 2186,1383.8 2189,1384.5 2192,1385.2 2195,1385.7 2198,1386.2 2201,1386.7 2204,1387.1 2207,1387.5 2210,1387.8 2213,1388.1 2216,1388.4 2219,1388.6 2222,1388.9 2225,1389.1 2228,1389.2 2231,1389.4 2234,1389.5 2237,1389.7 2240,1389.8 2243,1389.9 2246,1390 2249,1390.1 2252,1390.2 2255,1390.3 2258,1390.4 2261,1390.4 2264,1390.5 2267,1390.6 2270,1390.6 2273,1390.7 2276,1390.7 2279,1390.8 2282,1390.8 2285,1390.9 2288,1390.9 2291,1391" fill="none" stroke="#555555" stroke-width="2"/>
<path d="M1298,1389.1 1301,1389.2 1304,1389.2 1307,1389.2 1310,1389.2 1313,1389.2 1316,1389.2 1319,1389.2 1322,1389.2 1325,1389.2 1328,1389.2 1331,1389.2 1334,1389.2 1337,1389.2 1340,1389.3 1343,1389.3 1346,1389.3 1349,1389.3 1352,1389.3 1355,1389.3 1358,1389.3 1361,1389.3 1364,1389.3 1367,1389.3 1370,1389.3 1373,1389.3 1376,1389.3 1379,1389.3 1382,1389.3 1385,1389.4 1388,1389.4 1391,1389.4 1394,1389.4 1397,1389.4 1400,1389.4 1403,1389.4 1406,1389.4 1409,1389.4 1412,1389.4 1415,1389.4 1418,1389.4 1421,1389.4 1424,1389.4 1427,1389.4 1430,1389.4 1433,1389.4 1436,1389.4 1439,1389.4 1442,1389.4 1445,1389.3 1448,1389.3 1451,1389.3 1454,1389.3 1457,1389.3 1460,1389.2 1463,1389.2 1466,1389.2 1469,1389.1 1472,1389.1 1475,1389 1478,1389 1481,1388.9 1484,1388.8 1487,1388.7 1490,1388.6 1493,1388.5 1496,1388.3 1499,1388.2 1502,1388 1505,1387.8 1508,1387.6 1511,1387.4 1514,1387.1 1517,1386.8 1520,1386.5 1523,1386.2 1526,1385.8 1529,1385.4 1532,1385 1535,1384.5 1538,1384 1541,1383.4 1544,1382.8 1547,1382.2 1550,1381.5 1553,1380.7 1556,1380 1559,1379.1 1562,1378.3 1565,1377.3 1568,1376.4 1571,1375.4 1574,1374.3 1577,1373.2 1580,1372.1 1583,1370.9 1586,1369.7 1589,1368.4 1592,1367.2 1595,1365.9 1598,1364.6 1601,1363.2 1604,1361.9 1607,1360.5 1610,1359.2 1613,1357.8 1616,1356.5 1619,1355.2 1622,1354 1625,1352.7 1628,1351.5 1631,1350.4 1634,1349.3 1637,1348.2 1640,1347.3 1643,1346.4 1646,1345.6 1649,1344.9 1652,1344.2 1655,1343.7 1658,1343.3 1661,1342.9 1664,1342.7 1667,1342.6 1670,1342.5 1673,1342.6 1676,1342.8 1679,1343.1 1682,1343.4 1685,1343.9 1688,1344.4 1691,1345 1694,1345.7 1697,1346.5 1700,1347.3 1703,1348.1 1706,1349 1709,1349.9 1712,1350.9 1715,1351.8 1718,1352.8 1721,1353.7 1724,1354.6 1727,1355.5 1730,1356.3 1733,1357.1 1736,1357.9 1739,1358.6 1742,1359.2 1745,1359.7 1748,1360.1 1751,1360.4 1754,1360.6 1757,1360.7 1760,1360.7 1763,1360.6 1766,1360.4 1769,1360 1772,1359.5 1775,1358.8 1778,1358.1 1781,1357.2 1784,1356.2 1787,1355 1790,1353.8 1793,1352.4 1796,1350.9 1799,1349.3 1802,1347.6 1805,1345.9 1808,1344 1811,1342.1 1814,1340.1 1817,1338.1 1820,1336 1823,1334 1826,1331.8 1829,1329.7 1832,1327.6 1835,1325.5 1838,1323.5 1841,1321.4 1844,1319.4 1847,1317.5 1850,1315.6 1853,1313.8 1856,1312 1859,1310.4 1862,1308.8 1865,1307.2 1868,1305.8 1871,1304.4 1874,1303 1877,1301.8 1880,1300.5 1883,1299.3 1886,1298.1 1889,1297 1892,1295.8 1895,1294.6 1898,1293.3 1901,1292.1 1904,1290.7 1907,1289.3 1910,1287.7 1913,1286 1916,1284.2 1919,1282.3 1922,1280.2 1925,1277.9 1928,1275.5 1931,1272.8 1934,1270 1937,1267.1 1940,1263.9 1943,1260.5 1946,1257 1949,1253.3 1952,1249.5 1955,1245.5 1958,1241.4 1961,1237.3 1964,1233 1967,1228.7 1970,1224.4 1973,1220.1 1976,1215.9 1979,1211.7 1982,1207.6 1985,1203.7 1988,1200 1991,1196.4 1994,1193.2 1997,1190.2 2000,1187.5 2003,1185.2 2006,1183.2 2009,1181.7 2012,1180.5 2015,1179.9 2018,1179.6 2021,1179.9 2024,1180.6 2027,1181.7 2030,1183.4 2033,1185.5 2036,1188 2039,1191 2042,1194.4 2045,1198.1 2048,1202.3 2051,1206.7 2054,1211.5 2057,1216.5 2060,1221.8 2063,1227.3 2066,1232.9 2069,1238.7 2072,1244.6 2075,1250.6 2078,1256.6 2081,1262.7 2084,1268.7 2087,1274.8 2090,1280.7 2093,1286.6 2096,1292.4 2099,1298 2102,1303.5 2105,1308.9 2108,1314.1 2111,1319.1 2114,1324 2117,1328.6 2120,1333.1 2123,1337.3 2126,1341.3 2129,1345.1 2132,1348.8 2135,1352.2 2138,1355.4 2141,1358.4 2144,1361.2 2147,1363.8 2150,1366.2 2153,1368.5 2156,1370.6 2159,1372.5 2162,1374.3 2165,1375.9 2168,1377.4 2171,1378.8 2174,1380.1 2177,1381.2 2180,1382.3 2183,1383.2 2186,1384.1 2189,1384.8 2192,1385.5 2195,1386.2 2198,1386.7 2201,1387.2 2204,1387.7 2207,1388.1 2210,1388.5 2213,1388.8 2216,1389.1 2219,1389.4 2222,1389.6 2225,1389.9 2228,1390.1 2231,1390.2 2234,1390.4 2237,1390.5 2240,1390.7 2243,1390.8 2246,1390.9 2249,1391 2252,1391.1 2255,1391.2 2258,1391.3 2261,1391.4 2264,1391.4 2267,1391.5 2270,1391.6 2273,1391.6 2276,1391.7 2279,1391.7 2282,1391.8 2285,1391.8 2288,1391.9 2291,1391.9 2294,1392" fill="none" stroke="#8000ff" stroke-width="2.4"/>
<path d="M1733,1719 1736,1719 1739,1719 1742,1718.9 1745,1718.9 1748,1718.9 1751,1718.8 1754,1718.8 1757,1718.8 1760,1718.7 1763,1718.7 1766,1718.6 1769,1718.5 1772,1718.5 1775,1718.4 1778,1718.3 1781,1718.2 1784,1718 1787,1717.9 1790,1717.7 1793,1717.6 1796,1717.4 1799,1717.1 1802,1716.9 1805,1716.6 1808,1716.3 1811,1716 1814,1715.6 1817,1715.2 1820,1714.8 1823,1714.3 1826,1713.8 1829,1713.2 1832,1712.5 1835,1711.8 1838,1711.1 1841,1710.2 1844,1709.3 1847,1708.3 1850,1707.3 1853,1706.1 1856,1704.9 1859,1703.5 1862,1702.1 1865,1700.6 1868,1698.9 1871,1697.2 1874,1695.3 1877,1693.3 1880,1691.2 1883,1688.9 1886,1686.6 1889,1684.1 1892,1681.4 1895,1678.7 1898,1675.8 1901,1672.7 1904,1669.6 1907,1666.3 1910,1662.8 1913,1659.3 1916,1655.6 1919,1651.8 1922,1647.9 1925,1643.9 1928,1639.9 1931,1635.7 1934,1631.4 1937,1627.1 1940,1622.7 1943,1618.3 1946,1613.9 1949,1609.4 1952,1605 1955,1600.5 1958,1596.1 1961,1591.8 1964,1587.5 1967,1583.2 1970,1579.1 1973,1575.1 1976,1571.2 1979,1567.5 1982,1564 1985,1560.6 1988,1557.4 1991,1554.5 1994,1551.8 1997,1549.3 2000,1547.1 2003,1545.2 2006,1543.5 2009,1542.1 2012,1541.1 2015,1540.3 2018,1539.8 2021,1539.7 2024,1539.8 2027,1540.3 2030,1541.1 2033,1542.2 2036,1543.6 2039,1545.3 2042,1547.2 2045,1549.5 2048,1551.9 2051,1554.7 2054,1557.6 2057,1560.8 2060,1564.2 2063,1567.8 2066,1571.5 2069,1575.4 2072,1579.4 2075,1583.6 2078,1587.8 2081,1592.1 2084,1596.5 2087,1600.9 2090,1605.4 2093,1609.9 2096,1614.3 2099,1618.8 2102,1623.2 2105,1627.6 2108,1631.9 2111,1636.2 2114,1640.4 2117,1644.5 2120,1648.5 2123,1652.4 2126,1656.2 2129,1659.9 2132,1663.5 2135,1666.9 2138,1670.3 2141,1673.4 2144,1676.5 2147,1679.4 2150,1682.2 2153,1684.9 2156,1687.4 2159,1689.8 2162,1692 2165,1694.2 2168,1696.2 2171,1698.1 2174,1699.8 2177,1701.5 2180,1703.1 2183,1704.5 2186,1705.9 2189,1707.1 2192,1708.3 2195,1709.4 2198,1710.4 2201,1711.3 2204,1712.2 2207,1713 2210,1713.7 2213,1714.3 2216,1714.9 2219,1715.5 2222,1716 2225,1716.5 2228,1716.9 2231,1717.3 2234,1717.6 2237,1717.9 2240,1718.2 2243,1718.5 2246,1718.7 2249,1718.9 2252,1719.1 2255,1719.3 2258,1719.5 2261,1719.6 2264,1719.7 2267,1719.8 2270,1720 2273,1720 2276,1720.1 2279,1720.2 2282,1720.3 2285,1720.4 2288,1720.4 2291,1720.5 2294,1720.5 2294,1723 2291,1723 2288,1723 2285,1723 2282,1723 2279,1723 2276,1722.9 2273,1722.9 2270,1722.9 2267,1722.9 2264,1722.9 2261,1722.9 2258,1722.9 2255,1722.9 2252,1722.9 2249,1722.9 2246,1722.9 2243,1722.8 2240,1722.8 2237,1722.8 2234,1722.8 2231,1722.8 2228,1722.8 2225,1722.8 2222,1722.8 2219,1722.8 2216,1722.8 2213,1722.8 2210,1722.7 2207,1722.7 2204,1722.7 2201,1722.7 2198,1722.7 2195,1722.7 2192,1722.7 2189,1722.7 2186,1722.7 2183,1722.7 2180,1722.7 2177,1722.6 2174,1722.6 2171,1722.6 2168,1722.6 2165,1722.6 2162,1722.6 2159,1722.6 2156,1722.6 2153,1722.6 2150,1722.6 2147,1722.6 2144,1722.5 2141,1722.5 2138,1722.5 2135,1722.5 2132,1722.5 2129,1722.5 2126,1722.5 2123,1722.5 2120,1722.5 2117,1722.5 2114,1722.5 2111,1722.4 2108,1722.4 2105,1722.4 2102,1722.4 2099,1722.4 2096,1722.4 2093,1722.4 2090,1722.4 2087,1722.4 2084,1722.4 2081,1722.4 2078,1722.3 2075,1722.3 2072,1722.3 2069,1722.3 2066,1722.3 2063,1722.3 2060,1722.3 2057,1722.3 2054,1722.3 2051,1722.3 2048,1722.3 2045,1722.2 2042,1722.2 2039,1722.2 2036,1722.2 2033,1722.2 2030,1722.2 2027,1722.2 2024,1722.2 2021,1722.2 2018,1722.2 2015,1722.2 2012,1722.2 2009,1722.1 2006,1722.1 2003,1722.1 2000,1722.1 1997,1722.1 1994,1722.1 1991,1722.1 1988,1722.1 1985,1722.1 1982,1722.1 1979,1722.1 1976,1722 1973,1722 1970,1722 1967,1722 1964,1722 1961,1722 1958,1722 1955,1722 1952,1722 1949,1722 1946,1722 1943,1721.9 1940,1721.9 1937,1721.9 1934,1721.9 1931,1721.9 1928,1721.9 1925,1721.9 1922,1721.9 1919,1721.9 1916,1721.9 1913,1721.9 1910,1721.8 1907,1721.8 1904,1721.8 1901,1721.8 1898,1721.8 1895,1721.8 1892,1721.8 1889,1721.8 1886,1721.8 1883,1721.8 1880,1721.8 1877,1721.7 1874,1721.7 1871,1721.7 1868,1721.7 1865,1721.7 1862,1721.7 1859,1721.7 1856,1721.7 1853,1721.7 1850,1721.7 1847,1721.7 1844,1721.6 1841,1721.6 1838,1721.6 1835,1721.6 1832,1721.6 1829,1721.6 1826,1721.6 1823,1721.6 1820,1721.6 1817,1721.6 1814,1721.6 1811,1721.5 1808,1721.5 1805,1721.5 1802,1721.5 1799,1721.5 1796,1721.5 1793,1721.5 1790,1721.5 1787,1721.5 1784,1721.5 1781,1721.5 1778,1721.4 1775,1721.4 1772,1721.4 1769,1721.4 1766,1721.4 1763,1721.4 1760,1721.4 1757,1721.4 1754,1721.4 1751,1721.4 1748,1721.4 1745,1721.3 1742,1721.3 1739,1721.3 1736,1721.3 1733,1721.3Z" fill="url(#g19)" stroke="none"/>
<path d="M1391,1717.9 1394,1717.9 1397,1717.8 1400,1717.7 1403,1717.7 1406,1717.6 1409,1717.5 1412,1717.4 1415,1717.3 1418,1717.1 1421,1717 1424,1716.8 1427,1716.7 1430,1716.5 1433,1716.3 1436,1716.1 1439,1715.9 1442,1715.6 1445,1715.4 1448,1715.1 1451,1714.8 1454,1714.5 1457,1714.1 1460,1713.8 1463,1713.4 1466,1713 1469,1712.6 1472,1712.1 1475,1711.6 1478,1711.1 1481,1710.6 1484,1710 1487,1709.5 1490,1708.9 1493,1708.2 1496,1707.6 1499,1706.9 1502,1706.2 1505,1705.4 1508,1704.7 1511,1703.9 1514,1703.1 1517,1702.2 1520,1701.4 1523,1700.5 1526,1699.6 1529,1698.7 1532,1697.8 1535,1696.9 1538,1695.9 1541,1695 1544,1694 1547,1693.1 1550,1692.1 1553,1691.1 1556,1690.2 1559,1689.3 1562,1688.3 1565,1687.4 1568,1686.5 1571,1685.6 1574,1684.8 1577,1683.9 1580,1683.1 1583,1682.4 1586,1681.6 1589,1680.9 1592,1680.3 1595,1679.7 1598,1679.1 1601,1678.6 1604,1678.1 1607,1677.7 1610,1677.4 1613,1677.1 1616,1676.8 1619,1676.7 1622,1676.5 1625,1676.5 1628,1676.5 1631,1676.6 1634,1676.7 1637,1676.9 1640,1677.2 1643,1677.5 1646,1677.8 1649,1678.3 1652,1678.7 1655,1679.3 1658,1679.8 1661,1680.5 1664,1681.1 1667,1681.9 1670,1682.6 1673,1683.4 1676,1684.2 1679,1685.1 1682,1685.9 1685,1686.8 1688,1687.8 1691,1688.7 1694,1689.7 1697,1690.6 1700,1691.6 1703,1692.6 1706,1693.5 1709,1694.5 1712,1695.5 1715,1696.5 1718,1697.4 1721,1698.4 1724,1699.3 1727,1700.2 1730,1701.1 1733,1702 1736,1702.9 1739,1703.7 1742,1704.6 1745,1705.4 1748,1706.2 1751,1706.9 1754,1707.6 1757,1708.3 1760,1709 1763,1709.7 1766,1710.3 1769,1710.9 1772,1711.5 1775,1712 1778,1712.5 1781,1713 1784,1713.5 1787,1714 1790,1714.4 1793,1714.8 1796,1715.2 1799,1715.5 1802,1715.9 1805,1716.2 1808,1716.5 1811,1716.7 1814,1717 1817,1717.2 1820,1717.5 1823,1717.7 1826,1717.9 1829,1718.1 1832,1718.2 1835,1718.4 1838,1718.5 1841,1718.7 1844,1718.8 1847,1718.9 1850,1719 1853,1719.1 1856,1719.2 1859,1719.3 1862,1719.4 1862,1721.7 1859,1721.7 1856,1721.7 1853,1721.7 1850,1721.7 1847,1721.7 1844,1721.6 1841,1721.6 1838,1721.6 1835,1721.6 1832,1721.6 1829,1721.6 1826,1721.6 1823,1721.6 1820,1721.6 1817,1721.6 1814,1721.6 1811,1721.5 1808,1721.5 1805,1721.5 1802,1721.5 1799,1721.5 1796,1721.5 1793,1721.5 1790,1721.5 1787,1721.5 1784,1721.5 1781,1721.5 1778,1721.4 1775,1721.4 1772,1721.4 1769,1721.4 1766,1721.4 1763,1721.4 1760,1721.4 1757,1721.4 1754,1721.4 1751,1721.4 1748,1721.4 1745,1721.3 1742,1721.3 1739,1721.3 1736,1721.3 1733,1721.3 1730,1721.3 1727,1721.3 1724,1721.3 1721,1721.3 1718,1721.3 1715,1721.3 1712,1721.2 1709,1721.2 1706,1721.2 1703,1721.2 1700,1721.2 1697,1721.2 1694,1721.2 1691,1721.2 1688,1721.2 1685,1721.2 1682,1721.2 1679,1721.1 1676,1721.1 1673,1721.1 1670,1721.1 1667,1721.1 1664,1721.1 1661,1721.1 1658,1721.1 1655,1721.1 1652,1721.1 1649,1721.1 1646,1721 1643,1721 1640,1721 1637,1721 1634,1721 1631,1721 1628,1721 1625,1721 1622,1721 1619,1721 1616,1721 1613,1720.9 1610,1720.9 1607,1720.9 1604,1720.9 1601,1720.9 1598,1720.9 1595,1720.9 1592,1720.9 1589,1720.9 1586,1720.9 1583,1720.9 1580,1720.8 1577,1720.8 1574,1720.8 1571,1720.8 1568,1720.8 1565,1720.8 1562,1720.8 1559,1720.8 1556,1720.8 1553,1720.8 1550,1720.8 1547,1720.8 1544,1720.7 1541,1720.7 1538,1720.7 1535,1720.7 1532,1720.7 1529,1720.7 1526,1720.7 1523,1720.7 1520,1720.7 1517,1720.7 1514,1720.7 1511,1720.6 1508,1720.6 1505,1720.6 1502,1720.6 1499,1720.6 1496,1720.6 1493,1720.6 1490,1720.6 1487,1720.6 1484,1720.6 1481,1720.6 1478,1720.5 1475,1720.5 1472,1720.5 1469,1720.5 1466,1720.5 1463,1720.5 1460,1720.5 1457,1720.5 1454,1720.5 1451,1720.5 1448,1720.5 1445,1720.4 1442,1720.4 1439,1720.4 1436,1720.4 1433,1720.4 1430,1720.4 1427,1720.4 1424,1720.4 1421,1720.4 1418,1720.4 1415,1720.4 1412,1720.3 1409,1720.3 1406,1720.3 1403,1720.3 1400,1720.3 1397,1720.3 1394,1720.3 1391,1720.3Z" fill="url(#g20)" stroke="none"/>
<path d="M1298,1721 1301,1721 1304,1721 1307,1721 1310,1721 1313,1721 1316,1721.1 1319,1721.1 1322,1721.1 1325,1721.1 1328,1721.1 1331,1721.1 1334,1721.1 1337,1721.1 1340,1721.1 1343,1721.1 1346,1721.1 1349,1721.2 1352,1721.2 1355,1721.2 1358,1721.2 1361,1721.2 1364,1721.2 1367,1721.2 1370,1721.2 1373,1721.2 1376,1721.2 1379,1721.2 1382,1721.3 1385,1721.3 1388,1721.3 1391,1721.3 1394,1721.3 1397,1721.3 1400,1721.3 1403,1721.3 1406,1721.3 1409,1721.3 1412,1721.3 1415,1721.4 1418,1721.4 1421,1721.4 1424,1721.4 1427,1721.4 1430,1721.4 1433,1721.4 1436,1721.4 1439,1721.4 1442,1721.4 1445,1721.4 1448,1721.5 1451,1721.5 1454,1721.5 1457,1721.5 1460,1721.5 1463,1721.5 1466,1721.5 1469,1721.5 1472,1721.5 1475,1721.5 1478,1721.5 1481,1721.6 1484,1721.6 1487,1721.6 1490,1721.6 1493,1721.6 1496,1721.6 1499,1721.6 1502,1721.6 1505,1721.6 1508,1721.6 1511,1721.6 1514,1721.7 1517,1721.7 1520,1721.7 1523,1721.7 1526,1721.7 1529,1721.7 1532,1721.7 1535,1721.7 1538,1721.7 1541,1721.7 1544,1721.7 1547,1721.8 1550,1721.8 1553,1721.8 1556,1721.8 1559,1721.8 1562,1721.8 1565,1721.8 1568,1721.8 1571,1721.8 1574,1721.8 1577,1721.8 1580,1721.8 1583,1721.9 1586,1721.9 1589,1721.9 1592,1721.9 1595,1721.9 1598,1721.9 1601,1721.9 1604,1721.9 1607,1721.9 1610,1721.9 1613,1721.9 1616,1722 1619,1722 1622,1722 1625,1722 1628,1722 1631,1722 1634,1722 1637,1722 1640,1722 1643,1722 1646,1722 1649,1722.1 1652,1722.1 1655,1722.1 1658,1722.1 1661,1722.1 1664,1722.1 1667,1722.1 1670,1722.1 1673,1722.1 1676,1722.1 1679,1722.1 1682,1722.2 1685,1722.2 1688,1722.2 1691,1722.2 1694,1722.2 1697,1722.2 1700,1722.2 1703,1722.2 1706,1722.2 1709,1722.2 1712,1722.2 1715,1722.3 1718,1722.3 1721,1722.3 1724,1722.3 1727,1722.3 1730,1722.3 1733,1722.3 1736,1722.3 1739,1722.3 1742,1722.3 1745,1722.3 1748,1722.4 1751,1722.4 1754,1722.4 1757,1722.4 1760,1722.4 1763,1722.4 1766,1722.4 1769,1722.4 1772,1722.4 1775,1722.4 1778,1722.4 1781,1722.5 1784,1722.5 1787,1722.5 1790,1722.5 1793,1722.5 1796,1722.5 1799,1722.5 1802,1722.5 1805,1722.5 1808,1722.5 1811,1722.5 1814,1722.6 1817,1722.6 1820,1722.6 1823,1722.6 1826,1722.6 1829,1722.6 1832,1722.6 1835,1722.6 1838,1722.6 1841,1722.6 1844,1722.6 1847,1722.7 1850,1722.7 1853,1722.7 1856,1722.7 1859,1722.7 1862,1722.7 1865,1722.7 1868,1722.7 1871,1722.7 1874,1722.7 1877,1722.7 1880,1722.8 1883,1722.8 1886,1722.8 1889,1722.8 1892,1722.8 1895,1722.8 1898,1722.8 1901,1722.8 1904,1722.8 1907,1722.8 1910,1722.8 1913,1722.9 1916,1722.9 1919,1722.9 1922,1722.9 1925,1722.9 1928,1722.9 1931,1722.9 1934,1722.9 1937,1722.9 1940,1722.9 1943,1722.9 1946,1723 1949,1723 1952,1723 1955,1723 1958,1723 1961,1723 1964,1723 1967,1723 1970,1723 1973,1723 1976,1723 1979,1723.1 1982,1723.1 1985,1723.1 1988,1723.1 1991,1723.1 1994,1723.1 1997,1723.1 2000,1723.1 2003,1723.1 2006,1723.1 2009,1723.1 2012,1723.2 2015,1723.2 2018,1723.2 2021,1723.2 2024,1723.2 2027,1723.2 2030,1723.2 2033,1723.2 2036,1723.2 2039,1723.2 2042,1723.2 2045,1723.2 2048,1723.3 2051,1723.3 2054,1723.3 2057,1723.3 2060,1723.3 2063,1723.3 2066,1723.3 2069,1723.3 2072,1723.3 2075,1723.3 2078,1723.3 2081,1723.4 2084,1723.4 2087,1723.4 2090,1723.4 2093,1723.4 2096,1723.4 2099,1723.4 2102,1723.4 2105,1723.4 2108,1723.4 2111,1723.4 2114,1723.5 2117,1723.5 2120,1723.5 2123,1723.5 2126,1723.5 2129,1723.5 2132,1723.5 2135,1723.5 2138,1723.5 2141,1723.5 2144,1723.5 2147,1723.6 2150,1723.6 2153,1723.6 2156,1723.6 2159,1723.6 2162,1723.6 2165,1723.6 2168,1723.6 2171,1723.6 2174,1723.6 2177,1723.6 2180,1723.7 2183,1723.7 2186,1723.7 2189,1723.7 2192,1723.7 2195,1723.7 2198,1723.7 2201,1723.7 2204,1723.7 2207,1723.7 2210,1723.7 2213,1723.8 2216,1723.8 2219,1723.8 2222,1723.8 2225,1723.8 2228,1723.8 2231,1723.8 2234,1723.8 2237,1723.8 2240,1723.8 2243,1723.8 2246,1723.9 2249,1723.9 2252,1723.9 2255,1723.9 2258,1723.9 2261,1723.9 2264,1723.9 2267,1723.9 2270,1723.9 2273,1723.9 2276,1723.9 2279,1724 2282,1724 2285,1724 2288,1724 2291,1724 2294,1724" fill="none" stroke="#008000" stroke-width="4" stroke-dasharray="8 10"/>
<path d="M1298,1722.5 1301,1722.5 1304,1722.5 1307,1722.5 1310,1722.5 1313,1722.5 1316,1722.6 1319,1722.6 1322,1722.6 1325,1722.6 1328,1722.6 1331,1722.6 1334,1722.6 1337,1722.6 1340,1722.6 1343,1722.6 1346,1722.6 1349,1722.7 1352,1722.7 1355,1722.7 1358,1722.7 1361,1722.7 1364,1722.7 1367,1722.7 1370,1722.7 1373,1722.7 1376,1722.7 1379,1722.7 1382,1722.8 1385,1722.8 1388,1722.8 1391,1722.8 1394,1722.8 1397,1722.8 1400,1722.8 1403,1722.8 1406,1722.8 1409,1722.8 1412,1722.8 1415,1722.9 1418,1722.9 1421,1722.9 1424,1722.9 1427,1722.9 1430,1722.9 1433,1722.9 1436,1722.9 1439,1722.9 1442,1722.9 1445,1722.9 1448,1723 1451,1723 1454,1723 1457,1723 1460,1723 1463,1723 1466,1723 1469,1723 1472,1723 1475,1723 1478,1723 1481,1723.1 1484,1723.1 1487,1723.1 1490,1723.1 1493,1723.1 1496,1723.1 1499,1723.1 1502,1723.1 1505,1723.1 1508,1723.1 1511,1723.1 1514,1723.2 1517,1723.2 1520,1723.2 1523,1723.2 1526,1723.2 1529,1723.2 1532,1723.2 1535,1723.2 1538,1723.2 1541,1723.2 1544,1723.2 1547,1723.2 1550,1723.3 1553,1723.3 1556,1723.3 1559,1723.3 1562,1723.3 1565,1723.3 1568,1723.3 1571,1723.3 1574,1723.3 1577,1723.3 1580,1723.3 1583,1723.4 1586,1723.4 1589,1723.4 1592,1723.4 1595,1723.4 1598,1723.4 1601,1723.4 1604,1723.4 1607,1723.4 1610,1723.4 1613,1723.4 1616,1723.5 1619,1723.5 1622,1723.5 1625,1723.5 1628,1723.5 1631,1723.5 1634,1723.5 1637,1723.5 1640,1723.5 1643,1723.5 1646,1723.5 1649,1723.6 1652,1723.6 1655,1723.6 1658,1723.6 1661,1723.6 1664,1723.6 1667,1723.6 1670,1723.6 1673,1723.6 1676,1723.6 1679,1723.6 1682,1723.7 1685,1723.7 1688,1723.7 1691,1723.7 1694,1723.7 1697,1723.7 1700,1723.7 1703,1723.7 1706,1723.7 1709,1723.7 1712,1723.7 1715,1723.8 1718,1723.8 1721,1723.8 1724,1723.8 1727,1723.8 1730,1723.8 1733,1723.8 1736,1723.8 1739,1723.8 1742,1723.8 1745,1723.8 1748,1723.9 1751,1723.9 1754,1723.9 1757,1723.9 1760,1723.9 1763,1723.9 1766,1723.9 1769,1723.9 1772,1723.9 1775,1723.9 1778,1723.9 1781,1724 1784,1724 1787,1724 1790,1724 1793,1724 1796,1724 1799,1724 1802,1724 1805,1724 1808,1724 1811,1724 1814,1724.1 1817,1724.1 1820,1724.1 1823,1724.1 1826,1724.1 1829,1724.1 1832,1724.1 1835,1724.1 1838,1724.1 1841,1724.1 1844,1724.1 1847,1724.2 1850,1724.2 1853,1724.2 1856,1724.2 1859,1724.2 1862,1724.2 1865,1724.2 1868,1724.2 1871,1724.2 1874,1724.2 1877,1724.2 1880,1724.3 1883,1724.3 1886,1724.3 1889,1724.3 1892,1724.3 1895,1724.3 1898,1724.3 1901,1724.3 1904,1724.3 1907,1724.3 1910,1724.3 1913,1724.4 1916,1724.4 1919,1724.4 1922,1724.4 1925,1724.4 1928,1724.4 1931,1724.4 1934,1724.4 1937,1724.4 1940,1724.4 1943,1724.4 1946,1724.5 1949,1724.5 1952,1724.5 1955,1724.5 1958,1724.5 1961,1724.5 1964,1724.5 1967,1724.5 1970,1724.5 1973,1724.5 1976,1724.5 1979,1724.6 1982,1724.6 1985,1724.6 1988,1724.6 1991,1724.6 1994,1724.6 1997,1724.6 2000,1724.6 2003,1724.6 2006,1724.6 2009,1724.6 2012,1724.7 2015,1724.7 2018,1724.7 2021,1724.7 2024,1724.7 2027,1724.7 2030,1724.7 2033,1724.7 2036,1724.7 2039,1724.7 2042,1724.7 2045,1724.8 2048,1724.8 2051,1724.8 2054,1724.8 2057,1724.8 2060,1724.8 2063,1724.8 2066,1724.8 2069,1724.8 2072,1724.8 2075,1724.8 2078,1724.8 2081,1724.9 2084,1724.9 2087,1724.9 2090,1724.9 2093,1724.9 2096,1724.9 2099,1724.9 2102,1724.9 2105,1724.9 2108,1724.9 2111,1724.9 2114,1725 2117,1725 2120,1725 2123,1725 2126,1725 2129,1725 2132,1725 2135,1725 2138,1725 2141,1725 2144,1725 2147,1725.1 2150,1725.1 2153,1725.1 2156,1725.1 2159,1725.1 2162,1725.1 2165,1725.1 2168,1725.1 2171,1725.1 2174,1725.1 2177,1725.1 2180,1725.2 2183,1725.2 2186,1725.2 2189,1725.2 2192,1725.2 2195,1725.2 2198,1725.2 2201,1725.2 2204,1725.2 2207,1725.2 2210,1725.2 2213,1725.3 2216,1725.3 2219,1725.3 2222,1725.3 2225,1725.3 2228,1725.3 2231,1725.3 2234,1725.3 2237,1725.3 2240,1725.3 2243,1725.3 2246,1725.4 2249,1725.4 2252,1725.4 2255,1725.4 2258,1725.4 2261,1725.4 2264,1725.4 2267,1725.4 2270,1725.4 2273,1725.4 2276,1725.4 2279,1725.5 2282,1725.5 2285,1725.5 2288,1725.5 2291,1725.5 2294,1725.5" fill="none" stroke="#ff0080" stroke-width="3" />
<path d="M1298,1718.5 1301,1718.5 1304,1718.5 1307,1718.5 1310,1718.5 1313,1718.5 1316,1718.6 1319,1718.6 1322,1718.6 1325,1718.6 1328,1718.6 1331,1718.6 1334,1718.6 1337,1718.6 1340,1718.6 1343,1718.6 1346,1718.6 1349,1718.7 1352,1718.7 1355,1718.7 1358,1718.7 1361,1718.7 1364,1718.7 1367,1718.7 1370,1718.7 1373,1718.7 1376,1718.7 1379,1718.7 1382,1718.8 1385,1718.8 1388,1718.8 1391,1718.8 1394,1718.8 1397,1718.8 1400,1718.8 1403,1718.8 1406,1718.8 1409,1718.8 1412,1718.8 1415,1718.9 1418,1718.9 1421,1718.9 1424,1718.9 1427,1718.9 1430,1718.9 1433,1718.9 1436,1718.9 1439,1718.9 1442,1718.9 1445,1718.9 1448,1719 1451,1719 1454,1719 1457,1719 1460,1719 1463,1719 1466,1719 1469,1719 1472,1719 1475,1719 1478,1719 1481,1719.1 1484,1719.1 1487,1719.1 1490,1719.1 1493,1719.1 1496,1719.1 1499,1719.1 1502,1719.1 1505,1719.1 1508,1719.1 1511,1719.1 1514,1719.2 1517,1719.2 1520,1719.2 1523,1719.2 1526,1719.2 1529,1719.2 1532,1719.2 1535,1719.2 1538,1719.2 1541,1719.2 1544,1719.2 1547,1719.2 1550,1719.3 1553,1719.3 1556,1719.3 1559,1719.3 1562,1719.3 1565,1719.3 1568,1719.3 1571,1719.3 1574,1719.3 1577,1719.3 1580,1719.3 1583,1719.4 1586,1719.4 1589,1719.4 1592,1719.4 1595,1719.4 1598,1719.4 1601,1719.4 1604,1719.4 1607,1719.4 1610,1719.4 1613,1719.4 1616,1719.5 1619,1719.5 1622,1719.5 1625,1719.5 1628,1719.5 1631,1719.5 1634,1719.5 1637,1719.5 1640,1719.5 1643,1719.5 1646,1719.5 1649,1719.6 1652,1719.6 1655,1719.6 1658,1719.6 1661,1719.6 1664,1719.6 1667,1719.6 1670,1719.6 1673,1719.6 1676,1719.6 1679,1719.6 1682,1719.7 1685,1719.7 1688,1719.7 1691,1719.7 1694,1719.7 1697,1719.7 1700,1719.7 1703,1719.7 1706,1719.7 1709,1719.7 1712,1719.7 1715,1719.8 1718,1719.8 1721,1719.8 1724,1719.8 1727,1719.8 1730,1719.8 1733,1719.8 1736,1719.8 1739,1719.8 1742,1719.8 1745,1719.8 1748,1719.9 1751,1719.9 1754,1719.9 1757,1719.9 1760,1719.9 1763,1719.9 1766,1719.9 1769,1719.9 1772,1719.9 1775,1719.9 1778,1719.9 1781,1720 1784,1720 1787,1720 1790,1720 1793,1720 1796,1720 1799,1720 1802,1720 1805,1720 1808,1720 1811,1720 1814,1720.1 1817,1720.1 1820,1720.1 1823,1720.1 1826,1720.1 1829,1720.1 1832,1720.1 1835,1720.1 1838,1720.1 1841,1720.1 1844,1720.1 1847,1720.2 1850,1720.2 1853,1720.2 1856,1720.2 1859,1720.2 1862,1720.2 1865,1720.2 1868,1720.2 1871,1720.2 1874,1720.2 1877,1720.2 1880,1720.3 1883,1720.3 1886,1720.3 1889,1720.3 1892,1720.3 1895,1720.3 1898,1720.3 1901,1720.3 1904,1720.3 1907,1720.3 1910,1720.3 1913,1720.4 1916,1720.4 1919,1720.4 1922,1720.4 1925,1720.4 1928,1720.4 1931,1720.4 1934,1720.4 1937,1720.4 1940,1720.4 1943,1720.4 1946,1720.5 1949,1720.5 1952,1720.5 1955,1720.5 1958,1720.5 1961,1720.5 1964,1720.5 1967,1720.5 1970,1720.5 1973,1720.5 1976,1720.5 1979,1720.6 1982,1720.6 1985,1720.6 1988,1720.6 1991,1720.6 1994,1720.6 1997,1720.6 2000,1720.6 2003,1720.6 2006,1720.6 2009,1720.6 2012,1720.7 2015,1720.7 2018,1720.7 2021,1720.7 2024,1720.7 2027,1720.7 2030,1720.7 2033,1720.7 2036,1720.7 2039,1720.7 2042,1720.7 2045,1720.8 2048,1720.8 2051,1720.8 2054,1720.8 2057,1720.8 2060,1720.8 2063,1720.8 2066,1720.8 2069,1720.8 2072,1720.8 2075,1720.8 2078,1720.8 2081,1720.9 2084,1720.9 2087,1720.9 2090,1720.9 2093,1720.9 2096,1720.9 2099,1720.9 2102,1720.9 2105,1720.9 2108,1720.9 2111,1720.9 2114,1721 2117,1721 2120,1721 2123,1721 2126,1721 2129,1721 2132,1721 2135,1721 2138,1721 2141,1721 2144,1721 2147,1721.1 2150,1721.1 2153,1721.1 2156,1721.1 2159,1721.1 2162,1721.1 2165,1721.1 2168,1721.1 2171,1721.1 2174,1721.1 2177,1721.1 2180,1721.2 2183,1721.2 2186,1721.2 2189,1721.2 2192,1721.2 2195,1721.2 2198,1721.2 2201,1721.2 2204,1721.2 2207,1721.2 2210,1721.2 2213,1721.3 2216,1721.3 2219,1721.3 2222,1721.3 2225,1721.3 2228,1721.3 2231,1721.3 2234,1721.3 2237,1721.3 2240,1721.3 2243,1721.3 2246,1721.4 2249,1721.4 2252,1721.4 2255,1721.4 2258,1721.4 2261,1721.4 2264,1721.4 2267,1721.4 2270,1721.4 2273,1721.4 2276,1721.4 2279,1721.5 2282,1721.5 2285,1721.5 2288,1721.5 2291,1721.5 2294,1721.5" fill="none" stroke="#c080ff" stroke-width="2"/>
<path d="M1298,1718.4 1301,1718.4 1304,1718.4 1307,1718.4 1310,1718.4 1313,1718.4 1316,1718.4 1319,1718.4 1322,1718.4 1325,1718.4 1328,1718.5 1331,1718.5 1334,1718.5 1337,1718.5 1340,1718.5 1343,1718.5 1346,1718.5 1349,1718.5 1352,1718.5 1355,1718.5 1358,1718.5 1361,1718.5 1364,1718.5 1367,1718.6 1370,1718.6 1373,1718.6 1376,1718.6 1379,1718.6 1382,1718.6 1385,1718.6 1388,1718.6 1391,1718.6 1394,1718.6 1397,1718.6 1400,1718.6 1403,1718.6 1406,1718.7 1409,1718.7 1412,1718.7 1415,1718.7 1418,1718.7 1421,1718.7 1424,1718.7 1427,1718.7 1430,1718.7 1433,1718.7 1436,1718.7 1439,1718.7 1442,1718.7 1445,1718.7 1448,1718.8 1451,1718.8 1454,1718.8 1457,1718.8 1460,1718.8 1463,1718.8 1466,1718.8 1469,1718.8 1472,1718.8 1475,1718.8 1478,1718.8 1481,1718.8 1484,1718.8 1487,1718.8 1490,1718.8 1493,1718.9 1496,1718.9 1499,1718.9 1502,1718.9 1505,1718.9 1508,1718.9 1511,1718.9 1514,1718.9 1517,1718.9 1520,1718.9 1523,1718.9 1526,1718.9 1529,1718.9 1532,1718.9 1535,1718.9 1538,1718.9 1541,1719 1544,1719 1547,1719 1550,1719 1553,1719 1556,1719 1559,1719 1562,1719 1565,1719 1568,1719 1571,1719 1574,1719 1577,1719 1580,1719 1583,1719 1586,1719 1589,1719 1592,1719 1595,1719 1598,1719 1601,1719 1604,1719.1 1607,1719.1 1610,1719.1 1613,1719.1 1616,1719.1 1619,1719.1 1622,1719.1 1625,1719.1 1628,1719.1 1631,1719.1 1634,1719.1 1637,1719.1 1640,1719.1 1643,1719.1 1646,1719.1 1649,1719.1 1652,1719.1 1655,1719.1 1658,1719.1 1661,1719.1 1664,1719.1 1667,1719.1 1670,1719.1 1673,1719.1 1676,1719.1 1679,1719.1 1682,1719.1 1685,1719.1 1688,1719.1 1691,1719.1 1694,1719.1 1697,1719.1 1700,1719.1 1703,1719.1 1706,1719.1 1709,1719.1 1712,1719.1 1715,1719.1 1718,1719.1 1721,1719.1 1724,1719 1727,1719 1730,1719 1733,1719 1736,1719 1739,1719 1742,1718.9 1745,1718.9 1748,1718.9 1751,1718.8 1754,1718.8 1757,1718.8 1760,1718.7 1763,1718.7 1766,1718.6 1769,1718.5 1772,1718.5 1775,1718.4 1778,1718.3 1781,1718.2 1784,1718 1787,1717.9 1790,1717.7 1793,1717.6 1796,1717.4 1799,1717.1 1802,1716.9 1805,1716.6 1808,1716.3 1811,1716 1814,1715.6 1817,1715.2 1820,1714.8 1823,1714.3 1826,1713.8 1829,1713.2 1832,1712.5 1835,1711.8 1838,1711.1 1841,1710.2 1844,1709.3 1847,1708.3 1850,1707.3 1853,1706.1 1856,1704.9 1859,1703.5 1862,1702.1 1865,1700.6 1868,1698.9 1871,1697.2 1874,1695.3 1877,1693.3 1880,1691.2 1883,1688.9 1886,1686.6 1889,1684.1 1892,1681.4 1895,1678.7 1898,1675.8 1901,1672.7 1904,1669.6 1907,1666.3 1910,1662.8 1913,1659.3 1916,1655.6 1919,1651.8 1922,1647.9 1925,1643.9 1928,1639.9 1931,1635.7 1934,1631.4 1937,1627.1 1940,1622.7 1943,1618.3 1946,1613.9 1949,1609.4 1952,1605 1955,1600.5 1958,1596.1 1961,1591.8 1964,1587.5 1967,1583.2 1970,1579.1 1973,1575.1 1976,1571.2 1979,1567.5 1982,1564 1985,1560.6 1988,1557.4 1991,1554.5 1994,1551.8 1997,1549.3 2000,1547.1 2003,1545.2 2006,1543.5 2009,1542.1 2012,1541.1 2015,1540.3 2018,1539.8 2021,1539.7 2024,1539.8 2027,1540.3 2030,1541.1 2033,1542.2 2036,1543.6 2039,1545.3 2042,1547.2 2045,1549.5 2048,1551.9 2051,1554.7 2054,1557.6 2057,1560.8 2060,1564.2 2063,1567.8 2066,1571.5 2069,1575.4 2072,1579.4 2075,1583.6 2078,1587.8 2081,1592.1 2084,1596.5 2087,1600.9 2090,1605.4 2093,1609.9 2096,1614.3 2099,1618.8 2102,1623.2 2105,1627.6 2108,1631.9 2111,1636.2 2114,1640.4 2117,1644.5 2120,1648.5 2123,1652.4 2126,1656.2 2129,1659.9 2132,1663.5 2135,1666.9 2138,1670.3 2141,1673.4 2144,1676.5 2147,1679.4 2150,1682.2 2153,1684.9 2156,1687.4 2159,1689.8 2162,1692 2165,1694.2 2168,1696.2 2171,1698.1 2174,1699.8 2177,1701.5 2180,1703.1 2183,1704.5 2186,1705.9 2189,1707.1 2192,1708.3 2195,1709.4 2198,1710.4 2201,1711.3 2204,1712.2 2207,1713 2210,1713.7 2213,1714.3 2216,1714.9 2219,1715.5 2222,1716 2225,1716.5 2228,1716.9 2231,1717.3 2234,1717.6 2237,1717.9 2240,1718.2 2243,1718.5 2246,1718.7 2249,1718.9 2252,1719.1 2255,1719.3 2258,1719.5 2261,1719.6 2264,1719.7 2267,1719.8 2270,1720 2273,1720 2276,1720.1 2279,1720.2 2282,1720.3 2285,1720.4 2288,1720.4 2291,1720.5 2294,1720.5" fill="none" stroke="#0030ff" stroke-width="3.6" stroke-dasharray="7.5 9.5"/>
<path d="M1298,1718.3 1301,1718.3 1304,1718.3 1307,1718.3 1310,1718.3 1313,1718.3 1316,1718.4 1319,1718.4 1322,1718.4 1325,1718.4 1328,1718.4 1331,1718.4 1334,1718.4 1337,1718.4 1340,1718.3 1343,1718.3 1346,1718.3 1349,1718.3 1352,1718.3 1355,1718.3 1358,1718.3 1361,1718.3 1364,1718.3 1367,1718.2 1370,1718.2 1373,1718.2 1376,1718.2 1379,1718.1 1382,1718.1 1385,1718 1388,1718 1391,1717.9 1394,1717.9 1397,1717.8 1400,1717.7 1403,1717.7 1406,1717.6 1409,1717.5 1412,1717.4 1415,1717.3 1418,1717.1 1421,1717 1424,1716.8 1427,1716.7 1430,1716.5 1433,1716.3 1436,1716.1 1439,1715.9 1442,1715.6 1445,1715.4 1448,1715.1 1451,1714.8 1454,1714.5 1457,1714.1 1460,1713.8 1463,1713.4 1466,1713 1469,1712.6 1472,1712.1 1475,1711.6 1478,1711.1 1481,1710.6 1484,1710 1487,1709.5 1490,1708.9 1493,1708.2 1496,1707.6 1499,1706.9 1502,1706.2 1505,1705.4 1508,1704.7 1511,1703.9 1514,1703.1 1517,1702.2 1520,1701.4 1523,1700.5 1526,1699.6 1529,1698.7 1532,1697.8 1535,1696.9 1538,1695.9 1541,1695 1544,1694 1547,1693.1 1550,1692.1 1553,1691.1 1556,1690.2 1559,1689.3 1562,1688.3 1565,1687.4 1568,1686.5 1571,1685.6 1574,1684.8 1577,1683.9 1580,1683.1 1583,1682.4 1586,1681.6 1589,1680.9 1592,1680.3 1595,1679.7 1598,1679.1 1601,1678.6 1604,1678.1 1607,1677.7 1610,1677.4 1613,1677.1 1616,1676.8 1619,1676.7 1622,1676.5 1625,1676.5 1628,1676.5 1631,1676.6 1634,1676.7 1637,1676.9 1640,1677.2 1643,1677.5 1646,1677.8 1649,1678.3 1652,1678.7 1655,1679.3 1658,1679.8 1661,1680.5 1664,1681.1 1667,1681.9 1670,1682.6 1673,1683.4 1676,1684.2 1679,1685.1 1682,1685.9 1685,1686.8 1688,1687.8 1691,1688.7 1694,1689.7 1697,1690.6 1700,1691.6 1703,1692.6 1706,1693.5 1709,1694.5 1712,1695.5 1715,1696.5 1718,1697.4 1721,1698.4 1724,1699.3 1727,1700.2 1730,1701.1 1733,1702 1736,1702.9 1739,1703.7 1742,1704.6 1745,1705.4 1748,1706.2 1751,1706.9 1754,1707.6 1757,1708.3 1760,1709 1763,1709.7 1766,1710.3 1769,1710.9 1772,1711.5 1775,1712 1778,1712.5 1781,1713 1784,1713.5 1787,1714 1790,1714.4 1793,1714.8 1796,1715.2 1799,1715.5 1802,1715.9 1805,1716.2 1808,1716.5 1811,1716.7 1814,1717 1817,1717.2 1820,1717.5 1823,1717.7 1826,1717.9 1829,1718.1 1832,1718.2 1835,1718.4 1838,1718.5 1841,1718.7 1844,1718.8 1847,1718.9 1850,1719 1853,1719.1 1856,1719.2 1859,1719.3 1862,1719.4 1865,1719.4 1868,1719.5 1871,1719.6 1874,1719.6 1877,1719.7 1880,1719.7 1883,1719.8 1886,1719.8 1889,1719.8 1892,1719.9 1895,1719.9 1898,1719.9 1901,1720 1904,1720 1907,1720 1910,1720.1 1913,1720.1 1916,1720.1 1919,1720.1 1922,1720.1 1925,1720.2 1928,1720.2 1931,1720.2 1934,1720.2 1937,1720.2 1940,1720.2 1943,1720.3 1946,1720.3 1949,1720.3 1952,1720.3 1955,1720.3 1958,1720.3 1961,1720.3 1964,1720.3 1967,1720.4 1970,1720.4 1973,1720.4 1976,1720.4 1979,1720.4 1982,1720.4 1985,1720.4 1988,1720.4 1991,1720.5 1994,1720.5 1997,1720.5 2000,1720.5 2003,1720.5 2006,1720.5 2009,1720.5 2012,1720.5 2015,1720.5 2018,1720.6 2021,1720.6 2024,1720.6 2027,1720.6 2030,1720.6 2033,1720.6 2036,1720.6 2039,1720.6 2042,1720.6 2045,1720.6 2048,1720.7 2051,1720.7 2054,1720.7 2057,1720.7 2060,1720.7 2063,1720.7 2066,1720.7 2069,1720.7 2072,1720.7 2075,1720.7 2078,1720.8 2081,1720.8 2084,1720.8 2087,1720.8 2090,1720.8 2093,1720.8 2096,1720.8 2099,1720.8 2102,1720.8 2105,1720.9 2108,1720.9 2111,1720.9 2114,1720.9 2117,1720.9 2120,1720.9 2123,1720.9 2126,1720.9 2129,1720.9 2132,1720.9 2135,1720.9 2138,1721 2141,1721 2144,1721 2147,1721 2150,1721 2153,1721 2156,1721 2159,1721 2162,1721 2165,1721 2168,1721.1 2171,1721.1 2174,1721.1 2177,1721.1 2180,1721.1 2183,1721.1 2186,1721.1 2189,1721.1 2192,1721.1 2195,1721.1 2198,1721.2 2201,1721.2 2204,1721.2 2207,1721.2 2210,1721.2 2213,1721.2 2216,1721.2 2219,1721.2 2222,1721.2 2225,1721.2 2228,1721.2 2231,1721.3 2234,1721.3 2237,1721.3 2240,1721.3 2243,1721.3 2246,1721.3 2249,1721.3 2252,1721.3 2255,1721.3 2258,1721.3 2261,1721.4 2264,1721.4 2267,1721.4 2270,1721.4 2273,1721.4 2276,1721.4 2279,1721.4 2282,1721.4 2285,1721.4 2288,1721.4 2291,1721.4 2294,1721.5" fill="none" stroke="#ff0080" stroke-width="3.5"/>
<path d="M1613,1718.6 1616,1718.6 1619,1718.5 1622,1718.5 1625,1718.4 1628,1718.4 1631,1718.3 1634,1718.2 1637,1718.1 1640,1718 1643,1717.9 1646,1717.8 1649,1717.7 1652,1717.6 1655,1717.4 1658,1717.2 1661,1717.1 1664,1716.9 1667,1716.7 1670,1716.5 1673,1716.2 1676,1716 1679,1715.7 1682,1715.4 1685,1715.1 1688,1714.7 1691,1714.4 1694,1714 1697,1713.5 1700,1713.1 1703,1712.6 1706,1712.1 1709,1711.6 1712,1711 1715,1710.4 1718,1709.8 1721,1709.1 1724,1708.4 1727,1707.7 1730,1706.9 1733,1706.1 1736,1705.2 1739,1704.3 1742,1703.4 1745,1702.4 1748,1701.4 1751,1700.3 1754,1699.2 1757,1698.1 1760,1696.9 1763,1695.7 1766,1694.5 1769,1693.2 1772,1691.9 1775,1690.5 1778,1689.1 1781,1687.7 1784,1686.3 1787,1684.8 1790,1683.3 1793,1681.8 1796,1680.2 1799,1678.7 1802,1677.1 1805,1675.5 1808,1674 1811,1672.4 1814,1670.8 1817,1669.2 1820,1667.6 1823,1666.1 1826,1664.5 1829,1663 1832,1661.5 1835,1660.1 1838,1658.6 1841,1657.2 1844,1655.9 1847,1654.6 1850,1653.4 1853,1652.2 1856,1651 1859,1650 1862,1649 1865,1648 1868,1647.2 1871,1646.4 1874,1645.7 1877,1645.1 1880,1644.6 1883,1644.1 1886,1643.8 1889,1643.5 1892,1643.4 1895,1643.3 1898,1643.3 1901,1643.4 1904,1643.7 1907,1644 1910,1644.4 1913,1644.8 1916,1645.4 1919,1646.1 1922,1646.8 1925,1647.6 1928,1648.5 1931,1649.5 1934,1650.5 1937,1651.6 1940,1652.8 1943,1654 1946,1655.3 1949,1656.7 1952,1658 1955,1659.5 1958,1660.9 1961,1662.4 1964,1663.9 1967,1665.5 1970,1667 1973,1668.6 1976,1670.2 1979,1671.8 1982,1673.4 1985,1675 1988,1676.6 1991,1678.2 1994,1679.8 1997,1681.4 2000,1682.9 2003,1684.4 2006,1686 2009,1687.4 2012,1688.9 2015,1690.3 2018,1691.7 2021,1693.1 2024,1694.4 2027,1695.7 2030,1696.9 2033,1698.2 2036,1699.3 2039,1700.5 2042,1701.6 2045,1702.6 2048,1703.7 2051,1704.6 2054,1705.6 2057,1706.5 2060,1707.3 2063,1708.2 2066,1708.9 2069,1709.7 2072,1710.4 2075,1711.1 2078,1711.7 2081,1712.3 2084,1712.9 2087,1713.4 2090,1714 2093,1714.4 2096,1714.9 2099,1715.3 2102,1715.7 2105,1716.1 2108,1716.5 2111,1716.8 2114,1717.1 2117,1717.4 2120,1717.7 2123,1717.9 2126,1718.1 2129,1718.4 2132,1718.6 2135,1718.7 2138,1718.9 2141,1719.1 2144,1719.2 2147,1719.4 2150,1719.5 2153,1719.6 2156,1719.7 2159,1719.8 2162,1719.9 2165,1720 2168,1720.1 2171,1720.2 2174,1720.2 2177,1720.3 2177,1722.6 2174,1722.6 2171,1722.6 2168,1722.6 2165,1722.6 2162,1722.6 2159,1722.6 2156,1722.6 2153,1722.6 2150,1722.6 2147,1722.6 2144,1722.5 2141,1722.5 2138,1722.5 2135,1722.5 2132,1722.5 2129,1722.5 2126,1722.5 2123,1722.5 2120,1722.5 2117,1722.5 2114,1722.5 2111,1722.4 2108,1722.4 2105,1722.4 2102,1722.4 2099,1722.4 2096,1722.4 2093,1722.4 2090,1722.4 2087,1722.4 2084,1722.4 2081,1722.4 2078,1722.3 2075,1722.3 2072,1722.3 2069,1722.3 2066,1722.3 2063,1722.3 2060,1722.3 2057,1722.3 2054,1722.3 2051,1722.3 2048,1722.3 2045,1722.2 2042,1722.2 2039,1722.2 2036,1722.2 2033,1722.2 2030,1722.2 2027,1722.2 2024,1722.2 2021,1722.2 2018,1722.2 2015,1722.2 2012,1722.2 2009,1722.1 2006,1722.1 2003,1722.1 2000,1722.1 1997,1722.1 1994,1722.1 1991,1722.1 1988,1722.1 1985,1722.1 1982,1722.1 1979,1722.1 1976,1722 1973,1722 1970,1722 1967,1722 1964,1722 1961,1722 1958,1722 1955,1722 1952,1722 1949,1722 1946,1722 1943,1721.9 1940,1721.9 1937,1721.9 1934,1721.9 1931,1721.9 1928,1721.9 1925,1721.9 1922,1721.9 1919,1721.9 1916,1721.9 1913,1721.9 1910,1721.8 1907,1721.8 1904,1721.8 1901,1721.8 1898,1721.8 1895,1721.8 1892,1721.8 1889,1721.8 1886,1721.8 1883,1721.8 1880,1721.8 1877,1721.7 1874,1721.7 1871,1721.7 1868,1721.7 1865,1721.7 1862,1721.7 1859,1721.7 1856,1721.7 1853,1721.7 1850,1721.7 1847,1721.7 1844,1721.6 1841,1721.6 1838,1721.6 1835,1721.6 1832,1721.6 1829,1721.6 1826,1721.6 1823,1721.6 1820,1721.6 1817,1721.6 1814,1721.6 1811,1721.5 1808,1721.5 1805,1721.5 1802,1721.5 1799,1721.5 1796,1721.5 1793,1721.5 1790,1721.5 1787,1721.5 1784,1721.5 1781,1721.5 1778,1721.4 1775,1721.4 1772,1721.4 1769,1721.4 1766,1721.4 1763,1721.4 1760,1721.4 1757,1721.4 1754,1721.4 1751,1721.4 1748,1721.4 1745,1721.3 1742,1721.3 1739,1721.3 1736,1721.3 1733,1721.3 1730,1721.3 1727,1721.3 1724,1721.3 1721,1721.3 1718,1721.3 1715,1721.3 1712,1721.2 1709,1721.2 1706,1721.2 1703,1721.2 1700,1721.2 1697,1721.2 1694,1721.2 1691,1721.2 1688,1721.2 1685,1721.2 1682,1721.2 1679,1721.1 1676,1721.1 1673,1721.1 1670,1721.1 1667,1721.1 1664,1721.1 1661,1721.1 1658,1721.1 1655,1721.1 1652,1721.1 1649,1721.1 1646,1721 1643,1721 1640,1721 1637,1721 1634,1721 1631,1721 1628,1721 1625,1721 1622,1721 1619,1721 1616,1721 1613,1720.9Z" fill="url(#g21)" stroke="none"/>
<path d="M1298,1718.4 1301,1718.4 1304,1718.4 1307,1718.4 1310,1718.4 1313,1718.4 1316,1718.4 1319,1718.4 1322,1718.5 1325,1718.5 1328,1718.5 1331,1718.5 1334,1718.5 1337,1718.5 1340,1718.5 1343,1718.5 1346,1718.5 1349,1718.5 1352,1718.5 1355,1718.5 1358,1718.5 1361,1718.6 1364,1718.6 1367,1718.6 1370,1718.6 1373,1718.6 1376,1718.6 1379,1718.6 1382,1718.6 1385,1718.6 1388,1718.6 1391,1718.6 1394,1718.6 1397,1718.6 1400,1718.6 1403,1718.7 1406,1718.7 1409,1718.7 1412,1718.7 1415,1718.7 1418,1718.7 1421,1718.7 1424,1718.7 1427,1718.7 1430,1718.7 1433,1718.7 1436,1718.7 1439,1718.7 1442,1718.7 1445,1718.8 1448,1718.8 1451,1718.8 1454,1718.8 1457,1718.8 1460,1718.8 1463,1718.8 1466,1718.8 1469,1718.8 1472,1718.8 1475,1718.8 1478,1718.8 1481,1718.8 1484,1718.8 1487,1718.8 1490,1718.8 1493,1718.9 1496,1718.9 1499,1718.9 1502,1718.9 1505,1718.9 1508,1718.9 1511,1718.9 1514,1718.9 1517,1718.9 1520,1718.9 1523,1718.9 1526,1718.9 1529,1718.9 1532,1718.9 1535,1718.9 1538,1718.9 1541,1718.9 1544,1718.9 1547,1718.9 1550,1718.9 1553,1718.9 1556,1718.9 1559,1718.9 1562,1718.9 1565,1718.9 1568,1718.9 1571,1718.9 1574,1718.9 1577,1718.9 1580,1718.9 1583,1718.9 1586,1718.9 1589,1718.8 1592,1718.8 1595,1718.8 1598,1718.8 1601,1718.8 1604,1718.7 1607,1718.7 1610,1718.7 1613,1718.6 1616,1718.6 1619,1718.5 1622,1718.5 1625,1718.4 1628,1718.4 1631,1718.3 1634,1718.2 1637,1718.1 1640,1718 1643,1717.9 1646,1717.8 1649,1717.7 1652,1717.6 1655,1717.4 1658,1717.2 1661,1717.1 1664,1716.9 1667,1716.7 1670,1716.5 1673,1716.2 1676,1716 1679,1715.7 1682,1715.4 1685,1715.1 1688,1714.7 1691,1714.4 1694,1714 1697,1713.5 1700,1713.1 1703,1712.6 1706,1712.1 1709,1711.6 1712,1711 1715,1710.4 1718,1709.8 1721,1709.1 1724,1708.4 1727,1707.7 1730,1706.9 1733,1706.1 1736,1705.2 1739,1704.3 1742,1703.4 1745,1702.4 1748,1701.4 1751,1700.3 1754,1699.2 1757,1698.1 1760,1696.9 1763,1695.7 1766,1694.5 1769,1693.2 1772,1691.9 1775,1690.5 1778,1689.1 1781,1687.7 1784,1686.3 1787,1684.8 1790,1683.3 1793,1681.8 1796,1680.2 1799,1678.7 1802,1677.1 1805,1675.5 1808,1674 1811,1672.4 1814,1670.8 1817,1669.2 1820,1667.6 1823,1666.1 1826,1664.5 1829,1663 1832,1661.5 1835,1660.1 1838,1658.6 1841,1657.2 1844,1655.9 1847,1654.6 1850,1653.4 1853,1652.2 1856,1651 1859,1650 1862,1649 1865,1648 1868,1647.2 1871,1646.4 1874,1645.7 1877,1645.1 1880,1644.6 1883,1644.1 1886,1643.8 1889,1643.5 1892,1643.4 1895,1643.3 1898,1643.3 1901,1643.4 1904,1643.7 1907,1644 1910,1644.4 1913,1644.8 1916,1645.4 1919,1646.1 1922,1646.8 1925,1647.6 1928,1648.5 1931,1649.5 1934,1650.5 1937,1651.6 1940,1652.8 1943,1654 1946,1655.3 1949,1656.7 1952,1658 1955,1659.5 1958,1660.9 1961,1662.4 1964,1663.9 1967,1665.5 1970,1667 1973,1668.6 1976,1670.2 1979,1671.8 1982,1673.4 1985,1675 1988,1676.6 1991,1678.2 1994,1679.8 1997,1681.4 2000,1682.9 2003,1684.4 2006,1686 2009,1687.4 2012,1688.9 2015,1690.3 2018,1691.7 2021,1693.1 2024,1694.4 2027,1695.7 2030,1696.9 2033,1698.2 2036,1699.3 2039,1700.5 2042,1701.6 2045,1702.6 2048,1703.7 2051,1704.6 2054,1705.6 2057,1706.5 2060,1707.3 2063,1708.2 2066,1708.9 2069,1709.7 2072,1710.4 2075,1711.1 2078,1711.7 2081,1712.3 2084,1712.9 2087,1713.4 2090,1714 2093,1714.4 2096,1714.9 2099,1715.3 2102,1715.7 2105,1716.1 2108,1716.5 2111,1716.8 2114,1717.1 2117,1717.4 2120,1717.7 2123,1717.9 2126,1718.1 2129,1718.4 2132,1718.6 2135,1718.7 2138,1718.9 2141,1719.1 2144,1719.2 2147,1719.4 2150,1719.5 2153,1719.6 2156,1719.7 2159,1719.8 2162,1719.9 2165,1720 2168,1720.1 2171,1720.2 2174,1720.2 2177,1720.3 2180,1720.4 2183,1720.4 2186,1720.5 2189,1720.5 2192,1720.6 2195,1720.6 2198,1720.6 2201,1720.7 2204,1720.7 2207,1720.7 2210,1720.8 2213,1720.8 2216,1720.8 2219,1720.8 2222,1720.9 2225,1720.9 2228,1720.9 2231,1720.9 2234,1721 2237,1721 2240,1721 2243,1721 2246,1721 2249,1721 2252,1721.1 2255,1721.1 2258,1721.1 2261,1721.1 2264,1721.1 2267,1721.1 2270,1721.2 2273,1721.2 2276,1721.2 2279,1721.2 2282,1721.2 2285,1721.2 2288,1721.2 2291,1721.2 2294,1721.3" fill="none" stroke="#008000" stroke-width="3.6" stroke-dasharray="7.5 9.5"/>
<path d="M1295,1717.1 1298,1717.1 1301,1717.1 1304,1717.1 1307,1717.1 1310,1717.1 1313,1717.1 1316,1717.1 1319,1717.1 1322,1717.1 1325,1717.1 1328,1717.1 1331,1717.1 1334,1717.1 1337,1717.1 1340,1717.1 1343,1717.1 1346,1717.1 1349,1717 1352,1717 1355,1717 1358,1717 1361,1717 1364,1717 1367,1716.9 1370,1716.9 1373,1716.9 1376,1716.8 1379,1716.8 1382,1716.7 1385,1716.7 1388,1716.6 1391,1716.6 1394,1716.5 1397,1716.4 1400,1716.3 1403,1716.2 1406,1716.1 1409,1716 1412,1715.9 1415,1715.8 1418,1715.6 1421,1715.5 1424,1715.3 1427,1715.1 1430,1714.9 1433,1714.7 1436,1714.5 1439,1714.2 1442,1714 1445,1713.7 1448,1713.4 1451,1713.1 1454,1712.7 1457,1712.4 1460,1712 1463,1711.6 1466,1711.1 1469,1710.7 1472,1710.2 1475,1709.7 1478,1709.2 1481,1708.6 1484,1708 1487,1707.4 1490,1706.8 1493,1706.1 1496,1705.4 1499,1704.7 1502,1703.9 1505,1703.2 1508,1702.4 1511,1701.6 1514,1700.7 1517,1699.9 1520,1699 1523,1698.1 1526,1697.2 1529,1696.2 1532,1695.3 1535,1694.3 1538,1693.4 1541,1692.4 1544,1691.4 1547,1690.5 1550,1689.5 1553,1688.5 1556,1687.6 1559,1686.6 1562,1685.7 1565,1684.8 1568,1683.9 1571,1683 1574,1682.1 1577,1681.3 1580,1680.5 1583,1679.8 1586,1679 1589,1678.4 1592,1677.7 1595,1677.1 1598,1676.6 1601,1676.1 1604,1675.6 1607,1675.2 1610,1674.9 1613,1674.6 1616,1674.3 1619,1674.2 1622,1674 1625,1674 1628,1673.9 1631,1674 1634,1674.1 1637,1674.2 1640,1674.4 1643,1674.6 1646,1674.9 1649,1675.3 1652,1675.6 1655,1676 1658,1676.5 1661,1676.9 1664,1677.4 1667,1677.9 1670,1678.5 1673,1679 1676,1679.6 1679,1680.1 1682,1680.7 1685,1681.2 1688,1681.8 1691,1682.3 1694,1682.9 1697,1683.4 1700,1683.8 1703,1684.3 1706,1684.7 1709,1685.1 1712,1685.4 1715,1685.7 1718,1686 1721,1686.2 1724,1686.3 1727,1686.4 1730,1686.5 1733,1686.5 1736,1686.4 1739,1686.2 1742,1686 1745,1685.7 1748,1685.4 1751,1685 1754,1684.5 1757,1683.9 1760,1683.3 1763,1682.6 1766,1681.8 1769,1681 1772,1680 1775,1679.1 1778,1678 1781,1676.9 1784,1675.7 1787,1674.5 1790,1673.1 1793,1671.8 1796,1670.3 1799,1668.8 1802,1667.3 1805,1665.7 1808,1664 1811,1662.3 1814,1660.6 1817,1658.8 1820,1656.9 1823,1655 1826,1653.1 1829,1651.1 1832,1649 1835,1647 1838,1644.9 1841,1642.7 1844,1640.5 1847,1638.3 1850,1636.1 1853,1633.8 1856,1631.4 1859,1629 1862,1626.6 1865,1624.2 1868,1621.7 1871,1619.1 1874,1616.6 1877,1614 1880,1611.3 1883,1608.6 1886,1605.9 1889,1603.1 1892,1600.3 1895,1597.4 1898,1594.5 1901,1591.6 1904,1588.6 1907,1585.6 1910,1582.5 1913,1579.4 1916,1576.3 1919,1573.1 1922,1569.9 1925,1566.8 1928,1563.5 1931,1560.3 1934,1557.1 1937,1553.9 1940,1550.7 1943,1547.6 1946,1544.4 1949,1541.4 1952,1538.3 1955,1535.4 1958,1532.5 1961,1529.7 1964,1527 1967,1524.5 1970,1522.1 1973,1519.8 1976,1517.6 1979,1515.7 1982,1513.9 1985,1512.4 1988,1511 1991,1509.8 1994,1508.9 1997,1508.3 2000,1507.8 2003,1507.7 2006,1507.8 2009,1508.2 2012,1508.8 2015,1509.7 2018,1511 2021,1512.4 2024,1514.2 2027,1516.2 2030,1518.5 2033,1521.1 2036,1523.9 2039,1527 2042,1530.2 2045,1533.7 2048,1537.4 2051,1541.3 2054,1545.4 2057,1549.7 2060,1554 2063,1558.6 2066,1563.2 2069,1567.9 2072,1572.7 2075,1577.6 2078,1582.5 2081,1587.4 2084,1592.4 2087,1597.4 2090,1602.3 2093,1607.2 2096,1612.1 2099,1616.9 2102,1621.7 2105,1626.4 2108,1631 2111,1635.5 2114,1639.9 2117,1644.1 2120,1648.3 2123,1652.3 2126,1656.2 2129,1660 2132,1663.6 2135,1667.1 2138,1670.4 2141,1673.6 2144,1676.7 2147,1679.6 2150,1682.3 2153,1684.9 2156,1687.4 2159,1689.8 2162,1692 2165,1694.1 2168,1696 2171,1697.9 2174,1699.6 2177,1701.2 2180,1702.7 2183,1704.1 2186,1705.4 2189,1706.6 2192,1707.7 2195,1708.8 2198,1709.7 2201,1710.6 2204,1711.4 2207,1712.1 2210,1712.8 2213,1713.4 2216,1714 2219,1714.5 2222,1715 2225,1715.4 2228,1715.8 2231,1716.2 2234,1716.5 2237,1716.8 2240,1717.1 2243,1717.3 2246,1717.6 2249,1717.8 2252,1717.9 2255,1718.1 2258,1718.3 2261,1718.4 2264,1718.5 2267,1718.6 2270,1718.7 2273,1718.8 2276,1718.9 2279,1719 2282,1719.1 2285,1719.1 2288,1719.2 2291,1719.2" fill="none" stroke="#00c8d8" stroke-width="2"/>
<path d="M1298,1718.1 1301,1718.1 1304,1718.1 1307,1718.1 1310,1718.1 1313,1718.1 1316,1718.1 1319,1718.1 1322,1718.1 1325,1718.1 1328,1718.1 1331,1718.1 1334,1718.1 1337,1718.1 1340,1718.1 1343,1718.1 1346,1718.1 1349,1718.1 1352,1718 1355,1718 1358,1718 1361,1718 1364,1718 1367,1718 1370,1717.9 1373,1717.9 1376,1717.9 1379,1717.8 1382,1717.8 1385,1717.7 1388,1717.7 1391,1717.6 1394,1717.6 1397,1717.5 1400,1717.4 1403,1717.3 1406,1717.2 1409,1717.1 1412,1717 1415,1716.9 1418,1716.8 1421,1716.6 1424,1716.5 1427,1716.3 1430,1716.1 1433,1715.9 1436,1715.7 1439,1715.5 1442,1715.2 1445,1715 1448,1714.7 1451,1714.4 1454,1714.1 1457,1713.7 1460,1713.4 1463,1713 1466,1712.6 1469,1712.1 1472,1711.7 1475,1711.2 1478,1710.7 1481,1710.2 1484,1709.6 1487,1709 1490,1708.4 1493,1707.8 1496,1707.1 1499,1706.4 1502,1705.7 1505,1704.9 1508,1704.2 1511,1703.4 1514,1702.6 1517,1701.7 1520,1700.9 1523,1700 1526,1699.1 1529,1698.2 1532,1697.2 1535,1696.3 1538,1695.3 1541,1694.4 1544,1693.4 1547,1692.4 1550,1691.5 1553,1690.5 1556,1689.5 1559,1688.6 1562,1687.6 1565,1686.7 1568,1685.8 1571,1684.9 1574,1684 1577,1683.1 1580,1682.3 1583,1681.5 1586,1680.8 1589,1680 1592,1679.4 1595,1678.7 1598,1678.1 1601,1677.6 1604,1677.1 1607,1676.6 1610,1676.2 1613,1675.9 1616,1675.6 1619,1675.3 1622,1675.2 1625,1675 1628,1675 1631,1674.9 1634,1675 1637,1675.1 1640,1675.2 1643,1675.4 1646,1675.6 1649,1675.9 1652,1676.3 1655,1676.6 1658,1677 1661,1677.5 1664,1677.9 1667,1678.4 1670,1678.9 1673,1679.5 1676,1680 1679,1680.6 1682,1681.1 1685,1681.7 1688,1682.2 1691,1682.8 1694,1683.3 1697,1683.9 1700,1684.4 1703,1684.8 1706,1685.3 1709,1685.7 1712,1686.1 1715,1686.4 1718,1686.7 1721,1687 1724,1687.2 1727,1687.3 1730,1687.4 1733,1687.5 1736,1687.5 1739,1687.4 1742,1687.2 1745,1687 1748,1686.7 1751,1686.4 1754,1686 1757,1685.5 1760,1684.9 1763,1684.3 1766,1683.6 1769,1682.8 1772,1682 1775,1681 1778,1680.1 1781,1679 1784,1677.9 1787,1676.7 1790,1675.5 1793,1674.1 1796,1672.8 1799,1671.3 1802,1669.8 1805,1668.3 1808,1666.7 1811,1665 1814,1663.3 1817,1661.6 1820,1659.8 1823,1657.9 1826,1656 1829,1654.1 1832,1652.1 1835,1650 1838,1648 1841,1645.9 1844,1643.7 1847,1641.5 1850,1639.3 1853,1637.1 1856,1634.8 1859,1632.4 1862,1630 1865,1627.6 1868,1625.2 1871,1622.7 1874,1620.1 1877,1617.6 1880,1615 1883,1612.3 1886,1609.6 1889,1606.9 1892,1604.1 1895,1601.3 1898,1598.4 1901,1595.5 1904,1592.6 1907,1589.6 1910,1586.6 1913,1583.5 1916,1580.4 1919,1577.3 1922,1574.1 1925,1570.9 1928,1567.8 1931,1564.5 1934,1561.3 1937,1558.1 1940,1554.9 1943,1551.7 1946,1548.6 1949,1545.4 1952,1542.4 1955,1539.3 1958,1536.4 1961,1533.5 1964,1530.7 1967,1528 1970,1525.5 1973,1523.1 1976,1520.8 1979,1518.6 1982,1516.7 1985,1514.9 1988,1513.4 1991,1512 1994,1510.8 1997,1509.9 2000,1509.3 2003,1508.8 2006,1508.7 2009,1508.8 2012,1509.2 2015,1509.8 2018,1510.7 2021,1512 2024,1513.4 2027,1515.2 2030,1517.2 2033,1519.5 2036,1522.1 2039,1524.9 2042,1528 2045,1531.2 2048,1534.7 2051,1538.4 2054,1542.3 2057,1546.4 2060,1550.7 2063,1555 2066,1559.6 2069,1564.2 2072,1568.9 2075,1573.7 2078,1578.6 2081,1583.5 2084,1588.4 2087,1593.4 2090,1598.4 2093,1603.3 2096,1608.2 2099,1613.1 2102,1617.9 2105,1622.7 2108,1627.4 2111,1632 2114,1636.5 2117,1640.9 2120,1645.1 2123,1649.3 2126,1653.3 2129,1657.2 2132,1661 2135,1664.6 2138,1668.1 2141,1671.4 2144,1674.6 2147,1677.7 2150,1680.6 2153,1683.3 2156,1685.9 2159,1688.4 2162,1690.8 2165,1693 2168,1695.1 2171,1697 2174,1698.9 2177,1700.6 2180,1702.2 2183,1703.7 2186,1705.1 2189,1706.4 2192,1707.6 2195,1708.7 2198,1709.8 2201,1710.7 2204,1711.6 2207,1712.4 2210,1713.1 2213,1713.8 2216,1714.4 2219,1715 2222,1715.5 2225,1716 2228,1716.4 2231,1716.8 2234,1717.2 2237,1717.5 2240,1717.8 2243,1718.1 2246,1718.3 2249,1718.6 2252,1718.8 2255,1718.9 2258,1719.1 2261,1719.3 2264,1719.4 2267,1719.5 2270,1719.6 2273,1719.7 2276,1719.8 2279,1719.9 2282,1720 2285,1720.1 2288,1720.1 2291,1720.2 2294,1720.2" fill="none" stroke="#8000ff" stroke-width="2.4"/>
<line x1="2022.8" y1="92.7" x2="2022.8" y2="1597" stroke="#000" stroke-width="2.3" stroke-dasharray="13.5 12.15"/>
</g>
<rect x="124" y="38" width="1075" height="1771" fill="none" stroke="#000" stroke-width="6"/>
<rect x="1298" y="32" width="997" height="1777" fill="none" stroke="#000" stroke-width="6"/>
<line x1="319.8" y1="1787" x2="319.8" y2="1806" stroke="#000" stroke-width="6"/>
<line x1="513.8" y1="1787" x2="513.8" y2="1806" stroke="#000" stroke-width="6"/>
<line x1="709.4" y1="1787" x2="709.4" y2="1806" stroke="#000" stroke-width="6"/>
<line x1="905.3" y1="1787" x2="905.3" y2="1806" stroke="#000" stroke-width="6"/>
<line x1="1101.8" y1="1787" x2="1101.8" y2="1806" stroke="#000" stroke-width="6"/>
<line x1="1496.3" y1="1787" x2="1496.3" y2="1806" stroke="#000" stroke-width="6"/>
<line x1="1696.4" y1="1787" x2="1696.4" y2="1806" stroke="#000" stroke-width="6"/>
<line x1="1896.5" y1="1787" x2="1896.5" y2="1806" stroke="#000" stroke-width="6"/>
<line x1="2095.8" y1="1787" x2="2095.8" y2="1806" stroke="#000" stroke-width="6"/>
<text x="144.80" y="133.98" font-size="88.81" letter-spacing="3.960" transform="translate(144.80,0) scale(1.0569,1) translate(-144.80,0)"><tspan>A</tspan></text>
<text x="543.20" y="142.72" font-size="72.64" letter-spacing="-2.138"><tspan>Pd 3d</tspan></text>
<text x="1342.00" y="133.81" font-size="89.87" letter-spacing="0.900" transform="translate(1342.00,0) scale(0.9931,1) translate(-1342.00,0)"><tspan>B</tspan></text>
<text x="1686.00" y="140.72" font-size="67.60" letter-spacing="0.600"><tspan>C 1s</tspan></text>
<text x="2053.00" y="167.47" font-size="64.81" letter-spacing="1.597"><tspan>284.8</tspan></text>
<text x="2081.00" y="260.51" font-size="64.27" letter-spacing="1.530"><tspan>C-C</tspan></text>
<text x="418.00" y="275.83" font-size="44.95" letter-spacing="-0.832"><tspan>3d</tspan><tspan dy="12.90">3/2</tspan></text>
<text x="958.80" y="157.43" font-size="45.81" letter-spacing="-1.530"><tspan>3d</tspan><tspan dy="12.50">5/2</tspan></text>
<text x="426.00" y="517.00" font-size="43.49" letter-spacing="-0.450"><tspan>340.3</tspan></text>
<text x="938.60" y="486.90" font-size="44.08" letter-spacing="-0.382"><tspan>335.0</tspan></text>
<text x="426.00" y="1120.50" font-size="42.72" letter-spacing="0.180"><tspan>340.3</tspan></text>
<text x="941.00" y="1099.50" font-size="43.40" letter-spacing="-0.720"><tspan>335.0</tspan></text>
<text x="421.00" y="1593.50" font-size="43.40" letter-spacing="-0.675"><tspan>340.6</tspan></text>
<text x="939.00" y="1554.50" font-size="42.72" letter-spacing="0.023"><tspan>335.4</tspan></text>
<text x="130.40" y="617.12" font-size="61.98" letter-spacing="-1.350"><tspan>Pd/SiC</tspan></text>
<text x="127.80" y="1211.92" font-size="63.90" letter-spacing="-1.950"><tspan>Pd/TiO</tspan><tspan dy="14.20" font-size="44.36">2</tspan></text>
<text x="130.20" y="1564.32" font-size="62.30" letter-spacing="-1.736"><tspan>Pd/Al</tspan><tspan dy="14.20" font-size="43.25">2</tspan><tspan dy="-14.20">O</tspan><tspan dy="14.20" font-size="43.25">3</tspan></text>
<text x="1318.00" y="1061.67" font-size="65.73" letter-spacing="0.720"><tspan>Pd/SiC</tspan></text>
<text x="1314.00" y="1328.87" font-size="65.03" letter-spacing="1.710"><tspan>Pd/TiO</tspan><tspan dy="16.40" font-size="45.06">2</tspan></text>
<text x="1313.60" y="1638.67" font-size="64.52" letter-spacing="1.260"><tspan>Pd/Al</tspan><tspan dy="16.40" font-size="44.71">2</tspan><tspan dy="-16.40">O</tspan><tspan dy="16.40" font-size="44.71">3</tspan></text>
<text x="303.00" y="1976.31" font-size="65.07" letter-spacing="-0.065"><tspan>Bending Energy (eV)</tspan></text>
<text x="1447.40" y="1964.71" font-size="65.07" letter-spacing="0.260"><tspan>Bending Energy (eV)</tspan></text>
<text x="69.00" y="1882.62" font-size="64.52" letter-spacing="-0.450"><tspan>344</tspan></text>
<text x="265.00" y="1882.62" font-size="64.52" letter-spacing="0.450"><tspan>342</tspan></text>
<text x="458.80" y="1882.62" font-size="64.52" letter-spacing="0.450"><tspan>340</tspan></text>
<text x="655.60" y="1882.62" font-size="64.52" letter-spacing="0.000"><tspan>338</tspan></text>
<text x="851.20" y="1882.62" font-size="64.52" letter-spacing="0.450"><tspan>336</tspan></text>
<text x="1048.20" y="1882.62" font-size="64.52" letter-spacing="-0.900"><tspan>334</tspan></text>
<text x="1242.20" y="1880.27" font-size="65.20" letter-spacing="-0.450"><tspan>292</tspan></text>
<text x="1441.40" y="1880.27" font-size="65.20" letter-spacing="-0.900"><tspan>290</tspan></text>
<text x="1641.00" y="1880.27" font-size="65.20" letter-spacing="-0.900"><tspan>288</tspan></text>
<text x="1843.00" y="1880.27" font-size="65.20" letter-spacing="-0.450"><tspan>286</tspan></text>
<text x="2041.00" y="1880.27" font-size="65.20" letter-spacing="-1.800"><tspan>284</tspan></text>
<text x="2240.00" y="1880.27" font-size="65.20" letter-spacing="-0.450"><tspan>282</tspan></text>
<text transform="translate(72.60,921.00) rotate(-90)" x="0" y="0" font-size="68.70" letter-spacing="-1.300" text-anchor="middle">Intensity (a.u.)</text>
<line x1="2126.7" y1="270.4" x2="2041" y2="452" stroke="#000" stroke-width="1.7"/>
<polygon points="2034.6,464.5 2038.4,440.9 2052.6,445.9" fill="#000"/></svg></body></html>
